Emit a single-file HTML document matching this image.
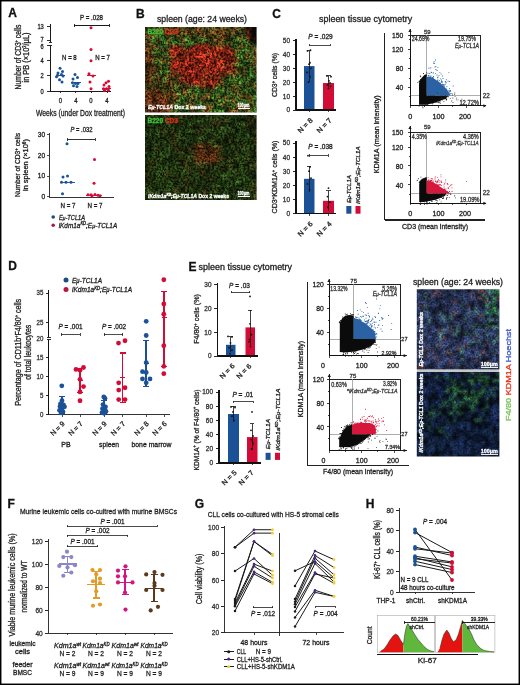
<!DOCTYPE html><html><head><meta charset="utf-8"><style>html,body{margin:0;padding:0;background:#fff;width:520px;height:685px;overflow:hidden}svg{display:block;will-change:transform;font-family:"Liberation Sans",sans-serif}.mg rect{width:4.2px;height:4.2px}</style></head><body><svg width="520" height="685" viewBox="0 0 520 685" font-family="'Liberation Sans', sans-serif"><defs>
<filter id="mblur" x="-5%" y="-5%" width="110%" height="110%" color-interpolation-filters="sRGB"><feGaussianBlur in="SourceGraphic" stdDeviation="1.2" result="b"/><feTurbulence type="fractalNoise" baseFrequency="0.48" numOctaves="2" seed="3" result="n"/><feColorMatrix in="n" type="matrix" values="3 0 0 0 -1  3 0 0 0 -1  3 0 0 0 -1  0 0 0 0 1" result="m"/><feComposite in="b" in2="m" operator="arithmetic" k1="1" k2="0.4" k3="0" k4="0"/></filter>
<filter id="mblur2" x="-5%" y="-5%" width="110%" height="110%" color-interpolation-filters="sRGB"><feGaussianBlur in="SourceGraphic" stdDeviation="1.3" result="b"/><feTurbulence type="fractalNoise" baseFrequency="0.55" numOctaves="2" seed="8" result="n"/><feColorMatrix in="n" type="matrix" values="2.4 0 0 0 -0.7  2.4 0 0 0 -0.7  2.4 0 0 0 -0.7  0 0 0 0 1" result="m"/><feComposite in="b" in2="m" operator="arithmetic" k1="0.7" k2="0.62" k3="0" k4="0"/></filter>
<clipPath id="clipB1"><rect x="145" y="27" width="111.6" height="85.5"/></clipPath>
<clipPath id="clipB2"><rect x="145" y="115" width="111.6" height="85"/></clipPath>
<clipPath id="mclip1"><rect x="145" y="27" width="111.6" height="85.5"/></clipPath><clipPath id="mclip2"><rect x="145" y="115" width="111.6" height="85"/></clipPath><clipPath id="mclip3"><rect x="416.8" y="289.3" width="82.6" height="80.2"/></clipPath><clipPath id="mclip4"><rect x="416.8" y="371.8" width="82.6" height="84.7"/></clipPath></defs><rect width="520" height="685" fill="#fff"/><text x="12.50" y="17.32" font-size="12" fill="#111" text-anchor="middle" font-weight="bold" stroke="#111" stroke-width="0.3">A</text>
<line x1="50.10" y1="24.20" x2="50.10" y2="42.40" stroke="#1a1a1a" stroke-width="1.0"  shape-rendering="crispEdges"/>
<line x1="50.10" y1="45.20" x2="50.10" y2="91.10" stroke="#1a1a1a" stroke-width="1.0"  shape-rendering="crispEdges"/>
<line x1="48.50" y1="42.40" x2="51.60" y2="42.40" stroke="#1a1a1a" stroke-width="0.9"  shape-rendering="crispEdges"/>
<line x1="48.50" y1="45.30" x2="51.60" y2="45.30" stroke="#1a1a1a" stroke-width="0.9"  shape-rendering="crispEdges"/>
<line x1="47.10" y1="26.50" x2="50.10" y2="26.50" stroke="#1a1a1a" stroke-width="0.9"  shape-rendering="crispEdges"/>
<text x="43.80" y="29.02" font-size="7" fill="#1e1e1e" text-anchor="end" textLength="6.38" lengthAdjust="spacingAndGlyphs" stroke="#1e1e1e" stroke-width="0.3">13</text>
<line x1="47.10" y1="40.30" x2="50.10" y2="40.30" stroke="#1a1a1a" stroke-width="0.9"  shape-rendering="crispEdges"/>
<text x="43.80" y="42.02" font-size="7" fill="#1e1e1e" text-anchor="end" textLength="3.19" lengthAdjust="spacingAndGlyphs" stroke="#1e1e1e" stroke-width="0.3">7</text>
<line x1="47.10" y1="45.60" x2="50.10" y2="45.60" stroke="#1a1a1a" stroke-width="0.9"  shape-rendering="crispEdges"/>
<text x="43.80" y="48.92" font-size="7" fill="#1e1e1e" text-anchor="end" textLength="3.19" lengthAdjust="spacingAndGlyphs" stroke="#1e1e1e" stroke-width="0.3">6</text>
<line x1="47.10" y1="60.77" x2="50.10" y2="60.77" stroke="#1a1a1a" stroke-width="0.9"  shape-rendering="crispEdges"/>
<text x="43.80" y="63.29" font-size="7" fill="#1e1e1e" text-anchor="end" textLength="3.19" lengthAdjust="spacingAndGlyphs" stroke="#1e1e1e" stroke-width="0.3">4</text>
<line x1="47.10" y1="75.93" x2="50.10" y2="75.93" stroke="#1a1a1a" stroke-width="0.9"  shape-rendering="crispEdges"/>
<text x="43.80" y="78.45" font-size="7" fill="#1e1e1e" text-anchor="end" textLength="3.19" lengthAdjust="spacingAndGlyphs" stroke="#1e1e1e" stroke-width="0.3">2</text>
<line x1="47.10" y1="91.10" x2="50.10" y2="91.10" stroke="#1a1a1a" stroke-width="0.9"  shape-rendering="crispEdges"/>
<text x="43.80" y="93.62" font-size="7" fill="#1e1e1e" text-anchor="end" textLength="3.19" lengthAdjust="spacingAndGlyphs" stroke="#1e1e1e" stroke-width="0.3">0</text>
<line x1="50.10" y1="91.10" x2="111.30" y2="91.10" stroke="#1a1a1a" stroke-width="1.0"  shape-rendering="crispEdges"/>
<line x1="60.30" y1="91.10" x2="60.30" y2="93.30" stroke="#1a1a1a" stroke-width="0.9"  shape-rendering="crispEdges"/>
<text x="60.30" y="103.12" font-size="7" fill="#1e1e1e" text-anchor="middle" textLength="3.31" lengthAdjust="spacingAndGlyphs" stroke="#1e1e1e" stroke-width="0.3">0</text>
<line x1="75.80" y1="91.10" x2="75.80" y2="93.30" stroke="#1a1a1a" stroke-width="0.9"  shape-rendering="crispEdges"/>
<text x="75.80" y="103.12" font-size="7" fill="#1e1e1e" text-anchor="middle" textLength="3.31" lengthAdjust="spacingAndGlyphs" stroke="#1e1e1e" stroke-width="0.3">4</text>
<line x1="91.00" y1="91.10" x2="91.00" y2="93.30" stroke="#1a1a1a" stroke-width="0.9"  shape-rendering="crispEdges"/>
<text x="91.00" y="103.12" font-size="7" fill="#1e1e1e" text-anchor="middle" textLength="3.31" lengthAdjust="spacingAndGlyphs" stroke="#1e1e1e" stroke-width="0.3">0</text>
<line x1="107.00" y1="91.10" x2="107.00" y2="93.30" stroke="#1a1a1a" stroke-width="0.9"  shape-rendering="crispEdges"/>
<text x="107.00" y="103.12" font-size="7" fill="#1e1e1e" text-anchor="middle" textLength="3.31" lengthAdjust="spacingAndGlyphs" stroke="#1e1e1e" stroke-width="0.3">4</text>
<text x="80.50" y="116.14" font-size="9" fill="#1e1e1e" text-anchor="middle" textLength="89" lengthAdjust="spacingAndGlyphs" stroke="#1e1e1e" stroke-width="0.3">Weeks (under Dox treatment)</text>
<text x="20.56" y="57.00" transform="rotate(-90 20.56 57.00)" font-size="8.5" fill="#1e1e1e" text-anchor="middle" textLength="65" lengthAdjust="spacingAndGlyphs" stroke="#1e1e1e" stroke-width="0.3">Number of CD3<tspan font-size="4.5" dy="-2.5">+</tspan><tspan dy="2.5"> cells</tspan></text>
<text x="28.56" y="57.50" transform="rotate(-90 28.56 57.50)" font-size="8.5" fill="#1e1e1e" text-anchor="middle" textLength="50" lengthAdjust="spacingAndGlyphs" stroke="#1e1e1e" stroke-width="0.3">in PB (×10<tspan font-size="4.5" dy="-2.5">3</tspan><tspan dy="2.5">/µL)</tspan></text>
<text x="91.50" y="19.65" font-size="6.8" fill="#1e1e1e" text-anchor="middle" textLength="23" lengthAdjust="spacingAndGlyphs" stroke="#1e1e1e" stroke-width="0.3">P = .028</text>
<line x1="74.10" y1="25.40" x2="109.20" y2="25.40" stroke="#1a1a1a" stroke-width="1.0"  shape-rendering="crispEdges"/>
<line x1="74.10" y1="23.80" x2="74.10" y2="27.00" stroke="#1a1a1a" stroke-width="0.9"  shape-rendering="crispEdges"/>
<line x1="109.20" y1="23.80" x2="109.20" y2="27.00" stroke="#1a1a1a" stroke-width="0.9"  shape-rendering="crispEdges"/>
<text x="69.40" y="60.05" font-size="6.8" fill="#1e1e1e" text-anchor="middle" textLength="14.7" lengthAdjust="spacingAndGlyphs" stroke="#1e1e1e" stroke-width="0.3">N = 8</text>
<text x="102.50" y="60.05" font-size="6.8" fill="#1e1e1e" text-anchor="middle" textLength="14.7" lengthAdjust="spacingAndGlyphs" stroke="#1e1e1e" stroke-width="0.3">N = 7</text>
<circle cx="57.50" cy="75.17" r="1.5" fill="#1b5297" />
<circle cx="60.00" cy="68.35" r="1.5" fill="#1b5297" />
<circle cx="62.50" cy="71.38" r="1.5" fill="#1b5297" />
<circle cx="58.00" cy="72.90" r="1.5" fill="#1b5297" />
<circle cx="61.50" cy="74.42" r="1.5" fill="#1b5297" />
<circle cx="56.50" cy="76.69" r="1.5" fill="#1b5297" />
<circle cx="63.00" cy="75.93" r="1.5" fill="#1b5297" />
<circle cx="59.50" cy="79.72" r="1.5" fill="#1b5297" />
<circle cx="62.00" cy="82.00" r="1.5" fill="#1b5297" />
<circle cx="73.00" cy="78.97" r="1.5" fill="#1b5297" />
<circle cx="75.00" cy="74.42" r="1.5" fill="#1b5297" />
<circle cx="77.50" cy="77.45" r="1.5" fill="#1b5297" />
<circle cx="72.50" cy="82.76" r="1.5" fill="#1b5297" />
<circle cx="75.50" cy="83.52" r="1.5" fill="#1b5297" />
<circle cx="78.00" cy="83.52" r="1.5" fill="#1b5297" />
<circle cx="73.50" cy="85.79" r="1.5" fill="#1b5297" />
<circle cx="77.00" cy="86.55" r="1.5" fill="#1b5297" />
<circle cx="91.00" cy="27.65" r="1.5" fill="#d20c36" />
<circle cx="91.00" cy="49.39" r="1.5" fill="#d20c36" />
<circle cx="91.00" cy="60.77" r="1.5" fill="#d20c36" />
<circle cx="89.00" cy="73.66" r="1.5" fill="#d20c36" />
<circle cx="93.00" cy="75.93" r="1.5" fill="#d20c36" />
<circle cx="90.00" cy="82.00" r="1.5" fill="#d20c36" />
<circle cx="91.00" cy="88.82" r="1.5" fill="#d20c36" />
<circle cx="108.50" cy="81.24" r="1.5" fill="#d20c36" />
<circle cx="106.00" cy="82.76" r="1.5" fill="#d20c36" />
<circle cx="104.00" cy="85.03" r="1.5" fill="#d20c36" />
<circle cx="109.00" cy="86.55" r="1.5" fill="#d20c36" />
<circle cx="103.50" cy="88.82" r="1.5" fill="#d20c36" />
<circle cx="106.50" cy="88.82" r="1.5" fill="#d20c36" />
<circle cx="104.50" cy="90.34" r="1.5" fill="#d20c36" />
<circle cx="108.50" cy="90.34" r="1.5" fill="#d20c36" />
<line x1="55.50" y1="75.55" x2="65.00" y2="75.55" stroke="#1b5297" stroke-width="1.0"  shape-rendering="crispEdges"/>
<line x1="70.50" y1="82.76" x2="80.50" y2="82.76" stroke="#1b5297" stroke-width="1.0"  shape-rendering="crispEdges"/>
<line x1="87.00" y1="75.55" x2="96.30" y2="75.55" stroke="#d20c36" stroke-width="1.0"  shape-rendering="crispEdges"/>
<line x1="102.00" y1="88.45" x2="111.00" y2="88.45" stroke="#d20c36" stroke-width="1.0"  shape-rendering="crispEdges"/>
<line x1="49.10" y1="132.50" x2="49.10" y2="197.00" stroke="#1e1e1e" stroke-width="0.9"  shape-rendering="crispEdges"/>
<line x1="47.10" y1="134.50" x2="49.10" y2="134.50" stroke="#1e1e1e" stroke-width="0.8"  shape-rendering="crispEdges"/>
<text x="45.10" y="136.84" font-size="6.5" fill="#1e1e1e" text-anchor="end" stroke="#1e1e1e" stroke-width="0.3">30</text>
<line x1="47.10" y1="155.27" x2="49.10" y2="155.27" stroke="#1e1e1e" stroke-width="0.8"  shape-rendering="crispEdges"/>
<text x="45.10" y="157.61" font-size="6.5" fill="#1e1e1e" text-anchor="end" stroke="#1e1e1e" stroke-width="0.3">20</text>
<line x1="47.10" y1="176.03" x2="49.10" y2="176.03" stroke="#1e1e1e" stroke-width="0.8"  shape-rendering="crispEdges"/>
<text x="45.10" y="178.37" font-size="6.5" fill="#1e1e1e" text-anchor="end" stroke="#1e1e1e" stroke-width="0.3">10</text>
<line x1="47.10" y1="196.80" x2="49.10" y2="196.80" stroke="#1e1e1e" stroke-width="0.8"  shape-rendering="crispEdges"/>
<text x="45.10" y="199.14" font-size="6.5" fill="#1e1e1e" text-anchor="end" stroke="#1e1e1e" stroke-width="0.3">0</text>
<line x1="49.10" y1="197.00" x2="114.00" y2="197.00" stroke="#1e1e1e" stroke-width="0.9"  shape-rendering="crispEdges"/>
<text x="81.50" y="131.84" font-size="6.5" fill="#1e1e1e" text-anchor="middle" textLength="22" lengthAdjust="spacingAndGlyphs" stroke="#1e1e1e" stroke-width="0.3"><tspan font-style="italic">P</tspan> = .032</text>
<line x1="67.00" y1="139.50" x2="95.00" y2="139.50" stroke="#1e1e1e" stroke-width="0.9"  shape-rendering="crispEdges"/>
<line x1="67.00" y1="138.00" x2="67.00" y2="141.00" stroke="#1e1e1e" stroke-width="0.8"  shape-rendering="crispEdges"/>
<line x1="95.00" y1="138.00" x2="95.00" y2="141.00" stroke="#1e1e1e" stroke-width="0.8"  shape-rendering="crispEdges"/>
<text x="68.00" y="208.34" font-size="6.5" fill="#1e1e1e" text-anchor="middle" textLength="15" lengthAdjust="spacingAndGlyphs" stroke="#1e1e1e" stroke-width="0.3">N = 7</text>
<text x="95.00" y="208.34" font-size="6.5" fill="#1e1e1e" text-anchor="middle" textLength="15" lengthAdjust="spacingAndGlyphs" stroke="#1e1e1e" stroke-width="0.3">N = 7</text>
<text x="20.02" y="165.00" transform="rotate(-90 20.02 165.00)" font-size="7" fill="#1e1e1e" text-anchor="middle" textLength="64" lengthAdjust="spacingAndGlyphs" stroke="#1e1e1e" stroke-width="0.3">Number of CD3<tspan font-size="4.5" dy="-2.5">+</tspan><tspan dy="2.5"> cells</tspan></text>
<text x="28.02" y="165.00" transform="rotate(-90 28.02 165.00)" font-size="7" fill="#1e1e1e" text-anchor="middle" textLength="52" lengthAdjust="spacingAndGlyphs" stroke="#1e1e1e" stroke-width="0.3">in spleen (×10<tspan font-size="4.5" dy="-2.5">6</tspan><tspan dy="2.5">)</tspan></text>
<circle cx="67.00" cy="143.84" r="1.5" fill="#1b5297" />
<circle cx="63.00" cy="177.07" r="1.5" fill="#1b5297" />
<circle cx="67.50" cy="176.03" r="1.5" fill="#1b5297" />
<circle cx="61.50" cy="182.26" r="1.5" fill="#1b5297" />
<circle cx="66.00" cy="182.26" r="1.5" fill="#1b5297" />
<circle cx="71.00" cy="182.26" r="1.5" fill="#1b5297" />
<circle cx="62.50" cy="193.69" r="1.5" fill="#1b5297" />
<circle cx="94.50" cy="159.42" r="1.5" fill="#d20c36" />
<circle cx="94.00" cy="183.30" r="1.5" fill="#d20c36" />
<circle cx="88.00" cy="194.72" r="1.5" fill="#d20c36" />
<circle cx="91.00" cy="194.72" r="1.5" fill="#d20c36" />
<circle cx="95.00" cy="194.52" r="1.5" fill="#d20c36" />
<circle cx="98.00" cy="195.14" r="1.5" fill="#d20c36" />
<circle cx="100.00" cy="195.76" r="1.5" fill="#d20c36" />
<circle cx="92.00" cy="195.97" r="1.5" fill="#d20c36" />
<line x1="59.50" y1="182.26" x2="75.00" y2="182.26" stroke="#1b5297" stroke-width="0.9"  shape-rendering="crispEdges"/>
<line x1="86.00" y1="195.14" x2="102.00" y2="195.14" stroke="#d20c36" stroke-width="0.9"  shape-rendering="crispEdges"/>
<circle cx="53.20" cy="217.00" r="1.8" fill="#1a4d80" />
<text x="59.00" y="219.52" font-size="7" fill="#1e1e1e" text-anchor="start" font-style="italic" textLength="26" lengthAdjust="spacingAndGlyphs" stroke="#1e1e1e" stroke-width="0.3">E<tspan font-size="6">μ</tspan>-TCL1A</text>
<circle cx="53.20" cy="225.20" r="1.8" fill="#b01840" />
<text x="58.70" y="227.72" font-size="7" fill="#1e1e1e" text-anchor="start" font-style="italic" textLength="58.5" lengthAdjust="spacingAndGlyphs" stroke="#1e1e1e" stroke-width="0.3">iKdm1a<tspan font-size="4.5" dy="-2.4">KD</tspan><tspan dy="2.4">;E</tspan><tspan font-size="6">μ</tspan>-TCL1A</text>
<text x="140.40" y="17.72" font-size="12" fill="#111" text-anchor="middle" font-weight="bold" stroke="#111" stroke-width="0.3">B</text>
<text x="202.00" y="22.24" font-size="9" fill="#1e1e1e" text-anchor="middle" textLength="90" lengthAdjust="spacingAndGlyphs" stroke="#1e1e1e" stroke-width="0.3">spleen (age: 24 weeks)</text>
<g clip-path="url(#mclip1)"><g filter="url(#mblur)" class="mg"><rect x="141.4" y="23.4" width="4.2" height="4.2" fill="#274817"/><rect x="145.0" y="23.4" width="4.2" height="4.2" fill="#33591d"/><rect x="148.6" y="23.4" width="4.2" height="4.2" fill="#764f1f"/><rect x="152.2" y="23.4" width="4.2" height="4.2" fill="#111f0a"/><rect x="155.8" y="23.4" width="4.2" height="4.2" fill="#4a3314"/><rect x="159.4" y="23.4" width="4.2" height="4.2" fill="#4f9330"/><rect x="163.0" y="23.4" width="4.2" height="4.2" fill="#4a882c"/><rect x="166.6" y="23.4" width="4.2" height="4.2" fill="#714e1f"/><rect x="170.2" y="23.4" width="4.2" height="4.2" fill="#223d14"/><rect x="173.8" y="23.4" width="4.2" height="4.2" fill="#3e6a23"/><rect x="177.4" y="23.4" width="4.2" height="4.2" fill="#7d5321"/><rect x="181.0" y="23.4" width="4.2" height="4.2" fill="#4d7427"/><rect x="184.6" y="23.4" width="4.2" height="4.2" fill="#4c3113"/><rect x="188.2" y="23.4" width="4.2" height="4.2" fill="#577728"/><rect x="191.8" y="23.4" width="4.2" height="4.2" fill="#324116"/><rect x="195.4" y="23.4" width="4.2" height="4.2" fill="#333f16"/><rect x="199.0" y="23.4" width="4.2" height="4.2" fill="#252d0f"/><rect x="202.6" y="23.4" width="4.2" height="4.2" fill="#242b0f"/><rect x="206.2" y="23.4" width="4.2" height="4.2" fill="#8d5423"/><rect x="209.8" y="23.4" width="4.2" height="4.2" fill="#4b2d12"/><rect x="213.4" y="23.4" width="4.2" height="4.2" fill="#63882e"/><rect x="217.0" y="23.4" width="4.2" height="4.2" fill="#6f471c"/><rect x="220.6" y="23.4" width="4.2" height="4.2" fill="#3f5b1f"/><rect x="224.2" y="23.4" width="4.2" height="4.2" fill="#364d1a"/><rect x="227.8" y="23.4" width="4.2" height="4.2" fill="#263712"/><rect x="231.4" y="23.4" width="4.2" height="4.2" fill="#2a4015"/><rect x="235.0" y="23.4" width="4.2" height="4.2" fill="#304c19"/><rect x="238.6" y="23.4" width="4.2" height="4.2" fill="#784f20"/><rect x="242.2" y="23.4" width="4.2" height="4.2" fill="#111c0a"/><rect x="245.8" y="23.4" width="4.2" height="4.2" fill="#0b0b05"/><rect x="249.4" y="23.4" width="4.2" height="4.2" fill="#642914"/><rect x="253.0" y="23.4" width="4.2" height="4.2" fill="#0b0b05"/><rect x="256.6" y="23.4" width="4.2" height="4.2" fill="#3b180b"/><rect x="141.4" y="27.0" width="4.2" height="4.2" fill="#294c18"/><rect x="145.0" y="27.0" width="4.2" height="4.2" fill="#131d09"/><rect x="148.6" y="27.0" width="4.2" height="4.2" fill="#5b3b17"/><rect x="152.2" y="27.0" width="4.2" height="4.2" fill="#31581d"/><rect x="155.8" y="27.0" width="4.2" height="4.2" fill="#8f6126"/><rect x="159.4" y="27.0" width="4.2" height="4.2" fill="#714c1e"/><rect x="163.0" y="27.0" width="4.2" height="4.2" fill="#825622"/><rect x="166.6" y="27.0" width="4.2" height="4.2" fill="#324b19"/><rect x="170.2" y="27.0" width="4.2" height="4.2" fill="#273512"/><rect x="173.8" y="27.0" width="4.2" height="4.2" fill="#553415"/><rect x="177.4" y="27.0" width="4.2" height="4.2" fill="#73441c"/><rect x="181.0" y="27.0" width="4.2" height="4.2" fill="#373c15"/><rect x="184.6" y="27.0" width="4.2" height="4.2" fill="#76421c"/><rect x="188.2" y="27.0" width="4.2" height="4.2" fill="#141407"/><rect x="191.8" y="27.0" width="4.2" height="4.2" fill="#27250d"/><rect x="195.4" y="27.0" width="4.2" height="4.2" fill="#a15825"/><rect x="199.0" y="27.0" width="4.2" height="4.2" fill="#504c1b"/><rect x="202.6" y="27.0" width="4.2" height="4.2" fill="#5d5820"/><rect x="206.2" y="27.0" width="4.2" height="4.2" fill="#56521e"/><rect x="209.8" y="27.0" width="4.2" height="4.2" fill="#7a742a"/><rect x="213.4" y="27.0" width="4.2" height="4.2" fill="#4f4c1c"/><rect x="217.0" y="27.0" width="4.2" height="4.2" fill="#542e13"/><rect x="220.6" y="27.0" width="4.2" height="4.2" fill="#73742a"/><rect x="224.2" y="27.0" width="4.2" height="4.2" fill="#6d3d1a"/><rect x="227.8" y="27.0" width="4.2" height="4.2" fill="#414519"/><rect x="231.4" y="27.0" width="4.2" height="4.2" fill="#292f10"/><rect x="235.0" y="27.0" width="4.2" height="4.2" fill="#814d20"/><rect x="238.6" y="27.0" width="4.2" height="4.2" fill="#516c25"/><rect x="242.2" y="27.0" width="4.2" height="4.2" fill="#6b3618"/><rect x="245.8" y="27.0" width="4.2" height="4.2" fill="#090904"/><rect x="249.4" y="27.0" width="4.2" height="4.2" fill="#2c1208"/><rect x="253.0" y="27.0" width="4.2" height="4.2" fill="#050502"/><rect x="256.6" y="27.0" width="4.2" height="4.2" fill="#060603"/><rect x="141.4" y="30.6" width="4.2" height="4.2" fill="#6f4c1e"/><rect x="145.0" y="30.6" width="4.2" height="4.2" fill="#553515"/><rect x="148.6" y="30.6" width="4.2" height="4.2" fill="#364b19"/><rect x="152.2" y="30.6" width="4.2" height="4.2" fill="#573c17"/><rect x="155.8" y="30.6" width="4.2" height="4.2" fill="#855b24"/><rect x="159.4" y="30.6" width="4.2" height="4.2" fill="#416d24"/><rect x="163.0" y="30.6" width="4.2" height="4.2" fill="#5a3b18"/><rect x="166.6" y="30.6" width="4.2" height="4.2" fill="#905b25"/><rect x="170.2" y="30.6" width="4.2" height="4.2" fill="#354417"/><rect x="173.8" y="30.6" width="4.2" height="4.2" fill="#7f4b1f"/><rect x="177.4" y="30.6" width="4.2" height="4.2" fill="#553114"/><rect x="181.0" y="30.6" width="4.2" height="4.2" fill="#6a7228"/><rect x="184.6" y="30.6" width="4.2" height="4.2" fill="#935322"/><rect x="188.2" y="30.6" width="4.2" height="4.2" fill="#3e3d16"/><rect x="191.8" y="30.6" width="4.2" height="4.2" fill="#746f28"/><rect x="195.4" y="30.6" width="4.2" height="4.2" fill="#562f14"/><rect x="199.0" y="30.6" width="4.2" height="4.2" fill="#753f1b"/><rect x="202.6" y="30.6" width="4.2" height="4.2" fill="#3c3914"/><rect x="206.2" y="30.6" width="4.2" height="4.2" fill="#4f2b12"/><rect x="209.8" y="30.6" width="4.2" height="4.2" fill="#6f6926"/><rect x="213.4" y="30.6" width="4.2" height="4.2" fill="#975223"/><rect x="217.0" y="30.6" width="4.2" height="4.2" fill="#4d2a12"/><rect x="220.6" y="30.6" width="4.2" height="4.2" fill="#8c4c20"/><rect x="224.2" y="30.6" width="4.2" height="4.2" fill="#3f3f17"/><rect x="227.8" y="30.6" width="4.2" height="4.2" fill="#424619"/><rect x="231.4" y="30.6" width="4.2" height="4.2" fill="#9d5b26"/><rect x="235.0" y="30.6" width="4.2" height="4.2" fill="#171c0a"/><rect x="238.6" y="30.6" width="4.2" height="4.2" fill="#364a19"/><rect x="242.2" y="30.6" width="4.2" height="4.2" fill="#17210b"/><rect x="245.8" y="30.6" width="4.2" height="4.2" fill="#722f16"/><rect x="249.4" y="30.6" width="4.2" height="4.2" fill="#060603"/><rect x="253.0" y="30.6" width="4.2" height="4.2" fill="#0a0a05"/><rect x="256.6" y="30.6" width="4.2" height="4.2" fill="#411a0c"/><rect x="141.4" y="34.2" width="4.2" height="4.2" fill="#573b17"/><rect x="145.0" y="34.2" width="4.2" height="4.2" fill="#76451c"/><rect x="148.6" y="34.2" width="4.2" height="4.2" fill="#875121"/><rect x="152.2" y="34.2" width="4.2" height="4.2" fill="#508f2f"/><rect x="155.8" y="34.2" width="4.2" height="4.2" fill="#2a4e19"/><rect x="159.4" y="34.2" width="4.2" height="4.2" fill="#4a892d"/><rect x="163.0" y="34.2" width="4.2" height="4.2" fill="#1f3812"/><rect x="166.6" y="34.2" width="4.2" height="4.2" fill="#473013"/><rect x="170.2" y="34.2" width="4.2" height="4.2" fill="#466f25"/><rect x="173.8" y="34.2" width="4.2" height="4.2" fill="#223210"/><rect x="177.4" y="34.2" width="4.2" height="4.2" fill="#7b4e1f"/><rect x="181.0" y="34.2" width="4.2" height="4.2" fill="#1c290e"/><rect x="184.6" y="34.2" width="4.2" height="4.2" fill="#425e20"/><rect x="188.2" y="34.2" width="4.2" height="4.2" fill="#5a3816"/><rect x="191.8" y="34.2" width="4.2" height="4.2" fill="#2a3612"/><rect x="195.4" y="34.2" width="4.2" height="4.2" fill="#364317"/><rect x="199.0" y="34.2" width="4.2" height="4.2" fill="#3d4a1a"/><rect x="202.6" y="34.2" width="4.2" height="4.2" fill="#995a25"/><rect x="206.2" y="34.2" width="4.2" height="4.2" fill="#313914"/><rect x="209.8" y="34.2" width="4.2" height="4.2" fill="#3c230e"/><rect x="213.4" y="34.2" width="4.2" height="4.2" fill="#3e4719"/><rect x="217.0" y="34.2" width="4.2" height="4.2" fill="#4d591f"/><rect x="220.6" y="34.2" width="4.2" height="4.2" fill="#834e20"/><rect x="224.2" y="34.2" width="4.2" height="4.2" fill="#37220e"/><rect x="227.8" y="34.2" width="4.2" height="4.2" fill="#492e12"/><rect x="231.4" y="34.2" width="4.2" height="4.2" fill="#36511b"/><rect x="235.0" y="34.2" width="4.2" height="4.2" fill="#274015"/><rect x="238.6" y="34.2" width="4.2" height="4.2" fill="#563a17"/><rect x="242.2" y="34.2" width="4.2" height="4.2" fill="#30541c"/><rect x="245.8" y="34.2" width="4.2" height="4.2" fill="#5f2b14"/><rect x="249.4" y="34.2" width="4.2" height="4.2" fill="#3e190c"/><rect x="253.0" y="34.2" width="4.2" height="4.2" fill="#050502"/><rect x="256.6" y="34.2" width="4.2" height="4.2" fill="#0a0a05"/><rect x="141.4" y="37.8" width="4.2" height="4.2" fill="#472e12"/><rect x="145.0" y="37.8" width="4.2" height="4.2" fill="#484619"/><rect x="148.6" y="37.8" width="4.2" height="4.2" fill="#636624"/><rect x="152.2" y="37.8" width="4.2" height="4.2" fill="#4d812a"/><rect x="155.8" y="37.8" width="4.2" height="4.2" fill="#593e18"/><rect x="159.4" y="37.8" width="4.2" height="4.2" fill="#34601f"/><rect x="163.0" y="37.8" width="4.2" height="4.2" fill="#325e1e"/><rect x="166.6" y="37.8" width="4.2" height="4.2" fill="#5f421a"/><rect x="170.2" y="37.8" width="4.2" height="4.2" fill="#396a22"/><rect x="173.8" y="37.8" width="4.2" height="4.2" fill="#223f14"/><rect x="177.4" y="37.8" width="4.2" height="4.2" fill="#1e3812"/><rect x="181.0" y="37.8" width="4.2" height="4.2" fill="#966929"/><rect x="184.6" y="37.8" width="4.2" height="4.2" fill="#529731"/><rect x="188.2" y="37.8" width="4.2" height="4.2" fill="#2e551c"/><rect x="191.8" y="37.8" width="4.2" height="4.2" fill="#16290d"/><rect x="195.4" y="37.8" width="4.2" height="4.2" fill="#274717"/><rect x="199.0" y="37.8" width="4.2" height="4.2" fill="#4e8c2e"/><rect x="202.6" y="37.8" width="4.2" height="4.2" fill="#4a842b"/><rect x="206.2" y="37.8" width="4.2" height="4.2" fill="#254215"/><rect x="209.8" y="37.8" width="4.2" height="4.2" fill="#33220d"/><rect x="213.4" y="37.8" width="4.2" height="4.2" fill="#865c24"/><rect x="217.0" y="37.8" width="4.2" height="4.2" fill="#473113"/><rect x="220.6" y="37.8" width="4.2" height="4.2" fill="#8f6227"/><rect x="224.2" y="37.8" width="4.2" height="4.2" fill="#11200a"/><rect x="227.8" y="37.8" width="4.2" height="4.2" fill="#15280d"/><rect x="231.4" y="37.8" width="4.2" height="4.2" fill="#254416"/><rect x="235.0" y="37.8" width="4.2" height="4.2" fill="#519731"/><rect x="238.6" y="37.8" width="4.2" height="4.2" fill="#865d25"/><rect x="242.2" y="37.8" width="4.2" height="4.2" fill="#4a8a2d"/><rect x="245.8" y="37.8" width="4.2" height="4.2" fill="#77441c"/><rect x="249.4" y="37.8" width="4.2" height="4.2" fill="#060603"/><rect x="253.0" y="37.8" width="4.2" height="4.2" fill="#311409"/><rect x="256.6" y="37.8" width="4.2" height="4.2" fill="#050502"/><rect x="141.4" y="41.4" width="4.2" height="4.2" fill="#573515"/><rect x="145.0" y="41.4" width="4.2" height="4.2" fill="#443715"/><rect x="148.6" y="41.4" width="4.2" height="4.2" fill="#6a5d22"/><rect x="152.2" y="41.4" width="4.2" height="4.2" fill="#36531c"/><rect x="155.8" y="41.4" width="4.2" height="4.2" fill="#2e551c"/><rect x="159.4" y="41.4" width="4.2" height="4.2" fill="#1e3712"/><rect x="163.0" y="41.4" width="4.2" height="4.2" fill="#4f9230"/><rect x="166.6" y="41.4" width="4.2" height="4.2" fill="#795421"/><rect x="170.2" y="41.4" width="4.2" height="4.2" fill="#437c28"/><rect x="173.8" y="41.4" width="4.2" height="4.2" fill="#447d29"/><rect x="177.4" y="41.4" width="4.2" height="4.2" fill="#3a6b23"/><rect x="181.0" y="41.4" width="4.2" height="4.2" fill="#946728"/><rect x="184.6" y="41.4" width="4.2" height="4.2" fill="#264717"/><rect x="188.2" y="41.4" width="4.2" height="4.2" fill="#559e33"/><rect x="191.8" y="41.4" width="4.2" height="4.2" fill="#3e6e24"/><rect x="195.4" y="41.4" width="4.2" height="4.2" fill="#543315"/><rect x="199.0" y="41.4" width="4.2" height="4.2" fill="#3c3c16"/><rect x="202.6" y="41.4" width="4.2" height="4.2" fill="#5f3115"/><rect x="206.2" y="41.4" width="4.2" height="4.2" fill="#3d3213"/><rect x="209.8" y="41.4" width="4.2" height="4.2" fill="#3c4518"/><rect x="213.4" y="41.4" width="4.2" height="4.2" fill="#1f3411"/><rect x="217.0" y="41.4" width="4.2" height="4.2" fill="#765220"/><rect x="220.6" y="41.4" width="4.2" height="4.2" fill="#533a17"/><rect x="224.2" y="41.4" width="4.2" height="4.2" fill="#456a24"/><rect x="227.8" y="41.4" width="4.2" height="4.2" fill="#4c3515"/><rect x="231.4" y="41.4" width="4.2" height="4.2" fill="#2c531b"/><rect x="235.0" y="41.4" width="4.2" height="4.2" fill="#12210b"/><rect x="238.6" y="41.4" width="4.2" height="4.2" fill="#396a22"/><rect x="242.2" y="41.4" width="4.2" height="4.2" fill="#203c13"/><rect x="245.8" y="41.4" width="4.2" height="4.2" fill="#4a892d"/><rect x="249.4" y="41.4" width="4.2" height="4.2" fill="#15230c"/><rect x="253.0" y="41.4" width="4.2" height="4.2" fill="#111809"/><rect x="256.6" y="41.4" width="4.2" height="4.2" fill="#0a0f05"/><rect x="141.4" y="45.0" width="4.2" height="4.2" fill="#75441c"/><rect x="145.0" y="45.0" width="4.2" height="4.2" fill="#4a3615"/><rect x="148.6" y="45.0" width="4.2" height="4.2" fill="#3c2f12"/><rect x="152.2" y="45.0" width="4.2" height="4.2" fill="#986027"/><rect x="155.8" y="45.0" width="4.2" height="4.2" fill="#4f3715"/><rect x="159.4" y="45.0" width="4.2" height="4.2" fill="#2b501a"/><rect x="163.0" y="45.0" width="4.2" height="4.2" fill="#2a4e19"/><rect x="166.6" y="45.0" width="4.2" height="4.2" fill="#182d0e"/><rect x="170.2" y="45.0" width="4.2" height="4.2" fill="#6f3418"/><rect x="173.8" y="45.0" width="4.2" height="4.2" fill="#bd331f"/><rect x="177.4" y="45.0" width="4.2" height="4.2" fill="#2f1109"/><rect x="181.0" y="45.0" width="4.2" height="4.2" fill="#4f3615"/><rect x="184.6" y="45.0" width="4.2" height="4.2" fill="#3d6d24"/><rect x="188.2" y="45.0" width="4.2" height="4.2" fill="#371d0c"/><rect x="191.8" y="45.0" width="4.2" height="4.2" fill="#8c2918"/><rect x="195.4" y="45.0" width="4.2" height="4.2" fill="#721e12"/><rect x="199.0" y="45.0" width="4.2" height="4.2" fill="#df3c24"/><rect x="202.6" y="45.0" width="4.2" height="4.2" fill="#a52c1b"/><rect x="206.2" y="45.0" width="4.2" height="4.2" fill="#7e2214"/><rect x="209.8" y="45.0" width="4.2" height="4.2" fill="#492611"/><rect x="213.4" y="45.0" width="4.2" height="4.2" fill="#bf4123"/><rect x="217.0" y="45.0" width="4.2" height="4.2" fill="#8f6328"/><rect x="220.6" y="45.0" width="4.2" height="4.2" fill="#875423"/><rect x="224.2" y="45.0" width="4.2" height="4.2" fill="#6e2514"/><rect x="227.8" y="45.0" width="4.2" height="4.2" fill="#4d2712"/><rect x="231.4" y="45.0" width="4.2" height="4.2" fill="#294c19"/><rect x="235.0" y="45.0" width="4.2" height="4.2" fill="#4e912f"/><rect x="238.6" y="45.0" width="4.2" height="4.2" fill="#66471c"/><rect x="242.2" y="45.0" width="4.2" height="4.2" fill="#60431a"/><rect x="245.8" y="45.0" width="4.2" height="4.2" fill="#417927"/><rect x="249.4" y="45.0" width="4.2" height="4.2" fill="#6f4a1d"/><rect x="253.0" y="45.0" width="4.2" height="4.2" fill="#366220"/><rect x="256.6" y="45.0" width="4.2" height="4.2" fill="#15270d"/><rect x="141.4" y="48.6" width="4.2" height="4.2" fill="#8a4d20"/><rect x="145.0" y="48.6" width="4.2" height="4.2" fill="#ac5325"/><rect x="148.6" y="48.6" width="4.2" height="4.2" fill="#523c17"/><rect x="152.2" y="48.6" width="4.2" height="4.2" fill="#516d25"/><rect x="155.8" y="48.6" width="4.2" height="4.2" fill="#46812a"/><rect x="159.4" y="48.6" width="4.2" height="4.2" fill="#5b3f19"/><rect x="163.0" y="48.6" width="4.2" height="4.2" fill="#203b13"/><rect x="166.6" y="48.6" width="4.2" height="4.2" fill="#7b6025"/><rect x="170.2" y="48.6" width="4.2" height="4.2" fill="#c63520"/><rect x="173.8" y="48.6" width="4.2" height="4.2" fill="#772013"/><rect x="177.4" y="48.6" width="4.2" height="4.2" fill="#c83621"/><rect x="181.0" y="48.6" width="4.2" height="4.2" fill="#743719"/><rect x="184.6" y="48.6" width="4.2" height="4.2" fill="#b0341e"/><rect x="188.2" y="48.6" width="4.2" height="4.2" fill="#792013"/><rect x="191.8" y="48.6" width="4.2" height="4.2" fill="#9e2a1a"/><rect x="195.4" y="48.6" width="4.2" height="4.2" fill="#49130c"/><rect x="199.0" y="48.6" width="4.2" height="4.2" fill="#661b10"/><rect x="202.6" y="48.6" width="4.2" height="4.2" fill="#641b10"/><rect x="206.2" y="48.6" width="4.2" height="4.2" fill="#c63520"/><rect x="209.8" y="48.6" width="4.2" height="4.2" fill="#6d1d12"/><rect x="213.4" y="48.6" width="4.2" height="4.2" fill="#882416"/><rect x="217.0" y="48.6" width="4.2" height="4.2" fill="#bc321e"/><rect x="220.6" y="48.6" width="4.2" height="4.2" fill="#9a2919"/><rect x="224.2" y="48.6" width="4.2" height="4.2" fill="#812315"/><rect x="227.8" y="48.6" width="4.2" height="4.2" fill="#9d2a19"/><rect x="231.4" y="48.6" width="4.2" height="4.2" fill="#4d2a12"/><rect x="235.0" y="48.6" width="4.2" height="4.2" fill="#7d5722"/><rect x="238.6" y="48.6" width="4.2" height="4.2" fill="#284b18"/><rect x="242.2" y="48.6" width="4.2" height="4.2" fill="#509430"/><rect x="245.8" y="48.6" width="4.2" height="4.2" fill="#386721"/><rect x="249.4" y="48.6" width="4.2" height="4.2" fill="#264617"/><rect x="253.0" y="48.6" width="4.2" height="4.2" fill="#825a23"/><rect x="256.6" y="48.6" width="4.2" height="4.2" fill="#509530"/><rect x="141.4" y="52.2" width="4.2" height="4.2" fill="#62551f"/><rect x="145.0" y="52.2" width="4.2" height="4.2" fill="#34250e"/><rect x="148.6" y="52.2" width="4.2" height="4.2" fill="#71501f"/><rect x="152.2" y="52.2" width="4.2" height="4.2" fill="#486021"/><rect x="155.8" y="52.2" width="4.2" height="4.2" fill="#294c19"/><rect x="159.4" y="52.2" width="4.2" height="4.2" fill="#213d14"/><rect x="163.0" y="52.2" width="4.2" height="4.2" fill="#3d7225"/><rect x="166.6" y="52.2" width="4.2" height="4.2" fill="#5e4e1f"/><rect x="170.2" y="52.2" width="4.2" height="4.2" fill="#dc3b24"/><rect x="173.8" y="52.2" width="4.2" height="4.2" fill="#b9321e"/><rect x="177.4" y="52.2" width="4.2" height="4.2" fill="#44120b"/><rect x="181.0" y="52.2" width="4.2" height="4.2" fill="#601a0f"/><rect x="184.6" y="52.2" width="4.2" height="4.2" fill="#753d1c"/><rect x="188.2" y="52.2" width="4.2" height="4.2" fill="#4a140c"/><rect x="191.8" y="52.2" width="4.2" height="4.2" fill="#b5311d"/><rect x="195.4" y="52.2" width="4.2" height="4.2" fill="#cd3721"/><rect x="199.0" y="52.2" width="4.2" height="4.2" fill="#d93a23"/><rect x="202.6" y="52.2" width="4.2" height="4.2" fill="#ba321e"/><rect x="206.2" y="52.2" width="4.2" height="4.2" fill="#964e24"/><rect x="209.8" y="52.2" width="4.2" height="4.2" fill="#d33922"/><rect x="213.4" y="52.2" width="4.2" height="4.2" fill="#c1341f"/><rect x="217.0" y="52.2" width="4.2" height="4.2" fill="#601a0f"/><rect x="220.6" y="52.2" width="4.2" height="4.2" fill="#4f150d"/><rect x="224.2" y="52.2" width="4.2" height="4.2" fill="#5f190f"/><rect x="227.8" y="52.2" width="4.2" height="4.2" fill="#ba321e"/><rect x="231.4" y="52.2" width="4.2" height="4.2" fill="#743418"/><rect x="235.0" y="52.2" width="4.2" height="4.2" fill="#2d541b"/><rect x="238.6" y="52.2" width="4.2" height="4.2" fill="#4c8d2e"/><rect x="242.2" y="52.2" width="4.2" height="4.2" fill="#16290d"/><rect x="245.8" y="52.2" width="4.2" height="4.2" fill="#7a5521"/><rect x="249.4" y="52.2" width="4.2" height="4.2" fill="#376621"/><rect x="253.0" y="52.2" width="4.2" height="4.2" fill="#765220"/><rect x="256.6" y="52.2" width="4.2" height="4.2" fill="#2e200c"/><rect x="141.4" y="55.8" width="4.2" height="4.2" fill="#974d21"/><rect x="145.0" y="55.8" width="4.2" height="4.2" fill="#753919"/><rect x="148.6" y="55.8" width="4.2" height="4.2" fill="#572a12"/><rect x="152.2" y="55.8" width="4.2" height="4.2" fill="#5b3817"/><rect x="155.8" y="55.8" width="4.2" height="4.2" fill="#35250e"/><rect x="159.4" y="55.8" width="4.2" height="4.2" fill="#284a18"/><rect x="163.0" y="55.8" width="4.2" height="4.2" fill="#37260f"/><rect x="166.6" y="55.8" width="4.2" height="4.2" fill="#3e5a1e"/><rect x="170.2" y="55.8" width="4.2" height="4.2" fill="#7f5122"/><rect x="173.8" y="55.8" width="4.2" height="4.2" fill="#772b16"/><rect x="177.4" y="55.8" width="4.2" height="4.2" fill="#381d0d"/><rect x="181.0" y="55.8" width="4.2" height="4.2" fill="#5e190f"/><rect x="184.6" y="55.8" width="4.2" height="4.2" fill="#902717"/><rect x="188.2" y="55.8" width="4.2" height="4.2" fill="#b2301d"/><rect x="191.8" y="55.8" width="4.2" height="4.2" fill="#59180e"/><rect x="195.4" y="55.8" width="4.2" height="4.2" fill="#b3301d"/><rect x="199.0" y="55.8" width="4.2" height="4.2" fill="#c83621"/><rect x="202.6" y="55.8" width="4.2" height="4.2" fill="#da3b24"/><rect x="206.2" y="55.8" width="4.2" height="4.2" fill="#741f13"/><rect x="209.8" y="55.8" width="4.2" height="4.2" fill="#bd331f"/><rect x="213.4" y="55.8" width="4.2" height="4.2" fill="#7c2114"/><rect x="217.0" y="55.8" width="4.2" height="4.2" fill="#884720"/><rect x="220.6" y="55.8" width="4.2" height="4.2" fill="#a82d1b"/><rect x="224.2" y="55.8" width="4.2" height="4.2" fill="#55170e"/><rect x="227.8" y="55.8" width="4.2" height="4.2" fill="#621a10"/><rect x="231.4" y="55.8" width="4.2" height="4.2" fill="#4d1a0e"/><rect x="235.0" y="55.8" width="4.2" height="4.2" fill="#916327"/><rect x="238.6" y="55.8" width="4.2" height="4.2" fill="#569f34"/><rect x="242.2" y="55.8" width="4.2" height="4.2" fill="#294c18"/><rect x="245.8" y="55.8" width="4.2" height="4.2" fill="#8f6427"/><rect x="249.4" y="55.8" width="4.2" height="4.2" fill="#2d531b"/><rect x="253.0" y="55.8" width="4.2" height="4.2" fill="#916528"/><rect x="256.6" y="55.8" width="4.2" height="4.2" fill="#182e0f"/><rect x="141.4" y="59.4" width="4.2" height="4.2" fill="#393112"/><rect x="145.0" y="59.4" width="4.2" height="4.2" fill="#533a17"/><rect x="148.6" y="59.4" width="4.2" height="4.2" fill="#a85124"/><rect x="152.2" y="59.4" width="4.2" height="4.2" fill="#546924"/><rect x="155.8" y="59.4" width="4.2" height="4.2" fill="#4a8a2d"/><rect x="159.4" y="59.4" width="4.2" height="4.2" fill="#936628"/><rect x="163.0" y="59.4" width="4.2" height="4.2" fill="#5e411a"/><rect x="166.6" y="59.4" width="4.2" height="4.2" fill="#666f28"/><rect x="170.2" y="59.4" width="4.2" height="4.2" fill="#5f2613"/><rect x="173.8" y="59.4" width="4.2" height="4.2" fill="#b12f1d"/><rect x="177.4" y="59.4" width="4.2" height="4.2" fill="#b02f1d"/><rect x="181.0" y="59.4" width="4.2" height="4.2" fill="#872416"/><rect x="184.6" y="59.4" width="4.2" height="4.2" fill="#b2301d"/><rect x="188.2" y="59.4" width="4.2" height="4.2" fill="#9a2919"/><rect x="191.8" y="59.4" width="4.2" height="4.2" fill="#a62d1b"/><rect x="195.4" y="59.4" width="4.2" height="4.2" fill="#3a0f09"/><rect x="199.0" y="59.4" width="4.2" height="4.2" fill="#611a10"/><rect x="202.6" y="59.4" width="4.2" height="4.2" fill="#d23822"/><rect x="206.2" y="59.4" width="4.2" height="4.2" fill="#d33922"/><rect x="209.8" y="59.4" width="4.2" height="4.2" fill="#741f13"/><rect x="213.4" y="59.4" width="4.2" height="4.2" fill="#51160d"/><rect x="217.0" y="59.4" width="4.2" height="4.2" fill="#d63923"/><rect x="220.6" y="59.4" width="4.2" height="4.2" fill="#a92d1b"/><rect x="224.2" y="59.4" width="4.2" height="4.2" fill="#5e190f"/><rect x="227.8" y="59.4" width="4.2" height="4.2" fill="#661b10"/><rect x="231.4" y="59.4" width="4.2" height="4.2" fill="#572111"/><rect x="235.0" y="59.4" width="4.2" height="4.2" fill="#774a1e"/><rect x="238.6" y="59.4" width="4.2" height="4.2" fill="#172b0e"/><rect x="242.2" y="59.4" width="4.2" height="4.2" fill="#284b18"/><rect x="245.8" y="59.4" width="4.2" height="4.2" fill="#335e1e"/><rect x="249.4" y="59.4" width="4.2" height="4.2" fill="#3b6e24"/><rect x="253.0" y="59.4" width="4.2" height="4.2" fill="#66471c"/><rect x="256.6" y="59.4" width="4.2" height="4.2" fill="#493214"/><rect x="141.4" y="63.0" width="4.2" height="4.2" fill="#945122"/><rect x="145.0" y="63.0" width="4.2" height="4.2" fill="#191207"/><rect x="148.6" y="63.0" width="4.2" height="4.2" fill="#221809"/><rect x="152.2" y="63.0" width="4.2" height="4.2" fill="#2a3211"/><rect x="155.8" y="63.0" width="4.2" height="4.2" fill="#172a0d"/><rect x="159.4" y="63.0" width="4.2" height="4.2" fill="#417827"/><rect x="163.0" y="63.0" width="4.2" height="4.2" fill="#294c18"/><rect x="166.6" y="63.0" width="4.2" height="4.2" fill="#46541e"/><rect x="170.2" y="63.0" width="4.2" height="4.2" fill="#9a2b19"/><rect x="173.8" y="63.0" width="4.2" height="4.2" fill="#c33420"/><rect x="177.4" y="63.0" width="4.2" height="4.2" fill="#ba321e"/><rect x="181.0" y="63.0" width="4.2" height="4.2" fill="#9e2a1a"/><rect x="184.6" y="63.0" width="4.2" height="4.2" fill="#b7311e"/><rect x="188.2" y="63.0" width="4.2" height="4.2" fill="#7c2114"/><rect x="191.8" y="63.0" width="4.2" height="4.2" fill="#59180e"/><rect x="195.4" y="63.0" width="4.2" height="4.2" fill="#b4301d"/><rect x="199.0" y="63.0" width="4.2" height="4.2" fill="#9a2919"/><rect x="202.6" y="63.0" width="4.2" height="4.2" fill="#6b1d11"/><rect x="206.2" y="63.0" width="4.2" height="4.2" fill="#e43d25"/><rect x="209.8" y="63.0" width="4.2" height="4.2" fill="#942818"/><rect x="213.4" y="63.0" width="4.2" height="4.2" fill="#691c11"/><rect x="217.0" y="63.0" width="4.2" height="4.2" fill="#c43520"/><rect x="220.6" y="63.0" width="4.2" height="4.2" fill="#964e24"/><rect x="224.2" y="63.0" width="4.2" height="4.2" fill="#793f1d"/><rect x="227.8" y="63.0" width="4.2" height="4.2" fill="#902717"/><rect x="231.4" y="63.0" width="4.2" height="4.2" fill="#9d5928"/><rect x="235.0" y="63.0" width="4.2" height="4.2" fill="#6b8930"/><rect x="238.6" y="63.0" width="4.2" height="4.2" fill="#447e29"/><rect x="242.2" y="63.0" width="4.2" height="4.2" fill="#2d531b"/><rect x="245.8" y="63.0" width="4.2" height="4.2" fill="#182c0e"/><rect x="249.4" y="63.0" width="4.2" height="4.2" fill="#493314"/><rect x="253.0" y="63.0" width="4.2" height="4.2" fill="#825a23"/><rect x="256.6" y="63.0" width="4.2" height="4.2" fill="#3f7426"/><rect x="141.4" y="66.6" width="4.2" height="4.2" fill="#2e3111"/><rect x="145.0" y="66.6" width="4.2" height="4.2" fill="#453113"/><rect x="148.6" y="66.6" width="4.2" height="4.2" fill="#493414"/><rect x="152.2" y="66.6" width="4.2" height="4.2" fill="#895021"/><rect x="155.8" y="66.6" width="4.2" height="4.2" fill="#3e2b11"/><rect x="159.4" y="66.6" width="4.2" height="4.2" fill="#5c4019"/><rect x="163.0" y="66.6" width="4.2" height="4.2" fill="#294c18"/><rect x="166.6" y="66.6" width="4.2" height="4.2" fill="#2d4617"/><rect x="170.2" y="66.6" width="4.2" height="4.2" fill="#7e2315"/><rect x="173.8" y="66.6" width="4.2" height="4.2" fill="#882416"/><rect x="177.4" y="66.6" width="4.2" height="4.2" fill="#7b2114"/><rect x="181.0" y="66.6" width="4.2" height="4.2" fill="#9b2a19"/><rect x="184.6" y="66.6" width="4.2" height="4.2" fill="#46130b"/><rect x="188.2" y="66.6" width="4.2" height="4.2" fill="#741f13"/><rect x="191.8" y="66.6" width="4.2" height="4.2" fill="#731f13"/><rect x="195.4" y="66.6" width="4.2" height="4.2" fill="#7a2114"/><rect x="199.0" y="66.6" width="4.2" height="4.2" fill="#b9321e"/><rect x="202.6" y="66.6" width="4.2" height="4.2" fill="#631a10"/><rect x="206.2" y="66.6" width="4.2" height="4.2" fill="#a32c1a"/><rect x="209.8" y="66.6" width="4.2" height="4.2" fill="#5b180f"/><rect x="213.4" y="66.6" width="4.2" height="4.2" fill="#ba321e"/><rect x="217.0" y="66.6" width="4.2" height="4.2" fill="#d03822"/><rect x="220.6" y="66.6" width="4.2" height="4.2" fill="#da3b23"/><rect x="224.2" y="66.6" width="4.2" height="4.2" fill="#671c11"/><rect x="227.8" y="66.6" width="4.2" height="4.2" fill="#872416"/><rect x="231.4" y="66.6" width="4.2" height="4.2" fill="#511b0e"/><rect x="235.0" y="66.6" width="4.2" height="4.2" fill="#422b11"/><rect x="238.6" y="66.6" width="4.2" height="4.2" fill="#15260c"/><rect x="242.2" y="66.6" width="4.2" height="4.2" fill="#573c18"/><rect x="245.8" y="66.6" width="4.2" height="4.2" fill="#1d3511"/><rect x="249.4" y="66.6" width="4.2" height="4.2" fill="#407727"/><rect x="253.0" y="66.6" width="4.2" height="4.2" fill="#2d531b"/><rect x="256.6" y="66.6" width="4.2" height="4.2" fill="#543b17"/><rect x="141.4" y="70.2" width="4.2" height="4.2" fill="#686d27"/><rect x="145.0" y="70.2" width="4.2" height="4.2" fill="#31230d"/><rect x="148.6" y="70.2" width="4.2" height="4.2" fill="#713718"/><rect x="152.2" y="70.2" width="4.2" height="4.2" fill="#4d2e13"/><rect x="155.8" y="70.2" width="4.2" height="4.2" fill="#234215"/><rect x="159.4" y="70.2" width="4.2" height="4.2" fill="#4d8e2e"/><rect x="163.0" y="70.2" width="4.2" height="4.2" fill="#264717"/><rect x="166.6" y="70.2" width="4.2" height="4.2" fill="#51912f"/><rect x="170.2" y="70.2" width="4.2" height="4.2" fill="#7e361a"/><rect x="173.8" y="70.2" width="4.2" height="4.2" fill="#711e12"/><rect x="177.4" y="70.2" width="4.2" height="4.2" fill="#8e4a22"/><rect x="181.0" y="70.2" width="4.2" height="4.2" fill="#9b2a19"/><rect x="184.6" y="70.2" width="4.2" height="4.2" fill="#7e2214"/><rect x="188.2" y="70.2" width="4.2" height="4.2" fill="#bf331f"/><rect x="191.8" y="70.2" width="4.2" height="4.2" fill="#df3c24"/><rect x="195.4" y="70.2" width="4.2" height="4.2" fill="#812215"/><rect x="199.0" y="70.2" width="4.2" height="4.2" fill="#4b140c"/><rect x="202.6" y="70.2" width="4.2" height="4.2" fill="#9b5125"/><rect x="206.2" y="70.2" width="4.2" height="4.2" fill="#ae2f1c"/><rect x="209.8" y="70.2" width="4.2" height="4.2" fill="#a32c1a"/><rect x="213.4" y="70.2" width="4.2" height="4.2" fill="#922718"/><rect x="217.0" y="70.2" width="4.2" height="4.2" fill="#864620"/><rect x="220.6" y="70.2" width="4.2" height="4.2" fill="#621a10"/><rect x="224.2" y="70.2" width="4.2" height="4.2" fill="#892516"/><rect x="227.8" y="70.2" width="4.2" height="4.2" fill="#9e5426"/><rect x="231.4" y="70.2" width="4.2" height="4.2" fill="#8b471f"/><rect x="235.0" y="70.2" width="4.2" height="4.2" fill="#946728"/><rect x="238.6" y="70.2" width="4.2" height="4.2" fill="#192e0f"/><rect x="242.2" y="70.2" width="4.2" height="4.2" fill="#4c3515"/><rect x="245.8" y="70.2" width="4.2" height="4.2" fill="#2b501a"/><rect x="249.4" y="70.2" width="4.2" height="4.2" fill="#2d541b"/><rect x="253.0" y="70.2" width="4.2" height="4.2" fill="#513816"/><rect x="256.6" y="70.2" width="4.2" height="4.2" fill="#192f0f"/><rect x="141.4" y="73.8" width="4.2" height="4.2" fill="#391f0d"/><rect x="145.0" y="73.8" width="4.2" height="4.2" fill="#4b2410"/><rect x="148.6" y="73.8" width="4.2" height="4.2" fill="#5b421a"/><rect x="152.2" y="73.8" width="4.2" height="4.2" fill="#5b7628"/><rect x="155.8" y="73.8" width="4.2" height="4.2" fill="#825b24"/><rect x="159.4" y="73.8" width="4.2" height="4.2" fill="#182c0e"/><rect x="163.0" y="73.8" width="4.2" height="4.2" fill="#432e12"/><rect x="166.6" y="73.8" width="4.2" height="4.2" fill="#6d4c1e"/><rect x="170.2" y="73.8" width="4.2" height="4.2" fill="#79481e"/><rect x="173.8" y="73.8" width="4.2" height="4.2" fill="#4a3014"/><rect x="177.4" y="73.8" width="4.2" height="4.2" fill="#442310"/><rect x="181.0" y="73.8" width="4.2" height="4.2" fill="#472511"/><rect x="184.6" y="73.8" width="4.2" height="4.2" fill="#a22c1a"/><rect x="188.2" y="73.8" width="4.2" height="4.2" fill="#54160d"/><rect x="191.8" y="73.8" width="4.2" height="4.2" fill="#b2301d"/><rect x="195.4" y="73.8" width="4.2" height="4.2" fill="#340e08"/><rect x="199.0" y="73.8" width="4.2" height="4.2" fill="#c2341f"/><rect x="202.6" y="73.8" width="4.2" height="4.2" fill="#d23822"/><rect x="206.2" y="73.8" width="4.2" height="4.2" fill="#812315"/><rect x="209.8" y="73.8" width="4.2" height="4.2" fill="#683619"/><rect x="213.4" y="73.8" width="4.2" height="4.2" fill="#792014"/><rect x="217.0" y="73.8" width="4.2" height="4.2" fill="#661b10"/><rect x="220.6" y="73.8" width="4.2" height="4.2" fill="#5b3016"/><rect x="224.2" y="73.8" width="4.2" height="4.2" fill="#3e240f"/><rect x="227.8" y="73.8" width="4.2" height="4.2" fill="#344f1a"/><rect x="231.4" y="73.8" width="4.2" height="4.2" fill="#9c6d2b"/><rect x="235.0" y="73.8" width="4.2" height="4.2" fill="#1c3511"/><rect x="238.6" y="73.8" width="4.2" height="4.2" fill="#366521"/><rect x="242.2" y="73.8" width="4.2" height="4.2" fill="#523916"/><rect x="245.8" y="73.8" width="4.2" height="4.2" fill="#315a1d"/><rect x="249.4" y="73.8" width="4.2" height="4.2" fill="#49882c"/><rect x="253.0" y="73.8" width="4.2" height="4.2" fill="#386722"/><rect x="256.6" y="73.8" width="4.2" height="4.2" fill="#376721"/><rect x="141.4" y="77.4" width="4.2" height="4.2" fill="#884b20"/><rect x="145.0" y="77.4" width="4.2" height="4.2" fill="#34250e"/><rect x="148.6" y="77.4" width="4.2" height="4.2" fill="#944a20"/><rect x="152.2" y="77.4" width="4.2" height="4.2" fill="#344918"/><rect x="155.8" y="77.4" width="4.2" height="4.2" fill="#422e12"/><rect x="159.4" y="77.4" width="4.2" height="4.2" fill="#483213"/><rect x="163.0" y="77.4" width="4.2" height="4.2" fill="#559e33"/><rect x="166.6" y="77.4" width="4.2" height="4.2" fill="#8f6327"/><rect x="170.2" y="77.4" width="4.2" height="4.2" fill="#11200a"/><rect x="173.8" y="77.4" width="4.2" height="4.2" fill="#2b4818"/><rect x="177.4" y="77.4" width="4.2" height="4.2" fill="#7d4d20"/><rect x="181.0" y="77.4" width="4.2" height="4.2" fill="#ae2f1c"/><rect x="184.6" y="77.4" width="4.2" height="4.2" fill="#902717"/><rect x="188.2" y="77.4" width="4.2" height="4.2" fill="#5a180e"/><rect x="191.8" y="77.4" width="4.2" height="4.2" fill="#761f13"/><rect x="195.4" y="77.4" width="4.2" height="4.2" fill="#7d2214"/><rect x="199.0" y="77.4" width="4.2" height="4.2" fill="#7b2114"/><rect x="202.6" y="77.4" width="4.2" height="4.2" fill="#a45627"/><rect x="206.2" y="77.4" width="4.2" height="4.2" fill="#6e1d12"/><rect x="209.8" y="77.4" width="4.2" height="4.2" fill="#5f3217"/><rect x="213.4" y="77.4" width="4.2" height="4.2" fill="#7a2114"/><rect x="217.0" y="77.4" width="4.2" height="4.2" fill="#84391b"/><rect x="220.6" y="77.4" width="4.2" height="4.2" fill="#414419"/><rect x="224.2" y="77.4" width="4.2" height="4.2" fill="#172b0e"/><rect x="227.8" y="77.4" width="4.2" height="4.2" fill="#386822"/><rect x="231.4" y="77.4" width="4.2" height="4.2" fill="#213e14"/><rect x="235.0" y="77.4" width="4.2" height="4.2" fill="#57a134"/><rect x="238.6" y="77.4" width="4.2" height="4.2" fill="#366521"/><rect x="242.2" y="77.4" width="4.2" height="4.2" fill="#224015"/><rect x="245.8" y="77.4" width="4.2" height="4.2" fill="#4f922f"/><rect x="249.4" y="77.4" width="4.2" height="4.2" fill="#12220b"/><rect x="253.0" y="77.4" width="4.2" height="4.2" fill="#1c3411"/><rect x="256.6" y="77.4" width="4.2" height="4.2" fill="#583d18"/><rect x="141.4" y="81.0" width="4.2" height="4.2" fill="#272c0f"/><rect x="145.0" y="81.0" width="4.2" height="4.2" fill="#29200c"/><rect x="148.6" y="81.0" width="4.2" height="4.2" fill="#7f421c"/><rect x="152.2" y="81.0" width="4.2" height="4.2" fill="#324a19"/><rect x="155.8" y="81.0" width="4.2" height="4.2" fill="#5d3e19"/><rect x="159.4" y="81.0" width="4.2" height="4.2" fill="#264216"/><rect x="163.0" y="81.0" width="4.2" height="4.2" fill="#67471c"/><rect x="166.6" y="81.0" width="4.2" height="4.2" fill="#422e12"/><rect x="170.2" y="81.0" width="4.2" height="4.2" fill="#704e1e"/><rect x="173.8" y="81.0" width="4.2" height="4.2" fill="#402d11"/><rect x="177.4" y="81.0" width="4.2" height="4.2" fill="#553b17"/><rect x="181.0" y="81.0" width="4.2" height="4.2" fill="#2e2a0f"/><rect x="184.6" y="81.0" width="4.2" height="4.2" fill="#80381b"/><rect x="188.2" y="81.0" width="4.2" height="4.2" fill="#711f12"/><rect x="191.8" y="81.0" width="4.2" height="4.2" fill="#d93a23"/><rect x="195.4" y="81.0" width="4.2" height="4.2" fill="#b7311e"/><rect x="199.0" y="81.0" width="4.2" height="4.2" fill="#d33922"/><rect x="202.6" y="81.0" width="4.2" height="4.2" fill="#753d1c"/><rect x="206.2" y="81.0" width="4.2" height="4.2" fill="#802215"/><rect x="209.8" y="81.0" width="4.2" height="4.2" fill="#d13822"/><rect x="213.4" y="81.0" width="4.2" height="4.2" fill="#611a10"/><rect x="217.0" y="81.0" width="4.2" height="4.2" fill="#683417"/><rect x="220.6" y="81.0" width="4.2" height="4.2" fill="#825a23"/><rect x="224.2" y="81.0" width="4.2" height="4.2" fill="#2a4f19"/><rect x="227.8" y="81.0" width="4.2" height="4.2" fill="#3d7125"/><rect x="231.4" y="81.0" width="4.2" height="4.2" fill="#407727"/><rect x="235.0" y="81.0" width="4.2" height="4.2" fill="#5f421a"/><rect x="238.6" y="81.0" width="4.2" height="4.2" fill="#59a536"/><rect x="242.2" y="81.0" width="4.2" height="4.2" fill="#274817"/><rect x="245.8" y="81.0" width="4.2" height="4.2" fill="#2a4d19"/><rect x="249.4" y="81.0" width="4.2" height="4.2" fill="#412d11"/><rect x="253.0" y="81.0" width="4.2" height="4.2" fill="#386922"/><rect x="256.6" y="81.0" width="4.2" height="4.2" fill="#294c18"/><rect x="141.4" y="84.6" width="4.2" height="4.2" fill="#3f4e1b"/><rect x="145.0" y="84.6" width="4.2" height="4.2" fill="#322d10"/><rect x="148.6" y="84.6" width="4.2" height="4.2" fill="#383613"/><rect x="152.2" y="84.6" width="4.2" height="4.2" fill="#2f3111"/><rect x="155.8" y="84.6" width="4.2" height="4.2" fill="#151708"/><rect x="159.4" y="84.6" width="4.2" height="4.2" fill="#45571e"/><rect x="163.0" y="84.6" width="4.2" height="4.2" fill="#36230e"/><rect x="166.6" y="84.6" width="4.2" height="4.2" fill="#1e3311"/><rect x="170.2" y="84.6" width="4.2" height="4.2" fill="#6c4b1d"/><rect x="173.8" y="84.6" width="4.2" height="4.2" fill="#559e33"/><rect x="177.4" y="84.6" width="4.2" height="4.2" fill="#69491d"/><rect x="181.0" y="84.6" width="4.2" height="4.2" fill="#16290d"/><rect x="184.6" y="84.6" width="4.2" height="4.2" fill="#213d14"/><rect x="188.2" y="84.6" width="4.2" height="4.2" fill="#704c1e"/><rect x="191.8" y="84.6" width="4.2" height="4.2" fill="#313f16"/><rect x="195.4" y="84.6" width="4.2" height="4.2" fill="#6f7229"/><rect x="199.0" y="84.6" width="4.2" height="4.2" fill="#562913"/><rect x="202.6" y="84.6" width="4.2" height="4.2" fill="#872b18"/><rect x="206.2" y="84.6" width="4.2" height="4.2" fill="#3a120a"/><rect x="209.8" y="84.6" width="4.2" height="4.2" fill="#3a160b"/><rect x="213.4" y="84.6" width="4.2" height="4.2" fill="#b15927"/><rect x="217.0" y="84.6" width="4.2" height="4.2" fill="#589531"/><rect x="220.6" y="84.6" width="4.2" height="4.2" fill="#463113"/><rect x="224.2" y="84.6" width="4.2" height="4.2" fill="#1c3511"/><rect x="227.8" y="84.6" width="4.2" height="4.2" fill="#1a3110"/><rect x="231.4" y="84.6" width="4.2" height="4.2" fill="#815a23"/><rect x="235.0" y="84.6" width="4.2" height="4.2" fill="#30591d"/><rect x="238.6" y="84.6" width="4.2" height="4.2" fill="#442f12"/><rect x="242.2" y="84.6" width="4.2" height="4.2" fill="#2c521b"/><rect x="245.8" y="84.6" width="4.2" height="4.2" fill="#5a3f19"/><rect x="249.4" y="84.6" width="4.2" height="4.2" fill="#294c19"/><rect x="253.0" y="84.6" width="4.2" height="4.2" fill="#6c4b1d"/><rect x="256.6" y="84.6" width="4.2" height="4.2" fill="#7a5521"/><rect x="141.4" y="88.2" width="4.2" height="4.2" fill="#6a5f23"/><rect x="145.0" y="88.2" width="4.2" height="4.2" fill="#413313"/><rect x="148.6" y="88.2" width="4.2" height="4.2" fill="#573d18"/><rect x="152.2" y="88.2" width="4.2" height="4.2" fill="#6c491d"/><rect x="155.8" y="88.2" width="4.2" height="4.2" fill="#693417"/><rect x="159.4" y="88.2" width="4.2" height="4.2" fill="#383112"/><rect x="163.0" y="88.2" width="4.2" height="4.2" fill="#484d1b"/><rect x="166.6" y="88.2" width="4.2" height="4.2" fill="#1c250c"/><rect x="170.2" y="88.2" width="4.2" height="4.2" fill="#7e5221"/><rect x="173.8" y="88.2" width="4.2" height="4.2" fill="#2a4c19"/><rect x="177.4" y="88.2" width="4.2" height="4.2" fill="#1a3110"/><rect x="181.0" y="88.2" width="4.2" height="4.2" fill="#5e411a"/><rect x="184.6" y="88.2" width="4.2" height="4.2" fill="#755120"/><rect x="188.2" y="88.2" width="4.2" height="4.2" fill="#427b28"/><rect x="191.8" y="88.2" width="4.2" height="4.2" fill="#203b13"/><rect x="195.4" y="88.2" width="4.2" height="4.2" fill="#4a892d"/><rect x="199.0" y="88.2" width="4.2" height="4.2" fill="#1f3a13"/><rect x="202.6" y="88.2" width="4.2" height="4.2" fill="#366420"/><rect x="206.2" y="88.2" width="4.2" height="4.2" fill="#224015"/><rect x="209.8" y="88.2" width="4.2" height="4.2" fill="#4e3715"/><rect x="213.4" y="88.2" width="4.2" height="4.2" fill="#4b8c2d"/><rect x="217.0" y="88.2" width="4.2" height="4.2" fill="#1b3210"/><rect x="220.6" y="88.2" width="4.2" height="4.2" fill="#4d8f2e"/><rect x="224.2" y="88.2" width="4.2" height="4.2" fill="#2c531b"/><rect x="227.8" y="88.2" width="4.2" height="4.2" fill="#775320"/><rect x="231.4" y="88.2" width="4.2" height="4.2" fill="#192e0f"/><rect x="235.0" y="88.2" width="4.2" height="4.2" fill="#755120"/><rect x="238.6" y="88.2" width="4.2" height="4.2" fill="#335f1f"/><rect x="242.2" y="88.2" width="4.2" height="4.2" fill="#294d19"/><rect x="245.8" y="88.2" width="4.2" height="4.2" fill="#3e7325"/><rect x="249.4" y="88.2" width="4.2" height="4.2" fill="#213d14"/><rect x="253.0" y="88.2" width="4.2" height="4.2" fill="#2d541b"/><rect x="256.6" y="88.2" width="4.2" height="4.2" fill="#274918"/><rect x="141.4" y="91.8" width="4.2" height="4.2" fill="#3e2810"/><rect x="145.0" y="91.8" width="4.2" height="4.2" fill="#863c1b"/><rect x="148.6" y="91.8" width="4.2" height="4.2" fill="#452610"/><rect x="152.2" y="91.8" width="4.2" height="4.2" fill="#522d13"/><rect x="155.8" y="91.8" width="4.2" height="4.2" fill="#502410"/><rect x="159.4" y="91.8" width="4.2" height="4.2" fill="#32220d"/><rect x="163.0" y="91.8" width="4.2" height="4.2" fill="#766124"/><rect x="166.6" y="91.8" width="4.2" height="4.2" fill="#5f3516"/><rect x="170.2" y="91.8" width="4.2" height="4.2" fill="#4a2e12"/><rect x="173.8" y="91.8" width="4.2" height="4.2" fill="#996729"/><rect x="177.4" y="91.8" width="4.2" height="4.2" fill="#58a235"/><rect x="181.0" y="91.8" width="4.2" height="4.2" fill="#67481c"/><rect x="184.6" y="91.8" width="4.2" height="4.2" fill="#996b2a"/><rect x="188.2" y="91.8" width="4.2" height="4.2" fill="#3e7326"/><rect x="191.8" y="91.8" width="4.2" height="4.2" fill="#513816"/><rect x="195.4" y="91.8" width="4.2" height="4.2" fill="#58a335"/><rect x="199.0" y="91.8" width="4.2" height="4.2" fill="#264717"/><rect x="202.6" y="91.8" width="4.2" height="4.2" fill="#1f3a13"/><rect x="206.2" y="91.8" width="4.2" height="4.2" fill="#785421"/><rect x="209.8" y="91.8" width="4.2" height="4.2" fill="#1d3611"/><rect x="213.4" y="91.8" width="4.2" height="4.2" fill="#325c1e"/><rect x="217.0" y="91.8" width="4.2" height="4.2" fill="#2c521a"/><rect x="220.6" y="91.8" width="4.2" height="4.2" fill="#284b18"/><rect x="224.2" y="91.8" width="4.2" height="4.2" fill="#192e0f"/><rect x="227.8" y="91.8" width="4.2" height="4.2" fill="#46812a"/><rect x="231.4" y="91.8" width="4.2" height="4.2" fill="#417927"/><rect x="235.0" y="91.8" width="4.2" height="4.2" fill="#7f5823"/><rect x="238.6" y="91.8" width="4.2" height="4.2" fill="#376521"/><rect x="242.2" y="91.8" width="4.2" height="4.2" fill="#583d18"/><rect x="245.8" y="91.8" width="4.2" height="4.2" fill="#284a18"/><rect x="249.4" y="91.8" width="4.2" height="4.2" fill="#254516"/><rect x="253.0" y="91.8" width="4.2" height="4.2" fill="#1d3511"/><rect x="256.6" y="91.8" width="4.2" height="4.2" fill="#47842b"/><rect x="141.4" y="95.4" width="4.2" height="4.2" fill="#6b2f15"/><rect x="145.0" y="95.4" width="4.2" height="4.2" fill="#6f3d1a"/><rect x="148.6" y="95.4" width="4.2" height="4.2" fill="#ac4b22"/><rect x="152.2" y="95.4" width="4.2" height="4.2" fill="#271509"/><rect x="155.8" y="95.4" width="4.2" height="4.2" fill="#7d451d"/><rect x="159.4" y="95.4" width="4.2" height="4.2" fill="#8a3e1c"/><rect x="163.0" y="95.4" width="4.2" height="4.2" fill="#63441b"/><rect x="166.6" y="95.4" width="4.2" height="4.2" fill="#79411b"/><rect x="170.2" y="95.4" width="4.2" height="4.2" fill="#273111"/><rect x="173.8" y="95.4" width="4.2" height="4.2" fill="#8e5f26"/><rect x="177.4" y="95.4" width="4.2" height="4.2" fill="#39270f"/><rect x="181.0" y="95.4" width="4.2" height="4.2" fill="#4e912f"/><rect x="184.6" y="95.4" width="4.2" height="4.2" fill="#203c13"/><rect x="188.2" y="95.4" width="4.2" height="4.2" fill="#795421"/><rect x="191.8" y="95.4" width="4.2" height="4.2" fill="#815a23"/><rect x="195.4" y="95.4" width="4.2" height="4.2" fill="#30591d"/><rect x="199.0" y="95.4" width="4.2" height="4.2" fill="#493214"/><rect x="202.6" y="95.4" width="4.2" height="4.2" fill="#69491d"/><rect x="206.2" y="95.4" width="4.2" height="4.2" fill="#956829"/><rect x="209.8" y="95.4" width="4.2" height="4.2" fill="#48852b"/><rect x="213.4" y="95.4" width="4.2" height="4.2" fill="#4b8c2d"/><rect x="217.0" y="95.4" width="4.2" height="4.2" fill="#7f5823"/><rect x="220.6" y="95.4" width="4.2" height="4.2" fill="#274917"/><rect x="224.2" y="95.4" width="4.2" height="4.2" fill="#815a23"/><rect x="227.8" y="95.4" width="4.2" height="4.2" fill="#2c521b"/><rect x="231.4" y="95.4" width="4.2" height="4.2" fill="#412d11"/><rect x="235.0" y="95.4" width="4.2" height="4.2" fill="#3e7325"/><rect x="238.6" y="95.4" width="4.2" height="4.2" fill="#704e1e"/><rect x="242.2" y="95.4" width="4.2" height="4.2" fill="#35250e"/><rect x="245.8" y="95.4" width="4.2" height="4.2" fill="#533916"/><rect x="249.4" y="95.4" width="4.2" height="4.2" fill="#69491d"/><rect x="253.0" y="95.4" width="4.2" height="4.2" fill="#45802a"/><rect x="256.6" y="95.4" width="4.2" height="4.2" fill="#3e7325"/><rect x="141.4" y="99.0" width="4.2" height="4.2" fill="#75401b"/><rect x="145.0" y="99.0" width="4.2" height="4.2" fill="#5f2a13"/><rect x="148.6" y="99.0" width="4.2" height="4.2" fill="#7e451d"/><rect x="152.2" y="99.0" width="4.2" height="4.2" fill="#1f1107"/><rect x="155.8" y="99.0" width="4.2" height="4.2" fill="#6a3a18"/><rect x="159.4" y="99.0" width="4.2" height="4.2" fill="#692e15"/><rect x="163.0" y="99.0" width="4.2" height="4.2" fill="#b15224"/><rect x="166.6" y="99.0" width="4.2" height="4.2" fill="#2a220d"/><rect x="170.2" y="99.0" width="4.2" height="4.2" fill="#283010"/><rect x="173.8" y="99.0" width="4.2" height="4.2" fill="#603f19"/><rect x="177.4" y="99.0" width="4.2" height="4.2" fill="#519230"/><rect x="181.0" y="99.0" width="4.2" height="4.2" fill="#234115"/><rect x="184.6" y="99.0" width="4.2" height="4.2" fill="#234215"/><rect x="188.2" y="99.0" width="4.2" height="4.2" fill="#2e551c"/><rect x="191.8" y="99.0" width="4.2" height="4.2" fill="#223f14"/><rect x="195.4" y="99.0" width="4.2" height="4.2" fill="#305a1d"/><rect x="199.0" y="99.0" width="4.2" height="4.2" fill="#593e18"/><rect x="202.6" y="99.0" width="4.2" height="4.2" fill="#294c19"/><rect x="206.2" y="99.0" width="4.2" height="4.2" fill="#14260c"/><rect x="209.8" y="99.0" width="4.2" height="4.2" fill="#101d09"/><rect x="213.4" y="99.0" width="4.2" height="4.2" fill="#473113"/><rect x="217.0" y="99.0" width="4.2" height="4.2" fill="#49882c"/><rect x="220.6" y="99.0" width="4.2" height="4.2" fill="#47842b"/><rect x="224.2" y="99.0" width="4.2" height="4.2" fill="#745120"/><rect x="227.8" y="99.0" width="4.2" height="4.2" fill="#48852b"/><rect x="231.4" y="99.0" width="4.2" height="4.2" fill="#9e6e2b"/><rect x="235.0" y="99.0" width="4.2" height="4.2" fill="#264717"/><rect x="238.6" y="99.0" width="4.2" height="4.2" fill="#569f34"/><rect x="242.2" y="99.0" width="4.2" height="4.2" fill="#447f29"/><rect x="245.8" y="99.0" width="4.2" height="4.2" fill="#2d541b"/><rect x="249.4" y="99.0" width="4.2" height="4.2" fill="#704e1e"/><rect x="253.0" y="99.0" width="4.2" height="4.2" fill="#2e551b"/><rect x="256.6" y="99.0" width="4.2" height="4.2" fill="#294d19"/><rect x="141.4" y="102.6" width="4.2" height="4.2" fill="#592712"/><rect x="145.0" y="102.6" width="4.2" height="4.2" fill="#733f1a"/><rect x="148.6" y="102.6" width="4.2" height="4.2" fill="#915021"/><rect x="152.2" y="102.6" width="4.2" height="4.2" fill="#502310"/><rect x="155.8" y="102.6" width="4.2" height="4.2" fill="#3c1a0c"/><rect x="159.4" y="102.6" width="4.2" height="4.2" fill="#673818"/><rect x="163.0" y="102.6" width="4.2" height="4.2" fill="#552611"/><rect x="166.6" y="102.6" width="4.2" height="4.2" fill="#47230f"/><rect x="170.2" y="102.6" width="4.2" height="4.2" fill="#78441c"/><rect x="173.8" y="102.6" width="4.2" height="4.2" fill="#5c8a2e"/><rect x="177.4" y="102.6" width="4.2" height="4.2" fill="#32591d"/><rect x="181.0" y="102.6" width="4.2" height="4.2" fill="#1e3912"/><rect x="184.6" y="102.6" width="4.2" height="4.2" fill="#805923"/><rect x="188.2" y="102.6" width="4.2" height="4.2" fill="#805923"/><rect x="191.8" y="102.6" width="4.2" height="4.2" fill="#503816"/><rect x="195.4" y="102.6" width="4.2" height="4.2" fill="#2c531b"/><rect x="199.0" y="102.6" width="4.2" height="4.2" fill="#47842b"/><rect x="202.6" y="102.6" width="4.2" height="4.2" fill="#274817"/><rect x="206.2" y="102.6" width="4.2" height="4.2" fill="#69491d"/><rect x="209.8" y="102.6" width="4.2" height="4.2" fill="#396a22"/><rect x="213.4" y="102.6" width="4.2" height="4.2" fill="#274817"/><rect x="217.0" y="102.6" width="4.2" height="4.2" fill="#3f7426"/><rect x="220.6" y="102.6" width="4.2" height="4.2" fill="#8d6227"/><rect x="224.2" y="102.6" width="4.2" height="4.2" fill="#2b501a"/><rect x="227.8" y="102.6" width="4.2" height="4.2" fill="#274918"/><rect x="231.4" y="102.6" width="4.2" height="4.2" fill="#274917"/><rect x="235.0" y="102.6" width="4.2" height="4.2" fill="#936628"/><rect x="238.6" y="102.6" width="4.2" height="4.2" fill="#244316"/><rect x="242.2" y="102.6" width="4.2" height="4.2" fill="#182d0f"/><rect x="245.8" y="102.6" width="4.2" height="4.2" fill="#4b8a2d"/><rect x="249.4" y="102.6" width="4.2" height="4.2" fill="#473113"/><rect x="253.0" y="102.6" width="4.2" height="4.2" fill="#4e912f"/><rect x="256.6" y="102.6" width="4.2" height="4.2" fill="#2f571c"/><rect x="141.4" y="106.2" width="4.2" height="4.2" fill="#a64921"/><rect x="145.0" y="106.2" width="4.2" height="4.2" fill="#1b0f06"/><rect x="148.6" y="106.2" width="4.2" height="4.2" fill="#512c13"/><rect x="152.2" y="106.2" width="4.2" height="4.2" fill="#b04d23"/><rect x="155.8" y="106.2" width="4.2" height="4.2" fill="#211207"/><rect x="159.4" y="106.2" width="4.2" height="4.2" fill="#552511"/><rect x="163.0" y="106.2" width="4.2" height="4.2" fill="#a74b22"/><rect x="166.6" y="106.2" width="4.2" height="4.2" fill="#a45023"/><rect x="170.2" y="106.2" width="4.2" height="4.2" fill="#653817"/><rect x="173.8" y="106.2" width="4.2" height="4.2" fill="#496823"/><rect x="177.4" y="106.2" width="4.2" height="4.2" fill="#375e1f"/><rect x="181.0" y="106.2" width="4.2" height="4.2" fill="#182c0e"/><rect x="184.6" y="106.2" width="4.2" height="4.2" fill="#4f9330"/><rect x="188.2" y="106.2" width="4.2" height="4.2" fill="#845c24"/><rect x="191.8" y="106.2" width="4.2" height="4.2" fill="#523916"/><rect x="195.4" y="106.2" width="4.2" height="4.2" fill="#16290d"/><rect x="199.0" y="106.2" width="4.2" height="4.2" fill="#2d541b"/><rect x="202.6" y="106.2" width="4.2" height="4.2" fill="#724f1f"/><rect x="206.2" y="106.2" width="4.2" height="4.2" fill="#63451b"/><rect x="209.8" y="106.2" width="4.2" height="4.2" fill="#8d6227"/><rect x="213.4" y="106.2" width="4.2" height="4.2" fill="#172c0e"/><rect x="217.0" y="106.2" width="4.2" height="4.2" fill="#14260c"/><rect x="220.6" y="106.2" width="4.2" height="4.2" fill="#2d541b"/><rect x="224.2" y="106.2" width="4.2" height="4.2" fill="#13240b"/><rect x="227.8" y="106.2" width="4.2" height="4.2" fill="#62441b"/><rect x="231.4" y="106.2" width="4.2" height="4.2" fill="#447e29"/><rect x="235.0" y="106.2" width="4.2" height="4.2" fill="#513816"/><rect x="238.6" y="106.2" width="4.2" height="4.2" fill="#724f1f"/><rect x="242.2" y="106.2" width="4.2" height="4.2" fill="#8a6026"/><rect x="245.8" y="106.2" width="4.2" height="4.2" fill="#3e2b11"/><rect x="249.4" y="106.2" width="4.2" height="4.2" fill="#463013"/><rect x="253.0" y="106.2" width="4.2" height="4.2" fill="#3e7426"/><rect x="256.6" y="106.2" width="4.2" height="4.2" fill="#553b17"/><rect x="141.4" y="109.8" width="4.2" height="4.2" fill="#613c18"/><rect x="145.0" y="109.8" width="4.2" height="4.2" fill="#5d3416"/><rect x="148.6" y="109.8" width="4.2" height="4.2" fill="#733217"/><rect x="152.2" y="109.8" width="4.2" height="4.2" fill="#2c180a"/><rect x="155.8" y="109.8" width="4.2" height="4.2" fill="#703e1a"/><rect x="159.4" y="109.8" width="4.2" height="4.2" fill="#3f230e"/><rect x="163.0" y="109.8" width="4.2" height="4.2" fill="#683015"/><rect x="166.6" y="109.8" width="4.2" height="4.2" fill="#653316"/><rect x="170.2" y="109.8" width="4.2" height="4.2" fill="#555d21"/><rect x="173.8" y="109.8" width="4.2" height="4.2" fill="#436421"/><rect x="177.4" y="109.8" width="4.2" height="4.2" fill="#3a6621"/><rect x="181.0" y="109.8" width="4.2" height="4.2" fill="#14250c"/><rect x="184.6" y="109.8" width="4.2" height="4.2" fill="#11200a"/><rect x="188.2" y="109.8" width="4.2" height="4.2" fill="#223e14"/><rect x="191.8" y="109.8" width="4.2" height="4.2" fill="#4e3615"/><rect x="195.4" y="109.8" width="4.2" height="4.2" fill="#203b13"/><rect x="199.0" y="109.8" width="4.2" height="4.2" fill="#274918"/><rect x="202.6" y="109.8" width="4.2" height="4.2" fill="#986a2a"/><rect x="206.2" y="109.8" width="4.2" height="4.2" fill="#5e411a"/><rect x="209.8" y="109.8" width="4.2" height="4.2" fill="#437c28"/><rect x="213.4" y="109.8" width="4.2" height="4.2" fill="#447d29"/><rect x="217.0" y="109.8" width="4.2" height="4.2" fill="#539b32"/><rect x="220.6" y="109.8" width="4.2" height="4.2" fill="#4e902f"/><rect x="224.2" y="109.8" width="4.2" height="4.2" fill="#13240b"/><rect x="227.8" y="109.8" width="4.2" height="4.2" fill="#473113"/><rect x="231.4" y="109.8" width="4.2" height="4.2" fill="#8e6327"/><rect x="235.0" y="109.8" width="4.2" height="4.2" fill="#7a5521"/><rect x="238.6" y="109.8" width="4.2" height="4.2" fill="#284918"/><rect x="242.2" y="109.8" width="4.2" height="4.2" fill="#1d3611"/><rect x="245.8" y="109.8" width="4.2" height="4.2" fill="#8e6327"/><rect x="249.4" y="109.8" width="4.2" height="4.2" fill="#49872c"/><rect x="253.0" y="109.8" width="4.2" height="4.2" fill="#437c28"/><rect x="256.6" y="109.8" width="4.2" height="4.2" fill="#745120"/><rect x="141.4" y="113.4" width="4.2" height="4.2" fill="#3e2f12"/><rect x="145.0" y="113.4" width="4.2" height="4.2" fill="#af5225"/><rect x="148.6" y="113.4" width="4.2" height="4.2" fill="#873d1b"/><rect x="152.2" y="113.4" width="4.2" height="4.2" fill="#8f5322"/><rect x="155.8" y="113.4" width="4.2" height="4.2" fill="#6f431b"/><rect x="159.4" y="113.4" width="4.2" height="4.2" fill="#473013"/><rect x="163.0" y="113.4" width="4.2" height="4.2" fill="#3d3213"/><rect x="166.6" y="113.4" width="4.2" height="4.2" fill="#532e13"/><rect x="170.2" y="113.4" width="4.2" height="4.2" fill="#1b230c"/><rect x="173.8" y="113.4" width="4.2" height="4.2" fill="#395f1f"/><rect x="177.4" y="113.4" width="4.2" height="4.2" fill="#396a22"/><rect x="181.0" y="113.4" width="4.2" height="4.2" fill="#533a17"/><rect x="184.6" y="113.4" width="4.2" height="4.2" fill="#46822a"/><rect x="188.2" y="113.4" width="4.2" height="4.2" fill="#4c3515"/><rect x="191.8" y="113.4" width="4.2" height="4.2" fill="#509530"/><rect x="195.4" y="113.4" width="4.2" height="4.2" fill="#3e7426"/><rect x="199.0" y="113.4" width="4.2" height="4.2" fill="#549c33"/><rect x="202.6" y="113.4" width="4.2" height="4.2" fill="#483213"/><rect x="206.2" y="113.4" width="4.2" height="4.2" fill="#2f571c"/><rect x="209.8" y="113.4" width="4.2" height="4.2" fill="#1c3311"/><rect x="213.4" y="113.4" width="4.2" height="4.2" fill="#437c28"/><rect x="217.0" y="113.4" width="4.2" height="4.2" fill="#447e29"/><rect x="220.6" y="113.4" width="4.2" height="4.2" fill="#417827"/><rect x="224.2" y="113.4" width="4.2" height="4.2" fill="#3b6d23"/><rect x="227.8" y="113.4" width="4.2" height="4.2" fill="#855d24"/><rect x="231.4" y="113.4" width="4.2" height="4.2" fill="#865d25"/><rect x="235.0" y="113.4" width="4.2" height="4.2" fill="#8e6327"/><rect x="238.6" y="113.4" width="4.2" height="4.2" fill="#366421"/><rect x="242.2" y="113.4" width="4.2" height="4.2" fill="#7a5521"/><rect x="245.8" y="113.4" width="4.2" height="4.2" fill="#503816"/><rect x="249.4" y="113.4" width="4.2" height="4.2" fill="#3e7325"/><rect x="253.0" y="113.4" width="4.2" height="4.2" fill="#37260f"/><rect x="256.6" y="113.4" width="4.2" height="4.2" fill="#162a0d"/></g></g>
<text x="147.50" y="33.84" font-size="6.5" fill="#1e1e1e" text-anchor="start" font-weight="bold" stroke="#1e1e1e" stroke-width="0.3"><tspan fill="#39c339" stroke="#39c339">B220</tspan> <tspan fill="#e0301c" stroke="#e0301c">CD3</tspan></text>
<text x="148.00" y="109.22" font-size="5.6" fill="#fff" text-anchor="start" font-weight="bold" textLength="58" lengthAdjust="spacingAndGlyphs" stroke="#fff" stroke-width="0.3"><tspan font-style="italic">E<tspan font-size="5">μ</tspan>-TCL1A</tspan> Dox 2 weeks</text>
<text x="243.40" y="106.74" font-size="5.4" fill="#fff" text-anchor="middle" font-weight="bold" textLength="12" lengthAdjust="spacingAndGlyphs" stroke="#fff" stroke-width="0.3">100μm</text>
<line x1="237.50" y1="108.80" x2="249.50" y2="108.80" stroke="#fff" stroke-width="1.0"  shape-rendering="crispEdges"/>
<g clip-path="url(#mclip2)"><g filter="url(#mblur)" class="mg"><rect x="141.4" y="111.4" width="4.2" height="4.2" fill="#1f3110"/><rect x="145.0" y="111.4" width="4.2" height="4.2" fill="#0b1206"/><rect x="148.6" y="111.4" width="4.2" height="4.2" fill="#14210b"/><rect x="152.2" y="111.4" width="4.2" height="4.2" fill="#51471a"/><rect x="155.8" y="111.4" width="4.2" height="4.2" fill="#233913"/><rect x="159.4" y="111.4" width="4.2" height="4.2" fill="#16230b"/><rect x="163.0" y="111.4" width="4.2" height="4.2" fill="#273f15"/><rect x="166.6" y="111.4" width="4.2" height="4.2" fill="#273e15"/><rect x="170.2" y="111.4" width="4.2" height="4.2" fill="#30290f"/><rect x="173.8" y="111.4" width="4.2" height="4.2" fill="#2e4c1c"/><rect x="177.4" y="111.4" width="4.2" height="4.2" fill="#223512"/><rect x="181.0" y="111.4" width="4.2" height="4.2" fill="#1e2f0f"/><rect x="184.6" y="111.4" width="4.2" height="4.2" fill="#17240c"/><rect x="188.2" y="111.4" width="4.2" height="4.2" fill="#253b14"/><rect x="191.8" y="111.4" width="4.2" height="4.2" fill="#393112"/><rect x="195.4" y="111.4" width="4.2" height="4.2" fill="#1a2a0e"/><rect x="199.0" y="111.4" width="4.2" height="4.2" fill="#0d1507"/><rect x="202.6" y="111.4" width="4.2" height="4.2" fill="#0d1507"/><rect x="206.2" y="111.4" width="4.2" height="4.2" fill="#51471a"/><rect x="209.8" y="111.4" width="4.2" height="4.2" fill="#1f3110"/><rect x="213.4" y="111.4" width="4.2" height="4.2" fill="#14200b"/><rect x="217.0" y="111.4" width="4.2" height="4.2" fill="#50441a"/><rect x="220.6" y="111.4" width="4.2" height="4.2" fill="#223612"/><rect x="224.2" y="111.4" width="4.2" height="4.2" fill="#111a08"/><rect x="227.8" y="111.4" width="4.2" height="4.2" fill="#2e270f"/><rect x="231.4" y="111.4" width="4.2" height="4.2" fill="#16230b"/><rect x="235.0" y="111.4" width="4.2" height="4.2" fill="#27220c"/><rect x="238.6" y="111.4" width="4.2" height="4.2" fill="#2f4f1d"/><rect x="242.2" y="111.4" width="4.2" height="4.2" fill="#1d2e0f"/><rect x="245.8" y="111.4" width="4.2" height="4.2" fill="#413414"/><rect x="249.4" y="111.4" width="4.2" height="4.2" fill="#1c280e"/><rect x="253.0" y="111.4" width="4.2" height="4.2" fill="#2f4e1d"/><rect x="256.6" y="111.4" width="4.2" height="4.2" fill="#121a09"/><rect x="141.4" y="115.0" width="4.2" height="4.2" fill="#233712"/><rect x="145.0" y="115.0" width="4.2" height="4.2" fill="#263f17"/><rect x="148.6" y="115.0" width="4.2" height="4.2" fill="#2e4a18"/><rect x="152.2" y="115.0" width="4.2" height="4.2" fill="#365a21"/><rect x="155.8" y="115.0" width="4.2" height="4.2" fill="#1b2b0e"/><rect x="159.4" y="115.0" width="4.2" height="4.2" fill="#16230b"/><rect x="163.0" y="115.0" width="4.2" height="4.2" fill="#273e15"/><rect x="166.6" y="115.0" width="4.2" height="4.2" fill="#4b4118"/><rect x="170.2" y="115.0" width="4.2" height="4.2" fill="#0e1607"/><rect x="173.8" y="115.0" width="4.2" height="4.2" fill="#223512"/><rect x="177.4" y="115.0" width="4.2" height="4.2" fill="#2b471a"/><rect x="181.0" y="115.0" width="4.2" height="4.2" fill="#413815"/><rect x="184.6" y="115.0" width="4.2" height="4.2" fill="#294015"/><rect x="188.2" y="115.0" width="4.2" height="4.2" fill="#1f3110"/><rect x="191.8" y="115.0" width="4.2" height="4.2" fill="#1f3110"/><rect x="195.4" y="115.0" width="4.2" height="4.2" fill="#16230b"/><rect x="199.0" y="115.0" width="4.2" height="4.2" fill="#17240c"/><rect x="202.6" y="115.0" width="4.2" height="4.2" fill="#15220b"/><rect x="206.2" y="115.0" width="4.2" height="4.2" fill="#2a4416"/><rect x="209.8" y="115.0" width="4.2" height="4.2" fill="#273f15"/><rect x="213.4" y="115.0" width="4.2" height="4.2" fill="#273f15"/><rect x="217.0" y="115.0" width="4.2" height="4.2" fill="#253d16"/><rect x="220.6" y="115.0" width="4.2" height="4.2" fill="#1e3010"/><rect x="224.2" y="115.0" width="4.2" height="4.2" fill="#2a4116"/><rect x="227.8" y="115.0" width="4.2" height="4.2" fill="#243913"/><rect x="231.4" y="115.0" width="4.2" height="4.2" fill="#2a4216"/><rect x="235.0" y="115.0" width="4.2" height="4.2" fill="#1e3312"/><rect x="238.6" y="115.0" width="4.2" height="4.2" fill="#233a15"/><rect x="242.2" y="115.0" width="4.2" height="4.2" fill="#273b14"/><rect x="245.8" y="115.0" width="4.2" height="4.2" fill="#231c0a"/><rect x="249.4" y="115.0" width="4.2" height="4.2" fill="#131b09"/><rect x="253.0" y="115.0" width="4.2" height="4.2" fill="#2f4c1c"/><rect x="256.6" y="115.0" width="4.2" height="4.2" fill="#16200b"/><rect x="141.4" y="118.6" width="4.2" height="4.2" fill="#223612"/><rect x="145.0" y="118.6" width="4.2" height="4.2" fill="#16230b"/><rect x="148.6" y="118.6" width="4.2" height="4.2" fill="#473d17"/><rect x="152.2" y="118.6" width="4.2" height="4.2" fill="#203211"/><rect x="155.8" y="118.6" width="4.2" height="4.2" fill="#284015"/><rect x="159.4" y="118.6" width="4.2" height="4.2" fill="#2d4818"/><rect x="163.0" y="118.6" width="4.2" height="4.2" fill="#284115"/><rect x="166.6" y="118.6" width="4.2" height="4.2" fill="#2c4717"/><rect x="170.2" y="118.6" width="4.2" height="4.2" fill="#2a250d"/><rect x="173.8" y="118.6" width="4.2" height="4.2" fill="#223512"/><rect x="177.4" y="118.6" width="4.2" height="4.2" fill="#433a16"/><rect x="181.0" y="118.6" width="4.2" height="4.2" fill="#283f15"/><rect x="184.6" y="118.6" width="4.2" height="4.2" fill="#14200a"/><rect x="188.2" y="118.6" width="4.2" height="4.2" fill="#203210"/><rect x="191.8" y="118.6" width="4.2" height="4.2" fill="#1e3010"/><rect x="195.4" y="118.6" width="4.2" height="4.2" fill="#2e4c1c"/><rect x="199.0" y="118.6" width="4.2" height="4.2" fill="#304f1d"/><rect x="202.6" y="118.6" width="4.2" height="4.2" fill="#1d3112"/><rect x="206.2" y="118.6" width="4.2" height="4.2" fill="#2b4316"/><rect x="209.8" y="118.6" width="4.2" height="4.2" fill="#223612"/><rect x="213.4" y="118.6" width="4.2" height="4.2" fill="#52481b"/><rect x="217.0" y="118.6" width="4.2" height="4.2" fill="#273f15"/><rect x="220.6" y="118.6" width="4.2" height="4.2" fill="#1d2f0f"/><rect x="224.2" y="118.6" width="4.2" height="4.2" fill="#483f17"/><rect x="227.8" y="118.6" width="4.2" height="4.2" fill="#273e14"/><rect x="231.4" y="118.6" width="4.2" height="4.2" fill="#213512"/><rect x="235.0" y="118.6" width="4.2" height="4.2" fill="#16230b"/><rect x="238.6" y="118.6" width="4.2" height="4.2" fill="#0e1607"/><rect x="242.2" y="118.6" width="4.2" height="4.2" fill="#0a0f05"/><rect x="245.8" y="118.6" width="4.2" height="4.2" fill="#1d290e"/><rect x="249.4" y="118.6" width="4.2" height="4.2" fill="#4a3916"/><rect x="253.0" y="118.6" width="4.2" height="4.2" fill="#1b250d"/><rect x="256.6" y="118.6" width="4.2" height="4.2" fill="#1c270e"/><rect x="141.4" y="122.2" width="4.2" height="4.2" fill="#15220b"/><rect x="145.0" y="122.2" width="4.2" height="4.2" fill="#233812"/><rect x="148.6" y="122.2" width="4.2" height="4.2" fill="#15220b"/><rect x="152.2" y="122.2" width="4.2" height="4.2" fill="#203211"/><rect x="155.8" y="122.2" width="4.2" height="4.2" fill="#15210b"/><rect x="159.4" y="122.2" width="4.2" height="4.2" fill="#1e3010"/><rect x="163.0" y="122.2" width="4.2" height="4.2" fill="#1d3112"/><rect x="166.6" y="122.2" width="4.2" height="4.2" fill="#32541f"/><rect x="170.2" y="122.2" width="4.2" height="4.2" fill="#17250c"/><rect x="173.8" y="122.2" width="4.2" height="4.2" fill="#17250c"/><rect x="177.4" y="122.2" width="4.2" height="4.2" fill="#1a2a0e"/><rect x="181.0" y="122.2" width="4.2" height="4.2" fill="#19270d"/><rect x="184.6" y="122.2" width="4.2" height="4.2" fill="#16230c"/><rect x="188.2" y="122.2" width="4.2" height="4.2" fill="#3e6726"/><rect x="191.8" y="122.2" width="4.2" height="4.2" fill="#1e2f10"/><rect x="195.4" y="122.2" width="4.2" height="4.2" fill="#213411"/><rect x="199.0" y="122.2" width="4.2" height="4.2" fill="#1e2f0f"/><rect x="202.6" y="122.2" width="4.2" height="4.2" fill="#1a280d"/><rect x="206.2" y="122.2" width="4.2" height="4.2" fill="#203211"/><rect x="209.8" y="122.2" width="4.2" height="4.2" fill="#2c4a1b"/><rect x="213.4" y="122.2" width="4.2" height="4.2" fill="#27220d"/><rect x="217.0" y="122.2" width="4.2" height="4.2" fill="#4d4519"/><rect x="220.6" y="122.2" width="4.2" height="4.2" fill="#0e1707"/><rect x="224.2" y="122.2" width="4.2" height="4.2" fill="#253c14"/><rect x="227.8" y="122.2" width="4.2" height="4.2" fill="#16240c"/><rect x="231.4" y="122.2" width="4.2" height="4.2" fill="#0e1707"/><rect x="235.0" y="122.2" width="4.2" height="4.2" fill="#2e4a18"/><rect x="238.6" y="122.2" width="4.2" height="4.2" fill="#3d6525"/><rect x="242.2" y="122.2" width="4.2" height="4.2" fill="#395e23"/><rect x="245.8" y="122.2" width="4.2" height="4.2" fill="#4e3d17"/><rect x="249.4" y="122.2" width="4.2" height="4.2" fill="#151e0a"/><rect x="253.0" y="122.2" width="4.2" height="4.2" fill="#1b250d"/><rect x="256.6" y="122.2" width="4.2" height="4.2" fill="#0b1005"/><rect x="141.4" y="125.8" width="4.2" height="4.2" fill="#1e3010"/><rect x="145.0" y="125.8" width="4.2" height="4.2" fill="#1b2b0e"/><rect x="148.6" y="125.8" width="4.2" height="4.2" fill="#243a13"/><rect x="152.2" y="125.8" width="4.2" height="4.2" fill="#203311"/><rect x="155.8" y="125.8" width="4.2" height="4.2" fill="#1f3110"/><rect x="159.4" y="125.8" width="4.2" height="4.2" fill="#19280d"/><rect x="163.0" y="125.8" width="4.2" height="4.2" fill="#1a290d"/><rect x="166.6" y="125.8" width="4.2" height="4.2" fill="#263d14"/><rect x="170.2" y="125.8" width="4.2" height="4.2" fill="#253c14"/><rect x="173.8" y="125.8" width="4.2" height="4.2" fill="#203411"/><rect x="177.4" y="125.8" width="4.2" height="4.2" fill="#14200a"/><rect x="181.0" y="125.8" width="4.2" height="4.2" fill="#263d14"/><rect x="184.6" y="125.8" width="4.2" height="4.2" fill="#213411"/><rect x="188.2" y="125.8" width="4.2" height="4.2" fill="#14200a"/><rect x="191.8" y="125.8" width="4.2" height="4.2" fill="#101a08"/><rect x="195.4" y="125.8" width="4.2" height="4.2" fill="#0e1707"/><rect x="199.0" y="125.8" width="4.2" height="4.2" fill="#3e3614"/><rect x="202.6" y="125.8" width="4.2" height="4.2" fill="#263c14"/><rect x="206.2" y="125.8" width="4.2" height="4.2" fill="#3e3514"/><rect x="209.8" y="125.8" width="4.2" height="4.2" fill="#1d3011"/><rect x="213.4" y="125.8" width="4.2" height="4.2" fill="#16240c"/><rect x="217.0" y="125.8" width="4.2" height="4.2" fill="#2e290f"/><rect x="220.6" y="125.8" width="4.2" height="4.2" fill="#3b6324"/><rect x="224.2" y="125.8" width="4.2" height="4.2" fill="#263e14"/><rect x="227.8" y="125.8" width="4.2" height="4.2" fill="#2d4818"/><rect x="231.4" y="125.8" width="4.2" height="4.2" fill="#18270d"/><rect x="235.0" y="125.8" width="4.2" height="4.2" fill="#1e3010"/><rect x="238.6" y="125.8" width="4.2" height="4.2" fill="#1d2e0f"/><rect x="242.2" y="125.8" width="4.2" height="4.2" fill="#17230c"/><rect x="245.8" y="125.8" width="4.2" height="4.2" fill="#233412"/><rect x="249.4" y="125.8" width="4.2" height="4.2" fill="#101708"/><rect x="253.0" y="125.8" width="4.2" height="4.2" fill="#101808"/><rect x="256.6" y="125.8" width="4.2" height="4.2" fill="#243512"/><rect x="141.4" y="129.4" width="4.2" height="4.2" fill="#2d4918"/><rect x="145.0" y="129.4" width="4.2" height="4.2" fill="#1c2e0f"/><rect x="148.6" y="129.4" width="4.2" height="4.2" fill="#213612"/><rect x="152.2" y="129.4" width="4.2" height="4.2" fill="#1b2c0e"/><rect x="155.8" y="129.4" width="4.2" height="4.2" fill="#294115"/><rect x="159.4" y="129.4" width="4.2" height="4.2" fill="#243813"/><rect x="163.0" y="129.4" width="4.2" height="4.2" fill="#51461a"/><rect x="166.6" y="129.4" width="4.2" height="4.2" fill="#19270d"/><rect x="170.2" y="129.4" width="4.2" height="4.2" fill="#463d17"/><rect x="173.8" y="129.4" width="4.2" height="4.2" fill="#18270d"/><rect x="177.4" y="129.4" width="4.2" height="4.2" fill="#30501d"/><rect x="181.0" y="129.4" width="4.2" height="4.2" fill="#19280d"/><rect x="184.6" y="129.4" width="4.2" height="4.2" fill="#243913"/><rect x="188.2" y="129.4" width="4.2" height="4.2" fill="#3b6224"/><rect x="191.8" y="129.4" width="4.2" height="4.2" fill="#2d4818"/><rect x="195.4" y="129.4" width="4.2" height="4.2" fill="#3e3614"/><rect x="199.0" y="129.4" width="4.2" height="4.2" fill="#2a4416"/><rect x="202.6" y="129.4" width="4.2" height="4.2" fill="#203411"/><rect x="206.2" y="129.4" width="4.2" height="4.2" fill="#2d4718"/><rect x="209.8" y="129.4" width="4.2" height="4.2" fill="#3e6726"/><rect x="213.4" y="129.4" width="4.2" height="4.2" fill="#17250c"/><rect x="217.0" y="129.4" width="4.2" height="4.2" fill="#2d4818"/><rect x="220.6" y="129.4" width="4.2" height="4.2" fill="#2f4b19"/><rect x="224.2" y="129.4" width="4.2" height="4.2" fill="#30501d"/><rect x="227.8" y="129.4" width="4.2" height="4.2" fill="#233913"/><rect x="231.4" y="129.4" width="4.2" height="4.2" fill="#2f4c19"/><rect x="235.0" y="129.4" width="4.2" height="4.2" fill="#0b1206"/><rect x="238.6" y="129.4" width="4.2" height="4.2" fill="#253b13"/><rect x="242.2" y="129.4" width="4.2" height="4.2" fill="#2a4416"/><rect x="245.8" y="129.4" width="4.2" height="4.2" fill="#16230b"/><rect x="249.4" y="129.4" width="4.2" height="4.2" fill="#131d0a"/><rect x="253.0" y="129.4" width="4.2" height="4.2" fill="#253813"/><rect x="256.6" y="129.4" width="4.2" height="4.2" fill="#52451a"/><rect x="141.4" y="133.0" width="4.2" height="4.2" fill="#1a2a0e"/><rect x="145.0" y="133.0" width="4.2" height="4.2" fill="#253c14"/><rect x="148.6" y="133.0" width="4.2" height="4.2" fill="#284115"/><rect x="152.2" y="133.0" width="4.2" height="4.2" fill="#121e0a"/><rect x="155.8" y="133.0" width="4.2" height="4.2" fill="#3a6023"/><rect x="159.4" y="133.0" width="4.2" height="4.2" fill="#18250c"/><rect x="163.0" y="133.0" width="4.2" height="4.2" fill="#2b4316"/><rect x="166.6" y="133.0" width="4.2" height="4.2" fill="#1b2a0e"/><rect x="170.2" y="133.0" width="4.2" height="4.2" fill="#0c1406"/><rect x="173.8" y="133.0" width="4.2" height="4.2" fill="#453c16"/><rect x="177.4" y="133.0" width="4.2" height="4.2" fill="#2e4a18"/><rect x="181.0" y="133.0" width="4.2" height="4.2" fill="#1a290d"/><rect x="184.6" y="133.0" width="4.2" height="4.2" fill="#2b4216"/><rect x="188.2" y="133.0" width="4.2" height="4.2" fill="#141f0a"/><rect x="191.8" y="133.0" width="4.2" height="4.2" fill="#16230c"/><rect x="195.4" y="133.0" width="4.2" height="4.2" fill="#0e1808"/><rect x="199.0" y="133.0" width="4.2" height="4.2" fill="#302a0f"/><rect x="202.6" y="133.0" width="4.2" height="4.2" fill="#213511"/><rect x="206.2" y="133.0" width="4.2" height="4.2" fill="#1c2d0f"/><rect x="209.8" y="133.0" width="4.2" height="4.2" fill="#19280d"/><rect x="213.4" y="133.0" width="4.2" height="4.2" fill="#2d4818"/><rect x="217.0" y="133.0" width="4.2" height="4.2" fill="#253b14"/><rect x="220.6" y="133.0" width="4.2" height="4.2" fill="#2d4818"/><rect x="224.2" y="133.0" width="4.2" height="4.2" fill="#16230b"/><rect x="227.8" y="133.0" width="4.2" height="4.2" fill="#302a0f"/><rect x="231.4" y="133.0" width="4.2" height="4.2" fill="#0a1105"/><rect x="235.0" y="133.0" width="4.2" height="4.2" fill="#284115"/><rect x="238.6" y="133.0" width="4.2" height="4.2" fill="#243b13"/><rect x="242.2" y="133.0" width="4.2" height="4.2" fill="#17250c"/><rect x="245.8" y="133.0" width="4.2" height="4.2" fill="#365a21"/><rect x="249.4" y="133.0" width="4.2" height="4.2" fill="#15220b"/><rect x="253.0" y="133.0" width="4.2" height="4.2" fill="#101908"/><rect x="256.6" y="133.0" width="4.2" height="4.2" fill="#1c2c0f"/><rect x="141.4" y="136.6" width="4.2" height="4.2" fill="#2d4818"/><rect x="145.0" y="136.6" width="4.2" height="4.2" fill="#111c09"/><rect x="148.6" y="136.6" width="4.2" height="4.2" fill="#1e3212"/><rect x="152.2" y="136.6" width="4.2" height="4.2" fill="#1e3010"/><rect x="155.8" y="136.6" width="4.2" height="4.2" fill="#1c2e0f"/><rect x="159.4" y="136.6" width="4.2" height="4.2" fill="#223512"/><rect x="163.0" y="136.6" width="4.2" height="4.2" fill="#0b1105"/><rect x="166.6" y="136.6" width="4.2" height="4.2" fill="#294015"/><rect x="170.2" y="136.6" width="4.2" height="4.2" fill="#1a2a0e"/><rect x="173.8" y="136.6" width="4.2" height="4.2" fill="#3b3413"/><rect x="177.4" y="136.6" width="4.2" height="4.2" fill="#2d4818"/><rect x="181.0" y="136.6" width="4.2" height="4.2" fill="#2c4517"/><rect x="184.6" y="136.6" width="4.2" height="4.2" fill="#233712"/><rect x="188.2" y="136.6" width="4.2" height="4.2" fill="#243913"/><rect x="191.8" y="136.6" width="4.2" height="4.2" fill="#15210b"/><rect x="195.4" y="136.6" width="4.2" height="4.2" fill="#2b481a"/><rect x="199.0" y="136.6" width="4.2" height="4.2" fill="#406b27"/><rect x="202.6" y="136.6" width="4.2" height="4.2" fill="#2f4c19"/><rect x="206.2" y="136.6" width="4.2" height="4.2" fill="#15230b"/><rect x="209.8" y="136.6" width="4.2" height="4.2" fill="#26210c"/><rect x="213.4" y="136.6" width="4.2" height="4.2" fill="#233913"/><rect x="217.0" y="136.6" width="4.2" height="4.2" fill="#243913"/><rect x="220.6" y="136.6" width="4.2" height="4.2" fill="#264017"/><rect x="224.2" y="136.6" width="4.2" height="4.2" fill="#0c1406"/><rect x="227.8" y="136.6" width="4.2" height="4.2" fill="#233812"/><rect x="231.4" y="136.6" width="4.2" height="4.2" fill="#18270d"/><rect x="235.0" y="136.6" width="4.2" height="4.2" fill="#2c4717"/><rect x="238.6" y="136.6" width="4.2" height="4.2" fill="#213511"/><rect x="242.2" y="136.6" width="4.2" height="4.2" fill="#213511"/><rect x="245.8" y="136.6" width="4.2" height="4.2" fill="#253b13"/><rect x="249.4" y="136.6" width="4.2" height="4.2" fill="#263c14"/><rect x="253.0" y="136.6" width="4.2" height="4.2" fill="#203211"/><rect x="256.6" y="136.6" width="4.2" height="4.2" fill="#233712"/><rect x="141.4" y="140.2" width="4.2" height="4.2" fill="#16230b"/><rect x="145.0" y="140.2" width="4.2" height="4.2" fill="#284015"/><rect x="148.6" y="140.2" width="4.2" height="4.2" fill="#17240c"/><rect x="152.2" y="140.2" width="4.2" height="4.2" fill="#253b13"/><rect x="155.8" y="140.2" width="4.2" height="4.2" fill="#19270d"/><rect x="159.4" y="140.2" width="4.2" height="4.2" fill="#263d14"/><rect x="163.0" y="140.2" width="4.2" height="4.2" fill="#2c4517"/><rect x="166.6" y="140.2" width="4.2" height="4.2" fill="#14200a"/><rect x="170.2" y="140.2" width="4.2" height="4.2" fill="#473d17"/><rect x="173.8" y="140.2" width="4.2" height="4.2" fill="#2d4718"/><rect x="177.4" y="140.2" width="4.2" height="4.2" fill="#283e15"/><rect x="181.0" y="140.2" width="4.2" height="4.2" fill="#0a0f05"/><rect x="184.6" y="140.2" width="4.2" height="4.2" fill="#203311"/><rect x="188.2" y="140.2" width="4.2" height="4.2" fill="#213311"/><rect x="191.8" y="140.2" width="4.2" height="4.2" fill="#1e2f0f"/><rect x="195.4" y="140.2" width="4.2" height="4.2" fill="#243915"/><rect x="199.0" y="140.2" width="4.2" height="4.2" fill="#383c15"/><rect x="202.6" y="140.2" width="4.2" height="4.2" fill="#171b09"/><rect x="206.2" y="140.2" width="4.2" height="4.2" fill="#263110"/><rect x="209.8" y="140.2" width="4.2" height="4.2" fill="#426826"/><rect x="213.4" y="140.2" width="4.2" height="4.2" fill="#1f2b0e"/><rect x="217.0" y="140.2" width="4.2" height="4.2" fill="#111c09"/><rect x="220.6" y="140.2" width="4.2" height="4.2" fill="#16220b"/><rect x="224.2" y="140.2" width="4.2" height="4.2" fill="#101908"/><rect x="227.8" y="140.2" width="4.2" height="4.2" fill="#3b3313"/><rect x="231.4" y="140.2" width="4.2" height="4.2" fill="#0c1406"/><rect x="235.0" y="140.2" width="4.2" height="4.2" fill="#2a4316"/><rect x="238.6" y="140.2" width="4.2" height="4.2" fill="#15220b"/><rect x="242.2" y="140.2" width="4.2" height="4.2" fill="#2a4216"/><rect x="245.8" y="140.2" width="4.2" height="4.2" fill="#213411"/><rect x="249.4" y="140.2" width="4.2" height="4.2" fill="#16230b"/><rect x="253.0" y="140.2" width="4.2" height="4.2" fill="#2d270e"/><rect x="256.6" y="140.2" width="4.2" height="4.2" fill="#51451a"/><rect x="141.4" y="143.8" width="4.2" height="4.2" fill="#131e0a"/><rect x="145.0" y="143.8" width="4.2" height="4.2" fill="#1a290e"/><rect x="148.6" y="143.8" width="4.2" height="4.2" fill="#1a2a0e"/><rect x="152.2" y="143.8" width="4.2" height="4.2" fill="#2f4b19"/><rect x="155.8" y="143.8" width="4.2" height="4.2" fill="#223612"/><rect x="159.4" y="143.8" width="4.2" height="4.2" fill="#1f3110"/><rect x="163.0" y="143.8" width="4.2" height="4.2" fill="#1b2b0e"/><rect x="166.6" y="143.8" width="4.2" height="4.2" fill="#263c14"/><rect x="170.2" y="143.8" width="4.2" height="4.2" fill="#2d4718"/><rect x="173.8" y="143.8" width="4.2" height="4.2" fill="#2e270f"/><rect x="177.4" y="143.8" width="4.2" height="4.2" fill="#233712"/><rect x="181.0" y="143.8" width="4.2" height="4.2" fill="#203311"/><rect x="184.6" y="143.8" width="4.2" height="4.2" fill="#283f15"/><rect x="188.2" y="143.8" width="4.2" height="4.2" fill="#111a09"/><rect x="191.8" y="143.8" width="4.2" height="4.2" fill="#27230d"/><rect x="195.4" y="143.8" width="4.2" height="4.2" fill="#633c17"/><rect x="199.0" y="143.8" width="4.2" height="4.2" fill="#77441b"/><rect x="202.6" y="143.8" width="4.2" height="4.2" fill="#3a210d"/><rect x="206.2" y="143.8" width="4.2" height="4.2" fill="#4e3113"/><rect x="209.8" y="143.8" width="4.2" height="4.2" fill="#3c270f"/><rect x="213.4" y="143.8" width="4.2" height="4.2" fill="#516426"/><rect x="217.0" y="143.8" width="4.2" height="4.2" fill="#3b3613"/><rect x="220.6" y="143.8" width="4.2" height="4.2" fill="#233612"/><rect x="224.2" y="143.8" width="4.2" height="4.2" fill="#15220b"/><rect x="227.8" y="143.8" width="4.2" height="4.2" fill="#1b2b0e"/><rect x="231.4" y="143.8" width="4.2" height="4.2" fill="#294015"/><rect x="235.0" y="143.8" width="4.2" height="4.2" fill="#19270d"/><rect x="238.6" y="143.8" width="4.2" height="4.2" fill="#293f15"/><rect x="242.2" y="143.8" width="4.2" height="4.2" fill="#2e270e"/><rect x="245.8" y="143.8" width="4.2" height="4.2" fill="#2c4717"/><rect x="249.4" y="143.8" width="4.2" height="4.2" fill="#284115"/><rect x="253.0" y="143.8" width="4.2" height="4.2" fill="#243a13"/><rect x="256.6" y="143.8" width="4.2" height="4.2" fill="#1f3110"/><rect x="141.4" y="147.4" width="4.2" height="4.2" fill="#243913"/><rect x="145.0" y="147.4" width="4.2" height="4.2" fill="#203311"/><rect x="148.6" y="147.4" width="4.2" height="4.2" fill="#0f1808"/><rect x="152.2" y="147.4" width="4.2" height="4.2" fill="#243a13"/><rect x="155.8" y="147.4" width="4.2" height="4.2" fill="#453c16"/><rect x="159.4" y="147.4" width="4.2" height="4.2" fill="#14210b"/><rect x="163.0" y="147.4" width="4.2" height="4.2" fill="#284015"/><rect x="166.6" y="147.4" width="4.2" height="4.2" fill="#3b6324"/><rect x="170.2" y="147.4" width="4.2" height="4.2" fill="#1b2c0e"/><rect x="173.8" y="147.4" width="4.2" height="4.2" fill="#352e11"/><rect x="177.4" y="147.4" width="4.2" height="4.2" fill="#312a0f"/><rect x="181.0" y="147.4" width="4.2" height="4.2" fill="#14200a"/><rect x="184.6" y="147.4" width="4.2" height="4.2" fill="#141f0a"/><rect x="188.2" y="147.4" width="4.2" height="4.2" fill="#3a4116"/><rect x="191.8" y="147.4" width="4.2" height="4.2" fill="#30200c"/><rect x="195.4" y="147.4" width="4.2" height="4.2" fill="#231207"/><rect x="199.0" y="147.4" width="4.2" height="4.2" fill="#673515"/><rect x="202.6" y="147.4" width="4.2" height="4.2" fill="#43481b"/><rect x="206.2" y="147.4" width="4.2" height="4.2" fill="#241207"/><rect x="209.8" y="147.4" width="4.2" height="4.2" fill="#462710"/><rect x="213.4" y="147.4" width="4.2" height="4.2" fill="#462710"/><rect x="217.0" y="147.4" width="4.2" height="4.2" fill="#5c3e17"/><rect x="220.6" y="147.4" width="4.2" height="4.2" fill="#2b3713"/><rect x="224.2" y="147.4" width="4.2" height="4.2" fill="#1e2f0f"/><rect x="227.8" y="147.4" width="4.2" height="4.2" fill="#233712"/><rect x="231.4" y="147.4" width="4.2" height="4.2" fill="#273e15"/><rect x="235.0" y="147.4" width="4.2" height="4.2" fill="#15210b"/><rect x="238.6" y="147.4" width="4.2" height="4.2" fill="#294015"/><rect x="242.2" y="147.4" width="4.2" height="4.2" fill="#355920"/><rect x="245.8" y="147.4" width="4.2" height="4.2" fill="#2d4818"/><rect x="249.4" y="147.4" width="4.2" height="4.2" fill="#1a290d"/><rect x="253.0" y="147.4" width="4.2" height="4.2" fill="#203311"/><rect x="256.6" y="147.4" width="4.2" height="4.2" fill="#362f11"/><rect x="141.4" y="151.0" width="4.2" height="4.2" fill="#19280d"/><rect x="145.0" y="151.0" width="4.2" height="4.2" fill="#273f15"/><rect x="148.6" y="151.0" width="4.2" height="4.2" fill="#233812"/><rect x="152.2" y="151.0" width="4.2" height="4.2" fill="#294216"/><rect x="155.8" y="151.0" width="4.2" height="4.2" fill="#233812"/><rect x="159.4" y="151.0" width="4.2" height="4.2" fill="#314f1a"/><rect x="163.0" y="151.0" width="4.2" height="4.2" fill="#223812"/><rect x="166.6" y="151.0" width="4.2" height="4.2" fill="#223712"/><rect x="170.2" y="151.0" width="4.2" height="4.2" fill="#213511"/><rect x="173.8" y="151.0" width="4.2" height="4.2" fill="#1e3110"/><rect x="177.4" y="151.0" width="4.2" height="4.2" fill="#273e14"/><rect x="181.0" y="151.0" width="4.2" height="4.2" fill="#4d4319"/><rect x="184.6" y="151.0" width="4.2" height="4.2" fill="#0d1507"/><rect x="188.2" y="151.0" width="4.2" height="4.2" fill="#22250d"/><rect x="191.8" y="151.0" width="4.2" height="4.2" fill="#3b471b"/><rect x="195.4" y="151.0" width="4.2" height="4.2" fill="#7f421a"/><rect x="199.0" y="151.0" width="4.2" height="4.2" fill="#331a0a"/><rect x="202.6" y="151.0" width="4.2" height="4.2" fill="#5e3013"/><rect x="206.2" y="151.0" width="4.2" height="4.2" fill="#42250f"/><rect x="209.8" y="151.0" width="4.2" height="4.2" fill="#3b200d"/><rect x="213.4" y="151.0" width="4.2" height="4.2" fill="#6d3816"/><rect x="217.0" y="151.0" width="4.2" height="4.2" fill="#2a3213"/><rect x="220.6" y="151.0" width="4.2" height="4.2" fill="#3a4b19"/><rect x="224.2" y="151.0" width="4.2" height="4.2" fill="#0f1808"/><rect x="227.8" y="151.0" width="4.2" height="4.2" fill="#273e14"/><rect x="231.4" y="151.0" width="4.2" height="4.2" fill="#19290d"/><rect x="235.0" y="151.0" width="4.2" height="4.2" fill="#3b3313"/><rect x="238.6" y="151.0" width="4.2" height="4.2" fill="#15220b"/><rect x="242.2" y="151.0" width="4.2" height="4.2" fill="#1a2a0e"/><rect x="245.8" y="151.0" width="4.2" height="4.2" fill="#2d4818"/><rect x="249.4" y="151.0" width="4.2" height="4.2" fill="#302a0f"/><rect x="253.0" y="151.0" width="4.2" height="4.2" fill="#16240c"/><rect x="256.6" y="151.0" width="4.2" height="4.2" fill="#3a3313"/><rect x="141.4" y="154.6" width="4.2" height="4.2" fill="#223612"/><rect x="145.0" y="154.6" width="4.2" height="4.2" fill="#15220b"/><rect x="148.6" y="154.6" width="4.2" height="4.2" fill="#19290d"/><rect x="152.2" y="154.6" width="4.2" height="4.2" fill="#2a4316"/><rect x="155.8" y="154.6" width="4.2" height="4.2" fill="#1f3310"/><rect x="159.4" y="154.6" width="4.2" height="4.2" fill="#2a4517"/><rect x="163.0" y="154.6" width="4.2" height="4.2" fill="#31501a"/><rect x="166.6" y="154.6" width="4.2" height="4.2" fill="#2a4619"/><rect x="170.2" y="154.6" width="4.2" height="4.2" fill="#16240c"/><rect x="173.8" y="154.6" width="4.2" height="4.2" fill="#19280d"/><rect x="177.4" y="154.6" width="4.2" height="4.2" fill="#1f3210"/><rect x="181.0" y="154.6" width="4.2" height="4.2" fill="#253c14"/><rect x="184.6" y="154.6" width="4.2" height="4.2" fill="#213411"/><rect x="188.2" y="154.6" width="4.2" height="4.2" fill="#446826"/><rect x="191.8" y="154.6" width="4.2" height="4.2" fill="#3c2f11"/><rect x="195.4" y="154.6" width="4.2" height="4.2" fill="#3e220d"/><rect x="199.0" y="154.6" width="4.2" height="4.2" fill="#76421b"/><rect x="202.6" y="154.6" width="4.2" height="4.2" fill="#4d2710"/><rect x="206.2" y="154.6" width="4.2" height="4.2" fill="#4e2810"/><rect x="209.8" y="154.6" width="4.2" height="4.2" fill="#7c3f1a"/><rect x="213.4" y="154.6" width="4.2" height="4.2" fill="#5d3013"/><rect x="217.0" y="154.6" width="4.2" height="4.2" fill="#483714"/><rect x="220.6" y="154.6" width="4.2" height="4.2" fill="#30290f"/><rect x="224.2" y="154.6" width="4.2" height="4.2" fill="#15210b"/><rect x="227.8" y="154.6" width="4.2" height="4.2" fill="#1e3110"/><rect x="231.4" y="154.6" width="4.2" height="4.2" fill="#18260c"/><rect x="235.0" y="154.6" width="4.2" height="4.2" fill="#32531e"/><rect x="238.6" y="154.6" width="4.2" height="4.2" fill="#273e14"/><rect x="242.2" y="154.6" width="4.2" height="4.2" fill="#32541f"/><rect x="245.8" y="154.6" width="4.2" height="4.2" fill="#2d4918"/><rect x="249.4" y="154.6" width="4.2" height="4.2" fill="#18260d"/><rect x="253.0" y="154.6" width="4.2" height="4.2" fill="#0a1105"/><rect x="256.6" y="154.6" width="4.2" height="4.2" fill="#2f4c19"/><rect x="141.4" y="158.2" width="4.2" height="4.2" fill="#283f15"/><rect x="145.0" y="158.2" width="4.2" height="4.2" fill="#253b14"/><rect x="148.6" y="158.2" width="4.2" height="4.2" fill="#2e4a18"/><rect x="152.2" y="158.2" width="4.2" height="4.2" fill="#2a250e"/><rect x="155.8" y="158.2" width="4.2" height="4.2" fill="#2a4416"/><rect x="159.4" y="158.2" width="4.2" height="4.2" fill="#2d4a18"/><rect x="163.0" y="158.2" width="4.2" height="4.2" fill="#1c2e0f"/><rect x="166.6" y="158.2" width="4.2" height="4.2" fill="#0e1808"/><rect x="170.2" y="158.2" width="4.2" height="4.2" fill="#15230b"/><rect x="173.8" y="158.2" width="4.2" height="4.2" fill="#273f15"/><rect x="177.4" y="158.2" width="4.2" height="4.2" fill="#26210c"/><rect x="181.0" y="158.2" width="4.2" height="4.2" fill="#19280d"/><rect x="184.6" y="158.2" width="4.2" height="4.2" fill="#3e3614"/><rect x="188.2" y="158.2" width="4.2" height="4.2" fill="#2e4316"/><rect x="191.8" y="158.2" width="4.2" height="4.2" fill="#3f3b15"/><rect x="195.4" y="158.2" width="4.2" height="4.2" fill="#6c421a"/><rect x="199.0" y="158.2" width="4.2" height="4.2" fill="#773d19"/><rect x="202.6" y="158.2" width="4.2" height="4.2" fill="#5d3013"/><rect x="206.2" y="158.2" width="4.2" height="4.2" fill="#693515"/><rect x="209.8" y="158.2" width="4.2" height="4.2" fill="#6b3b18"/><rect x="213.4" y="158.2" width="4.2" height="4.2" fill="#593113"/><rect x="217.0" y="158.2" width="4.2" height="4.2" fill="#4e3a16"/><rect x="220.6" y="158.2" width="4.2" height="4.2" fill="#483f17"/><rect x="224.2" y="158.2" width="4.2" height="4.2" fill="#28230d"/><rect x="227.8" y="158.2" width="4.2" height="4.2" fill="#2f4d19"/><rect x="231.4" y="158.2" width="4.2" height="4.2" fill="#473e17"/><rect x="235.0" y="158.2" width="4.2" height="4.2" fill="#253c14"/><rect x="238.6" y="158.2" width="4.2" height="4.2" fill="#253b13"/><rect x="242.2" y="158.2" width="4.2" height="4.2" fill="#273f15"/><rect x="245.8" y="158.2" width="4.2" height="4.2" fill="#484018"/><rect x="249.4" y="158.2" width="4.2" height="4.2" fill="#16240c"/><rect x="253.0" y="158.2" width="4.2" height="4.2" fill="#213612"/><rect x="256.6" y="158.2" width="4.2" height="4.2" fill="#16240c"/><rect x="141.4" y="161.8" width="4.2" height="4.2" fill="#213311"/><rect x="145.0" y="161.8" width="4.2" height="4.2" fill="#16220b"/><rect x="148.6" y="161.8" width="4.2" height="4.2" fill="#26210c"/><rect x="152.2" y="161.8" width="4.2" height="4.2" fill="#2a4216"/><rect x="155.8" y="161.8" width="4.2" height="4.2" fill="#273e15"/><rect x="159.4" y="161.8" width="4.2" height="4.2" fill="#14210b"/><rect x="163.0" y="161.8" width="4.2" height="4.2" fill="#16240b"/><rect x="166.6" y="161.8" width="4.2" height="4.2" fill="#2e4a18"/><rect x="170.2" y="161.8" width="4.2" height="4.2" fill="#18270d"/><rect x="173.8" y="161.8" width="4.2" height="4.2" fill="#284115"/><rect x="177.4" y="161.8" width="4.2" height="4.2" fill="#263c14"/><rect x="181.0" y="161.8" width="4.2" height="4.2" fill="#0c1406"/><rect x="184.6" y="161.8" width="4.2" height="4.2" fill="#4e4419"/><rect x="188.2" y="161.8" width="4.2" height="4.2" fill="#203311"/><rect x="191.8" y="161.8" width="4.2" height="4.2" fill="#1a200b"/><rect x="195.4" y="161.8" width="4.2" height="4.2" fill="#564319"/><rect x="199.0" y="161.8" width="4.2" height="4.2" fill="#424b1d"/><rect x="202.6" y="161.8" width="4.2" height="4.2" fill="#5a6125"/><rect x="206.2" y="161.8" width="4.2" height="4.2" fill="#303314"/><rect x="209.8" y="161.8" width="4.2" height="4.2" fill="#4a2910"/><rect x="213.4" y="161.8" width="4.2" height="4.2" fill="#171307"/><rect x="217.0" y="161.8" width="4.2" height="4.2" fill="#283913"/><rect x="220.6" y="161.8" width="4.2" height="4.2" fill="#223612"/><rect x="224.2" y="161.8" width="4.2" height="4.2" fill="#243a13"/><rect x="227.8" y="161.8" width="4.2" height="4.2" fill="#284115"/><rect x="231.4" y="161.8" width="4.2" height="4.2" fill="#1d3112"/><rect x="235.0" y="161.8" width="4.2" height="4.2" fill="#0c1306"/><rect x="238.6" y="161.8" width="4.2" height="4.2" fill="#2a4416"/><rect x="242.2" y="161.8" width="4.2" height="4.2" fill="#263d14"/><rect x="245.8" y="161.8" width="4.2" height="4.2" fill="#0d1607"/><rect x="249.4" y="161.8" width="4.2" height="4.2" fill="#2a4416"/><rect x="253.0" y="161.8" width="4.2" height="4.2" fill="#3c3614"/><rect x="256.6" y="161.8" width="4.2" height="4.2" fill="#3a6123"/><rect x="141.4" y="165.4" width="4.2" height="4.2" fill="#1b2a0e"/><rect x="145.0" y="165.4" width="4.2" height="4.2" fill="#213714"/><rect x="148.6" y="165.4" width="4.2" height="4.2" fill="#473c17"/><rect x="152.2" y="165.4" width="4.2" height="4.2" fill="#253b13"/><rect x="155.8" y="165.4" width="4.2" height="4.2" fill="#1f3110"/><rect x="159.4" y="165.4" width="4.2" height="4.2" fill="#2e4a18"/><rect x="163.0" y="165.4" width="4.2" height="4.2" fill="#2e4d1c"/><rect x="166.6" y="165.4" width="4.2" height="4.2" fill="#263e14"/><rect x="170.2" y="165.4" width="4.2" height="4.2" fill="#233812"/><rect x="173.8" y="165.4" width="4.2" height="4.2" fill="#284015"/><rect x="177.4" y="165.4" width="4.2" height="4.2" fill="#203311"/><rect x="181.0" y="165.4" width="4.2" height="4.2" fill="#253b13"/><rect x="184.6" y="165.4" width="4.2" height="4.2" fill="#393112"/><rect x="188.2" y="165.4" width="4.2" height="4.2" fill="#263c14"/><rect x="191.8" y="165.4" width="4.2" height="4.2" fill="#243813"/><rect x="195.4" y="165.4" width="4.2" height="4.2" fill="#304116"/><rect x="199.0" y="165.4" width="4.2" height="4.2" fill="#3c3d15"/><rect x="202.6" y="165.4" width="4.2" height="4.2" fill="#2e280e"/><rect x="206.2" y="165.4" width="4.2" height="4.2" fill="#222e11"/><rect x="209.8" y="165.4" width="4.2" height="4.2" fill="#22250d"/><rect x="213.4" y="165.4" width="4.2" height="4.2" fill="#294015"/><rect x="217.0" y="165.4" width="4.2" height="4.2" fill="#233812"/><rect x="220.6" y="165.4" width="4.2" height="4.2" fill="#2f290f"/><rect x="224.2" y="165.4" width="4.2" height="4.2" fill="#131f0a"/><rect x="227.8" y="165.4" width="4.2" height="4.2" fill="#4d4319"/><rect x="231.4" y="165.4" width="4.2" height="4.2" fill="#1e3010"/><rect x="235.0" y="165.4" width="4.2" height="4.2" fill="#0b1206"/><rect x="238.6" y="165.4" width="4.2" height="4.2" fill="#3b6324"/><rect x="242.2" y="165.4" width="4.2" height="4.2" fill="#17260c"/><rect x="245.8" y="165.4" width="4.2" height="4.2" fill="#1e3110"/><rect x="249.4" y="165.4" width="4.2" height="4.2" fill="#51481b"/><rect x="253.0" y="165.4" width="4.2" height="4.2" fill="#203513"/><rect x="256.6" y="165.4" width="4.2" height="4.2" fill="#203614"/><rect x="141.4" y="169.0" width="4.2" height="4.2" fill="#1d2d0f"/><rect x="145.0" y="169.0" width="4.2" height="4.2" fill="#0e1707"/><rect x="148.6" y="169.0" width="4.2" height="4.2" fill="#253a13"/><rect x="152.2" y="169.0" width="4.2" height="4.2" fill="#294216"/><rect x="155.8" y="169.0" width="4.2" height="4.2" fill="#2a4316"/><rect x="159.4" y="169.0" width="4.2" height="4.2" fill="#2c4818"/><rect x="163.0" y="169.0" width="4.2" height="4.2" fill="#2a4619"/><rect x="166.6" y="169.0" width="4.2" height="4.2" fill="#304d19"/><rect x="170.2" y="169.0" width="4.2" height="4.2" fill="#233812"/><rect x="173.8" y="169.0" width="4.2" height="4.2" fill="#263d14"/><rect x="177.4" y="169.0" width="4.2" height="4.2" fill="#2d4718"/><rect x="181.0" y="169.0" width="4.2" height="4.2" fill="#2e4818"/><rect x="184.6" y="169.0" width="4.2" height="4.2" fill="#3d6625"/><rect x="188.2" y="169.0" width="4.2" height="4.2" fill="#322b10"/><rect x="191.8" y="169.0" width="4.2" height="4.2" fill="#233712"/><rect x="195.4" y="169.0" width="4.2" height="4.2" fill="#1c2d0f"/><rect x="199.0" y="169.0" width="4.2" height="4.2" fill="#322b10"/><rect x="202.6" y="169.0" width="4.2" height="4.2" fill="#203211"/><rect x="206.2" y="169.0" width="4.2" height="4.2" fill="#0f1808"/><rect x="209.8" y="169.0" width="4.2" height="4.2" fill="#1f3110"/><rect x="213.4" y="169.0" width="4.2" height="4.2" fill="#273e15"/><rect x="217.0" y="169.0" width="4.2" height="4.2" fill="#203311"/><rect x="220.6" y="169.0" width="4.2" height="4.2" fill="#131e0a"/><rect x="224.2" y="169.0" width="4.2" height="4.2" fill="#17250c"/><rect x="227.8" y="169.0" width="4.2" height="4.2" fill="#2f4d19"/><rect x="231.4" y="169.0" width="4.2" height="4.2" fill="#2d4c1c"/><rect x="235.0" y="169.0" width="4.2" height="4.2" fill="#463e17"/><rect x="238.6" y="169.0" width="4.2" height="4.2" fill="#2c4717"/><rect x="242.2" y="169.0" width="4.2" height="4.2" fill="#2c4818"/><rect x="245.8" y="169.0" width="4.2" height="4.2" fill="#273f15"/><rect x="249.4" y="169.0" width="4.2" height="4.2" fill="#131f0a"/><rect x="253.0" y="169.0" width="4.2" height="4.2" fill="#203511"/><rect x="256.6" y="169.0" width="4.2" height="4.2" fill="#544a1b"/><rect x="141.4" y="172.6" width="4.2" height="4.2" fill="#2a4116"/><rect x="145.0" y="172.6" width="4.2" height="4.2" fill="#3a3213"/><rect x="148.6" y="172.6" width="4.2" height="4.2" fill="#223612"/><rect x="152.2" y="172.6" width="4.2" height="4.2" fill="#1a2a0e"/><rect x="155.8" y="172.6" width="4.2" height="4.2" fill="#345720"/><rect x="159.4" y="172.6" width="4.2" height="4.2" fill="#273f15"/><rect x="163.0" y="172.6" width="4.2" height="4.2" fill="#413a15"/><rect x="166.6" y="172.6" width="4.2" height="4.2" fill="#363012"/><rect x="170.2" y="172.6" width="4.2" height="4.2" fill="#263d14"/><rect x="173.8" y="172.6" width="4.2" height="4.2" fill="#263d14"/><rect x="177.4" y="172.6" width="4.2" height="4.2" fill="#16230b"/><rect x="181.0" y="172.6" width="4.2" height="4.2" fill="#2c4517"/><rect x="184.6" y="172.6" width="4.2" height="4.2" fill="#243813"/><rect x="188.2" y="172.6" width="4.2" height="4.2" fill="#1f3110"/><rect x="191.8" y="172.6" width="4.2" height="4.2" fill="#2c4617"/><rect x="195.4" y="172.6" width="4.2" height="4.2" fill="#294216"/><rect x="199.0" y="172.6" width="4.2" height="4.2" fill="#332d10"/><rect x="202.6" y="172.6" width="4.2" height="4.2" fill="#403815"/><rect x="206.2" y="172.6" width="4.2" height="4.2" fill="#1c2e0f"/><rect x="209.8" y="172.6" width="4.2" height="4.2" fill="#1f3110"/><rect x="213.4" y="172.6" width="4.2" height="4.2" fill="#2b481a"/><rect x="217.0" y="172.6" width="4.2" height="4.2" fill="#223512"/><rect x="220.6" y="172.6" width="4.2" height="4.2" fill="#2e4918"/><rect x="224.2" y="172.6" width="4.2" height="4.2" fill="#2f4c19"/><rect x="227.8" y="172.6" width="4.2" height="4.2" fill="#2c4818"/><rect x="231.4" y="172.6" width="4.2" height="4.2" fill="#314f1a"/><rect x="235.0" y="172.6" width="4.2" height="4.2" fill="#1e3010"/><rect x="238.6" y="172.6" width="4.2" height="4.2" fill="#17240c"/><rect x="242.2" y="172.6" width="4.2" height="4.2" fill="#2e4918"/><rect x="245.8" y="172.6" width="4.2" height="4.2" fill="#203411"/><rect x="249.4" y="172.6" width="4.2" height="4.2" fill="#131f0a"/><rect x="253.0" y="172.6" width="4.2" height="4.2" fill="#1d2f0f"/><rect x="256.6" y="172.6" width="4.2" height="4.2" fill="#15220b"/><rect x="141.4" y="176.2" width="4.2" height="4.2" fill="#1f3010"/><rect x="145.0" y="176.2" width="4.2" height="4.2" fill="#15220b"/><rect x="148.6" y="176.2" width="4.2" height="4.2" fill="#233912"/><rect x="152.2" y="176.2" width="4.2" height="4.2" fill="#16240c"/><rect x="155.8" y="176.2" width="4.2" height="4.2" fill="#2c4717"/><rect x="159.4" y="176.2" width="4.2" height="4.2" fill="#274015"/><rect x="163.0" y="176.2" width="4.2" height="4.2" fill="#263e14"/><rect x="166.6" y="176.2" width="4.2" height="4.2" fill="#14220b"/><rect x="170.2" y="176.2" width="4.2" height="4.2" fill="#1e3110"/><rect x="173.8" y="176.2" width="4.2" height="4.2" fill="#2b260e"/><rect x="177.4" y="176.2" width="4.2" height="4.2" fill="#1a2a0e"/><rect x="181.0" y="176.2" width="4.2" height="4.2" fill="#1f3010"/><rect x="184.6" y="176.2" width="4.2" height="4.2" fill="#504419"/><rect x="188.2" y="176.2" width="4.2" height="4.2" fill="#2a4116"/><rect x="191.8" y="176.2" width="4.2" height="4.2" fill="#1c2d0f"/><rect x="195.4" y="176.2" width="4.2" height="4.2" fill="#213511"/><rect x="199.0" y="176.2" width="4.2" height="4.2" fill="#16240b"/><rect x="202.6" y="176.2" width="4.2" height="4.2" fill="#17250c"/><rect x="206.2" y="176.2" width="4.2" height="4.2" fill="#1e3110"/><rect x="209.8" y="176.2" width="4.2" height="4.2" fill="#494118"/><rect x="213.4" y="176.2" width="4.2" height="4.2" fill="#15210b"/><rect x="217.0" y="176.2" width="4.2" height="4.2" fill="#19270d"/><rect x="220.6" y="176.2" width="4.2" height="4.2" fill="#3a6023"/><rect x="224.2" y="176.2" width="4.2" height="4.2" fill="#416d28"/><rect x="227.8" y="176.2" width="4.2" height="4.2" fill="#1d2f0f"/><rect x="231.4" y="176.2" width="4.2" height="4.2" fill="#19290d"/><rect x="235.0" y="176.2" width="4.2" height="4.2" fill="#273f15"/><rect x="238.6" y="176.2" width="4.2" height="4.2" fill="#2e4818"/><rect x="242.2" y="176.2" width="4.2" height="4.2" fill="#2c491b"/><rect x="245.8" y="176.2" width="4.2" height="4.2" fill="#2a4416"/><rect x="249.4" y="176.2" width="4.2" height="4.2" fill="#203311"/><rect x="253.0" y="176.2" width="4.2" height="4.2" fill="#0b1106"/><rect x="256.6" y="176.2" width="4.2" height="4.2" fill="#2b4316"/><rect x="141.4" y="179.8" width="4.2" height="4.2" fill="#17260c"/><rect x="145.0" y="179.8" width="4.2" height="4.2" fill="#0c1406"/><rect x="148.6" y="179.8" width="4.2" height="4.2" fill="#322c10"/><rect x="152.2" y="179.8" width="4.2" height="4.2" fill="#223812"/><rect x="155.8" y="179.8" width="4.2" height="4.2" fill="#2e4a18"/><rect x="159.4" y="179.8" width="4.2" height="4.2" fill="#19280d"/><rect x="163.0" y="179.8" width="4.2" height="4.2" fill="#213712"/><rect x="166.6" y="179.8" width="4.2" height="4.2" fill="#304e1a"/><rect x="170.2" y="179.8" width="4.2" height="4.2" fill="#2e4a18"/><rect x="173.8" y="179.8" width="4.2" height="4.2" fill="#111c09"/><rect x="177.4" y="179.8" width="4.2" height="4.2" fill="#2c4617"/><rect x="181.0" y="179.8" width="4.2" height="4.2" fill="#1f3413"/><rect x="184.6" y="179.8" width="4.2" height="4.2" fill="#1d2d0f"/><rect x="188.2" y="179.8" width="4.2" height="4.2" fill="#2a240d"/><rect x="191.8" y="179.8" width="4.2" height="4.2" fill="#1f3210"/><rect x="195.4" y="179.8" width="4.2" height="4.2" fill="#294115"/><rect x="199.0" y="179.8" width="4.2" height="4.2" fill="#1c2c0e"/><rect x="202.6" y="179.8" width="4.2" height="4.2" fill="#213611"/><rect x="206.2" y="179.8" width="4.2" height="4.2" fill="#2c270e"/><rect x="209.8" y="179.8" width="4.2" height="4.2" fill="#17250c"/><rect x="213.4" y="179.8" width="4.2" height="4.2" fill="#16230c"/><rect x="217.0" y="179.8" width="4.2" height="4.2" fill="#253a13"/><rect x="220.6" y="179.8" width="4.2" height="4.2" fill="#1b2c0e"/><rect x="224.2" y="179.8" width="4.2" height="4.2" fill="#101a08"/><rect x="227.8" y="179.8" width="4.2" height="4.2" fill="#31501a"/><rect x="231.4" y="179.8" width="4.2" height="4.2" fill="#1d2f0f"/><rect x="235.0" y="179.8" width="4.2" height="4.2" fill="#3e6826"/><rect x="238.6" y="179.8" width="4.2" height="4.2" fill="#2e4a19"/><rect x="242.2" y="179.8" width="4.2" height="4.2" fill="#2b4417"/><rect x="245.8" y="179.8" width="4.2" height="4.2" fill="#274015"/><rect x="249.4" y="179.8" width="4.2" height="4.2" fill="#304d19"/><rect x="253.0" y="179.8" width="4.2" height="4.2" fill="#294116"/><rect x="256.6" y="179.8" width="4.2" height="4.2" fill="#2a4316"/><rect x="141.4" y="183.4" width="4.2" height="4.2" fill="#3e3714"/><rect x="145.0" y="183.4" width="4.2" height="4.2" fill="#2e4a18"/><rect x="148.6" y="183.4" width="4.2" height="4.2" fill="#192a0d"/><rect x="152.2" y="183.4" width="4.2" height="4.2" fill="#203511"/><rect x="155.8" y="183.4" width="4.2" height="4.2" fill="#1e3110"/><rect x="159.4" y="183.4" width="4.2" height="4.2" fill="#233913"/><rect x="163.0" y="183.4" width="4.2" height="4.2" fill="#213511"/><rect x="166.6" y="183.4" width="4.2" height="4.2" fill="#2b471a"/><rect x="170.2" y="183.4" width="4.2" height="4.2" fill="#2a4517"/><rect x="173.8" y="183.4" width="4.2" height="4.2" fill="#17260c"/><rect x="177.4" y="183.4" width="4.2" height="4.2" fill="#213612"/><rect x="181.0" y="183.4" width="4.2" height="4.2" fill="#3c3514"/><rect x="184.6" y="183.4" width="4.2" height="4.2" fill="#233813"/><rect x="188.2" y="183.4" width="4.2" height="4.2" fill="#19280d"/><rect x="191.8" y="183.4" width="4.2" height="4.2" fill="#322c10"/><rect x="195.4" y="183.4" width="4.2" height="4.2" fill="#15220b"/><rect x="199.0" y="183.4" width="4.2" height="4.2" fill="#1a2a0e"/><rect x="202.6" y="183.4" width="4.2" height="4.2" fill="#1d2d0f"/><rect x="206.2" y="183.4" width="4.2" height="4.2" fill="#213512"/><rect x="209.8" y="183.4" width="4.2" height="4.2" fill="#2c4617"/><rect x="213.4" y="183.4" width="4.2" height="4.2" fill="#2c4617"/><rect x="217.0" y="183.4" width="4.2" height="4.2" fill="#375c21"/><rect x="220.6" y="183.4" width="4.2" height="4.2" fill="#19280d"/><rect x="224.2" y="183.4" width="4.2" height="4.2" fill="#243b13"/><rect x="227.8" y="183.4" width="4.2" height="4.2" fill="#31501a"/><rect x="231.4" y="183.4" width="4.2" height="4.2" fill="#1d2f0f"/><rect x="235.0" y="183.4" width="4.2" height="4.2" fill="#2b4617"/><rect x="238.6" y="183.4" width="4.2" height="4.2" fill="#17250c"/><rect x="242.2" y="183.4" width="4.2" height="4.2" fill="#121d09"/><rect x="245.8" y="183.4" width="4.2" height="4.2" fill="#253b13"/><rect x="249.4" y="183.4" width="4.2" height="4.2" fill="#2a4416"/><rect x="253.0" y="183.4" width="4.2" height="4.2" fill="#443b16"/><rect x="256.6" y="183.4" width="4.2" height="4.2" fill="#263c14"/><rect x="141.4" y="187.0" width="4.2" height="4.2" fill="#253d14"/><rect x="145.0" y="187.0" width="4.2" height="4.2" fill="#2c4817"/><rect x="148.6" y="187.0" width="4.2" height="4.2" fill="#2e4c19"/><rect x="152.2" y="187.0" width="4.2" height="4.2" fill="#16240c"/><rect x="155.8" y="187.0" width="4.2" height="4.2" fill="#16240c"/><rect x="159.4" y="187.0" width="4.2" height="4.2" fill="#2b4417"/><rect x="163.0" y="187.0" width="4.2" height="4.2" fill="#223915"/><rect x="166.6" y="187.0" width="4.2" height="4.2" fill="#253d16"/><rect x="170.2" y="187.0" width="4.2" height="4.2" fill="#294619"/><rect x="173.8" y="187.0" width="4.2" height="4.2" fill="#413b15"/><rect x="177.4" y="187.0" width="4.2" height="4.2" fill="#1c2e0f"/><rect x="181.0" y="187.0" width="4.2" height="4.2" fill="#16230b"/><rect x="184.6" y="187.0" width="4.2" height="4.2" fill="#383112"/><rect x="188.2" y="187.0" width="4.2" height="4.2" fill="#2e4a18"/><rect x="191.8" y="187.0" width="4.2" height="4.2" fill="#1e2f0f"/><rect x="195.4" y="187.0" width="4.2" height="4.2" fill="#17240c"/><rect x="199.0" y="187.0" width="4.2" height="4.2" fill="#253a13"/><rect x="202.6" y="187.0" width="4.2" height="4.2" fill="#14200b"/><rect x="206.2" y="187.0" width="4.2" height="4.2" fill="#1d2d0f"/><rect x="209.8" y="187.0" width="4.2" height="4.2" fill="#16230c"/><rect x="213.4" y="187.0" width="4.2" height="4.2" fill="#453c16"/><rect x="217.0" y="187.0" width="4.2" height="4.2" fill="#14200a"/><rect x="220.6" y="187.0" width="4.2" height="4.2" fill="#16230b"/><rect x="224.2" y="187.0" width="4.2" height="4.2" fill="#2b4617"/><rect x="227.8" y="187.0" width="4.2" height="4.2" fill="#1d2f0f"/><rect x="231.4" y="187.0" width="4.2" height="4.2" fill="#18270d"/><rect x="235.0" y="187.0" width="4.2" height="4.2" fill="#131f0a"/><rect x="238.6" y="187.0" width="4.2" height="4.2" fill="#1f3311"/><rect x="242.2" y="187.0" width="4.2" height="4.2" fill="#304e19"/><rect x="245.8" y="187.0" width="4.2" height="4.2" fill="#1b2c0e"/><rect x="249.4" y="187.0" width="4.2" height="4.2" fill="#53491b"/><rect x="253.0" y="187.0" width="4.2" height="4.2" fill="#223612"/><rect x="256.6" y="187.0" width="4.2" height="4.2" fill="#18260d"/><rect x="141.4" y="190.6" width="4.2" height="4.2" fill="#1e3010"/><rect x="145.0" y="190.6" width="4.2" height="4.2" fill="#2c4717"/><rect x="148.6" y="190.6" width="4.2" height="4.2" fill="#51481a"/><rect x="152.2" y="190.6" width="4.2" height="4.2" fill="#2b4617"/><rect x="155.8" y="190.6" width="4.2" height="4.2" fill="#2f4f1d"/><rect x="159.4" y="190.6" width="4.2" height="4.2" fill="#111b09"/><rect x="163.0" y="190.6" width="4.2" height="4.2" fill="#4b4118"/><rect x="166.6" y="190.6" width="4.2" height="4.2" fill="#2b4517"/><rect x="170.2" y="190.6" width="4.2" height="4.2" fill="#243b13"/><rect x="173.8" y="190.6" width="4.2" height="4.2" fill="#453e17"/><rect x="177.4" y="190.6" width="4.2" height="4.2" fill="#243b13"/><rect x="181.0" y="190.6" width="4.2" height="4.2" fill="#1d300f"/><rect x="184.6" y="190.6" width="4.2" height="4.2" fill="#233a13"/><rect x="188.2" y="190.6" width="4.2" height="4.2" fill="#1a2a0e"/><rect x="191.8" y="190.6" width="4.2" height="4.2" fill="#1d2f0f"/><rect x="195.4" y="190.6" width="4.2" height="4.2" fill="#2c4517"/><rect x="199.0" y="190.6" width="4.2" height="4.2" fill="#18260c"/><rect x="202.6" y="190.6" width="4.2" height="4.2" fill="#51461a"/><rect x="206.2" y="190.6" width="4.2" height="4.2" fill="#15220b"/><rect x="209.8" y="190.6" width="4.2" height="4.2" fill="#2a4316"/><rect x="213.4" y="190.6" width="4.2" height="4.2" fill="#2b4517"/><rect x="217.0" y="190.6" width="4.2" height="4.2" fill="#213511"/><rect x="220.6" y="190.6" width="4.2" height="4.2" fill="#1e3110"/><rect x="224.2" y="190.6" width="4.2" height="4.2" fill="#274118"/><rect x="227.8" y="190.6" width="4.2" height="4.2" fill="#15230b"/><rect x="231.4" y="190.6" width="4.2" height="4.2" fill="#284115"/><rect x="235.0" y="190.6" width="4.2" height="4.2" fill="#1c2e0f"/><rect x="238.6" y="190.6" width="4.2" height="4.2" fill="#18280d"/><rect x="242.2" y="190.6" width="4.2" height="4.2" fill="#2e4b19"/><rect x="245.8" y="190.6" width="4.2" height="4.2" fill="#243a13"/><rect x="249.4" y="190.6" width="4.2" height="4.2" fill="#131f0a"/><rect x="253.0" y="190.6" width="4.2" height="4.2" fill="#283f15"/><rect x="256.6" y="190.6" width="4.2" height="4.2" fill="#2c4517"/><rect x="141.4" y="194.2" width="4.2" height="4.2" fill="#16230b"/><rect x="145.0" y="194.2" width="4.2" height="4.2" fill="#273d14"/><rect x="148.6" y="194.2" width="4.2" height="4.2" fill="#1f3110"/><rect x="152.2" y="194.2" width="4.2" height="4.2" fill="#1d2e0f"/><rect x="155.8" y="194.2" width="4.2" height="4.2" fill="#2b4416"/><rect x="159.4" y="194.2" width="4.2" height="4.2" fill="#203211"/><rect x="163.0" y="194.2" width="4.2" height="4.2" fill="#1b2a0e"/><rect x="166.6" y="194.2" width="4.2" height="4.2" fill="#2a4316"/><rect x="170.2" y="194.2" width="4.2" height="4.2" fill="#2b4517"/><rect x="173.8" y="194.2" width="4.2" height="4.2" fill="#2b4617"/><rect x="177.4" y="194.2" width="4.2" height="4.2" fill="#304f1a"/><rect x="181.0" y="194.2" width="4.2" height="4.2" fill="#352f11"/><rect x="184.6" y="194.2" width="4.2" height="4.2" fill="#2c4817"/><rect x="188.2" y="194.2" width="4.2" height="4.2" fill="#16230b"/><rect x="191.8" y="194.2" width="4.2" height="4.2" fill="#273e14"/><rect x="195.4" y="194.2" width="4.2" height="4.2" fill="#17240c"/><rect x="199.0" y="194.2" width="4.2" height="4.2" fill="#233812"/><rect x="202.6" y="194.2" width="4.2" height="4.2" fill="#433a16"/><rect x="206.2" y="194.2" width="4.2" height="4.2" fill="#203311"/><rect x="209.8" y="194.2" width="4.2" height="4.2" fill="#16230b"/><rect x="213.4" y="194.2" width="4.2" height="4.2" fill="#2d4818"/><rect x="217.0" y="194.2" width="4.2" height="4.2" fill="#294216"/><rect x="220.6" y="194.2" width="4.2" height="4.2" fill="#2d4918"/><rect x="224.2" y="194.2" width="4.2" height="4.2" fill="#284115"/><rect x="227.8" y="194.2" width="4.2" height="4.2" fill="#203411"/><rect x="231.4" y="194.2" width="4.2" height="4.2" fill="#17260c"/><rect x="235.0" y="194.2" width="4.2" height="4.2" fill="#31531e"/><rect x="238.6" y="194.2" width="4.2" height="4.2" fill="#0d1507"/><rect x="242.2" y="194.2" width="4.2" height="4.2" fill="#2a4516"/><rect x="245.8" y="194.2" width="4.2" height="4.2" fill="#223612"/><rect x="249.4" y="194.2" width="4.2" height="4.2" fill="#243a13"/><rect x="253.0" y="194.2" width="4.2" height="4.2" fill="#50461a"/><rect x="256.6" y="194.2" width="4.2" height="4.2" fill="#16230b"/><rect x="141.4" y="197.8" width="4.2" height="4.2" fill="#294015"/><rect x="145.0" y="197.8" width="4.2" height="4.2" fill="#0d1507"/><rect x="148.6" y="197.8" width="4.2" height="4.2" fill="#294116"/><rect x="152.2" y="197.8" width="4.2" height="4.2" fill="#1f3010"/><rect x="155.8" y="197.8" width="4.2" height="4.2" fill="#17250c"/><rect x="159.4" y="197.8" width="4.2" height="4.2" fill="#1b2a0e"/><rect x="163.0" y="197.8" width="4.2" height="4.2" fill="#223411"/><rect x="166.6" y="197.8" width="4.2" height="4.2" fill="#213411"/><rect x="170.2" y="197.8" width="4.2" height="4.2" fill="#1b2c0e"/><rect x="173.8" y="197.8" width="4.2" height="4.2" fill="#1a2b0e"/><rect x="177.4" y="197.8" width="4.2" height="4.2" fill="#1a2b0e"/><rect x="181.0" y="197.8" width="4.2" height="4.2" fill="#4b4319"/><rect x="184.6" y="197.8" width="4.2" height="4.2" fill="#1a2b0e"/><rect x="188.2" y="197.8" width="4.2" height="4.2" fill="#243d16"/><rect x="191.8" y="197.8" width="4.2" height="4.2" fill="#3c3413"/><rect x="195.4" y="197.8" width="4.2" height="4.2" fill="#1d2e0f"/><rect x="199.0" y="197.8" width="4.2" height="4.2" fill="#2c4517"/><rect x="202.6" y="197.8" width="4.2" height="4.2" fill="#2c4617"/><rect x="206.2" y="197.8" width="4.2" height="4.2" fill="#1b2b0e"/><rect x="209.8" y="197.8" width="4.2" height="4.2" fill="#243a13"/><rect x="213.4" y="197.8" width="4.2" height="4.2" fill="#18270d"/><rect x="217.0" y="197.8" width="4.2" height="4.2" fill="#0d1607"/><rect x="220.6" y="197.8" width="4.2" height="4.2" fill="#2f4c19"/><rect x="224.2" y="197.8" width="4.2" height="4.2" fill="#443c16"/><rect x="227.8" y="197.8" width="4.2" height="4.2" fill="#17250c"/><rect x="231.4" y="197.8" width="4.2" height="4.2" fill="#1f3210"/><rect x="235.0" y="197.8" width="4.2" height="4.2" fill="#2e4b19"/><rect x="238.6" y="197.8" width="4.2" height="4.2" fill="#375c21"/><rect x="242.2" y="197.8" width="4.2" height="4.2" fill="#302a10"/><rect x="245.8" y="197.8" width="4.2" height="4.2" fill="#18260d"/><rect x="249.4" y="197.8" width="4.2" height="4.2" fill="#233913"/><rect x="253.0" y="197.8" width="4.2" height="4.2" fill="#2f4b19"/><rect x="256.6" y="197.8" width="4.2" height="4.2" fill="#253b13"/><rect x="141.4" y="201.4" width="4.2" height="4.2" fill="#1f3010"/><rect x="145.0" y="201.4" width="4.2" height="4.2" fill="#213411"/><rect x="148.6" y="201.4" width="4.2" height="4.2" fill="#101908"/><rect x="152.2" y="201.4" width="4.2" height="4.2" fill="#294419"/><rect x="155.8" y="201.4" width="4.2" height="4.2" fill="#223612"/><rect x="159.4" y="201.4" width="4.2" height="4.2" fill="#203311"/><rect x="163.0" y="201.4" width="4.2" height="4.2" fill="#1f3110"/><rect x="166.6" y="201.4" width="4.2" height="4.2" fill="#4d4219"/><rect x="170.2" y="201.4" width="4.2" height="4.2" fill="#223612"/><rect x="173.8" y="201.4" width="4.2" height="4.2" fill="#2a250d"/><rect x="177.4" y="201.4" width="4.2" height="4.2" fill="#4a4218"/><rect x="181.0" y="201.4" width="4.2" height="4.2" fill="#463f17"/><rect x="184.6" y="201.4" width="4.2" height="4.2" fill="#1a2b0e"/><rect x="188.2" y="201.4" width="4.2" height="4.2" fill="#294316"/><rect x="191.8" y="201.4" width="4.2" height="4.2" fill="#203311"/><rect x="195.4" y="201.4" width="4.2" height="4.2" fill="#443b16"/><rect x="199.0" y="201.4" width="4.2" height="4.2" fill="#1f3210"/><rect x="202.6" y="201.4" width="4.2" height="4.2" fill="#15210b"/><rect x="206.2" y="201.4" width="4.2" height="4.2" fill="#223612"/><rect x="209.8" y="201.4" width="4.2" height="4.2" fill="#0c1306"/><rect x="213.4" y="201.4" width="4.2" height="4.2" fill="#263e14"/><rect x="217.0" y="201.4" width="4.2" height="4.2" fill="#0b1105"/><rect x="220.6" y="201.4" width="4.2" height="4.2" fill="#345820"/><rect x="224.2" y="201.4" width="4.2" height="4.2" fill="#2f4b19"/><rect x="227.8" y="201.4" width="4.2" height="4.2" fill="#253b13"/><rect x="231.4" y="201.4" width="4.2" height="4.2" fill="#2a4316"/><rect x="235.0" y="201.4" width="4.2" height="4.2" fill="#413915"/><rect x="238.6" y="201.4" width="4.2" height="4.2" fill="#53491b"/><rect x="242.2" y="201.4" width="4.2" height="4.2" fill="#111b09"/><rect x="245.8" y="201.4" width="4.2" height="4.2" fill="#1a2a0e"/><rect x="249.4" y="201.4" width="4.2" height="4.2" fill="#453c16"/><rect x="253.0" y="201.4" width="4.2" height="4.2" fill="#2f4e1c"/><rect x="256.6" y="201.4" width="4.2" height="4.2" fill="#1c2d0f"/></g></g>
<text x="147.50" y="123.34" font-size="6.5" fill="#1e1e1e" text-anchor="start" font-weight="bold" stroke="#1e1e1e" stroke-width="0.3"><tspan fill="#39c339" stroke="#39c339">B220</tspan> <tspan fill="#e0301c" stroke="#e0301c">CD3</tspan></text>
<text x="148.00" y="198.02" font-size="5.6" fill="#fff" text-anchor="start" font-weight="bold" textLength="81" lengthAdjust="spacingAndGlyphs" stroke="#fff" stroke-width="0.3"><tspan font-style="italic">iKdm1a<tspan font-size="3.5" dy="-1.8">KD</tspan><tspan dy="1.8">;E</tspan><tspan font-size="5">μ</tspan>-TCL1A</tspan> Dox 2 weeks</text>
<text x="243.40" y="194.74" font-size="5.4" fill="#fff" text-anchor="middle" font-weight="bold" textLength="12" lengthAdjust="spacingAndGlyphs" stroke="#fff" stroke-width="0.3">100μm</text>
<line x1="237.50" y1="196.80" x2="249.50" y2="196.80" stroke="#fff" stroke-width="1.0"  shape-rendering="crispEdges"/>
<text x="276.60" y="17.82" font-size="12" fill="#111" text-anchor="middle" font-weight="bold" stroke="#111" stroke-width="0.3">C</text>
<text x="365.60" y="22.10" font-size="8.6" fill="#1e1e1e" text-anchor="middle" textLength="93" lengthAdjust="spacingAndGlyphs" stroke="#1e1e1e" stroke-width="0.3">spleen tissue cytometry</text>
<line x1="296.00" y1="38.50" x2="296.00" y2="110.00" stroke="#111" stroke-width="1.1"  shape-rendering="crispEdges"/>
<line x1="292.50" y1="40.50" x2="296.00" y2="40.50" stroke="#111" stroke-width="0.9"  shape-rendering="crispEdges"/>
<text x="290.00" y="42.95" font-size="6.8" fill="#333" text-anchor="end" textLength="7.19" lengthAdjust="spacingAndGlyphs" stroke="#333" stroke-width="0.3">50</text>
<line x1="292.50" y1="54.40" x2="296.00" y2="54.40" stroke="#111" stroke-width="0.9"  shape-rendering="crispEdges"/>
<text x="290.00" y="56.85" font-size="6.8" fill="#333" text-anchor="end" textLength="7.19" lengthAdjust="spacingAndGlyphs" stroke="#333" stroke-width="0.3">40</text>
<line x1="292.50" y1="68.30" x2="296.00" y2="68.30" stroke="#111" stroke-width="0.9"  shape-rendering="crispEdges"/>
<text x="290.00" y="70.75" font-size="6.8" fill="#333" text-anchor="end" textLength="7.19" lengthAdjust="spacingAndGlyphs" stroke="#333" stroke-width="0.3">30</text>
<line x1="292.50" y1="82.20" x2="296.00" y2="82.20" stroke="#111" stroke-width="0.9"  shape-rendering="crispEdges"/>
<text x="290.00" y="84.65" font-size="6.8" fill="#333" text-anchor="end" textLength="7.19" lengthAdjust="spacingAndGlyphs" stroke="#333" stroke-width="0.3">20</text>
<line x1="292.50" y1="96.10" x2="296.00" y2="96.10" stroke="#111" stroke-width="0.9"  shape-rendering="crispEdges"/>
<text x="290.00" y="98.55" font-size="6.8" fill="#333" text-anchor="end" textLength="7.19" lengthAdjust="spacingAndGlyphs" stroke="#333" stroke-width="0.3">10</text>
<line x1="292.50" y1="110.00" x2="296.00" y2="110.00" stroke="#111" stroke-width="0.9"  shape-rendering="crispEdges"/>
<text x="290.00" y="112.45" font-size="6.8" fill="#333" text-anchor="end" textLength="3.59" lengthAdjust="spacingAndGlyphs" stroke="#333" stroke-width="0.3">0</text>
<rect x="304.00" y="66.08" width="10.50" height="43.92" fill="#1b5297" />
<rect x="323.00" y="83.03" width="11.00" height="26.97" fill="#d20c36" />
<line x1="309.20" y1="81.50" x2="309.20" y2="50.92" stroke="#111" stroke-width="0.8"  shape-rendering="crispEdges"/>
<line x1="307.00" y1="50.92" x2="311.40" y2="50.92" stroke="#111" stroke-width="0.8"  shape-rendering="crispEdges"/>
<line x1="328.50" y1="89.15" x2="328.50" y2="75.94" stroke="#111" stroke-width="0.8"  shape-rendering="crispEdges"/>
<line x1="326.30" y1="75.94" x2="330.70" y2="75.94" stroke="#111" stroke-width="0.8"  shape-rendering="crispEdges"/>
<circle cx="307.50" cy="50.92" r="0.9" fill="#111" />
<circle cx="310.50" cy="50.23" r="0.9" fill="#111" />
<circle cx="309.00" cy="64.13" r="0.9" fill="#111" />
<circle cx="311.00" cy="68.30" r="0.9" fill="#111" />
<circle cx="307.00" cy="72.47" r="0.9" fill="#111" />
<circle cx="310.00" cy="76.64" r="0.9" fill="#111" />
<circle cx="308.50" cy="82.20" r="0.9" fill="#111" />
<circle cx="310.00" cy="62.74" r="0.9" fill="#111" />
<circle cx="327.00" cy="75.94" r="0.9" fill="#111" />
<circle cx="331.00" cy="76.64" r="0.9" fill="#111" />
<circle cx="329.00" cy="80.81" r="0.9" fill="#111" />
<circle cx="327.50" cy="84.98" r="0.9" fill="#111" />
<circle cx="330.50" cy="86.37" r="0.9" fill="#111" />
<circle cx="328.50" cy="88.45" r="0.9" fill="#111" />
<circle cx="330.00" cy="82.89" r="0.9" fill="#111" />
<line x1="296.00" y1="110.00" x2="336.00" y2="110.00" stroke="#111" stroke-width="1.2"  shape-rendering="crispEdges"/>
<line x1="309.25" y1="110.00" x2="309.25" y2="112.00" stroke="#1e1e1e" stroke-width="0.8"  shape-rendering="crispEdges"/>
<line x1="328.50" y1="110.00" x2="328.50" y2="112.00" stroke="#1e1e1e" stroke-width="0.8"  shape-rendering="crispEdges"/>
<text x="320.50" y="39.34" font-size="6.5" fill="#1e1e1e" text-anchor="middle" stroke="#1e1e1e" stroke-width="0.3"><tspan font-style="italic">P</tspan> = .029</text>
<line x1="309.00" y1="45.00" x2="330.00" y2="45.00" stroke="#1e1e1e" stroke-width="0.8"  shape-rendering="crispEdges"/>
<line x1="309.00" y1="43.70" x2="309.00" y2="46.30" stroke="#1e1e1e" stroke-width="0.8"  shape-rendering="crispEdges"/>
<line x1="330.00" y1="43.70" x2="330.00" y2="46.30" stroke="#1e1e1e" stroke-width="0.8"  shape-rendering="crispEdges"/>
<text x="277.38" y="75.00" transform="rotate(-90 277.38 75.00)" font-size="8" fill="#1e1e1e" text-anchor="middle" textLength="44" lengthAdjust="spacingAndGlyphs" stroke="#1e1e1e" stroke-width="0.3">CD3<tspan font-size="4.6" dy="-2.5">+</tspan><tspan dy="2.5"> cells (%)</tspan></text>
<g transform="translate(305.00 125.40) rotate(-45)"><text x="0" y="2.52" font-size="7" fill="#1e1e1e" text-anchor="middle" textLength="18" lengthAdjust="spacingAndGlyphs" stroke="#1e1e1e" stroke-width="0.3">N = 8</text></g>
<g transform="translate(324.00 125.40) rotate(-45)"><text x="0" y="2.52" font-size="7" fill="#1e1e1e" text-anchor="middle" textLength="18" lengthAdjust="spacingAndGlyphs" stroke="#1e1e1e" stroke-width="0.3">N = 7</text></g>
<line x1="296.00" y1="141.00" x2="296.00" y2="213.50" stroke="#111" stroke-width="1.1"  shape-rendering="crispEdges"/>
<line x1="292.50" y1="143.00" x2="296.00" y2="143.00" stroke="#111" stroke-width="0.9"  shape-rendering="crispEdges"/>
<text x="290.00" y="145.45" font-size="6.8" fill="#333" text-anchor="end" textLength="7.19" lengthAdjust="spacingAndGlyphs" stroke="#333" stroke-width="0.3">50</text>
<line x1="292.50" y1="157.10" x2="296.00" y2="157.10" stroke="#111" stroke-width="0.9"  shape-rendering="crispEdges"/>
<text x="290.00" y="159.55" font-size="6.8" fill="#333" text-anchor="end" textLength="7.19" lengthAdjust="spacingAndGlyphs" stroke="#333" stroke-width="0.3">40</text>
<line x1="292.50" y1="171.20" x2="296.00" y2="171.20" stroke="#111" stroke-width="0.9"  shape-rendering="crispEdges"/>
<text x="290.00" y="173.65" font-size="6.8" fill="#333" text-anchor="end" textLength="7.19" lengthAdjust="spacingAndGlyphs" stroke="#333" stroke-width="0.3">30</text>
<line x1="292.50" y1="185.30" x2="296.00" y2="185.30" stroke="#111" stroke-width="0.9"  shape-rendering="crispEdges"/>
<text x="290.00" y="187.75" font-size="6.8" fill="#333" text-anchor="end" textLength="7.19" lengthAdjust="spacingAndGlyphs" stroke="#333" stroke-width="0.3">20</text>
<line x1="292.50" y1="199.40" x2="296.00" y2="199.40" stroke="#111" stroke-width="0.9"  shape-rendering="crispEdges"/>
<text x="290.00" y="201.85" font-size="6.8" fill="#333" text-anchor="end" textLength="7.19" lengthAdjust="spacingAndGlyphs" stroke="#333" stroke-width="0.3">10</text>
<line x1="292.50" y1="213.50" x2="296.00" y2="213.50" stroke="#111" stroke-width="0.9"  shape-rendering="crispEdges"/>
<text x="290.00" y="215.95" font-size="6.8" fill="#333" text-anchor="end" textLength="3.59" lengthAdjust="spacingAndGlyphs" stroke="#333" stroke-width="0.3">0</text>
<rect x="304.00" y="178.81" width="10.50" height="34.69" fill="#1b5297" />
<rect x="323.00" y="200.81" width="11.00" height="12.69" fill="#d20c36" />
<line x1="309.20" y1="191.65" x2="309.20" y2="166.26" stroke="#111" stroke-width="0.8"  shape-rendering="crispEdges"/>
<line x1="307.00" y1="166.26" x2="311.40" y2="166.26" stroke="#111" stroke-width="0.8"  shape-rendering="crispEdges"/>
<line x1="328.50" y1="210.68" x2="328.50" y2="190.94" stroke="#111" stroke-width="0.8"  shape-rendering="crispEdges"/>
<line x1="326.30" y1="190.94" x2="330.70" y2="190.94" stroke="#111" stroke-width="0.8"  shape-rendering="crispEdges"/>
<circle cx="308.00" cy="155.69" r="0.9" fill="#111" />
<circle cx="310.00" cy="166.97" r="0.9" fill="#111" />
<circle cx="309.00" cy="171.20" r="0.9" fill="#111" />
<circle cx="311.00" cy="178.25" r="0.9" fill="#111" />
<circle cx="307.50" cy="183.89" r="0.9" fill="#111" />
<circle cx="309.50" cy="189.53" r="0.9" fill="#111" />
<circle cx="328.50" cy="188.12" r="0.9" fill="#111" />
<circle cx="327.50" cy="196.58" r="0.9" fill="#111" />
<circle cx="330.00" cy="202.22" r="0.9" fill="#111" />
<circle cx="328.00" cy="207.16" r="0.9" fill="#111" />
<line x1="296.00" y1="213.50" x2="336.00" y2="213.50" stroke="#111" stroke-width="1.2"  shape-rendering="crispEdges"/>
<line x1="309.25" y1="213.50" x2="309.25" y2="215.50" stroke="#1e1e1e" stroke-width="0.8"  shape-rendering="crispEdges"/>
<line x1="328.50" y1="213.50" x2="328.50" y2="215.50" stroke="#1e1e1e" stroke-width="0.8"  shape-rendering="crispEdges"/>
<text x="320.50" y="149.34" font-size="6.5" fill="#1e1e1e" text-anchor="middle" stroke="#1e1e1e" stroke-width="0.3"><tspan font-style="italic">P</tspan> = .038</text>
<line x1="309.00" y1="155.50" x2="328.00" y2="155.50" stroke="#1e1e1e" stroke-width="0.8"  shape-rendering="crispEdges"/>
<line x1="309.00" y1="154.20" x2="309.00" y2="156.80" stroke="#1e1e1e" stroke-width="0.8"  shape-rendering="crispEdges"/>
<line x1="328.00" y1="154.20" x2="328.00" y2="156.80" stroke="#1e1e1e" stroke-width="0.8"  shape-rendering="crispEdges"/>
<text x="277.38" y="177.00" transform="rotate(-90 277.38 177.00)" font-size="8" fill="#1e1e1e" text-anchor="middle" textLength="73" lengthAdjust="spacingAndGlyphs" stroke="#1e1e1e" stroke-width="0.3">CD3<tspan font-size="4.6" dy="-2.5">+</tspan><tspan dy="2.5">KDM1A</tspan><tspan font-size="4.6" dy="-2.5">+</tspan><tspan dy="2.5"> cells (%)</tspan></text>
<g transform="translate(305.00 228.80) rotate(-45)"><text x="0" y="2.52" font-size="7" fill="#1e1e1e" text-anchor="middle" textLength="18" lengthAdjust="spacingAndGlyphs" stroke="#1e1e1e" stroke-width="0.3">N = 6</text></g>
<g transform="translate(324.00 228.80) rotate(-45)"><text x="0" y="2.52" font-size="7" fill="#1e1e1e" text-anchor="middle" textLength="18" lengthAdjust="spacingAndGlyphs" stroke="#1e1e1e" stroke-width="0.3">N = 4</text></g>
<text x="351.03" y="189.10" transform="rotate(-90 351.03 189.10)" font-size="6.2" fill="#1e1e1e" text-anchor="middle" font-style="italic" textLength="28" lengthAdjust="spacingAndGlyphs" stroke="#1e1e1e" stroke-width="0.3">E<tspan font-size="5.3">μ</tspan>-TCL1A</text>
<text x="360.03" y="175.00" transform="rotate(-90 360.03 175.00)" font-size="6.2" fill="#1e1e1e" text-anchor="middle" font-style="italic" textLength="57.5" lengthAdjust="spacingAndGlyphs" stroke="#1e1e1e" stroke-width="0.3">iKdm1a<tspan font-size="4" dy="-2">KD</tspan><tspan dy="2">;E</tspan><tspan font-size="5.3">μ</tspan>-TCL1A</text>
<rect x="346.30" y="206.00" width="5.10" height="7.70" fill="#1b5297" />
<rect x="355.50" y="206.00" width="5.00" height="7.70" fill="#d20c36" />
<line x1="384.60" y1="33.00" x2="384.60" y2="220.00" stroke="#222" stroke-width="1.1"  shape-rendering="crispEdges"/>
<line x1="384.60" y1="220.00" x2="485.00" y2="220.00" stroke="#222" stroke-width="1.1"  shape-rendering="crispEdges"/>
<text x="378.60" y="134.30" transform="rotate(-90 378.60 134.30)" font-size="7.5" fill="#1e1e1e" text-anchor="middle" textLength="78" lengthAdjust="spacingAndGlyphs" stroke="#1e1e1e" stroke-width="0.3">KDM1A (mean intensity)</text>
<text x="435.00" y="228.70" font-size="7.5" fill="#1e1e1e" text-anchor="middle" textLength="66" lengthAdjust="spacingAndGlyphs" stroke="#1e1e1e" stroke-width="0.3">CD3 (mean intensity)</text>
<rect x="410" y="35" width="70.39999999999998" height="70.8" fill="none" stroke="#222" stroke-width="1" shape-rendering="crispEdges"/>
<line x1="426.70" y1="35.00" x2="426.70" y2="105.80" stroke="#9a9a9a" stroke-width="0.8"  shape-rendering="crispEdges"/>
<line x1="410.00" y1="95.40" x2="480.40" y2="95.40" stroke="#9a9a9a" stroke-width="0.8"  shape-rendering="crispEdges"/>
<polygon points="419.00,84.00 420.00,80.00 422.50,77.00 425.00,74.50 426.70,74.50 426.70,95.40 448.00,95.40 446.00,98.00 441.00,100.50 434.00,103.00 426.00,104.80 419.00,104.80" fill="#0b0b0b" />
<path d="M417.4 82.2h.9v.9h-.9zM418.7 81.0h.9v.9h-.9zM419.4 81.1h.9v.9h-.9zM419.5 80.2h.9v.9h-.9zM419.3 82.6h.9v.9h-.9zM424.1 82.9h.9v.9h-.9zM419.9 75.6h.9v.9h-.9zM420.2 79.3h.9v.9h-.9zM422.1 78.5h.9v.9h-.9zM420.3 76.4h.9v.9h-.9zM423.1 79.1h.9v.9h-.9zM421.8 78.5h.9v.9h-.9zM425.0 78.0h.9v.9h-.9zM423.7 75.8h.9v.9h-.9zM425.1 76.0h.9v.9h-.9zM423.1 73.0h.9v.9h-.9zM423.4 75.9h.9v.9h-.9zM426.1 72.4h.9v.9h-.9zM426.0 74.8h.9v.9h-.9zM430.9 95.4h.9v.9h-.9zM446.8 92.9h.9v.9h-.9zM432.7 95.8h.9v.9h-.9zM437.1 93.8h.9v.9h-.9zM438.7 95.9h.9v.9h-.9zM438.7 96.9h.9v.9h-.9zM446.0 93.6h.9v.9h-.9zM444.5 97.3h.9v.9h-.9zM429.7 94.8h.9v.9h-.9zM444.6 98.3h.9v.9h-.9zM438.4 94.2h.9v.9h-.9zM441.5 95.7h.9v.9h-.9zM438.5 97.9h.9v.9h-.9zM432.3 97.8h.9v.9h-.9zM447.3 96.2h.9v.9h-.9zM428.1 95.5h.9v.9h-.9zM429.5 93.4h.9v.9h-.9zM432.5 95.3h.9v.9h-.9zM427.2 91.7h.9v.9h-.9zM439.3 97.4h.9v.9h-.9zM433.3 95.7h.9v.9h-.9zM445.0 96.8h.9v.9h-.9zM447.5 94.7h.9v.9h-.9zM432.8 96.9h.9v.9h-.9zM426.9 96.0h.9v.9h-.9zM430.5 93.1h.9v.9h-.9zM429.6 96.2h.9v.9h-.9zM427.2 95.9h.9v.9h-.9zM446.7 93.9h.9v.9h-.9zM445.3 93.7h.9v.9h-.9zM437.3 96.2h.9v.9h-.9zM440.0 93.3h.9v.9h-.9zM439.5 93.8h.9v.9h-.9zM446.3 93.3h.9v.9h-.9zM446.2 96.9h.9v.9h-.9zM448.2 96.4h.9v.9h-.9zM443.2 93.8h.9v.9h-.9zM445.1 95.4h.9v.9h-.9zM446.3 96.4h.9v.9h-.9zM446.2 99.1h.9v.9h-.9zM445.9 99.0h.9v.9h-.9zM443.5 101.2h.9v.9h-.9zM443.6 98.0h.9v.9h-.9zM442.0 99.3h.9v.9h-.9zM445.4 98.0h.9v.9h-.9zM441.6 98.2h.9v.9h-.9zM443.4 98.9h.9v.9h-.9zM436.6 102.1h.9v.9h-.9zM437.9 99.5h.9v.9h-.9zM438.3 102.0h.9v.9h-.9zM438.2 101.7h.9v.9h-.9zM434.5 100.1h.9v.9h-.9zM435.3 101.6h.9v.9h-.9zM438.2 100.4h.9v.9h-.9zM437.9 98.0h.9v.9h-.9zM440.0 102.7h.9v.9h-.9zM439.5 99.4h.9v.9h-.9zM438.8 102.3h.9v.9h-.9zM429.5 100.8h.9v.9h-.9zM426.6 103.4h.9v.9h-.9zM428.1 102.5h.9v.9h-.9zM426.7 105.2h.9v.9h-.9zM432.5 102.4h.9v.9h-.9zM429.1 102.5h.9v.9h-.9zM426.2 101.4h.9v.9h-.9zM432.2 103.4h.9v.9h-.9zM427.8 100.9h.9v.9h-.9zM427.2 104.5h.9v.9h-.9zM431.1 102.4h.9v.9h-.9zM427.2 104.2h.9v.9h-.9zM429.9 101.9h.9v.9h-.9zM422.6 107.4h.9v.9h-.9zM424.5 102.4h.9v.9h-.9zM425.5 101.3h.9v.9h-.9zM418.6 105.5h.9v.9h-.9zM422.5 100.9h.9v.9h-.9zM424.0 105.5h.9v.9h-.9zM420.3 103.1h.9v.9h-.9zM421.9 106.4h.9v.9h-.9zM423.5 105.0h.9v.9h-.9zM425.1 103.4h.9v.9h-.9zM421.4 105.0h.9v.9h-.9z" fill="#111"/>
<polygon points="426.70,77.00 429.00,76.50 433.00,78.00 440.00,82.70 447.00,89.60 450.50,95.40 426.70,95.40" fill="#2a62a4" />
<path d="M427.0 79.3h.9v.9h-.9zM428.1 74.9h.9v.9h-.9zM427.6 72.8h.9v.9h-.9zM432.2 77.2h.9v.9h-.9zM431.6 77.1h.9v.9h-.9zM429.5 75.6h.9v.9h-.9zM429.9 78.9h.9v.9h-.9zM429.5 78.6h.9v.9h-.9zM430.2 75.8h.9v.9h-.9zM433.7 79.7h.9v.9h-.9zM438.8 80.1h.9v.9h-.9zM434.7 79.7h.9v.9h-.9zM437.2 82.9h.9v.9h-.9zM433.2 79.1h.9v.9h-.9zM440.1 78.4h.9v.9h-.9zM437.1 83.3h.9v.9h-.9zM438.5 81.7h.9v.9h-.9zM433.0 77.6h.9v.9h-.9zM435.5 81.1h.9v.9h-.9zM437.0 77.3h.9v.9h-.9zM432.3 77.9h.9v.9h-.9zM432.6 78.3h.9v.9h-.9zM439.6 83.1h.9v.9h-.9zM446.1 89.3h.9v.9h-.9zM443.4 85.3h.9v.9h-.9zM442.2 84.0h.9v.9h-.9zM443.1 87.7h.9v.9h-.9zM444.1 85.8h.9v.9h-.9zM441.3 85.1h.9v.9h-.9zM442.1 81.4h.9v.9h-.9zM442.8 84.3h.9v.9h-.9zM439.6 83.3h.9v.9h-.9zM442.8 87.4h.9v.9h-.9zM446.5 86.2h.9v.9h-.9zM442.5 87.9h.9v.9h-.9zM443.5 84.3h.9v.9h-.9zM443.5 88.1h.9v.9h-.9zM448.5 91.3h.9v.9h-.9zM448.8 89.7h.9v.9h-.9zM448.6 92.2h.9v.9h-.9zM448.5 91.3h.9v.9h-.9zM445.7 93.0h.9v.9h-.9zM450.1 90.0h.9v.9h-.9zM449.4 94.5h.9v.9h-.9zM449.2 91.2h.9v.9h-.9zM446.2 90.3h.9v.9h-.9zM451.5 93.2h.9v.9h-.9zM440.7 73.5h.9v.9h-.9zM436.5 74.6h.9v.9h-.9zM446.0 89.2h.9v.9h-.9zM442.0 83.7h.9v.9h-.9zM437.9 81.5h.9v.9h-.9zM440.6 85.3h.9v.9h-.9zM441.2 80.5h.9v.9h-.9zM452.7 85.5h.9v.9h-.9zM448.7 92.9h.9v.9h-.9zM430.5 71.7h.9v.9h-.9zM447.6 80.8h.9v.9h-.9zM438.2 81.7h.9v.9h-.9zM438.6 75.2h.9v.9h-.9zM436.7 80.3h.9v.9h-.9zM437.4 67.2h.9v.9h-.9zM444.1 85.9h.9v.9h-.9zM437.8 88.0h.9v.9h-.9zM437.6 93.2h.9v.9h-.9zM437.7 76.5h.9v.9h-.9zM432.1 88.8h.9v.9h-.9zM432.6 89.4h.9v.9h-.9zM445.7 87.7h.9v.9h-.9zM445.7 82.3h.9v.9h-.9zM437.5 79.4h.9v.9h-.9zM432.7 72.6h.9v.9h-.9zM433.1 76.1h.9v.9h-.9zM441.2 81.2h.9v.9h-.9zM448.5 90.1h.9v.9h-.9zM445.9 79.3h.9v.9h-.9zM440.0 88.6h.9v.9h-.9zM440.9 92.4h.9v.9h-.9zM435.2 88.2h.9v.9h-.9zM430.4 67.4h.9v.9h-.9zM434.0 94.0h.9v.9h-.9zM432.1 80.8h.9v.9h-.9zM437.9 85.0h.9v.9h-.9zM429.8 84.4h.9v.9h-.9zM441.1 89.4h.9v.9h-.9zM431.5 94.4h.9v.9h-.9zM426.8 84.8h.9v.9h-.9zM442.0 75.5h.9v.9h-.9zM442.6 78.0h.9v.9h-.9zM435.5 65.9h.9v.9h-.9zM431.9 84.6h.9v.9h-.9zM428.4 67.8h.9v.9h-.9zM441.2 79.4h.9v.9h-.9zM439.8 88.6h.9v.9h-.9zM442.4 93.6h.9v.9h-.9zM448.4 71.9h.9v.9h-.9zM434.3 90.3h.9v.9h-.9zM437.1 80.6h.9v.9h-.9zM450.2 90.8h.9v.9h-.9zM435.6 89.9h.9v.9h-.9zM427.0 78.5h.9v.9h-.9zM444.8 83.8h.9v.9h-.9zM429.1 86.7h.9v.9h-.9zM440.2 92.5h.9v.9h-.9zM445.2 81.6h.9v.9h-.9zM433.7 82.6h.9v.9h-.9zM435.7 93.8h.9v.9h-.9zM450.3 93.0h.9v.9h-.9zM440.6 81.8h.9v.9h-.9zM444.8 81.1h.9v.9h-.9zM439.4 71.9h.9v.9h-.9zM434.2 93.6h.9v.9h-.9zM429.3 73.1h.9v.9h-.9zM449.2 81.0h.9v.9h-.9zM433.7 82.8h.9v.9h-.9zM430.1 83.8h.9v.9h-.9zM435.1 73.2h.9v.9h-.9zM432.9 81.8h.9v.9h-.9zM430.7 75.7h.9v.9h-.9zM435.3 80.6h.9v.9h-.9zM441.6 81.9h.9v.9h-.9zM431.3 93.3h.9v.9h-.9zM429.2 78.4h.9v.9h-.9zM432.2 77.4h.9v.9h-.9zM435.6 87.6h.9v.9h-.9zM449.1 88.2h.9v.9h-.9zM433.7 61.3h.9v.9h-.9zM433.2 62.8h.9v.9h-.9zM433.1 72.4h.9v.9h-.9zM434.6 66.5h.9v.9h-.9zM429.8 67.4h.9v.9h-.9zM434.1 62.9h.9v.9h-.9zM431.0 72.0h.9v.9h-.9zM427.7 75.3h.9v.9h-.9zM436.6 70.1h.9v.9h-.9zM435.5 69.0h.9v.9h-.9zM435.0 59.6h.9v.9h-.9z" fill="#2a62a4"/>
<path d="M451.4 100.4h.8v.8h-.8zM439.6 101.1h.8v.8h-.8zM454.3 94.0h.8v.8h-.8zM446.3 97.7h.8v.8h-.8zM445.9 99.8h.8v.8h-.8zM440.7 97.9h.8v.8h-.8zM451.2 100.8h.8v.8h-.8zM449.9 97.9h.8v.8h-.8zM454.4 92.6h.8v.8h-.8zM456.1 97.7h.8v.8h-.8zM440.8 97.3h.8v.8h-.8zM436.8 92.5h.8v.8h-.8zM447.3 96.3h.8v.8h-.8zM454.7 95.9h.8v.8h-.8zM440.5 95.7h.8v.8h-.8zM461.6 98.7h.8v.8h-.8zM445.3 95.6h.8v.8h-.8zM441.9 98.1h.8v.8h-.8zM452.6 102.1h.8v.8h-.8zM457.6 99.4h.8v.8h-.8zM445.0 96.0h.8v.8h-.8zM433.4 95.5h.8v.8h-.8zM452.5 97.6h.8v.8h-.8zM452.2 94.6h.8v.8h-.8zM455.9 99.5h.8v.8h-.8z" fill="#222"/>
<line x1="410.00" y1="29.00" x2="410.00" y2="105.80" stroke="#111" stroke-width="0.9"  shape-rendering="crispEdges"/>
<polygon points="408.40,32.00 410.00,29.00 411.60,32.00" fill="#111" />
<line x1="410.00" y1="105.80" x2="486.40" y2="105.80" stroke="#111" stroke-width="0.9"  shape-rendering="crispEdges"/>
<polygon points="483.40,104.20 486.40,105.80 483.40,107.40" fill="#111" />
<line x1="407.60" y1="35.00" x2="410.00" y2="35.00" stroke="#111" stroke-width="0.8"  shape-rendering="crispEdges"/>
<text x="403.40" y="37.81" font-size="7.8" fill="#222" text-anchor="end" textLength="11.32" lengthAdjust="spacingAndGlyphs" stroke="#222" stroke-width="0.3">150</text>
<line x1="408.50" y1="39.60" x2="410.00" y2="39.60" stroke="#111" stroke-width="0.8"  shape-rendering="crispEdges"/>
<line x1="407.60" y1="49.30" x2="410.00" y2="49.30" stroke="#111" stroke-width="0.8"  shape-rendering="crispEdges"/>
<text x="403.40" y="52.11" font-size="7.8" fill="#222" text-anchor="end" textLength="11.32" lengthAdjust="spacingAndGlyphs" stroke="#222" stroke-width="0.3">120</text>
<line x1="408.50" y1="58.80" x2="410.00" y2="58.80" stroke="#111" stroke-width="0.8"  shape-rendering="crispEdges"/>
<line x1="407.60" y1="68.30" x2="410.00" y2="68.30" stroke="#111" stroke-width="0.8"  shape-rendering="crispEdges"/>
<text x="403.40" y="71.11" font-size="7.8" fill="#222" text-anchor="end" textLength="7.55" lengthAdjust="spacingAndGlyphs" stroke="#222" stroke-width="0.3">80</text>
<line x1="408.50" y1="78.00" x2="410.00" y2="78.00" stroke="#111" stroke-width="0.8"  shape-rendering="crispEdges"/>
<line x1="407.60" y1="87.20" x2="410.00" y2="87.20" stroke="#111" stroke-width="0.8"  shape-rendering="crispEdges"/>
<text x="403.40" y="90.01" font-size="7.8" fill="#222" text-anchor="end" textLength="7.55" lengthAdjust="spacingAndGlyphs" stroke="#222" stroke-width="0.3">40</text>
<line x1="408.50" y1="96.80" x2="410.00" y2="96.80" stroke="#111" stroke-width="0.8"  shape-rendering="crispEdges"/>
<line x1="410.00" y1="105.80" x2="410.00" y2="107.80" stroke="#111" stroke-width="0.7"  shape-rendering="crispEdges"/>
<line x1="424.40" y1="105.80" x2="424.40" y2="107.10" stroke="#111" stroke-width="0.7"  shape-rendering="crispEdges"/>
<line x1="438.30" y1="105.80" x2="438.30" y2="107.80" stroke="#111" stroke-width="0.7"  shape-rendering="crispEdges"/>
<line x1="452.00" y1="105.80" x2="452.00" y2="107.10" stroke="#111" stroke-width="0.7"  shape-rendering="crispEdges"/>
<line x1="466.00" y1="105.80" x2="466.00" y2="107.80" stroke="#111" stroke-width="0.7"  shape-rendering="crispEdges"/>
<text x="427.30" y="34.46" font-size="6" fill="#333" text-anchor="middle" stroke="#333" stroke-width="0.3">59</text>
<text x="420.60" y="41.07" font-size="6.3" fill="#333" text-anchor="middle" textLength="17.6" lengthAdjust="spacingAndGlyphs" stroke="#333" stroke-width="0.3">24.69%</text>
<text x="467.00" y="41.07" font-size="6.3" fill="#333" text-anchor="middle" textLength="18" lengthAdjust="spacingAndGlyphs" stroke="#333" stroke-width="0.3">19.75%</text>
<text x="467.10" y="48.07" font-size="6.3" fill="#333" text-anchor="middle" font-style="italic" textLength="24" lengthAdjust="spacingAndGlyphs" stroke="#333" stroke-width="0.3">E<tspan font-size="5.5">μ</tspan>-TCL1A</text>
<text x="469.20" y="104.87" font-size="6.3" fill="#333" text-anchor="middle" textLength="19.6" lengthAdjust="spacingAndGlyphs" stroke="#333" stroke-width="0.3">12.72%</text>
<text x="486.20" y="97.77" font-size="6.3" fill="#333" text-anchor="middle" stroke="#333" stroke-width="0.3">22</text>
<text x="410.30" y="118.89" font-size="7.2" fill="#222" text-anchor="middle" stroke="#222" stroke-width="0.3">0</text>
<text x="438.40" y="118.89" font-size="7.2" fill="#222" text-anchor="middle" textLength="12" lengthAdjust="spacingAndGlyphs" stroke="#222" stroke-width="0.3">100</text>
<text x="465.00" y="118.89" font-size="7.2" fill="#222" text-anchor="middle" textLength="12" lengthAdjust="spacingAndGlyphs" stroke="#222" stroke-width="0.3">200</text>
<rect x="410" y="132" width="70.39999999999998" height="71.30000000000001" fill="none" stroke="#222" stroke-width="1" shape-rendering="crispEdges"/>
<line x1="426.70" y1="132.00" x2="426.70" y2="203.30" stroke="#9a9a9a" stroke-width="0.8"  shape-rendering="crispEdges"/>
<line x1="410.00" y1="193.60" x2="480.40" y2="193.60" stroke="#9a9a9a" stroke-width="0.8"  shape-rendering="crispEdges"/>
<polygon points="419.20,184.00 420.00,181.00 422.50,178.50 426.70,177.50 426.70,193.60 446.00,193.60 444.00,196.00 439.00,198.50 432.00,200.50 424.00,202.00 419.20,202.00" fill="#0b0b0b" />
<path d="M419.1 181.6h.9v.9h-.9zM416.8 180.0h.9v.9h-.9zM419.7 181.4h.9v.9h-.9zM418.9 182.1h.9v.9h-.9zM420.5 176.7h.9v.9h-.9zM417.9 178.3h.9v.9h-.9zM420.8 179.4h.9v.9h-.9zM422.4 180.5h.9v.9h-.9zM419.8 180.7h.9v.9h-.9zM426.2 178.4h.9v.9h-.9zM425.6 178.8h.9v.9h-.9zM423.2 180.3h.9v.9h-.9zM424.7 177.5h.9v.9h-.9zM425.7 177.2h.9v.9h-.9zM423.2 178.8h.9v.9h-.9zM443.1 197.6h.9v.9h-.9zM431.8 195.1h.9v.9h-.9zM439.3 192.7h.9v.9h-.9zM430.2 195.4h.9v.9h-.9zM444.9 192.3h.9v.9h-.9zM443.5 192.7h.9v.9h-.9zM429.5 194.6h.9v.9h-.9zM429.1 194.4h.9v.9h-.9zM437.9 193.7h.9v.9h-.9zM426.3 192.5h.9v.9h-.9zM432.2 191.8h.9v.9h-.9zM442.0 191.8h.9v.9h-.9zM435.5 193.3h.9v.9h-.9zM439.9 197.2h.9v.9h-.9zM426.7 194.7h.9v.9h-.9zM440.7 193.3h.9v.9h-.9zM441.5 192.9h.9v.9h-.9zM433.3 193.0h.9v.9h-.9zM427.2 193.0h.9v.9h-.9zM429.7 194.2h.9v.9h-.9zM440.8 192.9h.9v.9h-.9zM444.2 194.5h.9v.9h-.9zM433.1 192.6h.9v.9h-.9zM436.4 193.3h.9v.9h-.9zM440.7 192.4h.9v.9h-.9zM441.6 193.4h.9v.9h-.9zM444.5 192.8h.9v.9h-.9zM428.0 192.0h.9v.9h-.9zM444.0 195.0h.9v.9h-.9zM432.8 194.9h.9v.9h-.9zM445.6 194.5h.9v.9h-.9zM444.7 193.7h.9v.9h-.9zM444.8 193.1h.9v.9h-.9zM443.4 194.2h.9v.9h-.9zM443.3 195.7h.9v.9h-.9zM439.3 199.4h.9v.9h-.9zM442.5 196.4h.9v.9h-.9zM440.2 196.3h.9v.9h-.9zM442.1 198.0h.9v.9h-.9zM443.1 195.4h.9v.9h-.9zM441.2 197.0h.9v.9h-.9zM438.6 196.1h.9v.9h-.9zM431.4 198.1h.9v.9h-.9zM434.1 199.1h.9v.9h-.9zM435.7 199.6h.9v.9h-.9zM437.3 197.6h.9v.9h-.9zM435.7 200.0h.9v.9h-.9zM430.8 197.5h.9v.9h-.9zM436.3 202.3h.9v.9h-.9zM435.2 199.3h.9v.9h-.9zM437.0 200.4h.9v.9h-.9zM435.5 198.0h.9v.9h-.9zM431.3 198.8h.9v.9h-.9zM424.1 202.8h.9v.9h-.9zM429.1 201.9h.9v.9h-.9zM430.9 200.6h.9v.9h-.9zM424.1 198.6h.9v.9h-.9zM428.5 200.0h.9v.9h-.9zM426.5 203.7h.9v.9h-.9zM426.2 201.0h.9v.9h-.9zM426.2 202.6h.9v.9h-.9zM429.8 203.2h.9v.9h-.9zM426.0 200.8h.9v.9h-.9zM428.8 198.3h.9v.9h-.9zM427.0 201.7h.9v.9h-.9zM431.7 201.2h.9v.9h-.9zM420.3 201.9h.9v.9h-.9zM421.3 200.6h.9v.9h-.9zM419.7 203.7h.9v.9h-.9zM421.9 203.2h.9v.9h-.9zM419.6 203.6h.9v.9h-.9zM421.9 199.8h.9v.9h-.9zM420.2 204.2h.9v.9h-.9z" fill="#111"/>
<polygon points="426.70,180.60 430.00,180.50 436.00,184.00 442.00,188.00 448.00,191.50 450.00,193.60 426.70,193.60" fill="#d6183c" />
<path d="M429.5 181.9h.9v.9h-.9zM428.0 179.6h.9v.9h-.9zM426.9 182.1h.9v.9h-.9zM427.7 176.9h.9v.9h-.9zM428.5 179.6h.9v.9h-.9zM431.9 178.5h.9v.9h-.9zM435.3 181.0h.9v.9h-.9zM432.7 180.5h.9v.9h-.9zM433.1 182.5h.9v.9h-.9zM435.0 180.6h.9v.9h-.9zM429.2 180.9h.9v.9h-.9zM432.7 183.6h.9v.9h-.9zM431.3 180.1h.9v.9h-.9zM430.8 178.4h.9v.9h-.9zM432.3 181.8h.9v.9h-.9zM430.1 181.0h.9v.9h-.9zM437.2 185.2h.9v.9h-.9zM435.2 184.5h.9v.9h-.9zM439.2 184.1h.9v.9h-.9zM438.3 187.2h.9v.9h-.9zM437.0 184.5h.9v.9h-.9zM438.0 185.1h.9v.9h-.9zM437.6 184.1h.9v.9h-.9zM440.3 187.2h.9v.9h-.9zM436.6 186.8h.9v.9h-.9zM435.8 184.3h.9v.9h-.9zM439.4 184.8h.9v.9h-.9zM446.4 192.4h.9v.9h-.9zM447.8 188.2h.9v.9h-.9zM444.7 191.0h.9v.9h-.9zM443.1 190.0h.9v.9h-.9zM444.1 191.0h.9v.9h-.9zM443.9 188.4h.9v.9h-.9zM446.5 191.3h.9v.9h-.9zM444.9 189.5h.9v.9h-.9zM444.5 190.9h.9v.9h-.9zM446.0 192.2h.9v.9h-.9zM449.1 191.1h.9v.9h-.9zM447.8 192.0h.9v.9h-.9zM451.6 191.0h.9v.9h-.9zM432.4 181.4h.9v.9h-.9zM446.9 182.9h.9v.9h-.9zM431.5 185.8h.9v.9h-.9zM446.8 183.0h.9v.9h-.9zM435.5 189.1h.9v.9h-.9zM445.6 188.4h.9v.9h-.9zM431.3 185.0h.9v.9h-.9zM440.5 174.4h.9v.9h-.9zM447.4 184.1h.9v.9h-.9zM438.7 179.9h.9v.9h-.9zM437.0 186.4h.9v.9h-.9zM444.2 183.3h.9v.9h-.9zM430.5 180.0h.9v.9h-.9zM430.9 178.2h.9v.9h-.9zM437.4 181.0h.9v.9h-.9zM438.0 179.3h.9v.9h-.9zM430.5 182.6h.9v.9h-.9zM434.7 189.4h.9v.9h-.9zM430.2 184.6h.9v.9h-.9zM437.2 176.9h.9v.9h-.9zM443.5 184.4h.9v.9h-.9zM445.2 179.5h.9v.9h-.9zM451.4 184.3h.9v.9h-.9zM428.1 186.4h.9v.9h-.9zM434.6 176.7h.9v.9h-.9zM431.5 186.8h.9v.9h-.9zM440.7 180.9h.9v.9h-.9zM433.2 192.6h.9v.9h-.9zM451.5 187.4h.9v.9h-.9zM434.6 178.5h.9v.9h-.9zM434.4 192.0h.9v.9h-.9zM441.3 182.1h.9v.9h-.9zM427.5 184.4h.9v.9h-.9zM430.4 183.6h.9v.9h-.9zM443.6 189.0h.9v.9h-.9zM438.7 181.8h.9v.9h-.9zM440.6 176.4h.9v.9h-.9zM450.2 184.8h.9v.9h-.9zM465.9 181.2h.9v.9h-.9zM436.8 182.0h.9v.9h-.9zM440.6 180.6h.9v.9h-.9zM436.5 180.9h.9v.9h-.9zM444.0 189.1h.9v.9h-.9zM433.5 185.1h.9v.9h-.9zM435.8 182.5h.9v.9h-.9zM443.6 186.6h.9v.9h-.9zM440.0 184.3h.9v.9h-.9zM440.7 181.7h.9v.9h-.9zM431.2 185.4h.9v.9h-.9zM430.1 180.1h.9v.9h-.9zM444.7 181.7h.9v.9h-.9zM449.2 186.2h.9v.9h-.9zM444.1 189.3h.9v.9h-.9zM427.1 181.2h.9v.9h-.9zM436.7 189.9h.9v.9h-.9zM437.2 191.9h.9v.9h-.9zM433.3 183.3h.9v.9h-.9zM438.3 188.3h.9v.9h-.9zM437.1 180.4h.9v.9h-.9zM434.9 176.4h.9v.9h-.9zM447.8 187.3h.9v.9h-.9zM441.0 184.9h.9v.9h-.9z" fill="#d6183c"/>
<path d="M441.9 195.4h.8v.8h-.8zM450.5 194.2h.8v.8h-.8zM440.8 201.4h.8v.8h-.8zM455.1 197.5h.8v.8h-.8zM448.8 197.2h.8v.8h-.8zM454.3 195.3h.8v.8h-.8zM446.1 198.1h.8v.8h-.8zM454.3 195.8h.8v.8h-.8zM447.0 195.1h.8v.8h-.8zM441.6 194.6h.8v.8h-.8zM446.1 199.3h.8v.8h-.8zM441.4 194.8h.8v.8h-.8zM443.2 197.7h.8v.8h-.8zM449.8 192.8h.8v.8h-.8zM447.7 193.6h.8v.8h-.8zM449.9 193.7h.8v.8h-.8zM439.1 194.4h.8v.8h-.8zM445.2 193.6h.8v.8h-.8zM446.9 197.0h.8v.8h-.8zM446.1 197.4h.8v.8h-.8z" fill="#222"/>
<line x1="410.00" y1="126.00" x2="410.00" y2="203.30" stroke="#111" stroke-width="0.9"  shape-rendering="crispEdges"/>
<polygon points="408.40,129.00 410.00,126.00 411.60,129.00" fill="#111" />
<line x1="410.00" y1="203.30" x2="486.40" y2="203.30" stroke="#111" stroke-width="0.9"  shape-rendering="crispEdges"/>
<polygon points="483.40,201.70 486.40,203.30 483.40,204.90" fill="#111" />
<line x1="407.60" y1="132.00" x2="410.00" y2="132.00" stroke="#111" stroke-width="0.8"  shape-rendering="crispEdges"/>
<text x="403.40" y="134.81" font-size="7.8" fill="#222" text-anchor="end" textLength="11.32" lengthAdjust="spacingAndGlyphs" stroke="#222" stroke-width="0.3">150</text>
<line x1="408.50" y1="136.00" x2="410.00" y2="136.00" stroke="#111" stroke-width="0.8"  shape-rendering="crispEdges"/>
<line x1="407.60" y1="147.00" x2="410.00" y2="147.00" stroke="#111" stroke-width="0.8"  shape-rendering="crispEdges"/>
<text x="403.40" y="149.81" font-size="7.8" fill="#222" text-anchor="end" textLength="11.32" lengthAdjust="spacingAndGlyphs" stroke="#222" stroke-width="0.3">120</text>
<line x1="408.50" y1="156.50" x2="410.00" y2="156.50" stroke="#111" stroke-width="0.8"  shape-rendering="crispEdges"/>
<line x1="407.60" y1="165.80" x2="410.00" y2="165.80" stroke="#111" stroke-width="0.8"  shape-rendering="crispEdges"/>
<text x="403.40" y="168.61" font-size="7.8" fill="#222" text-anchor="end" textLength="7.55" lengthAdjust="spacingAndGlyphs" stroke="#222" stroke-width="0.3">80</text>
<line x1="408.50" y1="175.30" x2="410.00" y2="175.30" stroke="#111" stroke-width="0.8"  shape-rendering="crispEdges"/>
<line x1="407.60" y1="184.70" x2="410.00" y2="184.70" stroke="#111" stroke-width="0.8"  shape-rendering="crispEdges"/>
<text x="403.40" y="187.51" font-size="7.8" fill="#222" text-anchor="end" textLength="7.55" lengthAdjust="spacingAndGlyphs" stroke="#222" stroke-width="0.3">40</text>
<line x1="408.50" y1="194.00" x2="410.00" y2="194.00" stroke="#111" stroke-width="0.8"  shape-rendering="crispEdges"/>
<line x1="410.00" y1="203.30" x2="410.00" y2="205.30" stroke="#111" stroke-width="0.7"  shape-rendering="crispEdges"/>
<line x1="424.40" y1="203.30" x2="424.40" y2="204.60" stroke="#111" stroke-width="0.7"  shape-rendering="crispEdges"/>
<line x1="438.30" y1="203.30" x2="438.30" y2="205.30" stroke="#111" stroke-width="0.7"  shape-rendering="crispEdges"/>
<line x1="452.00" y1="203.30" x2="452.00" y2="204.60" stroke="#111" stroke-width="0.7"  shape-rendering="crispEdges"/>
<line x1="466.00" y1="203.30" x2="466.00" y2="205.30" stroke="#111" stroke-width="0.7"  shape-rendering="crispEdges"/>
<text x="427.30" y="129.46" font-size="6" fill="#333" text-anchor="middle" stroke="#333" stroke-width="0.3">59</text>
<text x="419.30" y="139.07" font-size="6.3" fill="#333" text-anchor="middle" textLength="15" lengthAdjust="spacingAndGlyphs" stroke="#333" stroke-width="0.3">4.35%</text>
<text x="470.90" y="139.07" font-size="6.3" fill="#333" text-anchor="middle" textLength="15.7" lengthAdjust="spacingAndGlyphs" stroke="#333" stroke-width="0.3">4.36%</text>
<text x="457.50" y="144.66" font-size="6" fill="#333" text-anchor="middle" font-style="italic" textLength="42.4" lengthAdjust="spacingAndGlyphs" stroke="#333" stroke-width="0.3">iKdm1a<tspan font-size="3.8" dy="-1.8">KD</tspan><tspan dy="1.8">;E</tspan><tspan font-size="5">μ</tspan>-TCL1A</text>
<text x="469.70" y="202.47" font-size="6.3" fill="#333" text-anchor="middle" textLength="19.6" lengthAdjust="spacingAndGlyphs" stroke="#333" stroke-width="0.3">19.09%</text>
<text x="486.20" y="195.47" font-size="6.3" fill="#333" text-anchor="middle" stroke="#333" stroke-width="0.3">22</text>
<text x="410.30" y="216.39" font-size="7.2" fill="#222" text-anchor="middle" stroke="#222" stroke-width="0.3">0</text>
<text x="438.40" y="216.39" font-size="7.2" fill="#222" text-anchor="middle" textLength="12" lengthAdjust="spacingAndGlyphs" stroke="#222" stroke-width="0.3">100</text>
<text x="465.00" y="216.39" font-size="7.2" fill="#222" text-anchor="middle" textLength="12" lengthAdjust="spacingAndGlyphs" stroke="#222" stroke-width="0.3">200</text>
<text x="12.50" y="270.02" font-size="12" fill="#111" text-anchor="middle" font-weight="bold" stroke="#111" stroke-width="0.3">D</text>
<circle cx="66.00" cy="280.00" r="2.5" fill="#1a4d85" />
<text x="72.00" y="282.52" font-size="7" fill="#1e1e1e" text-anchor="start" font-style="italic" textLength="30" lengthAdjust="spacingAndGlyphs" stroke="#1e1e1e" stroke-width="0.3">E<tspan font-size="6.3">μ</tspan>-TCL1A</text>
<circle cx="66.00" cy="289.50" r="2.5" fill="#b8163e" />
<text x="72.00" y="292.02" font-size="7" fill="#1e1e1e" text-anchor="start" font-style="italic" textLength="60" lengthAdjust="spacingAndGlyphs" stroke="#1e1e1e" stroke-width="0.3">iKdm1a<tspan font-size="4.6" dy="-2.5">KD</tspan><tspan dy="2.5">;E</tspan><tspan font-size="6.3">μ</tspan>-TCL1A</text>
<line x1="48.80" y1="290.00" x2="48.80" y2="337.00" stroke="#111" stroke-width="1.0"  shape-rendering="crispEdges"/>
<line x1="48.80" y1="339.80" x2="48.80" y2="414.50" stroke="#111" stroke-width="1.0"  shape-rendering="crispEdges"/>
<line x1="46.30" y1="293.00" x2="48.80" y2="293.00" stroke="#111" stroke-width="0.9"  shape-rendering="crispEdges"/>
<text x="43.30" y="295.45" font-size="6.8" fill="#333" text-anchor="end" textLength="6.81" lengthAdjust="spacingAndGlyphs" stroke="#333" stroke-width="0.3">35</text>
<line x1="46.30" y1="322.50" x2="48.80" y2="322.50" stroke="#111" stroke-width="0.9"  shape-rendering="crispEdges"/>
<text x="43.30" y="324.95" font-size="6.8" fill="#333" text-anchor="end" textLength="6.81" lengthAdjust="spacingAndGlyphs" stroke="#333" stroke-width="0.3">25</text>
<line x1="46.30" y1="357.20" x2="48.80" y2="357.20" stroke="#111" stroke-width="0.9"  shape-rendering="crispEdges"/>
<text x="43.30" y="359.65" font-size="6.8" fill="#333" text-anchor="end" textLength="6.81" lengthAdjust="spacingAndGlyphs" stroke="#333" stroke-width="0.3">15</text>
<line x1="46.30" y1="376.30" x2="48.80" y2="376.30" stroke="#111" stroke-width="0.9"  shape-rendering="crispEdges"/>
<text x="43.30" y="378.75" font-size="6.8" fill="#333" text-anchor="end" textLength="6.81" lengthAdjust="spacingAndGlyphs" stroke="#333" stroke-width="0.3">10</text>
<line x1="46.30" y1="395.40" x2="48.80" y2="395.40" stroke="#111" stroke-width="0.9"  shape-rendering="crispEdges"/>
<text x="43.30" y="397.85" font-size="6.8" fill="#333" text-anchor="end" textLength="3.4" lengthAdjust="spacingAndGlyphs" stroke="#333" stroke-width="0.3">5</text>
<line x1="46.30" y1="414.50" x2="48.80" y2="414.50" stroke="#111" stroke-width="0.9"  shape-rendering="crispEdges"/>
<text x="43.30" y="416.95" font-size="6.8" fill="#333" text-anchor="end" textLength="3.4" lengthAdjust="spacingAndGlyphs" stroke="#333" stroke-width="0.3">0</text>
<text x="43.30" y="340.85" font-size="6.8" fill="#333" text-anchor="end" textLength="6.81" lengthAdjust="spacingAndGlyphs" stroke="#333" stroke-width="0.3">20</text>
<line x1="47.00" y1="337.00" x2="50.60" y2="337.00" stroke="#111" stroke-width="0.9"  shape-rendering="crispEdges"/>
<line x1="47.00" y1="339.80" x2="50.60" y2="339.80" stroke="#111" stroke-width="0.9"  shape-rendering="crispEdges"/>
<line x1="48.80" y1="414.50" x2="169.50" y2="414.50" stroke="#1e1e1e" stroke-width="0.9"  shape-rendering="crispEdges"/>
<line x1="62.00" y1="414.50" x2="62.00" y2="416.50" stroke="#1e1e1e" stroke-width="0.8"  shape-rendering="crispEdges"/>
<line x1="80.00" y1="414.50" x2="80.00" y2="416.50" stroke="#1e1e1e" stroke-width="0.8"  shape-rendering="crispEdges"/>
<line x1="104.00" y1="414.50" x2="104.00" y2="416.50" stroke="#1e1e1e" stroke-width="0.8"  shape-rendering="crispEdges"/>
<line x1="122.50" y1="414.50" x2="122.50" y2="416.50" stroke="#1e1e1e" stroke-width="0.8"  shape-rendering="crispEdges"/>
<line x1="146.00" y1="414.50" x2="146.00" y2="416.50" stroke="#1e1e1e" stroke-width="0.8"  shape-rendering="crispEdges"/>
<line x1="164.00" y1="414.50" x2="164.00" y2="416.50" stroke="#1e1e1e" stroke-width="0.8"  shape-rendering="crispEdges"/>
<line x1="62.00" y1="413.35" x2="62.00" y2="396.16" stroke="#1b5297" stroke-width="1.1"  shape-rendering="crispEdges"/>
<line x1="59.00" y1="413.35" x2="65.00" y2="413.35" stroke="#1b5297" stroke-width="1.1"  shape-rendering="crispEdges"/>
<line x1="59.00" y1="396.16" x2="65.00" y2="396.16" stroke="#1b5297" stroke-width="1.1"  shape-rendering="crispEdges"/>
<line x1="59.50" y1="406.10" x2="64.50" y2="406.10" stroke="#1b5297" stroke-width="1.1"  shape-rendering="crispEdges"/>
<circle cx="61.80" cy="385.85" r="2.4" fill="#1b5297" />
<circle cx="62.00" cy="400.75" r="2.4" fill="#1b5297" />
<circle cx="60.50" cy="403.80" r="2.4" fill="#1b5297" />
<circle cx="63.50" cy="404.95" r="2.4" fill="#1b5297" />
<circle cx="60.00" cy="406.48" r="2.4" fill="#1b5297" />
<circle cx="64.50" cy="406.86" r="2.4" fill="#1b5297" />
<circle cx="62.00" cy="408.39" r="2.4" fill="#1b5297" />
<circle cx="59.50" cy="410.30" r="2.4" fill="#1b5297" />
<circle cx="63.00" cy="411.83" r="2.4" fill="#1b5297" />
<circle cx="61.00" cy="412.97" r="2.4" fill="#1b5297" />
<line x1="80.00" y1="392.34" x2="80.00" y2="368.66" stroke="#d20c36" stroke-width="1.1"  shape-rendering="crispEdges"/>
<line x1="77.00" y1="392.34" x2="83.00" y2="392.34" stroke="#d20c36" stroke-width="1.1"  shape-rendering="crispEdges"/>
<line x1="77.00" y1="368.66" x2="83.00" y2="368.66" stroke="#d20c36" stroke-width="1.1"  shape-rendering="crispEdges"/>
<line x1="77.50" y1="380.50" x2="82.50" y2="380.50" stroke="#d20c36" stroke-width="1.1"  shape-rendering="crispEdges"/>
<circle cx="76.00" cy="369.42" r="2.4" fill="#d20c36" />
<circle cx="80.00" cy="370.19" r="2.4" fill="#d20c36" />
<circle cx="83.50" cy="367.51" r="2.4" fill="#d20c36" />
<circle cx="80.00" cy="379.36" r="2.4" fill="#d20c36" />
<circle cx="83.50" cy="386.61" r="2.4" fill="#d20c36" />
<circle cx="80.00" cy="391.96" r="2.4" fill="#d20c36" />
<circle cx="80.00" cy="400.75" r="2.4" fill="#d20c36" />
<line x1="104.00" y1="413.74" x2="104.00" y2="400.75" stroke="#1b5297" stroke-width="1.1"  shape-rendering="crispEdges"/>
<line x1="101.00" y1="413.74" x2="107.00" y2="413.74" stroke="#1b5297" stroke-width="1.1"  shape-rendering="crispEdges"/>
<line x1="101.00" y1="400.75" x2="107.00" y2="400.75" stroke="#1b5297" stroke-width="1.1"  shape-rendering="crispEdges"/>
<line x1="101.50" y1="408.39" x2="106.50" y2="408.39" stroke="#1b5297" stroke-width="1.1"  shape-rendering="crispEdges"/>
<circle cx="103.80" cy="396.93" r="2.4" fill="#1b5297" />
<circle cx="105.00" cy="398.46" r="2.4" fill="#1b5297" />
<circle cx="103.00" cy="404.57" r="2.4" fill="#1b5297" />
<circle cx="105.50" cy="406.86" r="2.4" fill="#1b5297" />
<circle cx="102.50" cy="408.77" r="2.4" fill="#1b5297" />
<circle cx="104.50" cy="409.92" r="2.4" fill="#1b5297" />
<circle cx="106.00" cy="411.44" r="2.4" fill="#1b5297" />
<circle cx="102.00" cy="412.59" r="2.4" fill="#1b5297" />
<circle cx="104.00" cy="413.35" r="2.4" fill="#1b5297" />
<line x1="122.50" y1="402.28" x2="122.50" y2="353.00" stroke="#d20c36" stroke-width="1.1"  shape-rendering="crispEdges"/>
<line x1="119.50" y1="402.28" x2="125.50" y2="402.28" stroke="#d20c36" stroke-width="1.1"  shape-rendering="crispEdges"/>
<line x1="119.50" y1="353.00" x2="125.50" y2="353.00" stroke="#d20c36" stroke-width="1.1"  shape-rendering="crispEdges"/>
<line x1="120.00" y1="377.45" x2="125.00" y2="377.45" stroke="#d20c36" stroke-width="1.1"  shape-rendering="crispEdges"/>
<circle cx="118.50" cy="343.07" r="2.4" fill="#d20c36" />
<circle cx="125.00" cy="340.77" r="2.4" fill="#d20c36" />
<circle cx="118.70" cy="382.79" r="2.4" fill="#d20c36" />
<circle cx="125.00" cy="387.76" r="2.4" fill="#d20c36" />
<circle cx="118.70" cy="390.05" r="2.4" fill="#d20c36" />
<circle cx="118.70" cy="399.60" r="2.4" fill="#d20c36" />
<circle cx="125.00" cy="399.60" r="2.4" fill="#d20c36" />
<line x1="146.00" y1="386.23" x2="146.00" y2="340.39" stroke="#1b5297" stroke-width="1.1"  shape-rendering="crispEdges"/>
<line x1="143.00" y1="386.23" x2="149.00" y2="386.23" stroke="#1b5297" stroke-width="1.1"  shape-rendering="crispEdges"/>
<line x1="143.00" y1="340.39" x2="149.00" y2="340.39" stroke="#1b5297" stroke-width="1.1"  shape-rendering="crispEdges"/>
<line x1="143.50" y1="363.31" x2="148.50" y2="363.31" stroke="#1b5297" stroke-width="1.1"  shape-rendering="crispEdges"/>
<circle cx="146.20" cy="321.32" r="2.4" fill="#1b5297" />
<circle cx="146.20" cy="335.48" r="2.4" fill="#1b5297" />
<circle cx="146.20" cy="362.55" r="2.4" fill="#1b5297" />
<circle cx="142.50" cy="371.72" r="2.4" fill="#1b5297" />
<circle cx="146.20" cy="372.48" r="2.4" fill="#1b5297" />
<circle cx="150.00" cy="378.97" r="2.4" fill="#1b5297" />
<circle cx="142.50" cy="378.97" r="2.4" fill="#1b5297" />
<circle cx="146.20" cy="382.79" r="2.4" fill="#1b5297" />
<line x1="164.00" y1="366.75" x2="164.00" y2="291.23" stroke="#d20c36" stroke-width="1.1"  shape-rendering="crispEdges"/>
<line x1="161.00" y1="366.75" x2="167.00" y2="366.75" stroke="#d20c36" stroke-width="1.1"  shape-rendering="crispEdges"/>
<line x1="161.00" y1="291.23" x2="167.00" y2="291.23" stroke="#d20c36" stroke-width="1.1"  shape-rendering="crispEdges"/>
<line x1="161.50" y1="317.19" x2="166.50" y2="317.19" stroke="#d20c36" stroke-width="1.1"  shape-rendering="crispEdges"/>
<circle cx="163.80" cy="279.73" r="2.4" fill="#d20c36" />
<circle cx="163.80" cy="303.92" r="2.4" fill="#d20c36" />
<circle cx="163.80" cy="314.24" r="2.4" fill="#d20c36" />
<circle cx="163.80" cy="345.74" r="2.4" fill="#d20c36" />
<circle cx="163.80" cy="366.37" r="2.4" fill="#d20c36" />
<circle cx="163.80" cy="373.63" r="2.4" fill="#d20c36" />
<text x="70.50" y="329.02" font-size="7" fill="#1e1e1e" text-anchor="middle" textLength="24" lengthAdjust="spacingAndGlyphs" stroke="#1e1e1e" stroke-width="0.3"><tspan font-style="italic">P</tspan> = .001</text>
<line x1="61.00" y1="334.50" x2="80.00" y2="334.50" stroke="#1e1e1e" stroke-width="0.8"  shape-rendering="crispEdges"/>
<line x1="61.00" y1="333.10" x2="61.00" y2="335.90" stroke="#1e1e1e" stroke-width="0.8"  shape-rendering="crispEdges"/>
<line x1="80.00" y1="333.10" x2="80.00" y2="335.90" stroke="#1e1e1e" stroke-width="0.8"  shape-rendering="crispEdges"/>
<text x="114.00" y="329.02" font-size="7" fill="#1e1e1e" text-anchor="middle" textLength="24" lengthAdjust="spacingAndGlyphs" stroke="#1e1e1e" stroke-width="0.3"><tspan font-style="italic">P</tspan> = .002</text>
<line x1="104.00" y1="334.50" x2="122.50" y2="334.50" stroke="#1e1e1e" stroke-width="0.8"  shape-rendering="crispEdges"/>
<line x1="104.00" y1="333.10" x2="104.00" y2="335.90" stroke="#1e1e1e" stroke-width="0.8"  shape-rendering="crispEdges"/>
<line x1="122.50" y1="333.10" x2="122.50" y2="335.90" stroke="#1e1e1e" stroke-width="0.8"  shape-rendering="crispEdges"/>
<g transform="translate(57.40 428.50) rotate(-45)"><text x="0" y="2.59" font-size="7.2" fill="#1e1e1e" text-anchor="middle" textLength="17" lengthAdjust="spacingAndGlyphs" stroke="#1e1e1e" stroke-width="0.3">N = 9</text></g>
<g transform="translate(75.40 428.50) rotate(-45)"><text x="0" y="2.59" font-size="7.2" fill="#1e1e1e" text-anchor="middle" textLength="17" lengthAdjust="spacingAndGlyphs" stroke="#1e1e1e" stroke-width="0.3">N = 7</text></g>
<g transform="translate(99.40 428.50) rotate(-45)"><text x="0" y="2.59" font-size="7.2" fill="#1e1e1e" text-anchor="middle" textLength="17" lengthAdjust="spacingAndGlyphs" stroke="#1e1e1e" stroke-width="0.3">N = 9</text></g>
<g transform="translate(117.90 428.50) rotate(-45)"><text x="0" y="2.59" font-size="7.2" fill="#1e1e1e" text-anchor="middle" textLength="17" lengthAdjust="spacingAndGlyphs" stroke="#1e1e1e" stroke-width="0.3">N = 7</text></g>
<g transform="translate(141.40 428.50) rotate(-45)"><text x="0" y="2.59" font-size="7.2" fill="#1e1e1e" text-anchor="middle" textLength="17" lengthAdjust="spacingAndGlyphs" stroke="#1e1e1e" stroke-width="0.3">N = 8</text></g>
<g transform="translate(159.40 428.50) rotate(-45)"><text x="0" y="2.59" font-size="7.2" fill="#1e1e1e" text-anchor="middle" textLength="17" lengthAdjust="spacingAndGlyphs" stroke="#1e1e1e" stroke-width="0.3">N = 6</text></g>
<text x="66.00" y="447.02" font-size="7" fill="#1e1e1e" text-anchor="middle" stroke="#1e1e1e" stroke-width="0.3">PB</text>
<text x="109.00" y="447.02" font-size="7" fill="#1e1e1e" text-anchor="middle" textLength="20" lengthAdjust="spacingAndGlyphs" stroke="#1e1e1e" stroke-width="0.3">spleen</text>
<text x="151.50" y="447.02" font-size="7" fill="#1e1e1e" text-anchor="middle" textLength="40" lengthAdjust="spacingAndGlyphs" stroke="#1e1e1e" stroke-width="0.3">bone marrow</text>
<text x="20.96" y="352.30" transform="rotate(-90 20.96 352.30)" font-size="8.5" fill="#1e1e1e" text-anchor="middle" textLength="107" lengthAdjust="spacingAndGlyphs" stroke="#1e1e1e" stroke-width="0.3">Percentage of CD11b<tspan font-size="4.6" dy="-2.5">+</tspan><tspan dy="2.5">F4/80</tspan><tspan font-size="4.6" dy="-2.5">+</tspan><tspan dy="2.5"> cells</tspan></text>
<text x="31.46" y="352.30" transform="rotate(-90 31.46 352.30)" font-size="8.5" fill="#1e1e1e" text-anchor="middle" textLength="55" lengthAdjust="spacingAndGlyphs" stroke="#1e1e1e" stroke-width="0.3">of total leukocytes</text>
<text x="192.60" y="271.32" font-size="12" fill="#111" text-anchor="middle" font-weight="bold" stroke="#111" stroke-width="0.3">E</text>
<text x="245.30" y="270.10" font-size="8.6" fill="#1e1e1e" text-anchor="middle" textLength="93.5" lengthAdjust="spacingAndGlyphs" stroke="#1e1e1e" stroke-width="0.3">spleen tissue cytometry</text>
<line x1="217.50" y1="282.50" x2="217.50" y2="356.00" stroke="#111" stroke-width="1.1"  shape-rendering="crispEdges"/>
<line x1="214.00" y1="284.50" x2="217.50" y2="284.50" stroke="#111" stroke-width="0.9"  shape-rendering="crispEdges"/>
<text x="211.50" y="286.95" font-size="6.8" fill="#333" text-anchor="end" textLength="7.19" lengthAdjust="spacingAndGlyphs" stroke="#333" stroke-width="0.3">30</text>
<line x1="214.00" y1="308.33" x2="217.50" y2="308.33" stroke="#111" stroke-width="0.9"  shape-rendering="crispEdges"/>
<text x="211.50" y="310.78" font-size="6.8" fill="#333" text-anchor="end" textLength="7.19" lengthAdjust="spacingAndGlyphs" stroke="#333" stroke-width="0.3">20</text>
<line x1="214.00" y1="332.17" x2="217.50" y2="332.17" stroke="#111" stroke-width="0.9"  shape-rendering="crispEdges"/>
<text x="211.50" y="334.61" font-size="6.8" fill="#333" text-anchor="end" textLength="7.19" lengthAdjust="spacingAndGlyphs" stroke="#333" stroke-width="0.3">10</text>
<line x1="214.00" y1="356.00" x2="217.50" y2="356.00" stroke="#111" stroke-width="0.9"  shape-rendering="crispEdges"/>
<text x="211.50" y="358.45" font-size="6.8" fill="#333" text-anchor="end" textLength="3.59" lengthAdjust="spacingAndGlyphs" stroke="#333" stroke-width="0.3">0</text>
<rect x="226.00" y="344.80" width="9.50" height="11.20" fill="#1b5297" />
<rect x="245.50" y="327.40" width="9.50" height="28.60" fill="#d20c36" />
<line x1="230.70" y1="352.43" x2="230.70" y2="336.93" stroke="#111" stroke-width="0.8"  shape-rendering="crispEdges"/>
<line x1="228.50" y1="336.93" x2="232.90" y2="336.93" stroke="#111" stroke-width="0.8"  shape-rendering="crispEdges"/>
<line x1="250.20" y1="345.27" x2="250.20" y2="310.00" stroke="#111" stroke-width="0.8"  shape-rendering="crispEdges"/>
<line x1="248.00" y1="310.00" x2="252.40" y2="310.00" stroke="#111" stroke-width="0.8"  shape-rendering="crispEdges"/>
<circle cx="228.00" cy="336.46" r="0.9" fill="#111" />
<circle cx="232.00" cy="336.93" r="0.9" fill="#111" />
<circle cx="230.50" cy="342.89" r="0.9" fill="#111" />
<circle cx="229.00" cy="347.66" r="0.9" fill="#111" />
<circle cx="232.00" cy="350.04" r="0.9" fill="#111" />
<circle cx="230.00" cy="353.62" r="0.9" fill="#111" />
<circle cx="250.00" cy="296.42" r="0.9" fill="#111" />
<circle cx="250.00" cy="323.82" r="0.9" fill="#111" />
<circle cx="251.50" cy="334.55" r="0.9" fill="#111" />
<circle cx="249.00" cy="341.70" r="0.9" fill="#111" />
<circle cx="250.50" cy="346.47" r="0.9" fill="#111" />
<circle cx="249.50" cy="339.32" r="0.9" fill="#111" />
<line x1="217.50" y1="356.00" x2="258.00" y2="356.00" stroke="#111" stroke-width="1.2"  shape-rendering="crispEdges"/>
<line x1="230.75" y1="356.00" x2="230.75" y2="358.00" stroke="#1e1e1e" stroke-width="0.8"  shape-rendering="crispEdges"/>
<line x1="250.25" y1="356.00" x2="250.25" y2="358.00" stroke="#1e1e1e" stroke-width="0.8"  shape-rendering="crispEdges"/>
<text x="239.50" y="287.54" font-size="6.5" fill="#1e1e1e" text-anchor="middle" stroke="#1e1e1e" stroke-width="0.3"><tspan font-style="italic">P</tspan> = .03</text>
<line x1="231.00" y1="292.00" x2="249.50" y2="292.00" stroke="#1e1e1e" stroke-width="0.8"  shape-rendering="crispEdges"/>
<line x1="231.00" y1="290.70" x2="231.00" y2="293.30" stroke="#1e1e1e" stroke-width="0.8"  shape-rendering="crispEdges"/>
<line x1="249.50" y1="290.70" x2="249.50" y2="293.30" stroke="#1e1e1e" stroke-width="0.8"  shape-rendering="crispEdges"/>
<text x="199.48" y="319.00" transform="rotate(-90 199.48 319.00)" font-size="8" fill="#1e1e1e" text-anchor="middle" textLength="49.6" lengthAdjust="spacingAndGlyphs" stroke="#1e1e1e" stroke-width="0.3">F4/80<tspan font-size="4.6" dy="-2.5">+</tspan><tspan dy="2.5"> cells (%)</tspan></text>
<g transform="translate(227.00 371.00) rotate(-45)"><text x="0" y="2.52" font-size="7" fill="#1e1e1e" text-anchor="middle" textLength="18" lengthAdjust="spacingAndGlyphs" stroke="#1e1e1e" stroke-width="0.3">N = 6</text></g>
<g transform="translate(243.90 371.20) rotate(-45)"><text x="0" y="2.52" font-size="7" fill="#1e1e1e" text-anchor="middle" textLength="18" lengthAdjust="spacingAndGlyphs" stroke="#1e1e1e" stroke-width="0.3">N = 6</text></g>
<line x1="219.00" y1="390.00" x2="219.00" y2="463.00" stroke="#111" stroke-width="1.1"  shape-rendering="crispEdges"/>
<line x1="215.50" y1="392.00" x2="219.00" y2="392.00" stroke="#111" stroke-width="0.9"  shape-rendering="crispEdges"/>
<text x="213.00" y="394.45" font-size="6.8" fill="#333" text-anchor="end" textLength="10.78" lengthAdjust="spacingAndGlyphs" stroke="#333" stroke-width="0.3">100</text>
<line x1="215.50" y1="406.20" x2="219.00" y2="406.20" stroke="#111" stroke-width="0.9"  shape-rendering="crispEdges"/>
<text x="213.00" y="408.65" font-size="6.8" fill="#333" text-anchor="end" textLength="7.19" lengthAdjust="spacingAndGlyphs" stroke="#333" stroke-width="0.3">80</text>
<line x1="215.50" y1="420.40" x2="219.00" y2="420.40" stroke="#111" stroke-width="0.9"  shape-rendering="crispEdges"/>
<text x="213.00" y="422.85" font-size="6.8" fill="#333" text-anchor="end" textLength="7.19" lengthAdjust="spacingAndGlyphs" stroke="#333" stroke-width="0.3">60</text>
<line x1="215.50" y1="434.60" x2="219.00" y2="434.60" stroke="#111" stroke-width="0.9"  shape-rendering="crispEdges"/>
<text x="213.00" y="437.05" font-size="6.8" fill="#333" text-anchor="end" textLength="7.19" lengthAdjust="spacingAndGlyphs" stroke="#333" stroke-width="0.3">40</text>
<line x1="215.50" y1="448.80" x2="219.00" y2="448.80" stroke="#111" stroke-width="0.9"  shape-rendering="crispEdges"/>
<text x="213.00" y="451.25" font-size="6.8" fill="#333" text-anchor="end" textLength="7.19" lengthAdjust="spacingAndGlyphs" stroke="#333" stroke-width="0.3">20</text>
<line x1="215.50" y1="463.00" x2="219.00" y2="463.00" stroke="#111" stroke-width="0.9"  shape-rendering="crispEdges"/>
<text x="213.00" y="465.45" font-size="6.8" fill="#333" text-anchor="end" textLength="3.59" lengthAdjust="spacingAndGlyphs" stroke="#333" stroke-width="0.3">0</text>
<rect x="228.00" y="414.01" width="11.00" height="48.99" fill="#1b5297" />
<rect x="247.00" y="437.08" width="10.50" height="25.92" fill="#d20c36" />
<line x1="233.50" y1="421.82" x2="233.50" y2="406.20" stroke="#111" stroke-width="0.8"  shape-rendering="crispEdges"/>
<line x1="231.30" y1="406.20" x2="235.70" y2="406.20" stroke="#111" stroke-width="0.8"  shape-rendering="crispEdges"/>
<line x1="252.20" y1="450.22" x2="252.20" y2="423.95" stroke="#111" stroke-width="0.8"  shape-rendering="crispEdges"/>
<line x1="250.00" y1="423.95" x2="254.40" y2="423.95" stroke="#111" stroke-width="0.8"  shape-rendering="crispEdges"/>
<circle cx="231.00" cy="406.91" r="0.9" fill="#111" />
<circle cx="235.00" cy="407.62" r="0.9" fill="#111" />
<circle cx="233.00" cy="411.88" r="0.9" fill="#111" />
<circle cx="232.00" cy="416.14" r="0.9" fill="#111" />
<circle cx="234.00" cy="420.40" r="0.9" fill="#111" />
<circle cx="252.00" cy="411.88" r="0.9" fill="#111" />
<circle cx="251.00" cy="430.34" r="0.9" fill="#111" />
<circle cx="253.00" cy="436.02" r="0.9" fill="#111" />
<circle cx="252.50" cy="441.70" r="0.9" fill="#111" />
<circle cx="251.50" cy="448.80" r="0.9" fill="#111" />
<circle cx="253.00" cy="443.83" r="0.9" fill="#111" />
<circle cx="251.00" cy="439.57" r="0.9" fill="#111" />
<line x1="219.00" y1="463.00" x2="261.00" y2="463.00" stroke="#111" stroke-width="1.2"  shape-rendering="crispEdges"/>
<line x1="233.50" y1="463.00" x2="233.50" y2="465.00" stroke="#1e1e1e" stroke-width="0.8"  shape-rendering="crispEdges"/>
<line x1="252.25" y1="463.00" x2="252.25" y2="465.00" stroke="#1e1e1e" stroke-width="0.8"  shape-rendering="crispEdges"/>
<text x="242.80" y="397.04" font-size="6.5" fill="#1e1e1e" text-anchor="middle" stroke="#1e1e1e" stroke-width="0.3"><tspan font-style="italic">P</tspan> = .01</text>
<line x1="233.10" y1="401.90" x2="253.40" y2="401.90" stroke="#1e1e1e" stroke-width="0.8"  shape-rendering="crispEdges"/>
<line x1="233.10" y1="400.60" x2="233.10" y2="403.20" stroke="#1e1e1e" stroke-width="0.8"  shape-rendering="crispEdges"/>
<line x1="253.40" y1="400.60" x2="253.40" y2="403.20" stroke="#1e1e1e" stroke-width="0.8"  shape-rendering="crispEdges"/>
<text x="198.58" y="430.00" transform="rotate(-90 198.58 430.00)" font-size="8" fill="#1e1e1e" text-anchor="middle" textLength="81" lengthAdjust="spacingAndGlyphs" stroke="#1e1e1e" stroke-width="0.3">KDM1A<tspan font-size="4.6" dy="-2.5">+</tspan><tspan dy="2.5"> (% of F4/80</tspan><tspan font-size="4.6" dy="-2.5">+</tspan><tspan dy="2.5"> cells)</tspan></text>
<g transform="translate(229.00 477.60) rotate(-45)"><text x="0" y="2.52" font-size="7" fill="#1e1e1e" text-anchor="middle" textLength="18" lengthAdjust="spacingAndGlyphs" stroke="#1e1e1e" stroke-width="0.3">N = 5</text></g>
<g transform="translate(246.00 477.60) rotate(-45)"><text x="0" y="2.52" font-size="7" fill="#1e1e1e" text-anchor="middle" textLength="18" lengthAdjust="spacingAndGlyphs" stroke="#1e1e1e" stroke-width="0.3">N = 7</text></g>
<text x="269.63" y="434.10" transform="rotate(-90 269.63 434.10)" font-size="6.2" fill="#1e1e1e" text-anchor="middle" font-style="italic" textLength="30.4" lengthAdjust="spacingAndGlyphs" stroke="#1e1e1e" stroke-width="0.3">E<tspan font-size="5.3">μ</tspan>-TCL1A</text>
<text x="279.53" y="419.50" transform="rotate(-90 279.53 419.50)" font-size="6.2" fill="#1e1e1e" text-anchor="middle" font-style="italic" textLength="62" lengthAdjust="spacingAndGlyphs" stroke="#1e1e1e" stroke-width="0.3">iKdm1a<tspan font-size="4" dy="-2">KD</tspan><tspan dy="2">;E</tspan><tspan font-size="5.3">μ</tspan>-TCL1A</text>
<rect x="265.60" y="452.80" width="5.00" height="7.10" fill="#1b5297" />
<rect x="275.00" y="452.80" width="5.00" height="7.10" fill="#d20c36" />
<line x1="307.50" y1="282.30" x2="307.50" y2="465.50" stroke="#222" stroke-width="1.1"  shape-rendering="crispEdges"/>
<line x1="307.50" y1="465.50" x2="409.20" y2="465.50" stroke="#222" stroke-width="1.1"  shape-rendering="crispEdges"/>
<text x="303.00" y="379.10" transform="rotate(-90 303.00 379.10)" font-size="7.5" fill="#1e1e1e" text-anchor="middle" textLength="76.4" lengthAdjust="spacingAndGlyphs" stroke="#1e1e1e" stroke-width="0.3">KDM1A (mean intensity)</text>
<text x="358.00" y="473.70" font-size="7.5" fill="#1e1e1e" text-anchor="middle" textLength="70" lengthAdjust="spacingAndGlyphs" stroke="#1e1e1e" stroke-width="0.3">F4/80 (mean intensity)</text>
<rect x="329" y="284.4" width="71.60000000000002" height="71.30000000000001" fill="none" stroke="#222" stroke-width="1" shape-rendering="crispEdges"/>
<line x1="353.70" y1="284.40" x2="353.70" y2="355.70" stroke="#9a9a9a" stroke-width="0.8"  shape-rendering="crispEdges"/>
<line x1="329.00" y1="339.00" x2="400.60" y2="339.00" stroke="#9a9a9a" stroke-width="0.8"  shape-rendering="crispEdges"/>
<polygon points="339.80,352.00 339.80,323.00 342.00,318.50 345.00,316.00 349.00,315.00 353.70,315.50 353.70,339.00 375.00,339.00 375.50,342.00 371.00,346.00 364.60,349.00 355.00,351.50 345.00,352.50" fill="#0b0b0b" />
<path d="M341.3 321.7h.9v.9h-.9zM341.2 323.1h.9v.9h-.9zM340.2 320.0h.9v.9h-.9zM340.8 320.4h.9v.9h-.9zM338.9 322.1h.9v.9h-.9zM339.8 322.3h.9v.9h-.9zM340.6 320.8h.9v.9h-.9zM339.2 321.2h.9v.9h-.9zM344.7 318.0h.9v.9h-.9zM342.3 316.5h.9v.9h-.9zM346.4 317.9h.9v.9h-.9zM343.0 318.0h.9v.9h-.9zM342.6 318.5h.9v.9h-.9zM344.6 316.7h.9v.9h-.9zM344.8 313.4h.9v.9h-.9zM345.8 314.1h.9v.9h-.9zM346.9 315.5h.9v.9h-.9zM345.4 315.6h.9v.9h-.9zM347.0 313.7h.9v.9h-.9zM347.0 315.6h.9v.9h-.9zM350.8 313.9h.9v.9h-.9zM351.5 317.6h.9v.9h-.9zM349.9 312.9h.9v.9h-.9zM352.8 314.1h.9v.9h-.9zM352.1 313.9h.9v.9h-.9zM348.6 318.9h.9v.9h-.9zM350.5 314.8h.9v.9h-.9zM363.7 337.6h.9v.9h-.9zM354.1 337.2h.9v.9h-.9zM365.5 336.2h.9v.9h-.9zM371.9 337.6h.9v.9h-.9zM365.9 340.8h.9v.9h-.9zM365.6 335.6h.9v.9h-.9zM373.4 339.4h.9v.9h-.9zM363.3 338.3h.9v.9h-.9zM368.2 338.1h.9v.9h-.9zM367.0 341.5h.9v.9h-.9zM359.3 338.4h.9v.9h-.9zM361.5 338.4h.9v.9h-.9zM363.1 338.3h.9v.9h-.9zM356.8 339.0h.9v.9h-.9zM369.6 338.9h.9v.9h-.9zM356.0 338.6h.9v.9h-.9zM371.8 340.1h.9v.9h-.9zM355.0 336.6h.9v.9h-.9zM372.1 339.2h.9v.9h-.9zM370.7 339.4h.9v.9h-.9zM362.1 337.6h.9v.9h-.9zM360.9 341.6h.9v.9h-.9zM356.5 335.9h.9v.9h-.9zM357.0 338.7h.9v.9h-.9zM363.6 339.7h.9v.9h-.9zM365.8 338.5h.9v.9h-.9zM362.2 338.7h.9v.9h-.9zM361.1 334.9h.9v.9h-.9zM368.0 336.9h.9v.9h-.9zM364.2 336.8h.9v.9h-.9zM354.4 336.9h.9v.9h-.9zM372.4 339.2h.9v.9h-.9zM370.2 335.3h.9v.9h-.9zM361.6 337.9h.9v.9h-.9zM374.4 340.5h.9v.9h-.9zM373.6 338.9h.9v.9h-.9zM374.2 339.1h.9v.9h-.9zM374.7 339.6h.9v.9h-.9zM374.4 342.1h.9v.9h-.9zM374.8 342.1h.9v.9h-.9zM370.9 344.8h.9v.9h-.9zM371.8 343.5h.9v.9h-.9zM372.8 342.2h.9v.9h-.9zM371.9 341.3h.9v.9h-.9zM369.1 343.9h.9v.9h-.9zM373.4 343.9h.9v.9h-.9zM374.5 341.9h.9v.9h-.9zM368.5 346.8h.9v.9h-.9zM368.2 343.3h.9v.9h-.9zM369.6 343.9h.9v.9h-.9zM369.9 346.5h.9v.9h-.9zM366.3 345.4h.9v.9h-.9zM364.1 348.2h.9v.9h-.9zM365.2 348.5h.9v.9h-.9zM368.7 347.7h.9v.9h-.9zM369.4 345.8h.9v.9h-.9zM366.4 349.7h.9v.9h-.9zM368.2 346.1h.9v.9h-.9zM354.0 348.2h.9v.9h-.9zM355.7 349.7h.9v.9h-.9zM357.7 353.1h.9v.9h-.9zM362.3 350.6h.9v.9h-.9zM363.9 348.8h.9v.9h-.9zM363.9 348.8h.9v.9h-.9zM357.2 349.1h.9v.9h-.9zM355.9 354.4h.9v.9h-.9zM354.4 349.8h.9v.9h-.9zM355.2 351.7h.9v.9h-.9zM361.8 348.3h.9v.9h-.9zM362.1 348.4h.9v.9h-.9zM355.0 348.7h.9v.9h-.9zM356.7 352.9h.9v.9h-.9zM356.4 350.3h.9v.9h-.9zM353.9 353.0h.9v.9h-.9zM347.0 354.8h.9v.9h-.9zM347.1 352.8h.9v.9h-.9zM346.6 351.7h.9v.9h-.9zM351.1 350.0h.9v.9h-.9zM351.0 355.5h.9v.9h-.9zM350.3 349.0h.9v.9h-.9zM352.9 352.1h.9v.9h-.9zM353.1 349.2h.9v.9h-.9zM346.2 349.0h.9v.9h-.9zM352.9 349.1h.9v.9h-.9zM348.4 355.7h.9v.9h-.9zM351.1 352.2h.9v.9h-.9zM354.4 351.3h.9v.9h-.9zM345.0 353.2h.9v.9h-.9zM345.4 353.6h.9v.9h-.9zM342.5 349.8h.9v.9h-.9zM343.2 354.1h.9v.9h-.9zM343.2 352.2h.9v.9h-.9zM341.6 350.6h.9v.9h-.9zM343.1 352.7h.9v.9h-.9zM339.9 351.2h.9v.9h-.9zM342.5 353.9h.9v.9h-.9zM339.9 351.1h.9v.9h-.9z" fill="#111"/>
<polygon points="353.70,318.00 358.00,319.00 362.00,321.50 366.00,324.00 370.00,327.30 373.00,330.00 375.00,333.00 376.00,339.00 353.70,339.00" fill="#2a62a4" />
<path d="M354.7 319.6h.9v.9h-.9zM355.7 317.2h.9v.9h-.9zM355.1 319.7h.9v.9h-.9zM354.0 317.9h.9v.9h-.9zM355.5 317.1h.9v.9h-.9zM356.7 317.0h.9v.9h-.9zM359.9 319.4h.9v.9h-.9zM359.7 320.1h.9v.9h-.9zM360.2 319.3h.9v.9h-.9zM358.8 318.8h.9v.9h-.9zM358.1 322.1h.9v.9h-.9zM359.7 320.1h.9v.9h-.9zM361.2 316.7h.9v.9h-.9zM365.0 321.0h.9v.9h-.9zM364.4 322.7h.9v.9h-.9zM364.3 320.7h.9v.9h-.9zM365.5 323.1h.9v.9h-.9zM362.9 325.1h.9v.9h-.9zM364.0 319.4h.9v.9h-.9zM362.3 324.9h.9v.9h-.9zM366.8 323.2h.9v.9h-.9zM366.4 323.5h.9v.9h-.9zM366.4 324.5h.9v.9h-.9zM366.7 322.7h.9v.9h-.9zM370.7 324.6h.9v.9h-.9zM366.5 323.7h.9v.9h-.9zM367.6 322.2h.9v.9h-.9zM368.4 327.3h.9v.9h-.9zM372.6 329.3h.9v.9h-.9zM374.0 324.3h.9v.9h-.9zM371.8 329.4h.9v.9h-.9zM371.2 326.0h.9v.9h-.9zM370.0 328.4h.9v.9h-.9zM370.9 326.6h.9v.9h-.9zM370.7 330.9h.9v.9h-.9zM373.9 331.1h.9v.9h-.9zM373.1 330.6h.9v.9h-.9zM374.3 331.1h.9v.9h-.9zM374.6 332.5h.9v.9h-.9zM374.6 337.4h.9v.9h-.9zM374.9 334.1h.9v.9h-.9zM374.4 332.8h.9v.9h-.9zM375.9 333.1h.9v.9h-.9zM372.5 335.5h.9v.9h-.9zM376.4 333.8h.9v.9h-.9zM372.9 333.7h.9v.9h-.9zM376.2 336.6h.9v.9h-.9zM372.4 333.5h.9v.9h-.9zM372.4 318.8h.9v.9h-.9zM369.1 332.1h.9v.9h-.9zM362.7 322.6h.9v.9h-.9zM364.0 323.4h.9v.9h-.9zM364.9 327.3h.9v.9h-.9zM360.0 316.2h.9v.9h-.9zM377.2 327.2h.9v.9h-.9zM364.4 328.3h.9v.9h-.9zM375.5 321.8h.9v.9h-.9zM371.9 322.9h.9v.9h-.9zM370.0 323.6h.9v.9h-.9zM375.0 317.0h.9v.9h-.9zM381.8 319.2h.9v.9h-.9zM377.8 324.8h.9v.9h-.9zM375.0 327.6h.9v.9h-.9zM368.3 334.5h.9v.9h-.9zM369.0 316.6h.9v.9h-.9zM365.7 303.1h.9v.9h-.9zM370.9 333.2h.9v.9h-.9zM377.9 313.0h.9v.9h-.9zM371.9 325.6h.9v.9h-.9zM359.8 309.4h.9v.9h-.9zM367.0 328.8h.9v.9h-.9zM366.6 327.7h.9v.9h-.9zM355.3 316.2h.9v.9h-.9zM360.6 320.0h.9v.9h-.9zM370.0 323.7h.9v.9h-.9zM370.1 321.2h.9v.9h-.9zM360.6 323.3h.9v.9h-.9zM370.8 330.3h.9v.9h-.9zM361.1 321.9h.9v.9h-.9zM375.0 317.0h.9v.9h-.9zM368.9 315.7h.9v.9h-.9zM361.8 315.8h.9v.9h-.9zM365.6 328.3h.9v.9h-.9zM365.9 321.3h.9v.9h-.9zM367.9 314.9h.9v.9h-.9zM374.5 316.2h.9v.9h-.9zM367.4 320.8h.9v.9h-.9zM367.5 321.2h.9v.9h-.9zM371.4 319.7h.9v.9h-.9zM369.1 328.3h.9v.9h-.9zM368.6 322.7h.9v.9h-.9zM379.4 308.4h.9v.9h-.9zM364.8 314.6h.9v.9h-.9zM355.6 327.3h.9v.9h-.9zM361.4 310.9h.9v.9h-.9zM390.7 329.1h.9v.9h-.9zM379.2 320.1h.9v.9h-.9zM365.4 330.2h.9v.9h-.9zM357.0 323.2h.9v.9h-.9zM363.0 312.2h.9v.9h-.9zM366.0 328.9h.9v.9h-.9zM357.0 331.0h.9v.9h-.9zM359.0 319.5h.9v.9h-.9zM361.5 325.7h.9v.9h-.9zM368.5 319.1h.9v.9h-.9zM370.8 326.8h.9v.9h-.9zM357.7 313.8h.9v.9h-.9zM358.5 317.6h.9v.9h-.9zM358.1 335.8h.9v.9h-.9zM367.9 321.4h.9v.9h-.9zM356.9 310.1h.9v.9h-.9zM364.7 333.5h.9v.9h-.9zM373.5 321.5h.9v.9h-.9zM371.1 320.3h.9v.9h-.9zM382.0 325.2h.9v.9h-.9zM381.7 330.8h.9v.9h-.9zM366.0 314.8h.9v.9h-.9zM374.5 316.0h.9v.9h-.9zM358.9 325.5h.9v.9h-.9zM369.9 321.2h.9v.9h-.9zM382.4 318.1h.9v.9h-.9zM378.5 324.4h.9v.9h-.9zM367.8 320.1h.9v.9h-.9zM380.9 317.3h.9v.9h-.9zM354.9 319.1h.9v.9h-.9zM378.0 312.8h.9v.9h-.9zM369.8 334.0h.9v.9h-.9zM380.5 328.5h.9v.9h-.9zM391.2 322.9h.9v.9h-.9zM366.9 307.2h.9v.9h-.9zM371.8 330.1h.9v.9h-.9zM365.6 320.9h.9v.9h-.9zM373.7 326.7h.9v.9h-.9zM365.5 317.7h.9v.9h-.9zM365.1 302.0h.9v.9h-.9zM364.2 331.5h.9v.9h-.9zM379.9 304.9h.9v.9h-.9zM366.5 319.9h.9v.9h-.9zM361.3 328.9h.9v.9h-.9zM361.3 322.2h.9v.9h-.9zM367.7 312.8h.9v.9h-.9zM368.1 320.1h.9v.9h-.9zM372.2 317.7h.9v.9h-.9zM374.1 321.8h.9v.9h-.9zM367.1 321.6h.9v.9h-.9zM381.6 317.6h.9v.9h-.9zM376.0 298.6h.9v.9h-.9zM388.1 315.1h.9v.9h-.9zM363.0 315.8h.9v.9h-.9zM370.7 325.1h.9v.9h-.9zM368.8 324.9h.9v.9h-.9z" fill="#2a62a4"/>
<path d="M367.4 347.7h.8v.8h-.8zM369.8 345.2h.8v.8h-.8zM378.7 346.7h.8v.8h-.8zM377.0 351.6h.8v.8h-.8zM368.2 347.2h.8v.8h-.8zM363.8 351.7h.8v.8h-.8zM364.2 341.0h.8v.8h-.8zM368.7 350.2h.8v.8h-.8zM374.6 340.8h.8v.8h-.8zM374.6 344.1h.8v.8h-.8zM367.7 352.1h.8v.8h-.8zM375.8 348.0h.8v.8h-.8zM376.5 344.2h.8v.8h-.8zM375.8 345.0h.8v.8h-.8z" fill="#222"/>
<line x1="329.00" y1="278.90" x2="329.00" y2="355.70" stroke="#111" stroke-width="0.9"  shape-rendering="crispEdges"/>
<polygon points="327.40,281.90 329.00,278.90 330.60,281.90" fill="#111" />
<line x1="329.00" y1="355.70" x2="406.60" y2="355.70" stroke="#111" stroke-width="0.9"  shape-rendering="crispEdges"/>
<polygon points="403.60,354.10 406.60,355.70 403.60,357.30" fill="#111" />
<line x1="326.60" y1="284.40" x2="329.00" y2="284.40" stroke="#111" stroke-width="0.8"  shape-rendering="crispEdges"/>
<text x="323.80" y="287.21" font-size="7.8" fill="#222" text-anchor="end" textLength="11.32" lengthAdjust="spacingAndGlyphs" stroke="#222" stroke-width="0.3">120</text>
<line x1="327.50" y1="296.40" x2="329.00" y2="296.40" stroke="#111" stroke-width="0.8"  shape-rendering="crispEdges"/>
<line x1="326.60" y1="308.50" x2="329.00" y2="308.50" stroke="#111" stroke-width="0.8"  shape-rendering="crispEdges"/>
<text x="323.80" y="311.31" font-size="7.8" fill="#222" text-anchor="end" textLength="7.55" lengthAdjust="spacingAndGlyphs" stroke="#222" stroke-width="0.3">80</text>
<line x1="327.50" y1="320.00" x2="329.00" y2="320.00" stroke="#111" stroke-width="0.8"  shape-rendering="crispEdges"/>
<line x1="326.60" y1="332.00" x2="329.00" y2="332.00" stroke="#111" stroke-width="0.8"  shape-rendering="crispEdges"/>
<text x="323.80" y="334.81" font-size="7.8" fill="#222" text-anchor="end" textLength="7.55" lengthAdjust="spacingAndGlyphs" stroke="#222" stroke-width="0.3">40</text>
<line x1="327.50" y1="344.00" x2="329.00" y2="344.00" stroke="#111" stroke-width="0.8"  shape-rendering="crispEdges"/>
<line x1="329.00" y1="355.70" x2="329.00" y2="357.70" stroke="#111" stroke-width="0.7"  shape-rendering="crispEdges"/>
<line x1="345.50" y1="355.70" x2="345.50" y2="357.00" stroke="#111" stroke-width="0.7"  shape-rendering="crispEdges"/>
<line x1="361.70" y1="355.70" x2="361.70" y2="357.70" stroke="#111" stroke-width="0.7"  shape-rendering="crispEdges"/>
<line x1="377.70" y1="355.70" x2="377.70" y2="357.00" stroke="#111" stroke-width="0.7"  shape-rendering="crispEdges"/>
<line x1="394.00" y1="355.70" x2="394.00" y2="357.70" stroke="#111" stroke-width="0.7"  shape-rendering="crispEdges"/>
<text x="353.70" y="283.16" font-size="6" fill="#333" text-anchor="middle" stroke="#333" stroke-width="0.3">75</text>
<text x="339.00" y="290.77" font-size="6.3" fill="#333" text-anchor="middle" textLength="17.3" lengthAdjust="spacingAndGlyphs" stroke="#333" stroke-width="0.3">13.32%</text>
<text x="389.60" y="290.77" font-size="6.3" fill="#333" text-anchor="middle" textLength="14.7" lengthAdjust="spacingAndGlyphs" stroke="#333" stroke-width="0.3">5.26%</text>
<text x="384.90" y="296.47" font-size="6.3" fill="#333" text-anchor="middle" font-style="italic" textLength="24.2" lengthAdjust="spacingAndGlyphs" stroke="#333" stroke-width="0.3">E<tspan font-size="5.5">μ</tspan>-TCL1A</text>
<text x="389.00" y="354.98" font-size="5.5" fill="#333" text-anchor="middle" textLength="15" lengthAdjust="spacingAndGlyphs" stroke="#333" stroke-width="0.3">2.92%</text>
<text x="404.40" y="340.98" font-size="5.5" fill="#333" text-anchor="middle" stroke="#333" stroke-width="0.3">27</text>
<text x="323.00" y="367.72" font-size="7" fill="#222" text-anchor="middle" stroke="#222" stroke-width="0.3">0</text>
<text x="361.70" y="367.72" font-size="7" fill="#222" text-anchor="middle" stroke="#222" stroke-width="0.3">100</text>
<text x="393.00" y="367.79" font-size="7.2" fill="#222" text-anchor="middle" stroke="#222" stroke-width="0.3">200</text>
<rect x="329.3" y="379.4" width="71.30000000000001" height="71.10000000000002" fill="none" stroke="#222" stroke-width="1" shape-rendering="crispEdges"/>
<line x1="352.00" y1="379.40" x2="352.00" y2="450.50" stroke="#9a9a9a" stroke-width="0.8"  shape-rendering="crispEdges"/>
<line x1="329.30" y1="434.20" x2="400.60" y2="434.20" stroke="#9a9a9a" stroke-width="0.8"  shape-rendering="crispEdges"/>
<polygon points="339.20,447.00 339.20,439.20 342.70,431.10 347.30,426.00 352.00,424.80 352.00,434.20 370.40,434.20 364.60,440.00 356.50,445.00 350.00,447.30" fill="#0b0b0b" />
<path d="M340.3 437.2h.9v.9h-.9zM341.0 433.0h.9v.9h-.9zM339.1 438.1h.9v.9h-.9zM345.0 439.4h.9v.9h-.9zM339.4 432.9h.9v.9h-.9zM340.9 434.9h.9v.9h-.9zM339.7 437.3h.9v.9h-.9zM339.0 436.6h.9v.9h-.9zM338.7 438.5h.9v.9h-.9zM343.4 432.1h.9v.9h-.9zM340.9 436.1h.9v.9h-.9zM343.0 431.0h.9v.9h-.9zM337.9 437.8h.9v.9h-.9zM340.1 433.0h.9v.9h-.9zM343.3 428.5h.9v.9h-.9zM343.9 426.2h.9v.9h-.9zM345.8 425.5h.9v.9h-.9zM342.2 430.0h.9v.9h-.9zM345.8 425.1h.9v.9h-.9zM346.7 425.9h.9v.9h-.9zM344.6 427.4h.9v.9h-.9zM341.1 427.0h.9v.9h-.9zM344.4 429.2h.9v.9h-.9zM345.3 426.4h.9v.9h-.9zM347.1 424.5h.9v.9h-.9zM350.7 422.2h.9v.9h-.9zM350.6 423.5h.9v.9h-.9zM347.5 425.3h.9v.9h-.9zM349.2 424.3h.9v.9h-.9zM351.1 424.4h.9v.9h-.9zM349.2 424.6h.9v.9h-.9zM356.0 432.7h.9v.9h-.9zM351.8 433.1h.9v.9h-.9zM359.3 434.8h.9v.9h-.9zM358.5 435.5h.9v.9h-.9zM354.8 430.8h.9v.9h-.9zM358.8 434.9h.9v.9h-.9zM369.5 435.8h.9v.9h-.9zM355.3 433.9h.9v.9h-.9zM351.8 432.4h.9v.9h-.9zM365.6 433.2h.9v.9h-.9zM359.6 434.6h.9v.9h-.9zM355.8 432.3h.9v.9h-.9zM359.2 434.7h.9v.9h-.9zM362.4 433.6h.9v.9h-.9zM353.1 434.4h.9v.9h-.9zM353.5 432.3h.9v.9h-.9zM366.4 433.6h.9v.9h-.9zM360.8 432.6h.9v.9h-.9zM352.7 429.4h.9v.9h-.9zM351.9 434.8h.9v.9h-.9zM362.1 435.0h.9v.9h-.9zM365.2 431.3h.9v.9h-.9zM351.6 437.1h.9v.9h-.9zM366.9 434.6h.9v.9h-.9zM352.2 436.9h.9v.9h-.9zM369.3 434.0h.9v.9h-.9zM362.2 428.9h.9v.9h-.9zM354.8 435.4h.9v.9h-.9zM353.1 433.4h.9v.9h-.9zM367.7 438.5h.9v.9h-.9zM369.0 434.6h.9v.9h-.9zM370.3 435.5h.9v.9h-.9zM369.8 435.1h.9v.9h-.9zM367.7 436.6h.9v.9h-.9zM369.0 438.3h.9v.9h-.9zM368.2 436.6h.9v.9h-.9zM368.2 434.3h.9v.9h-.9zM365.9 434.9h.9v.9h-.9zM364.7 436.7h.9v.9h-.9zM365.3 436.2h.9v.9h-.9zM367.3 436.1h.9v.9h-.9zM367.5 432.4h.9v.9h-.9zM360.4 442.5h.9v.9h-.9zM358.3 442.8h.9v.9h-.9zM359.3 441.2h.9v.9h-.9zM358.2 443.4h.9v.9h-.9zM359.3 442.7h.9v.9h-.9zM356.9 444.2h.9v.9h-.9zM358.1 447.6h.9v.9h-.9zM362.6 441.2h.9v.9h-.9zM355.2 442.8h.9v.9h-.9zM359.6 438.9h.9v.9h-.9zM360.6 443.1h.9v.9h-.9zM357.7 440.4h.9v.9h-.9zM362.1 441.7h.9v.9h-.9zM357.0 443.3h.9v.9h-.9zM355.6 443.1h.9v.9h-.9zM350.7 447.0h.9v.9h-.9zM351.7 444.8h.9v.9h-.9zM351.1 447.9h.9v.9h-.9zM352.5 449.5h.9v.9h-.9zM351.1 447.6h.9v.9h-.9zM353.6 446.4h.9v.9h-.9zM353.9 448.5h.9v.9h-.9zM354.5 445.7h.9v.9h-.9zM355.6 444.8h.9v.9h-.9zM353.7 446.7h.9v.9h-.9zM355.1 444.2h.9v.9h-.9zM346.4 447.9h.9v.9h-.9zM340.8 447.9h.9v.9h-.9zM340.0 446.6h.9v.9h-.9zM345.0 449.4h.9v.9h-.9zM341.1 443.4h.9v.9h-.9zM341.5 446.6h.9v.9h-.9zM343.2 443.7h.9v.9h-.9zM340.5 448.5h.9v.9h-.9zM341.0 444.6h.9v.9h-.9zM345.3 448.3h.9v.9h-.9zM338.8 448.9h.9v.9h-.9zM339.6 446.4h.9v.9h-.9zM342.9 447.5h.9v.9h-.9zM342.2 445.1h.9v.9h-.9zM340.2 445.7h.9v.9h-.9zM339.8 445.9h.9v.9h-.9zM343.0 447.0h.9v.9h-.9z" fill="#111"/>
<polygon points="352.00,424.80 356.00,423.50 360.00,423.00 370.00,423.00 375.00,425.40 376.00,430.00 375.60,434.20 352.00,434.20" fill="#d6183c" />
<path d="M354.8 422.5h.9v.9h-.9zM355.7 424.6h.9v.9h-.9zM352.5 422.2h.9v.9h-.9zM355.2 424.2h.9v.9h-.9zM353.2 421.3h.9v.9h-.9zM356.8 422.5h.9v.9h-.9zM357.0 424.3h.9v.9h-.9zM357.9 424.7h.9v.9h-.9zM357.2 424.5h.9v.9h-.9zM356.2 422.9h.9v.9h-.9zM357.5 424.4h.9v.9h-.9zM367.4 423.5h.9v.9h-.9zM362.5 423.2h.9v.9h-.9zM361.3 422.5h.9v.9h-.9zM360.1 421.8h.9v.9h-.9zM365.1 422.3h.9v.9h-.9zM365.1 419.6h.9v.9h-.9zM362.8 424.5h.9v.9h-.9zM364.3 420.8h.9v.9h-.9zM365.2 427.6h.9v.9h-.9zM368.9 420.4h.9v.9h-.9zM360.9 421.8h.9v.9h-.9zM361.2 424.0h.9v.9h-.9zM367.2 425.7h.9v.9h-.9zM365.4 423.8h.9v.9h-.9zM365.7 419.3h.9v.9h-.9zM365.3 424.5h.9v.9h-.9zM373.1 426.7h.9v.9h-.9zM375.0 423.9h.9v.9h-.9zM372.9 421.9h.9v.9h-.9zM371.2 425.9h.9v.9h-.9zM371.4 422.6h.9v.9h-.9zM370.9 421.4h.9v.9h-.9zM375.6 420.7h.9v.9h-.9zM372.2 423.8h.9v.9h-.9zM375.8 429.2h.9v.9h-.9zM374.0 427.6h.9v.9h-.9zM374.3 428.7h.9v.9h-.9zM376.7 425.1h.9v.9h-.9zM373.5 427.1h.9v.9h-.9zM375.2 429.4h.9v.9h-.9zM375.6 426.4h.9v.9h-.9zM377.6 430.4h.9v.9h-.9zM374.4 432.4h.9v.9h-.9zM374.8 431.9h.9v.9h-.9zM373.9 429.9h.9v.9h-.9zM375.7 432.2h.9v.9h-.9zM370.5 433.2h.9v.9h-.9zM386.3 430.1h.9v.9h-.9zM370.2 415.4h.9v.9h-.9zM382.6 420.2h.9v.9h-.9zM360.2 425.3h.9v.9h-.9zM372.7 420.5h.9v.9h-.9zM373.1 417.3h.9v.9h-.9zM378.0 418.6h.9v.9h-.9zM375.5 426.2h.9v.9h-.9zM368.6 420.9h.9v.9h-.9zM369.4 424.1h.9v.9h-.9zM375.1 419.3h.9v.9h-.9zM375.2 421.2h.9v.9h-.9zM378.5 425.5h.9v.9h-.9zM353.9 423.2h.9v.9h-.9zM357.0 422.9h.9v.9h-.9zM382.9 421.1h.9v.9h-.9zM382.9 416.9h.9v.9h-.9zM371.2 416.3h.9v.9h-.9zM367.6 420.0h.9v.9h-.9zM376.4 423.2h.9v.9h-.9zM360.0 419.1h.9v.9h-.9zM362.3 418.7h.9v.9h-.9zM369.0 416.0h.9v.9h-.9zM363.9 424.8h.9v.9h-.9zM371.5 424.5h.9v.9h-.9zM364.5 425.8h.9v.9h-.9zM354.5 425.0h.9v.9h-.9zM378.7 423.3h.9v.9h-.9zM384.1 424.4h.9v.9h-.9zM371.3 431.3h.9v.9h-.9zM370.5 424.6h.9v.9h-.9zM374.3 431.6h.9v.9h-.9zM365.7 423.0h.9v.9h-.9zM357.1 423.1h.9v.9h-.9zM366.6 425.3h.9v.9h-.9zM360.9 426.7h.9v.9h-.9zM361.0 423.7h.9v.9h-.9zM367.4 425.8h.9v.9h-.9zM367.1 417.8h.9v.9h-.9zM366.9 431.5h.9v.9h-.9zM365.6 421.0h.9v.9h-.9zM369.6 428.3h.9v.9h-.9zM377.5 430.6h.9v.9h-.9zM364.0 419.7h.9v.9h-.9zM376.4 421.4h.9v.9h-.9zM362.5 422.4h.9v.9h-.9zM362.5 425.3h.9v.9h-.9zM368.1 415.9h.9v.9h-.9zM368.5 424.3h.9v.9h-.9zM375.5 422.2h.9v.9h-.9zM361.7 416.8h.9v.9h-.9zM366.0 420.7h.9v.9h-.9zM370.6 420.8h.9v.9h-.9zM355.9 426.9h.9v.9h-.9zM381.0 417.9h.9v.9h-.9zM354.3 424.7h.9v.9h-.9zM358.4 422.6h.9v.9h-.9zM360.8 422.4h.9v.9h-.9zM364.8 420.2h.9v.9h-.9zM375.4 429.3h.9v.9h-.9zM359.6 432.0h.9v.9h-.9zM358.8 430.4h.9v.9h-.9zM365.5 419.4h.9v.9h-.9zM361.5 425.2h.9v.9h-.9zM381.6 421.3h.9v.9h-.9zM364.5 423.8h.9v.9h-.9zM373.2 422.4h.9v.9h-.9zM356.9 425.9h.9v.9h-.9zM379.2 419.9h.9v.9h-.9zM365.1 408.8h.9v.9h-.9zM376.1 425.9h.9v.9h-.9zM372.1 415.6h.9v.9h-.9zM359.0 428.0h.9v.9h-.9zM363.7 423.8h.9v.9h-.9zM363.6 416.1h.9v.9h-.9zM377.9 420.8h.9v.9h-.9zM360.1 418.8h.9v.9h-.9z" fill="#d6183c"/>
<path d="M367.6 433.7h.8v.8h-.8zM367.9 441.6h.8v.8h-.8zM371.0 439.8h.8v.8h-.8zM357.2 436.8h.8v.8h-.8zM367.2 437.2h.8v.8h-.8zM376.6 436.0h.8v.8h-.8zM367.6 447.9h.8v.8h-.8zM386.1 439.0h.8v.8h-.8zM379.1 441.0h.8v.8h-.8zM379.6 442.0h.8v.8h-.8zM374.1 437.7h.8v.8h-.8zM375.0 437.8h.8v.8h-.8zM371.9 434.3h.8v.8h-.8zM372.2 434.1h.8v.8h-.8zM376.1 446.9h.8v.8h-.8zM385.5 438.6h.8v.8h-.8zM389.6 446.3h.8v.8h-.8zM382.5 441.3h.8v.8h-.8zM379.6 440.0h.8v.8h-.8zM387.0 440.9h.8v.8h-.8z" fill="#222"/>
<line x1="329.30" y1="373.90" x2="329.30" y2="450.50" stroke="#111" stroke-width="0.9"  shape-rendering="crispEdges"/>
<polygon points="327.70,376.90 329.30,373.90 330.90,376.90" fill="#111" />
<line x1="329.30" y1="450.50" x2="406.60" y2="450.50" stroke="#111" stroke-width="0.9"  shape-rendering="crispEdges"/>
<polygon points="403.60,448.90 406.60,450.50 403.60,452.10" fill="#111" />
<line x1="326.90" y1="379.40" x2="329.30" y2="379.40" stroke="#111" stroke-width="0.8"  shape-rendering="crispEdges"/>
<text x="324.10" y="382.21" font-size="7.8" fill="#222" text-anchor="end" textLength="11.32" lengthAdjust="spacingAndGlyphs" stroke="#222" stroke-width="0.3">120</text>
<line x1="327.80" y1="391.20" x2="329.30" y2="391.20" stroke="#111" stroke-width="0.8"  shape-rendering="crispEdges"/>
<line x1="326.90" y1="403.00" x2="329.30" y2="403.00" stroke="#111" stroke-width="0.8"  shape-rendering="crispEdges"/>
<text x="324.10" y="405.81" font-size="7.8" fill="#222" text-anchor="end" textLength="7.55" lengthAdjust="spacingAndGlyphs" stroke="#222" stroke-width="0.3">80</text>
<line x1="327.80" y1="415.00" x2="329.30" y2="415.00" stroke="#111" stroke-width="0.8"  shape-rendering="crispEdges"/>
<line x1="326.90" y1="426.80" x2="329.30" y2="426.80" stroke="#111" stroke-width="0.8"  shape-rendering="crispEdges"/>
<text x="324.10" y="429.61" font-size="7.8" fill="#222" text-anchor="end" textLength="7.55" lengthAdjust="spacingAndGlyphs" stroke="#222" stroke-width="0.3">40</text>
<line x1="327.80" y1="438.50" x2="329.30" y2="438.50" stroke="#111" stroke-width="0.8"  shape-rendering="crispEdges"/>
<line x1="329.00" y1="450.50" x2="329.00" y2="452.50" stroke="#111" stroke-width="0.7"  shape-rendering="crispEdges"/>
<line x1="345.50" y1="450.50" x2="345.50" y2="451.80" stroke="#111" stroke-width="0.7"  shape-rendering="crispEdges"/>
<line x1="361.70" y1="450.50" x2="361.70" y2="452.50" stroke="#111" stroke-width="0.7"  shape-rendering="crispEdges"/>
<line x1="377.70" y1="450.50" x2="377.70" y2="451.80" stroke="#111" stroke-width="0.7"  shape-rendering="crispEdges"/>
<line x1="394.00" y1="450.50" x2="394.00" y2="452.50" stroke="#111" stroke-width="0.7"  shape-rendering="crispEdges"/>
<text x="352.90" y="377.66" font-size="6" fill="#333" text-anchor="middle" stroke="#333" stroke-width="0.3">75</text>
<text x="339.00" y="386.97" font-size="6.3" fill="#333" text-anchor="middle" textLength="15.6" lengthAdjust="spacingAndGlyphs" stroke="#333" stroke-width="0.3">0.63%</text>
<text x="390.00" y="385.77" font-size="6.3" fill="#333" text-anchor="middle" textLength="13.9" lengthAdjust="spacingAndGlyphs" stroke="#333" stroke-width="0.3">3.82%</text>
<text x="372.20" y="392.56" font-size="6" fill="#333" text-anchor="middle" font-style="italic" textLength="50.7" lengthAdjust="spacingAndGlyphs" stroke="#333" stroke-width="0.3">*iKdm1a<tspan font-size="3.8" dy="-1.8">KD</tspan><tspan dy="1.8">;E</tspan><tspan font-size="5">μ</tspan>-TCL1A</text>
<text x="392.50" y="449.48" font-size="5.5" fill="#333" text-anchor="middle" textLength="15" lengthAdjust="spacingAndGlyphs" stroke="#333" stroke-width="0.3">7.34%</text>
<text x="404.40" y="436.18" font-size="5.5" fill="#333" text-anchor="middle" stroke="#333" stroke-width="0.3">27</text>
<text x="323.50" y="462.72" font-size="7" fill="#222" text-anchor="middle" stroke="#222" stroke-width="0.3">0</text>
<text x="361.70" y="462.72" font-size="7" fill="#222" text-anchor="middle" stroke="#222" stroke-width="0.3">100</text>
<text x="393.00" y="462.79" font-size="7.2" fill="#222" text-anchor="middle" stroke="#222" stroke-width="0.3">200</text>
<text x="458.00" y="284.74" font-size="9" fill="#1e1e1e" text-anchor="middle" textLength="90" lengthAdjust="spacingAndGlyphs" stroke="#1e1e1e" stroke-width="0.3">spleen (age: 24 weeks)</text>
<g clip-path="url(#mclip3)"><g filter="url(#mblur2)" class="mg"><rect x="413.2" y="285.7" width="4.2" height="4.2" fill="#1f2843"/><rect x="416.8" y="285.7" width="4.2" height="4.2" fill="#2f3d65"/><rect x="420.4" y="285.7" width="4.2" height="4.2" fill="#0e121f"/><rect x="424.0" y="285.7" width="4.2" height="4.2" fill="#34426e"/><rect x="427.6" y="285.7" width="4.2" height="4.2" fill="#293456"/><rect x="431.2" y="285.7" width="4.2" height="4.2" fill="#171d30"/><rect x="434.8" y="285.7" width="4.2" height="4.2" fill="#344373"/><rect x="438.4" y="285.7" width="4.2" height="4.2" fill="#2f3c62"/><rect x="442.0" y="285.7" width="4.2" height="4.2" fill="#273255"/><rect x="445.6" y="285.7" width="4.2" height="4.2" fill="#384876"/><rect x="449.2" y="285.7" width="4.2" height="4.2" fill="#354471"/><rect x="452.8" y="285.7" width="4.2" height="4.2" fill="#1a2239"/><rect x="456.4" y="285.7" width="4.2" height="4.2" fill="#334272"/><rect x="460.0" y="285.7" width="4.2" height="4.2" fill="#3b4b7e"/><rect x="463.6" y="285.7" width="4.2" height="4.2" fill="#0d111c"/><rect x="467.2" y="285.7" width="4.2" height="4.2" fill="#0c101b"/><rect x="470.8" y="285.7" width="4.2" height="4.2" fill="#273152"/><rect x="474.4" y="285.7" width="4.2" height="4.2" fill="#222b47"/><rect x="478.0" y="285.7" width="4.2" height="4.2" fill="#252f50"/><rect x="481.6" y="285.7" width="4.2" height="4.2" fill="#4b7e74"/><rect x="485.2" y="285.7" width="4.2" height="4.2" fill="#388955"/><rect x="488.8" y="285.7" width="4.2" height="4.2" fill="#1b233b"/><rect x="492.4" y="285.7" width="4.2" height="4.2" fill="#364574"/><rect x="496.0" y="285.7" width="4.2" height="4.2" fill="#303e68"/><rect x="499.6" y="285.7" width="4.2" height="4.2" fill="#1f2844"/><rect x="413.2" y="289.3" width="4.2" height="4.2" fill="#477573"/><rect x="416.8" y="289.3" width="4.2" height="4.2" fill="#192035"/><rect x="420.4" y="289.3" width="4.2" height="4.2" fill="#263050"/><rect x="424.0" y="289.3" width="4.2" height="4.2" fill="#273151"/><rect x="427.6" y="289.3" width="4.2" height="4.2" fill="#384876"/><rect x="431.2" y="289.3" width="4.2" height="4.2" fill="#1f2743"/><rect x="434.8" y="289.3" width="4.2" height="4.2" fill="#674145"/><rect x="438.4" y="289.3" width="4.2" height="4.2" fill="#283354"/><rect x="442.0" y="289.3" width="4.2" height="4.2" fill="#2a365a"/><rect x="445.6" y="289.3" width="4.2" height="4.2" fill="#202944"/><rect x="449.2" y="289.3" width="4.2" height="4.2" fill="#2b385c"/><rect x="452.8" y="289.3" width="4.2" height="4.2" fill="#2a4443"/><rect x="456.4" y="289.3" width="4.2" height="4.2" fill="#101523"/><rect x="460.0" y="289.3" width="4.2" height="4.2" fill="#252f4e"/><rect x="463.6" y="289.3" width="4.2" height="4.2" fill="#2a375d"/><rect x="467.2" y="289.3" width="4.2" height="4.2" fill="#0b0f18"/><rect x="470.8" y="289.3" width="4.2" height="4.2" fill="#313e67"/><rect x="474.4" y="289.3" width="4.2" height="4.2" fill="#2d395e"/><rect x="478.0" y="289.3" width="4.2" height="4.2" fill="#74484c"/><rect x="481.6" y="289.3" width="4.2" height="4.2" fill="#513336"/><rect x="485.2" y="289.3" width="4.2" height="4.2" fill="#3a4a7c"/><rect x="488.8" y="289.3" width="4.2" height="4.2" fill="#3c9759"/><rect x="492.4" y="289.3" width="4.2" height="4.2" fill="#29683d"/><rect x="496.0" y="289.3" width="4.2" height="4.2" fill="#3b935b"/><rect x="499.6" y="289.3" width="4.2" height="4.2" fill="#0c101b"/><rect x="413.2" y="292.9" width="4.2" height="4.2" fill="#303e66"/><rect x="416.8" y="292.9" width="4.2" height="4.2" fill="#3f528b"/><rect x="420.4" y="292.9" width="4.2" height="4.2" fill="#1f2740"/><rect x="424.0" y="292.9" width="4.2" height="4.2" fill="#335451"/><rect x="427.6" y="292.9" width="4.2" height="4.2" fill="#192035"/><rect x="431.2" y="292.9" width="4.2" height="4.2" fill="#754a50"/><rect x="434.8" y="292.9" width="4.2" height="4.2" fill="#34426f"/><rect x="438.4" y="292.9" width="4.2" height="4.2" fill="#472d31"/><rect x="442.0" y="292.9" width="4.2" height="4.2" fill="#2c395f"/><rect x="445.6" y="292.9" width="4.2" height="4.2" fill="#1b223a"/><rect x="449.2" y="292.9" width="4.2" height="4.2" fill="#181f34"/><rect x="452.8" y="292.9" width="4.2" height="4.2" fill="#364572"/><rect x="456.4" y="292.9" width="4.2" height="4.2" fill="#263050"/><rect x="460.0" y="292.9" width="4.2" height="4.2" fill="#33416c"/><rect x="463.6" y="292.9" width="4.2" height="4.2" fill="#283354"/><rect x="467.2" y="292.9" width="4.2" height="4.2" fill="#3c4e84"/><rect x="470.8" y="292.9" width="4.2" height="4.2" fill="#653f42"/><rect x="474.4" y="292.9" width="4.2" height="4.2" fill="#181e32"/><rect x="478.0" y="292.9" width="4.2" height="4.2" fill="#141929"/><rect x="481.6" y="292.9" width="4.2" height="4.2" fill="#3f6b60"/><rect x="485.2" y="292.9" width="4.2" height="4.2" fill="#523337"/><rect x="488.8" y="292.9" width="4.2" height="4.2" fill="#445795"/><rect x="492.4" y="292.9" width="4.2" height="4.2" fill="#222c4b"/><rect x="496.0" y="292.9" width="4.2" height="4.2" fill="#1b4529"/><rect x="499.6" y="292.9" width="4.2" height="4.2" fill="#0d101b"/><rect x="413.2" y="296.5" width="4.2" height="4.2" fill="#38487a"/><rect x="416.8" y="296.5" width="4.2" height="4.2" fill="#273251"/><rect x="420.4" y="296.5" width="4.2" height="4.2" fill="#252f4c"/><rect x="424.0" y="296.5" width="4.2" height="4.2" fill="#27413e"/><rect x="427.6" y="296.5" width="4.2" height="4.2" fill="#232c49"/><rect x="431.2" y="296.5" width="4.2" height="4.2" fill="#354576"/><rect x="434.8" y="296.5" width="4.2" height="4.2" fill="#181e33"/><rect x="438.4" y="296.5" width="4.2" height="4.2" fill="#192035"/><rect x="442.0" y="296.5" width="4.2" height="4.2" fill="#1b233a"/><rect x="445.6" y="296.5" width="4.2" height="4.2" fill="#1d253f"/><rect x="449.2" y="296.5" width="4.2" height="4.2" fill="#202944"/><rect x="452.8" y="296.5" width="4.2" height="4.2" fill="#202944"/><rect x="456.4" y="296.5" width="4.2" height="4.2" fill="#2a365c"/><rect x="460.0" y="296.5" width="4.2" height="4.2" fill="#232d4a"/><rect x="463.6" y="296.5" width="4.2" height="4.2" fill="#324069"/><rect x="467.2" y="296.5" width="4.2" height="4.2" fill="#26304f"/><rect x="470.8" y="296.5" width="4.2" height="4.2" fill="#445794"/><rect x="474.4" y="296.5" width="4.2" height="4.2" fill="#2b365a"/><rect x="478.0" y="296.5" width="4.2" height="4.2" fill="#694246"/><rect x="481.6" y="296.5" width="4.2" height="4.2" fill="#222b48"/><rect x="485.2" y="296.5" width="4.2" height="4.2" fill="#2e7545"/><rect x="488.8" y="296.5" width="4.2" height="4.2" fill="#0c0f19"/><rect x="492.4" y="296.5" width="4.2" height="4.2" fill="#3fa05d"/><rect x="496.0" y="296.5" width="4.2" height="4.2" fill="#4b2f32"/><rect x="499.6" y="296.5" width="4.2" height="4.2" fill="#222b4a"/><rect x="413.2" y="300.1" width="4.2" height="4.2" fill="#0b0f18"/><rect x="416.8" y="300.1" width="4.2" height="4.2" fill="#303d65"/><rect x="420.4" y="300.1" width="4.2" height="4.2" fill="#374678"/><rect x="424.0" y="300.1" width="4.2" height="4.2" fill="#2b375b"/><rect x="427.6" y="300.1" width="4.2" height="4.2" fill="#293456"/><rect x="431.2" y="300.1" width="4.2" height="4.2" fill="#273253"/><rect x="434.8" y="300.1" width="4.2" height="4.2" fill="#1c233b"/><rect x="438.4" y="300.1" width="4.2" height="4.2" fill="#222c4a"/><rect x="442.0" y="300.1" width="4.2" height="4.2" fill="#364574"/><rect x="445.6" y="300.1" width="4.2" height="4.2" fill="#293559"/><rect x="449.2" y="300.1" width="4.2" height="4.2" fill="#263152"/><rect x="452.8" y="300.1" width="4.2" height="4.2" fill="#623d42"/><rect x="456.4" y="300.1" width="4.2" height="4.2" fill="#1a2238"/><rect x="460.0" y="300.1" width="4.2" height="4.2" fill="#273253"/><rect x="463.6" y="300.1" width="4.2" height="4.2" fill="#33406a"/><rect x="467.2" y="300.1" width="4.2" height="4.2" fill="#2a3557"/><rect x="470.8" y="300.1" width="4.2" height="4.2" fill="#131929"/><rect x="474.4" y="300.1" width="4.2" height="4.2" fill="#2e3b62"/><rect x="478.0" y="300.1" width="4.2" height="4.2" fill="#0e121e"/><rect x="481.6" y="300.1" width="4.2" height="4.2" fill="#25304f"/><rect x="485.2" y="300.1" width="4.2" height="4.2" fill="#70474c"/><rect x="488.8" y="300.1" width="4.2" height="4.2" fill="#475c9d"/><rect x="492.4" y="300.1" width="4.2" height="4.2" fill="#266139"/><rect x="496.0" y="300.1" width="4.2" height="4.2" fill="#2d3a64"/><rect x="499.6" y="300.1" width="4.2" height="4.2" fill="#344271"/><rect x="413.2" y="303.7" width="4.2" height="4.2" fill="#4b2f33"/><rect x="416.8" y="303.7" width="4.2" height="4.2" fill="#33426e"/><rect x="420.4" y="303.7" width="4.2" height="4.2" fill="#3d2629"/><rect x="424.0" y="303.7" width="4.2" height="4.2" fill="#426c6c"/><rect x="427.6" y="303.7" width="4.2" height="4.2" fill="#252f4f"/><rect x="431.2" y="303.7" width="4.2" height="4.2" fill="#303d65"/><rect x="434.8" y="303.7" width="4.2" height="4.2" fill="#384776"/><rect x="438.4" y="303.7" width="4.2" height="4.2" fill="#0e121e"/><rect x="442.0" y="303.7" width="4.2" height="4.2" fill="#1c243c"/><rect x="445.6" y="303.7" width="4.2" height="4.2" fill="#1d253e"/><rect x="449.2" y="303.7" width="4.2" height="4.2" fill="#212a45"/><rect x="452.8" y="303.7" width="4.2" height="4.2" fill="#384878"/><rect x="456.4" y="303.7" width="4.2" height="4.2" fill="#283356"/><rect x="460.0" y="303.7" width="4.2" height="4.2" fill="#2f4d4a"/><rect x="463.6" y="303.7" width="4.2" height="4.2" fill="#232d4a"/><rect x="467.2" y="303.7" width="4.2" height="4.2" fill="#41282a"/><rect x="470.8" y="303.7" width="4.2" height="4.2" fill="#0a0d16"/><rect x="474.4" y="303.7" width="4.2" height="4.2" fill="#384776"/><rect x="478.0" y="303.7" width="4.2" height="4.2" fill="#1a2137"/><rect x="481.6" y="303.7" width="4.2" height="4.2" fill="#1b2239"/><rect x="485.2" y="303.7" width="4.2" height="4.2" fill="#35874f"/><rect x="488.8" y="303.7" width="4.2" height="4.2" fill="#1b4629"/><rect x="492.4" y="303.7" width="4.2" height="4.2" fill="#1e4d2d"/><rect x="496.0" y="303.7" width="4.2" height="4.2" fill="#111523"/><rect x="499.6" y="303.7" width="4.2" height="4.2" fill="#2c3860"/><rect x="413.2" y="307.3" width="4.2" height="4.2" fill="#181f35"/><rect x="416.8" y="307.3" width="4.2" height="4.2" fill="#354575"/><rect x="420.4" y="307.3" width="4.2" height="4.2" fill="#222b49"/><rect x="424.0" y="307.3" width="4.2" height="4.2" fill="#303d67"/><rect x="427.6" y="307.3" width="4.2" height="4.2" fill="#181f35"/><rect x="431.2" y="307.3" width="4.2" height="4.2" fill="#192034"/><rect x="434.8" y="307.3" width="4.2" height="4.2" fill="#181e32"/><rect x="438.4" y="307.3" width="4.2" height="4.2" fill="#0b0e18"/><rect x="442.0" y="307.3" width="4.2" height="4.2" fill="#2d3a5f"/><rect x="445.6" y="307.3" width="4.2" height="4.2" fill="#242f50"/><rect x="449.2" y="307.3" width="4.2" height="4.2" fill="#313e66"/><rect x="452.8" y="307.3" width="4.2" height="4.2" fill="#2e3b62"/><rect x="456.4" y="307.3" width="4.2" height="4.2" fill="#364574"/><rect x="460.0" y="307.3" width="4.2" height="4.2" fill="#222c49"/><rect x="463.6" y="307.3" width="4.2" height="4.2" fill="#212a45"/><rect x="467.2" y="307.3" width="4.2" height="4.2" fill="#41538e"/><rect x="470.8" y="307.3" width="4.2" height="4.2" fill="#192035"/><rect x="474.4" y="307.3" width="4.2" height="4.2" fill="#426d68"/><rect x="478.0" y="307.3" width="4.2" height="4.2" fill="#2a365c"/><rect x="481.6" y="307.3" width="4.2" height="4.2" fill="#1b233a"/><rect x="485.2" y="307.3" width="4.2" height="4.2" fill="#33426f"/><rect x="488.8" y="307.3" width="4.2" height="4.2" fill="#263153"/><rect x="492.4" y="307.3" width="4.2" height="4.2" fill="#3d9d5b"/><rect x="496.0" y="307.3" width="4.2" height="4.2" fill="#242e4c"/><rect x="499.6" y="307.3" width="4.2" height="4.2" fill="#2c375a"/><rect x="413.2" y="310.9" width="4.2" height="4.2" fill="#0d101c"/><rect x="416.8" y="310.9" width="4.2" height="4.2" fill="#283358"/><rect x="420.4" y="310.9" width="4.2" height="4.2" fill="#283355"/><rect x="424.0" y="310.9" width="4.2" height="4.2" fill="#406868"/><rect x="427.6" y="310.9" width="4.2" height="4.2" fill="#344370"/><rect x="431.2" y="310.9" width="4.2" height="4.2" fill="#0d111d"/><rect x="434.8" y="310.9" width="4.2" height="4.2" fill="#171d31"/><rect x="438.4" y="310.9" width="4.2" height="4.2" fill="#406966"/><rect x="442.0" y="310.9" width="4.2" height="4.2" fill="#151b2d"/><rect x="445.6" y="310.9" width="4.2" height="4.2" fill="#111624"/><rect x="449.2" y="310.9" width="4.2" height="4.2" fill="#364571"/><rect x="452.8" y="310.9" width="4.2" height="4.2" fill="#784c51"/><rect x="456.4" y="310.9" width="4.2" height="4.2" fill="#3f518b"/><rect x="460.0" y="310.9" width="4.2" height="4.2" fill="#242e4d"/><rect x="463.6" y="310.9" width="4.2" height="4.2" fill="#2b375b"/><rect x="467.2" y="310.9" width="4.2" height="4.2" fill="#406b63"/><rect x="470.8" y="310.9" width="4.2" height="4.2" fill="#364471"/><rect x="474.4" y="310.9" width="4.2" height="4.2" fill="#4c7f77"/><rect x="478.0" y="310.9" width="4.2" height="4.2" fill="#3b4b7d"/><rect x="481.6" y="310.9" width="4.2" height="4.2" fill="#344370"/><rect x="485.2" y="310.9" width="4.2" height="4.2" fill="#3c975a"/><rect x="488.8" y="310.9" width="4.2" height="4.2" fill="#1e4e2d"/><rect x="492.4" y="310.9" width="4.2" height="4.2" fill="#215632"/><rect x="496.0" y="310.9" width="4.2" height="4.2" fill="#388a56"/><rect x="499.6" y="310.9" width="4.2" height="4.2" fill="#222c4c"/><rect x="413.2" y="314.5" width="4.2" height="4.2" fill="#293558"/><rect x="416.8" y="314.5" width="4.2" height="4.2" fill="#1b233a"/><rect x="420.4" y="314.5" width="4.2" height="4.2" fill="#283358"/><rect x="424.0" y="314.5" width="4.2" height="4.2" fill="#3d4e83"/><rect x="427.6" y="314.5" width="4.2" height="4.2" fill="#3c4c7f"/><rect x="431.2" y="314.5" width="4.2" height="4.2" fill="#1f2741"/><rect x="434.8" y="314.5" width="4.2" height="4.2" fill="#293557"/><rect x="438.4" y="314.5" width="4.2" height="4.2" fill="#35436f"/><rect x="442.0" y="314.5" width="4.2" height="4.2" fill="#406965"/><rect x="445.6" y="314.5" width="4.2" height="4.2" fill="#26304e"/><rect x="449.2" y="314.5" width="4.2" height="4.2" fill="#395e58"/><rect x="452.8" y="314.5" width="4.2" height="4.2" fill="#293456"/><rect x="456.4" y="314.5" width="4.2" height="4.2" fill="#0b0e17"/><rect x="460.0" y="314.5" width="4.2" height="4.2" fill="#131828"/><rect x="463.6" y="314.5" width="4.2" height="4.2" fill="#313e67"/><rect x="467.2" y="314.5" width="4.2" height="4.2" fill="#3a4a7b"/><rect x="470.8" y="314.5" width="4.2" height="4.2" fill="#2e3b65"/><rect x="474.4" y="314.5" width="4.2" height="4.2" fill="#2d3a60"/><rect x="478.0" y="314.5" width="4.2" height="4.2" fill="#5d3a3e"/><rect x="481.6" y="314.5" width="4.2" height="4.2" fill="#2d4c44"/><rect x="485.2" y="314.5" width="4.2" height="4.2" fill="#171e32"/><rect x="488.8" y="314.5" width="4.2" height="4.2" fill="#344372"/><rect x="492.4" y="314.5" width="4.2" height="4.2" fill="#111626"/><rect x="496.0" y="314.5" width="4.2" height="4.2" fill="#293558"/><rect x="499.6" y="314.5" width="4.2" height="4.2" fill="#242e4d"/><rect x="413.2" y="318.1" width="4.2" height="4.2" fill="#303d66"/><rect x="416.8" y="318.1" width="4.2" height="4.2" fill="#3a4a7c"/><rect x="420.4" y="318.1" width="4.2" height="4.2" fill="#293457"/><rect x="424.0" y="318.1" width="4.2" height="4.2" fill="#192036"/><rect x="427.6" y="318.1" width="4.2" height="4.2" fill="#4f7f7f"/><rect x="431.2" y="318.1" width="4.2" height="4.2" fill="#1a2238"/><rect x="434.8" y="318.1" width="4.2" height="4.2" fill="#1e2640"/><rect x="438.4" y="318.1" width="4.2" height="4.2" fill="#3a4a7f"/><rect x="442.0" y="318.1" width="4.2" height="4.2" fill="#4a7974"/><rect x="445.6" y="318.1" width="4.2" height="4.2" fill="#303d64"/><rect x="449.2" y="318.1" width="4.2" height="4.2" fill="#2d4a45"/><rect x="452.8" y="318.1" width="4.2" height="4.2" fill="#293354"/><rect x="456.4" y="318.1" width="4.2" height="4.2" fill="#1f273f"/><rect x="460.0" y="318.1" width="4.2" height="4.2" fill="#232c49"/><rect x="463.6" y="318.1" width="4.2" height="4.2" fill="#355851"/><rect x="467.2" y="318.1" width="4.2" height="4.2" fill="#242f50"/><rect x="470.8" y="318.1" width="4.2" height="4.2" fill="#303e67"/><rect x="474.4" y="318.1" width="4.2" height="4.2" fill="#0c0f1a"/><rect x="478.0" y="318.1" width="4.2" height="4.2" fill="#38487a"/><rect x="481.6" y="318.1" width="4.2" height="4.2" fill="#303d65"/><rect x="485.2" y="318.1" width="4.2" height="4.2" fill="#2a355a"/><rect x="488.8" y="318.1" width="4.2" height="4.2" fill="#3f9c61"/><rect x="492.4" y="318.1" width="4.2" height="4.2" fill="#313f6a"/><rect x="496.0" y="318.1" width="4.2" height="4.2" fill="#355952"/><rect x="499.6" y="318.1" width="4.2" height="4.2" fill="#32406a"/><rect x="413.2" y="321.7" width="4.2" height="4.2" fill="#2c385d"/><rect x="416.8" y="321.7" width="4.2" height="4.2" fill="#101422"/><rect x="420.4" y="321.7" width="4.2" height="4.2" fill="#1c233b"/><rect x="424.0" y="321.7" width="4.2" height="4.2" fill="#2c385e"/><rect x="427.6" y="321.7" width="4.2" height="4.2" fill="#32406a"/><rect x="431.2" y="321.7" width="4.2" height="4.2" fill="#1f2842"/><rect x="434.8" y="321.7" width="4.2" height="4.2" fill="#0f1421"/><rect x="438.4" y="321.7" width="4.2" height="4.2" fill="#293355"/><rect x="442.0" y="321.7" width="4.2" height="4.2" fill="#283358"/><rect x="445.6" y="321.7" width="4.2" height="4.2" fill="#273154"/><rect x="449.2" y="321.7" width="4.2" height="4.2" fill="#161b2d"/><rect x="452.8" y="321.7" width="4.2" height="4.2" fill="#283357"/><rect x="456.4" y="321.7" width="4.2" height="4.2" fill="#354473"/><rect x="460.0" y="321.7" width="4.2" height="4.2" fill="#273252"/><rect x="463.6" y="321.7" width="4.2" height="4.2" fill="#212945"/><rect x="467.2" y="321.7" width="4.2" height="4.2" fill="#354474"/><rect x="470.8" y="321.7" width="4.2" height="4.2" fill="#212a46"/><rect x="474.4" y="321.7" width="4.2" height="4.2" fill="#27423d"/><rect x="478.0" y="321.7" width="4.2" height="4.2" fill="#131828"/><rect x="481.6" y="321.7" width="4.2" height="4.2" fill="#2a3659"/><rect x="485.2" y="321.7" width="4.2" height="4.2" fill="#243d37"/><rect x="488.8" y="321.7" width="4.2" height="4.2" fill="#111624"/><rect x="492.4" y="321.7" width="4.2" height="4.2" fill="#111625"/><rect x="496.0" y="321.7" width="4.2" height="4.2" fill="#1a2238"/><rect x="499.6" y="321.7" width="4.2" height="4.2" fill="#374776"/><rect x="413.2" y="325.3" width="4.2" height="4.2" fill="#3e6565"/><rect x="416.8" y="325.3" width="4.2" height="4.2" fill="#475b9c"/><rect x="420.4" y="325.3" width="4.2" height="4.2" fill="#3f4f83"/><rect x="424.0" y="325.3" width="4.2" height="4.2" fill="#36446f"/><rect x="427.6" y="325.3" width="4.2" height="4.2" fill="#222b47"/><rect x="431.2" y="325.3" width="4.2" height="4.2" fill="#374572"/><rect x="434.8" y="325.3" width="4.2" height="4.2" fill="#14192a"/><rect x="438.4" y="325.3" width="4.2" height="4.2" fill="#1f2741"/><rect x="442.0" y="325.3" width="4.2" height="4.2" fill="#202842"/><rect x="445.6" y="325.3" width="4.2" height="4.2" fill="#3a4978"/><rect x="449.2" y="325.3" width="4.2" height="4.2" fill="#2b4743"/><rect x="452.8" y="325.3" width="4.2" height="4.2" fill="#202944"/><rect x="456.4" y="325.3" width="4.2" height="4.2" fill="#3a605a"/><rect x="460.0" y="325.3" width="4.2" height="4.2" fill="#121726"/><rect x="463.6" y="325.3" width="4.2" height="4.2" fill="#293456"/><rect x="467.2" y="325.3" width="4.2" height="4.2" fill="#2e3b61"/><rect x="470.8" y="325.3" width="4.2" height="4.2" fill="#3e675f"/><rect x="474.4" y="325.3" width="4.2" height="4.2" fill="#202945"/><rect x="478.0" y="325.3" width="4.2" height="4.2" fill="#32544e"/><rect x="481.6" y="325.3" width="4.2" height="4.2" fill="#0e121f"/><rect x="485.2" y="325.3" width="4.2" height="4.2" fill="#385d56"/><rect x="488.8" y="325.3" width="4.2" height="4.2" fill="#253e39"/><rect x="492.4" y="325.3" width="4.2" height="4.2" fill="#4d8177"/><rect x="496.0" y="325.3" width="4.2" height="4.2" fill="#426d69"/><rect x="499.6" y="325.3" width="4.2" height="4.2" fill="#313e68"/><rect x="413.2" y="328.9" width="4.2" height="4.2" fill="#39497a"/><rect x="416.8" y="328.9" width="4.2" height="4.2" fill="#2b365a"/><rect x="420.4" y="328.9" width="4.2" height="4.2" fill="#161c2e"/><rect x="424.0" y="328.9" width="4.2" height="4.2" fill="#35436d"/><rect x="427.6" y="328.9" width="4.2" height="4.2" fill="#121726"/><rect x="431.2" y="328.9" width="4.2" height="4.2" fill="#455896"/><rect x="434.8" y="328.9" width="4.2" height="4.2" fill="#3a4978"/><rect x="438.4" y="328.9" width="4.2" height="4.2" fill="#68434a"/><rect x="442.0" y="328.9" width="4.2" height="4.2" fill="#4f817d"/><rect x="445.6" y="328.9" width="4.2" height="4.2" fill="#44568d"/><rect x="449.2" y="328.9" width="4.2" height="4.2" fill="#52353a"/><rect x="452.8" y="328.9" width="4.2" height="4.2" fill="#242e4c"/><rect x="456.4" y="328.9" width="4.2" height="4.2" fill="#44706a"/><rect x="460.0" y="328.9" width="4.2" height="4.2" fill="#111624"/><rect x="463.6" y="328.9" width="4.2" height="4.2" fill="#313d65"/><rect x="467.2" y="328.9" width="4.2" height="4.2" fill="#171d30"/><rect x="470.8" y="328.9" width="4.2" height="4.2" fill="#192034"/><rect x="474.4" y="328.9" width="4.2" height="4.2" fill="#3e4f84"/><rect x="478.0" y="328.9" width="4.2" height="4.2" fill="#354473"/><rect x="481.6" y="328.9" width="4.2" height="4.2" fill="#3d4e83"/><rect x="485.2" y="328.9" width="4.2" height="4.2" fill="#283354"/><rect x="488.8" y="328.9" width="4.2" height="4.2" fill="#2a365c"/><rect x="492.4" y="328.9" width="4.2" height="4.2" fill="#2e3b65"/><rect x="496.0" y="328.9" width="4.2" height="4.2" fill="#1f2744"/><rect x="499.6" y="328.9" width="4.2" height="4.2" fill="#2a365b"/><rect x="413.2" y="332.5" width="4.2" height="4.2" fill="#1e2640"/><rect x="416.8" y="332.5" width="4.2" height="4.2" fill="#212a45"/><rect x="420.4" y="332.5" width="4.2" height="4.2" fill="#283253"/><rect x="424.0" y="332.5" width="4.2" height="4.2" fill="#384775"/><rect x="427.6" y="332.5" width="4.2" height="4.2" fill="#2d395e"/><rect x="431.2" y="332.5" width="4.2" height="4.2" fill="#232c49"/><rect x="434.8" y="332.5" width="4.2" height="4.2" fill="#1b2238"/><rect x="438.4" y="332.5" width="4.2" height="4.2" fill="#548887"/><rect x="442.0" y="332.5" width="4.2" height="4.2" fill="#374572"/><rect x="445.6" y="332.5" width="4.2" height="4.2" fill="#1a2035"/><rect x="449.2" y="332.5" width="4.2" height="4.2" fill="#232c49"/><rect x="452.8" y="332.5" width="4.2" height="4.2" fill="#538982"/><rect x="456.4" y="332.5" width="4.2" height="4.2" fill="#192035"/><rect x="460.0" y="332.5" width="4.2" height="4.2" fill="#121625"/><rect x="463.6" y="332.5" width="4.2" height="4.2" fill="#243c37"/><rect x="467.2" y="332.5" width="4.2" height="4.2" fill="#2b4843"/><rect x="470.8" y="332.5" width="4.2" height="4.2" fill="#273356"/><rect x="474.4" y="332.5" width="4.2" height="4.2" fill="#4b7d74"/><rect x="478.0" y="332.5" width="4.2" height="4.2" fill="#303e68"/><rect x="481.6" y="332.5" width="4.2" height="4.2" fill="#192036"/><rect x="485.2" y="332.5" width="4.2" height="4.2" fill="#406c64"/><rect x="488.8" y="332.5" width="4.2" height="4.2" fill="#3d4f87"/><rect x="492.4" y="332.5" width="4.2" height="4.2" fill="#384878"/><rect x="496.0" y="332.5" width="4.2" height="4.2" fill="#2e4c4a"/><rect x="499.6" y="332.5" width="4.2" height="4.2" fill="#121727"/><rect x="413.2" y="336.1" width="4.2" height="4.2" fill="#3d4e81"/><rect x="416.8" y="336.1" width="4.2" height="4.2" fill="#3a4979"/><rect x="420.4" y="336.1" width="4.2" height="4.2" fill="#2b3659"/><rect x="424.0" y="336.1" width="4.2" height="4.2" fill="#151b2d"/><rect x="427.6" y="336.1" width="4.2" height="4.2" fill="#4d62a8"/><rect x="431.2" y="336.1" width="4.2" height="4.2" fill="#202944"/><rect x="434.8" y="336.1" width="4.2" height="4.2" fill="#33406b"/><rect x="438.4" y="336.1" width="4.2" height="4.2" fill="#4b7979"/><rect x="442.0" y="336.1" width="4.2" height="4.2" fill="#644047"/><rect x="445.6" y="336.1" width="4.2" height="4.2" fill="#1d243c"/><rect x="449.2" y="336.1" width="4.2" height="4.2" fill="#212945"/><rect x="452.8" y="336.1" width="4.2" height="4.2" fill="#161c2f"/><rect x="456.4" y="336.1" width="4.2" height="4.2" fill="#252f4e"/><rect x="460.0" y="336.1" width="4.2" height="4.2" fill="#0f1320"/><rect x="463.6" y="336.1" width="4.2" height="4.2" fill="#3e5088"/><rect x="467.2" y="336.1" width="4.2" height="4.2" fill="#2c3860"/><rect x="470.8" y="336.1" width="4.2" height="4.2" fill="#313e66"/><rect x="474.4" y="336.1" width="4.2" height="4.2" fill="#3a2528"/><rect x="478.0" y="336.1" width="4.2" height="4.2" fill="#3e4f84"/><rect x="481.6" y="336.1" width="4.2" height="4.2" fill="#2e3b62"/><rect x="485.2" y="336.1" width="4.2" height="4.2" fill="#2d3a60"/><rect x="488.8" y="336.1" width="4.2" height="4.2" fill="#273252"/><rect x="492.4" y="336.1" width="4.2" height="4.2" fill="#1f2842"/><rect x="496.0" y="336.1" width="4.2" height="4.2" fill="#467470"/><rect x="499.6" y="336.1" width="4.2" height="4.2" fill="#0d101c"/><rect x="413.2" y="339.7" width="4.2" height="4.2" fill="#222b48"/><rect x="416.8" y="339.7" width="4.2" height="4.2" fill="#2a3557"/><rect x="420.4" y="339.7" width="4.2" height="4.2" fill="#2d395e"/><rect x="424.0" y="339.7" width="4.2" height="4.2" fill="#242d4b"/><rect x="427.6" y="339.7" width="4.2" height="4.2" fill="#232d4c"/><rect x="431.2" y="339.7" width="4.2" height="4.2" fill="#283354"/><rect x="434.8" y="339.7" width="4.2" height="4.2" fill="#2e3a61"/><rect x="438.4" y="339.7" width="4.2" height="4.2" fill="#43548b"/><rect x="442.0" y="339.7" width="4.2" height="4.2" fill="#313e66"/><rect x="445.6" y="339.7" width="4.2" height="4.2" fill="#394775"/><rect x="449.2" y="339.7" width="4.2" height="4.2" fill="#374571"/><rect x="452.8" y="339.7" width="4.2" height="4.2" fill="#35426d"/><rect x="456.4" y="339.7" width="4.2" height="4.2" fill="#192035"/><rect x="460.0" y="339.7" width="4.2" height="4.2" fill="#283354"/><rect x="463.6" y="339.7" width="4.2" height="4.2" fill="#425389"/><rect x="467.2" y="339.7" width="4.2" height="4.2" fill="#465997"/><rect x="470.8" y="339.7" width="4.2" height="4.2" fill="#47766d"/><rect x="474.4" y="339.7" width="4.2" height="4.2" fill="#364572"/><rect x="478.0" y="339.7" width="4.2" height="4.2" fill="#3d6660"/><rect x="481.6" y="339.7" width="4.2" height="4.2" fill="#0f1421"/><rect x="485.2" y="339.7" width="4.2" height="4.2" fill="#2e3b63"/><rect x="488.8" y="339.7" width="4.2" height="4.2" fill="#27423e"/><rect x="492.4" y="339.7" width="4.2" height="4.2" fill="#4f837e"/><rect x="496.0" y="339.7" width="4.2" height="4.2" fill="#2d3960"/><rect x="499.6" y="339.7" width="4.2" height="4.2" fill="#2d3961"/><rect x="413.2" y="343.3" width="4.2" height="4.2" fill="#1d253e"/><rect x="416.8" y="343.3" width="4.2" height="4.2" fill="#273151"/><rect x="420.4" y="343.3" width="4.2" height="4.2" fill="#303c64"/><rect x="424.0" y="343.3" width="4.2" height="4.2" fill="#3b4b7c"/><rect x="427.6" y="343.3" width="4.2" height="4.2" fill="#3c4c7e"/><rect x="431.2" y="343.3" width="4.2" height="4.2" fill="#1f2742"/><rect x="434.8" y="343.3" width="4.2" height="4.2" fill="#365759"/><rect x="438.4" y="343.3" width="4.2" height="4.2" fill="#68434a"/><rect x="442.0" y="343.3" width="4.2" height="4.2" fill="#44558c"/><rect x="445.6" y="343.3" width="4.2" height="4.2" fill="#405083"/><rect x="449.2" y="343.3" width="4.2" height="4.2" fill="#181e31"/><rect x="452.8" y="343.3" width="4.2" height="4.2" fill="#202944"/><rect x="456.4" y="343.3" width="4.2" height="4.2" fill="#2e395f"/><rect x="460.0" y="343.3" width="4.2" height="4.2" fill="#33416f"/><rect x="463.6" y="343.3" width="4.2" height="4.2" fill="#684249"/><rect x="467.2" y="343.3" width="4.2" height="4.2" fill="#2f4e49"/><rect x="470.8" y="343.3" width="4.2" height="4.2" fill="#111625"/><rect x="474.4" y="343.3" width="4.2" height="4.2" fill="#232c49"/><rect x="478.0" y="343.3" width="4.2" height="4.2" fill="#202944"/><rect x="481.6" y="343.3" width="4.2" height="4.2" fill="#32406b"/><rect x="485.2" y="343.3" width="4.2" height="4.2" fill="#3b2527"/><rect x="488.8" y="343.3" width="4.2" height="4.2" fill="#35436f"/><rect x="492.4" y="343.3" width="4.2" height="4.2" fill="#364572"/><rect x="496.0" y="343.3" width="4.2" height="4.2" fill="#1f2842"/><rect x="499.6" y="343.3" width="4.2" height="4.2" fill="#374675"/><rect x="413.2" y="346.9" width="4.2" height="4.2" fill="#253c3c"/><rect x="416.8" y="346.9" width="4.2" height="4.2" fill="#252e4d"/><rect x="420.4" y="346.9" width="4.2" height="4.2" fill="#384776"/><rect x="424.0" y="346.9" width="4.2" height="4.2" fill="#54363c"/><rect x="427.6" y="346.9" width="4.2" height="4.2" fill="#2d385d"/><rect x="431.2" y="346.9" width="4.2" height="4.2" fill="#26304f"/><rect x="434.8" y="346.9" width="4.2" height="4.2" fill="#283357"/><rect x="438.4" y="346.9" width="4.2" height="4.2" fill="#2f3c65"/><rect x="442.0" y="346.9" width="4.2" height="4.2" fill="#2c385c"/><rect x="445.6" y="346.9" width="4.2" height="4.2" fill="#171c2f"/><rect x="449.2" y="346.9" width="4.2" height="4.2" fill="#354473"/><rect x="452.8" y="346.9" width="4.2" height="4.2" fill="#3b4a7a"/><rect x="456.4" y="346.9" width="4.2" height="4.2" fill="#6e474d"/><rect x="460.0" y="346.9" width="4.2" height="4.2" fill="#3e6561"/><rect x="463.6" y="346.9" width="4.2" height="4.2" fill="#2b365a"/><rect x="467.2" y="346.9" width="4.2" height="4.2" fill="#2d3a63"/><rect x="470.8" y="346.9" width="4.2" height="4.2" fill="#2a3559"/><rect x="474.4" y="346.9" width="4.2" height="4.2" fill="#374674"/><rect x="478.0" y="346.9" width="4.2" height="4.2" fill="#192034"/><rect x="481.6" y="346.9" width="4.2" height="4.2" fill="#263151"/><rect x="485.2" y="346.9" width="4.2" height="4.2" fill="#0b0f19"/><rect x="488.8" y="346.9" width="4.2" height="4.2" fill="#303d66"/><rect x="492.4" y="346.9" width="4.2" height="4.2" fill="#283355"/><rect x="496.0" y="346.9" width="4.2" height="4.2" fill="#33416b"/><rect x="499.6" y="346.9" width="4.2" height="4.2" fill="#161d30"/><rect x="413.2" y="350.5" width="4.2" height="4.2" fill="#3b4a7b"/><rect x="416.8" y="350.5" width="4.2" height="4.2" fill="#4f3338"/><rect x="420.4" y="350.5" width="4.2" height="4.2" fill="#4f7f81"/><rect x="424.0" y="350.5" width="4.2" height="4.2" fill="#14192a"/><rect x="427.6" y="350.5" width="4.2" height="4.2" fill="#3d4c7e"/><rect x="431.2" y="350.5" width="4.2" height="4.2" fill="#57383d"/><rect x="434.8" y="350.5" width="4.2" height="4.2" fill="#202842"/><rect x="438.4" y="350.5" width="4.2" height="4.2" fill="#181f32"/><rect x="442.0" y="350.5" width="4.2" height="4.2" fill="#435389"/><rect x="445.6" y="350.5" width="4.2" height="4.2" fill="#70484f"/><rect x="449.2" y="350.5" width="4.2" height="4.2" fill="#335352"/><rect x="452.8" y="350.5" width="4.2" height="4.2" fill="#121624"/><rect x="456.4" y="350.5" width="4.2" height="4.2" fill="#222b47"/><rect x="460.0" y="350.5" width="4.2" height="4.2" fill="#518480"/><rect x="463.6" y="350.5" width="4.2" height="4.2" fill="#364471"/><rect x="467.2" y="350.5" width="4.2" height="4.2" fill="#43548c"/><rect x="470.8" y="350.5" width="4.2" height="4.2" fill="#141a2b"/><rect x="474.4" y="350.5" width="4.2" height="4.2" fill="#3e5088"/><rect x="478.0" y="350.5" width="4.2" height="4.2" fill="#34416c"/><rect x="481.6" y="350.5" width="4.2" height="4.2" fill="#7a4d52"/><rect x="485.2" y="350.5" width="4.2" height="4.2" fill="#293456"/><rect x="488.8" y="350.5" width="4.2" height="4.2" fill="#202944"/><rect x="492.4" y="350.5" width="4.2" height="4.2" fill="#2b4644"/><rect x="496.0" y="350.5" width="4.2" height="4.2" fill="#3c4d83"/><rect x="499.6" y="350.5" width="4.2" height="4.2" fill="#2b365a"/><rect x="413.2" y="354.1" width="4.2" height="4.2" fill="#384776"/><rect x="416.8" y="354.1" width="4.2" height="4.2" fill="#415288"/><rect x="420.4" y="354.1" width="4.2" height="4.2" fill="#202944"/><rect x="424.0" y="354.1" width="4.2" height="4.2" fill="#4a2f34"/><rect x="427.6" y="354.1" width="4.2" height="4.2" fill="#43548a"/><rect x="431.2" y="354.1" width="4.2" height="4.2" fill="#3f4f81"/><rect x="434.8" y="354.1" width="4.2" height="4.2" fill="#303d64"/><rect x="438.4" y="354.1" width="4.2" height="4.2" fill="#2b3659"/><rect x="442.0" y="354.1" width="4.2" height="4.2" fill="#313d65"/><rect x="445.6" y="354.1" width="4.2" height="4.2" fill="#1e263f"/><rect x="449.2" y="354.1" width="4.2" height="4.2" fill="#3f292d"/><rect x="452.8" y="354.1" width="4.2" height="4.2" fill="#33406a"/><rect x="456.4" y="354.1" width="4.2" height="4.2" fill="#293456"/><rect x="460.0" y="354.1" width="4.2" height="4.2" fill="#192035"/><rect x="463.6" y="354.1" width="4.2" height="4.2" fill="#33416c"/><rect x="467.2" y="354.1" width="4.2" height="4.2" fill="#3b4b81"/><rect x="470.8" y="354.1" width="4.2" height="4.2" fill="#374675"/><rect x="474.4" y="354.1" width="4.2" height="4.2" fill="#3d4e85"/><rect x="478.0" y="354.1" width="4.2" height="4.2" fill="#3e6562"/><rect x="481.6" y="354.1" width="4.2" height="4.2" fill="#1a2137"/><rect x="485.2" y="354.1" width="4.2" height="4.2" fill="#364572"/><rect x="488.8" y="354.1" width="4.2" height="4.2" fill="#131829"/><rect x="492.4" y="354.1" width="4.2" height="4.2" fill="#3a4a7a"/><rect x="496.0" y="354.1" width="4.2" height="4.2" fill="#151a2c"/><rect x="499.6" y="354.1" width="4.2" height="4.2" fill="#313f67"/><rect x="413.2" y="357.7" width="4.2" height="4.2" fill="#14192a"/><rect x="416.8" y="357.7" width="4.2" height="4.2" fill="#252f4e"/><rect x="420.4" y="357.7" width="4.2" height="4.2" fill="#171d30"/><rect x="424.0" y="357.7" width="4.2" height="4.2" fill="#252f4e"/><rect x="427.6" y="357.7" width="4.2" height="4.2" fill="#29355a"/><rect x="431.2" y="357.7" width="4.2" height="4.2" fill="#313d65"/><rect x="434.8" y="357.7" width="4.2" height="4.2" fill="#664148"/><rect x="438.4" y="357.7" width="4.2" height="4.2" fill="#252e4c"/><rect x="442.0" y="357.7" width="4.2" height="4.2" fill="#323f68"/><rect x="445.6" y="357.7" width="4.2" height="4.2" fill="#495d9f"/><rect x="449.2" y="357.7" width="4.2" height="4.2" fill="#2c385f"/><rect x="452.8" y="357.7" width="4.2" height="4.2" fill="#384674"/><rect x="456.4" y="357.7" width="4.2" height="4.2" fill="#111523"/><rect x="460.0" y="357.7" width="4.2" height="4.2" fill="#426a6a"/><rect x="463.6" y="357.7" width="4.2" height="4.2" fill="#1d253e"/><rect x="467.2" y="357.7" width="4.2" height="4.2" fill="#121726"/><rect x="470.8" y="357.7" width="4.2" height="4.2" fill="#202945"/><rect x="474.4" y="357.7" width="4.2" height="4.2" fill="#54353a"/><rect x="478.0" y="357.7" width="4.2" height="4.2" fill="#242e4e"/><rect x="481.6" y="357.7" width="4.2" height="4.2" fill="#0e131f"/><rect x="485.2" y="357.7" width="4.2" height="4.2" fill="#0e121f"/><rect x="488.8" y="357.7" width="4.2" height="4.2" fill="#263151"/><rect x="492.4" y="357.7" width="4.2" height="4.2" fill="#384777"/><rect x="496.0" y="357.7" width="4.2" height="4.2" fill="#2a3558"/><rect x="499.6" y="357.7" width="4.2" height="4.2" fill="#2a3659"/><rect x="413.2" y="361.3" width="4.2" height="4.2" fill="#32406a"/><rect x="416.8" y="361.3" width="4.2" height="4.2" fill="#253052"/><rect x="420.4" y="361.3" width="4.2" height="4.2" fill="#313e66"/><rect x="424.0" y="361.3" width="4.2" height="4.2" fill="#41538e"/><rect x="427.6" y="361.3" width="4.2" height="4.2" fill="#35436f"/><rect x="431.2" y="361.3" width="4.2" height="4.2" fill="#161c2f"/><rect x="434.8" y="361.3" width="4.2" height="4.2" fill="#33406b"/><rect x="438.4" y="361.3" width="4.2" height="4.2" fill="#3d4e85"/><rect x="442.0" y="361.3" width="4.2" height="4.2" fill="#42548b"/><rect x="445.6" y="361.3" width="4.2" height="4.2" fill="#202843"/><rect x="449.2" y="361.3" width="4.2" height="4.2" fill="#7c5059"/><rect x="452.8" y="361.3" width="4.2" height="4.2" fill="#2e3b61"/><rect x="456.4" y="361.3" width="4.2" height="4.2" fill="#42538a"/><rect x="460.0" y="361.3" width="4.2" height="4.2" fill="#1d253d"/><rect x="463.6" y="361.3" width="4.2" height="4.2" fill="#2e3b62"/><rect x="467.2" y="361.3" width="4.2" height="4.2" fill="#1e2640"/><rect x="470.8" y="361.3" width="4.2" height="4.2" fill="#364574"/><rect x="474.4" y="361.3" width="4.2" height="4.2" fill="#212a47"/><rect x="478.0" y="361.3" width="4.2" height="4.2" fill="#2a365a"/><rect x="481.6" y="361.3" width="4.2" height="4.2" fill="#13192a"/><rect x="485.2" y="361.3" width="4.2" height="4.2" fill="#5a393f"/><rect x="488.8" y="361.3" width="4.2" height="4.2" fill="#384878"/><rect x="492.4" y="361.3" width="4.2" height="4.2" fill="#2b375c"/><rect x="496.0" y="361.3" width="4.2" height="4.2" fill="#2d3a64"/><rect x="499.6" y="361.3" width="4.2" height="4.2" fill="#171e31"/><rect x="413.2" y="364.9" width="4.2" height="4.2" fill="#171d31"/><rect x="416.8" y="364.9" width="4.2" height="4.2" fill="#5d3b3f"/><rect x="420.4" y="364.9" width="4.2" height="4.2" fill="#57373c"/><rect x="424.0" y="364.9" width="4.2" height="4.2" fill="#1d253d"/><rect x="427.6" y="364.9" width="4.2" height="4.2" fill="#161b2d"/><rect x="431.2" y="364.9" width="4.2" height="4.2" fill="#151b2d"/><rect x="434.8" y="364.9" width="4.2" height="4.2" fill="#2b365a"/><rect x="438.4" y="364.9" width="4.2" height="4.2" fill="#3c4c7f"/><rect x="442.0" y="364.9" width="4.2" height="4.2" fill="#1e2640"/><rect x="445.6" y="364.9" width="4.2" height="4.2" fill="#1d253e"/><rect x="449.2" y="364.9" width="4.2" height="4.2" fill="#212a47"/><rect x="452.8" y="364.9" width="4.2" height="4.2" fill="#232c49"/><rect x="456.4" y="364.9" width="4.2" height="4.2" fill="#263d3d"/><rect x="460.0" y="364.9" width="4.2" height="4.2" fill="#181e32"/><rect x="463.6" y="364.9" width="4.2" height="4.2" fill="#1e263f"/><rect x="467.2" y="364.9" width="4.2" height="4.2" fill="#293559"/><rect x="470.8" y="364.9" width="4.2" height="4.2" fill="#222c4b"/><rect x="474.4" y="364.9" width="4.2" height="4.2" fill="#0d101b"/><rect x="478.0" y="364.9" width="4.2" height="4.2" fill="#2b375c"/><rect x="481.6" y="364.9" width="4.2" height="4.2" fill="#1e2640"/><rect x="485.2" y="364.9" width="4.2" height="4.2" fill="#4b7b79"/><rect x="488.8" y="364.9" width="4.2" height="4.2" fill="#171e32"/><rect x="492.4" y="364.9" width="4.2" height="4.2" fill="#3a4b7c"/><rect x="496.0" y="364.9" width="4.2" height="4.2" fill="#2d395f"/><rect x="499.6" y="364.9" width="4.2" height="4.2" fill="#303e66"/><rect x="413.2" y="368.5" width="4.2" height="4.2" fill="#2b375a"/><rect x="416.8" y="368.5" width="4.2" height="4.2" fill="#192036"/><rect x="420.4" y="368.5" width="4.2" height="4.2" fill="#263e3e"/><rect x="424.0" y="368.5" width="4.2" height="4.2" fill="#283355"/><rect x="427.6" y="368.5" width="4.2" height="4.2" fill="#354470"/><rect x="431.2" y="368.5" width="4.2" height="4.2" fill="#2f3c63"/><rect x="434.8" y="368.5" width="4.2" height="4.2" fill="#26304f"/><rect x="438.4" y="368.5" width="4.2" height="4.2" fill="#55363b"/><rect x="442.0" y="368.5" width="4.2" height="4.2" fill="#0f1320"/><rect x="445.6" y="368.5" width="4.2" height="4.2" fill="#364573"/><rect x="449.2" y="368.5" width="4.2" height="4.2" fill="#1f2742"/><rect x="452.8" y="368.5" width="4.2" height="4.2" fill="#384776"/><rect x="456.4" y="368.5" width="4.2" height="4.2" fill="#33416b"/><rect x="460.0" y="368.5" width="4.2" height="4.2" fill="#0d101b"/><rect x="463.6" y="368.5" width="4.2" height="4.2" fill="#252f4e"/><rect x="467.2" y="368.5" width="4.2" height="4.2" fill="#171e32"/><rect x="470.8" y="368.5" width="4.2" height="4.2" fill="#374675"/><rect x="474.4" y="368.5" width="4.2" height="4.2" fill="#41548f"/><rect x="478.0" y="368.5" width="4.2" height="4.2" fill="#2b375b"/><rect x="481.6" y="368.5" width="4.2" height="4.2" fill="#35436f"/><rect x="485.2" y="368.5" width="4.2" height="4.2" fill="#14192a"/><rect x="488.8" y="368.5" width="4.2" height="4.2" fill="#222b46"/><rect x="492.4" y="368.5" width="4.2" height="4.2" fill="#1a2136"/><rect x="496.0" y="368.5" width="4.2" height="4.2" fill="#1d253d"/><rect x="499.6" y="368.5" width="4.2" height="4.2" fill="#0c0f19"/><rect x="413.2" y="372.1" width="4.2" height="4.2" fill="#283353"/><rect x="416.8" y="372.1" width="4.2" height="4.2" fill="#1b2238"/><rect x="420.4" y="372.1" width="4.2" height="4.2" fill="#364577"/><rect x="424.0" y="372.1" width="4.2" height="4.2" fill="#3f5086"/><rect x="427.6" y="372.1" width="4.2" height="4.2" fill="#2a365a"/><rect x="431.2" y="372.1" width="4.2" height="4.2" fill="#263151"/><rect x="434.8" y="372.1" width="4.2" height="4.2" fill="#425490"/><rect x="438.4" y="372.1" width="4.2" height="4.2" fill="#273152"/><rect x="442.0" y="372.1" width="4.2" height="4.2" fill="#2d3a61"/><rect x="445.6" y="372.1" width="4.2" height="4.2" fill="#344373"/><rect x="449.2" y="372.1" width="4.2" height="4.2" fill="#273152"/><rect x="452.8" y="372.1" width="4.2" height="4.2" fill="#34436f"/><rect x="456.4" y="372.1" width="4.2" height="4.2" fill="#263151"/><rect x="460.0" y="372.1" width="4.2" height="4.2" fill="#222b47"/><rect x="463.6" y="372.1" width="4.2" height="4.2" fill="#1f2843"/><rect x="467.2" y="372.1" width="4.2" height="4.2" fill="#2c385d"/><rect x="470.8" y="372.1" width="4.2" height="4.2" fill="#181f34"/><rect x="474.4" y="372.1" width="4.2" height="4.2" fill="#394979"/><rect x="478.0" y="372.1" width="4.2" height="4.2" fill="#374775"/><rect x="481.6" y="372.1" width="4.2" height="4.2" fill="#232d4a"/><rect x="485.2" y="372.1" width="4.2" height="4.2" fill="#75494c"/><rect x="488.8" y="372.1" width="4.2" height="4.2" fill="#2d3a5e"/><rect x="492.4" y="372.1" width="4.2" height="4.2" fill="#253e3b"/><rect x="496.0" y="372.1" width="4.2" height="4.2" fill="#2b375a"/><rect x="499.6" y="372.1" width="4.2" height="4.2" fill="#202946"/></g></g>
<line x1="416.80" y1="370.60" x2="499.40" y2="370.60" stroke="#c8c8c8" stroke-width="1.1"  shape-rendering="crispEdges"/>
<g clip-path="url(#mclip4)"><g filter="url(#mblur2)" class="mg"><rect x="413.2" y="368.2" width="4.2" height="4.2" fill="#0e172f"/><rect x="416.8" y="368.2" width="4.2" height="4.2" fill="#101d33"/><rect x="420.4" y="368.2" width="4.2" height="4.2" fill="#111c3a"/><rect x="424.0" y="368.2" width="4.2" height="4.2" fill="#0f1a31"/><rect x="427.6" y="368.2" width="4.2" height="4.2" fill="#0d182c"/><rect x="431.2" y="368.2" width="4.2" height="4.2" fill="#1d3163"/><rect x="434.8" y="368.2" width="4.2" height="4.2" fill="#152544"/><rect x="438.4" y="368.2" width="4.2" height="4.2" fill="#070d17"/><rect x="442.0" y="368.2" width="4.2" height="4.2" fill="#101b37"/><rect x="445.6" y="368.2" width="4.2" height="4.2" fill="#1a2f55"/><rect x="449.2" y="368.2" width="4.2" height="4.2" fill="#173228"/><rect x="452.8" y="368.2" width="4.2" height="4.2" fill="#060b15"/><rect x="456.4" y="368.2" width="4.2" height="4.2" fill="#183528"/><rect x="460.0" y="368.2" width="4.2" height="4.2" fill="#142440"/><rect x="463.6" y="368.2" width="4.2" height="4.2" fill="#0a1221"/><rect x="467.2" y="368.2" width="4.2" height="4.2" fill="#1c3f2f"/><rect x="470.8" y="368.2" width="4.2" height="4.2" fill="#09111d"/><rect x="474.4" y="368.2" width="4.2" height="4.2" fill="#09121e"/><rect x="478.0" y="368.2" width="4.2" height="4.2" fill="#152843"/><rect x="481.6" y="368.2" width="4.2" height="4.2" fill="#0c1726"/><rect x="485.2" y="368.2" width="4.2" height="4.2" fill="#1d3164"/><rect x="488.8" y="368.2" width="4.2" height="4.2" fill="#1b2e5d"/><rect x="492.4" y="368.2" width="4.2" height="4.2" fill="#12271e"/><rect x="496.0" y="368.2" width="4.2" height="4.2" fill="#0e1a2c"/><rect x="499.6" y="368.2" width="4.2" height="4.2" fill="#070e17"/><rect x="413.2" y="371.8" width="4.2" height="4.2" fill="#09121f"/><rect x="416.8" y="371.8" width="4.2" height="4.2" fill="#1a2f52"/><rect x="420.4" y="371.8" width="4.2" height="4.2" fill="#152347"/><rect x="424.0" y="371.8" width="4.2" height="4.2" fill="#162747"/><rect x="427.6" y="371.8" width="4.2" height="4.2" fill="#1d3164"/><rect x="431.2" y="371.8" width="4.2" height="4.2" fill="#050a12"/><rect x="434.8" y="371.8" width="4.2" height="4.2" fill="#152645"/><rect x="438.4" y="371.8" width="4.2" height="4.2" fill="#0c1628"/><rect x="442.0" y="371.8" width="4.2" height="4.2" fill="#1a2e53"/><rect x="445.6" y="371.8" width="4.2" height="4.2" fill="#243c7a"/><rect x="449.2" y="371.8" width="4.2" height="4.2" fill="#070c17"/><rect x="452.8" y="371.8" width="4.2" height="4.2" fill="#111f38"/><rect x="456.4" y="371.8" width="4.2" height="4.2" fill="#1a2c59"/><rect x="460.0" y="371.8" width="4.2" height="4.2" fill="#04080f"/><rect x="463.6" y="371.8" width="4.2" height="4.2" fill="#163223"/><rect x="467.2" y="371.8" width="4.2" height="4.2" fill="#0f1c32"/><rect x="470.8" y="371.8" width="4.2" height="4.2" fill="#2c6445"/><rect x="474.4" y="371.8" width="4.2" height="4.2" fill="#111f36"/><rect x="478.0" y="371.8" width="4.2" height="4.2" fill="#1b3c28"/><rect x="481.6" y="371.8" width="4.2" height="4.2" fill="#12223a"/><rect x="485.2" y="371.8" width="4.2" height="4.2" fill="#0e1831"/><rect x="488.8" y="371.8" width="4.2" height="4.2" fill="#0c1626"/><rect x="492.4" y="371.8" width="4.2" height="4.2" fill="#080f1a"/><rect x="496.0" y="371.8" width="4.2" height="4.2" fill="#265541"/><rect x="499.6" y="371.8" width="4.2" height="4.2" fill="#080f1b"/><rect x="413.2" y="375.4" width="4.2" height="4.2" fill="#152448"/><rect x="416.8" y="375.4" width="4.2" height="4.2" fill="#16254b"/><rect x="420.4" y="375.4" width="4.2" height="4.2" fill="#121e3d"/><rect x="424.0" y="375.4" width="4.2" height="4.2" fill="#050911"/><rect x="427.6" y="375.4" width="4.2" height="4.2" fill="#0b1426"/><rect x="431.2" y="375.4" width="4.2" height="4.2" fill="#121f3f"/><rect x="434.8" y="375.4" width="4.2" height="4.2" fill="#265247"/><rect x="438.4" y="375.4" width="4.2" height="4.2" fill="#0d182a"/><rect x="442.0" y="375.4" width="4.2" height="4.2" fill="#152745"/><rect x="445.6" y="375.4" width="4.2" height="4.2" fill="#2a5d47"/><rect x="449.2" y="375.4" width="4.2" height="4.2" fill="#12223b"/><rect x="452.8" y="375.4" width="4.2" height="4.2" fill="#111f37"/><rect x="456.4" y="375.4" width="4.2" height="4.2" fill="#182851"/><rect x="460.0" y="375.4" width="4.2" height="4.2" fill="#0c1626"/><rect x="463.6" y="375.4" width="4.2" height="4.2" fill="#09101d"/><rect x="467.2" y="375.4" width="4.2" height="4.2" fill="#162746"/><rect x="470.8" y="375.4" width="4.2" height="4.2" fill="#050910"/><rect x="474.4" y="375.4" width="4.2" height="4.2" fill="#173422"/><rect x="478.0" y="375.4" width="4.2" height="4.2" fill="#183723"/><rect x="481.6" y="375.4" width="4.2" height="4.2" fill="#1e442b"/><rect x="485.2" y="375.4" width="4.2" height="4.2" fill="#2b613f"/><rect x="488.8" y="375.4" width="4.2" height="4.2" fill="#0e1a2f"/><rect x="492.4" y="375.4" width="4.2" height="4.2" fill="#09101d"/><rect x="496.0" y="375.4" width="4.2" height="4.2" fill="#0b1424"/><rect x="499.6" y="375.4" width="4.2" height="4.2" fill="#2a5b4c"/><rect x="413.2" y="379.0" width="4.2" height="4.2" fill="#050910"/><rect x="416.8" y="379.0" width="4.2" height="4.2" fill="#101d33"/><rect x="420.4" y="379.0" width="4.2" height="4.2" fill="#182c50"/><rect x="424.0" y="379.0" width="4.2" height="4.2" fill="#121f3f"/><rect x="427.6" y="379.0" width="4.2" height="4.2" fill="#101d36"/><rect x="431.2" y="379.0" width="4.2" height="4.2" fill="#101d34"/><rect x="434.8" y="379.0" width="4.2" height="4.2" fill="#0f1933"/><rect x="438.4" y="379.0" width="4.2" height="4.2" fill="#142440"/><rect x="442.0" y="379.0" width="4.2" height="4.2" fill="#070d17"/><rect x="445.6" y="379.0" width="4.2" height="4.2" fill="#142143"/><rect x="449.2" y="379.0" width="4.2" height="4.2" fill="#132c1f"/><rect x="452.8" y="379.0" width="4.2" height="4.2" fill="#1c402b"/><rect x="456.4" y="379.0" width="4.2" height="4.2" fill="#0d172f"/><rect x="460.0" y="379.0" width="4.2" height="4.2" fill="#101d33"/><rect x="463.6" y="379.0" width="4.2" height="4.2" fill="#060b13"/><rect x="467.2" y="379.0" width="4.2" height="4.2" fill="#275839"/><rect x="470.8" y="379.0" width="4.2" height="4.2" fill="#2d6642"/><rect x="474.4" y="379.0" width="4.2" height="4.2" fill="#070e19"/><rect x="478.0" y="379.0" width="4.2" height="4.2" fill="#265636"/><rect x="481.6" y="379.0" width="4.2" height="4.2" fill="#173621"/><rect x="485.2" y="379.0" width="4.2" height="4.2" fill="#1a3c26"/><rect x="488.8" y="379.0" width="4.2" height="4.2" fill="#080e1a"/><rect x="492.4" y="379.0" width="4.2" height="4.2" fill="#285a3f"/><rect x="496.0" y="379.0" width="4.2" height="4.2" fill="#2c604b"/><rect x="499.6" y="379.0" width="4.2" height="4.2" fill="#12203b"/><rect x="413.2" y="382.6" width="4.2" height="4.2" fill="#1a2b58"/><rect x="416.8" y="382.6" width="4.2" height="4.2" fill="#060c15"/><rect x="420.4" y="382.6" width="4.2" height="4.2" fill="#0f1a30"/><rect x="424.0" y="382.6" width="4.2" height="4.2" fill="#04080f"/><rect x="427.6" y="382.6" width="4.2" height="4.2" fill="#16284a"/><rect x="431.2" y="382.6" width="4.2" height="4.2" fill="#1b3057"/><rect x="434.8" y="382.6" width="4.2" height="4.2" fill="#0f1934"/><rect x="438.4" y="382.6" width="4.2" height="4.2" fill="#070d17"/><rect x="442.0" y="382.6" width="4.2" height="4.2" fill="#111c39"/><rect x="445.6" y="382.6" width="4.2" height="4.2" fill="#142246"/><rect x="449.2" y="382.6" width="4.2" height="4.2" fill="#101e35"/><rect x="452.8" y="382.6" width="4.2" height="4.2" fill="#214c31"/><rect x="456.4" y="382.6" width="4.2" height="4.2" fill="#04070d"/><rect x="460.0" y="382.6" width="4.2" height="4.2" fill="#224e31"/><rect x="463.6" y="382.6" width="4.2" height="4.2" fill="#12213b"/><rect x="467.2" y="382.6" width="4.2" height="4.2" fill="#0a1221"/><rect x="470.8" y="382.6" width="4.2" height="4.2" fill="#2b633f"/><rect x="474.4" y="382.6" width="4.2" height="4.2" fill="#111d3b"/><rect x="478.0" y="382.6" width="4.2" height="4.2" fill="#20366e"/><rect x="481.6" y="382.6" width="4.2" height="4.2" fill="#070d18"/><rect x="485.2" y="382.6" width="4.2" height="4.2" fill="#1e452c"/><rect x="488.8" y="382.6" width="4.2" height="4.2" fill="#070c17"/><rect x="492.4" y="382.6" width="4.2" height="4.2" fill="#09101d"/><rect x="496.0" y="382.6" width="4.2" height="4.2" fill="#0b1526"/><rect x="499.6" y="382.6" width="4.2" height="4.2" fill="#13223f"/><rect x="413.2" y="386.2" width="4.2" height="4.2" fill="#172a4b"/><rect x="416.8" y="386.2" width="4.2" height="4.2" fill="#192e53"/><rect x="420.4" y="386.2" width="4.2" height="4.2" fill="#1b3057"/><rect x="424.0" y="386.2" width="4.2" height="4.2" fill="#152545"/><rect x="427.6" y="386.2" width="4.2" height="4.2" fill="#182953"/><rect x="431.2" y="386.2" width="4.2" height="4.2" fill="#080f1b"/><rect x="434.8" y="386.2" width="4.2" height="4.2" fill="#223873"/><rect x="438.4" y="386.2" width="4.2" height="4.2" fill="#16264d"/><rect x="442.0" y="386.2" width="4.2" height="4.2" fill="#060b14"/><rect x="445.6" y="386.2" width="4.2" height="4.2" fill="#1f4630"/><rect x="449.2" y="386.2" width="4.2" height="4.2" fill="#1c3e2a"/><rect x="452.8" y="386.2" width="4.2" height="4.2" fill="#295d3d"/><rect x="456.4" y="386.2" width="4.2" height="4.2" fill="#1a3b26"/><rect x="460.0" y="386.2" width="4.2" height="4.2" fill="#060a13"/><rect x="463.6" y="386.2" width="4.2" height="4.2" fill="#0d182b"/><rect x="467.2" y="386.2" width="4.2" height="4.2" fill="#0c1628"/><rect x="470.8" y="386.2" width="4.2" height="4.2" fill="#0e1a2e"/><rect x="474.4" y="386.2" width="4.2" height="4.2" fill="#17264e"/><rect x="478.0" y="386.2" width="4.2" height="4.2" fill="#0a1320"/><rect x="481.6" y="386.2" width="4.2" height="4.2" fill="#245335"/><rect x="485.2" y="386.2" width="4.2" height="4.2" fill="#101d34"/><rect x="488.8" y="386.2" width="4.2" height="4.2" fill="#192955"/><rect x="492.4" y="386.2" width="4.2" height="4.2" fill="#244f3d"/><rect x="496.0" y="386.2" width="4.2" height="4.2" fill="#1a2e55"/><rect x="499.6" y="386.2" width="4.2" height="4.2" fill="#20356c"/><rect x="413.2" y="389.8" width="4.2" height="4.2" fill="#162847"/><rect x="416.8" y="389.8" width="4.2" height="4.2" fill="#0a1220"/><rect x="420.4" y="389.8" width="4.2" height="4.2" fill="#142543"/><rect x="424.0" y="389.8" width="4.2" height="4.2" fill="#20356c"/><rect x="427.6" y="389.8" width="4.2" height="4.2" fill="#152545"/><rect x="431.2" y="389.8" width="4.2" height="4.2" fill="#162748"/><rect x="434.8" y="389.8" width="4.2" height="4.2" fill="#0a1323"/><rect x="438.4" y="389.8" width="4.2" height="4.2" fill="#142144"/><rect x="442.0" y="389.8" width="4.2" height="4.2" fill="#1b2e5d"/><rect x="445.6" y="389.8" width="4.2" height="4.2" fill="#306b4a"/><rect x="449.2" y="389.8" width="4.2" height="4.2" fill="#070d17"/><rect x="452.8" y="389.8" width="4.2" height="4.2" fill="#306c47"/><rect x="456.4" y="389.8" width="4.2" height="4.2" fill="#234f33"/><rect x="460.0" y="389.8" width="4.2" height="4.2" fill="#235033"/><rect x="463.6" y="389.8" width="4.2" height="4.2" fill="#316e47"/><rect x="467.2" y="389.8" width="4.2" height="4.2" fill="#060c16"/><rect x="470.8" y="389.8" width="4.2" height="4.2" fill="#2e6a43"/><rect x="474.4" y="389.8" width="4.2" height="4.2" fill="#101f33"/><rect x="478.0" y="389.8" width="4.2" height="4.2" fill="#193a23"/><rect x="481.6" y="389.8" width="4.2" height="4.2" fill="#2e6943"/><rect x="485.2" y="389.8" width="4.2" height="4.2" fill="#162746"/><rect x="488.8" y="389.8" width="4.2" height="4.2" fill="#24513b"/><rect x="492.4" y="389.8" width="4.2" height="4.2" fill="#1a2e54"/><rect x="496.0" y="389.8" width="4.2" height="4.2" fill="#040810"/><rect x="499.6" y="389.8" width="4.2" height="4.2" fill="#224a41"/><rect x="413.2" y="393.4" width="4.2" height="4.2" fill="#111d3b"/><rect x="416.8" y="393.4" width="4.2" height="4.2" fill="#09111e"/><rect x="420.4" y="393.4" width="4.2" height="4.2" fill="#16244a"/><rect x="424.0" y="393.4" width="4.2" height="4.2" fill="#0c1628"/><rect x="427.6" y="393.4" width="4.2" height="4.2" fill="#152347"/><rect x="431.2" y="393.4" width="4.2" height="4.2" fill="#060b14"/><rect x="434.8" y="393.4" width="4.2" height="4.2" fill="#0b1525"/><rect x="438.4" y="393.4" width="4.2" height="4.2" fill="#192a56"/><rect x="442.0" y="393.4" width="4.2" height="4.2" fill="#0e1831"/><rect x="445.6" y="393.4" width="4.2" height="4.2" fill="#04080e"/><rect x="449.2" y="393.4" width="4.2" height="4.2" fill="#172a4a"/><rect x="452.8" y="393.4" width="4.2" height="4.2" fill="#316e47"/><rect x="456.4" y="393.4" width="4.2" height="4.2" fill="#050a13"/><rect x="460.0" y="393.4" width="4.2" height="4.2" fill="#080e1a"/><rect x="463.6" y="393.4" width="4.2" height="4.2" fill="#20482e"/><rect x="467.2" y="393.4" width="4.2" height="4.2" fill="#09101d"/><rect x="470.8" y="393.4" width="4.2" height="4.2" fill="#193924"/><rect x="474.4" y="393.4" width="4.2" height="4.2" fill="#142e1c"/><rect x="478.0" y="393.4" width="4.2" height="4.2" fill="#316f44"/><rect x="481.6" y="393.4" width="4.2" height="4.2" fill="#0b1523"/><rect x="485.2" y="393.4" width="4.2" height="4.2" fill="#1c2f60"/><rect x="488.8" y="393.4" width="4.2" height="4.2" fill="#1a2f56"/><rect x="492.4" y="393.4" width="4.2" height="4.2" fill="#204637"/><rect x="496.0" y="393.4" width="4.2" height="4.2" fill="#0d182b"/><rect x="499.6" y="393.4" width="4.2" height="4.2" fill="#16254b"/><rect x="413.2" y="397.0" width="4.2" height="4.2" fill="#14243f"/><rect x="416.8" y="397.0" width="4.2" height="4.2" fill="#0a1220"/><rect x="420.4" y="397.0" width="4.2" height="4.2" fill="#12213b"/><rect x="424.0" y="397.0" width="4.2" height="4.2" fill="#111e37"/><rect x="427.6" y="397.0" width="4.2" height="4.2" fill="#070e19"/><rect x="431.2" y="397.0" width="4.2" height="4.2" fill="#0a1320"/><rect x="434.8" y="397.0" width="4.2" height="4.2" fill="#050a11"/><rect x="438.4" y="397.0" width="4.2" height="4.2" fill="#172b48"/><rect x="442.0" y="397.0" width="4.2" height="4.2" fill="#0a1320"/><rect x="445.6" y="397.0" width="4.2" height="4.2" fill="#112137"/><rect x="449.2" y="397.0" width="4.2" height="4.2" fill="#2b623f"/><rect x="452.8" y="397.0" width="4.2" height="4.2" fill="#12213a"/><rect x="456.4" y="397.0" width="4.2" height="4.2" fill="#152f1e"/><rect x="460.0" y="397.0" width="4.2" height="4.2" fill="#080f1b"/><rect x="463.6" y="397.0" width="4.2" height="4.2" fill="#327349"/><rect x="467.2" y="397.0" width="4.2" height="4.2" fill="#33754b"/><rect x="470.8" y="397.0" width="4.2" height="4.2" fill="#224e31"/><rect x="474.4" y="397.0" width="4.2" height="4.2" fill="#275937"/><rect x="478.0" y="397.0" width="4.2" height="4.2" fill="#070e16"/><rect x="481.6" y="397.0" width="4.2" height="4.2" fill="#0b1423"/><rect x="485.2" y="397.0" width="4.2" height="4.2" fill="#25533a"/><rect x="488.8" y="397.0" width="4.2" height="4.2" fill="#04080e"/><rect x="492.4" y="397.0" width="4.2" height="4.2" fill="#162847"/><rect x="496.0" y="397.0" width="4.2" height="4.2" fill="#04080e"/><rect x="499.6" y="397.0" width="4.2" height="4.2" fill="#0f1d31"/><rect x="413.2" y="400.6" width="4.2" height="4.2" fill="#122139"/><rect x="416.8" y="400.6" width="4.2" height="4.2" fill="#192d4f"/><rect x="420.4" y="400.6" width="4.2" height="4.2" fill="#152745"/><rect x="424.0" y="400.6" width="4.2" height="4.2" fill="#233a77"/><rect x="427.6" y="400.6" width="4.2" height="4.2" fill="#060b13"/><rect x="431.2" y="400.6" width="4.2" height="4.2" fill="#112137"/><rect x="434.8" y="400.6" width="4.2" height="4.2" fill="#20366c"/><rect x="438.4" y="400.6" width="4.2" height="4.2" fill="#121f3f"/><rect x="442.0" y="400.6" width="4.2" height="4.2" fill="#265639"/><rect x="445.6" y="400.6" width="4.2" height="4.2" fill="#1c4029"/><rect x="449.2" y="400.6" width="4.2" height="4.2" fill="#0d1828"/><rect x="452.8" y="400.6" width="4.2" height="4.2" fill="#2b633f"/><rect x="456.4" y="400.6" width="4.2" height="4.2" fill="#21376f"/><rect x="460.0" y="400.6" width="4.2" height="4.2" fill="#265637"/><rect x="463.6" y="400.6" width="4.2" height="4.2" fill="#183622"/><rect x="467.2" y="400.6" width="4.2" height="4.2" fill="#0f1a35"/><rect x="470.8" y="400.6" width="4.2" height="4.2" fill="#183723"/><rect x="474.4" y="400.6" width="4.2" height="4.2" fill="#2e6841"/><rect x="478.0" y="400.6" width="4.2" height="4.2" fill="#0a1420"/><rect x="481.6" y="400.6" width="4.2" height="4.2" fill="#08101b"/><rect x="485.2" y="400.6" width="4.2" height="4.2" fill="#0f1933"/><rect x="488.8" y="400.6" width="4.2" height="4.2" fill="#070d17"/><rect x="492.4" y="400.6" width="4.2" height="4.2" fill="#070e18"/><rect x="496.0" y="400.6" width="4.2" height="4.2" fill="#0d1828"/><rect x="499.6" y="400.6" width="4.2" height="4.2" fill="#1c305f"/><rect x="413.2" y="404.2" width="4.2" height="4.2" fill="#070d16"/><rect x="416.8" y="404.2" width="4.2" height="4.2" fill="#162947"/><rect x="420.4" y="404.2" width="4.2" height="4.2" fill="#09111e"/><rect x="424.0" y="404.2" width="4.2" height="4.2" fill="#1b2e5d"/><rect x="427.6" y="404.2" width="4.2" height="4.2" fill="#121f3f"/><rect x="431.2" y="404.2" width="4.2" height="4.2" fill="#162a47"/><rect x="434.8" y="404.2" width="4.2" height="4.2" fill="#060d15"/><rect x="438.4" y="404.2" width="4.2" height="4.2" fill="#26553a"/><rect x="442.0" y="404.2" width="4.2" height="4.2" fill="#1a2c58"/><rect x="445.6" y="404.2" width="4.2" height="4.2" fill="#1b3d27"/><rect x="449.2" y="404.2" width="4.2" height="4.2" fill="#152742"/><rect x="452.8" y="404.2" width="4.2" height="4.2" fill="#265738"/><rect x="456.4" y="404.2" width="4.2" height="4.2" fill="#1e452c"/><rect x="460.0" y="404.2" width="4.2" height="4.2" fill="#15301f"/><rect x="463.6" y="404.2" width="4.2" height="4.2" fill="#09121f"/><rect x="467.2" y="404.2" width="4.2" height="4.2" fill="#1b3e29"/><rect x="470.8" y="404.2" width="4.2" height="4.2" fill="#2b613f"/><rect x="474.4" y="404.2" width="4.2" height="4.2" fill="#0e1b2d"/><rect x="478.0" y="404.2" width="4.2" height="4.2" fill="#04080e"/><rect x="481.6" y="404.2" width="4.2" height="4.2" fill="#03070c"/><rect x="485.2" y="404.2" width="4.2" height="4.2" fill="#25533d"/><rect x="488.8" y="404.2" width="4.2" height="4.2" fill="#060b13"/><rect x="492.4" y="404.2" width="4.2" height="4.2" fill="#1d3164"/><rect x="496.0" y="404.2" width="4.2" height="4.2" fill="#142245"/><rect x="499.6" y="404.2" width="4.2" height="4.2" fill="#12223a"/><rect x="413.2" y="407.8" width="4.2" height="4.2" fill="#0e1a2c"/><rect x="416.8" y="407.8" width="4.2" height="4.2" fill="#132041"/><rect x="420.4" y="407.8" width="4.2" height="4.2" fill="#08101c"/><rect x="424.0" y="407.8" width="4.2" height="4.2" fill="#162948"/><rect x="427.6" y="407.8" width="4.2" height="4.2" fill="#080f1a"/><rect x="431.2" y="407.8" width="4.2" height="4.2" fill="#122a1e"/><rect x="434.8" y="407.8" width="4.2" height="4.2" fill="#0f1b2e"/><rect x="438.4" y="407.8" width="4.2" height="4.2" fill="#0e1b2e"/><rect x="442.0" y="407.8" width="4.2" height="4.2" fill="#050910"/><rect x="445.6" y="407.8" width="4.2" height="4.2" fill="#101d32"/><rect x="449.2" y="407.8" width="4.2" height="4.2" fill="#070e17"/><rect x="452.8" y="407.8" width="4.2" height="4.2" fill="#255336"/><rect x="456.4" y="407.8" width="4.2" height="4.2" fill="#101d32"/><rect x="460.0" y="407.8" width="4.2" height="4.2" fill="#04070d"/><rect x="463.6" y="407.8" width="4.2" height="4.2" fill="#050a12"/><rect x="467.2" y="407.8" width="4.2" height="4.2" fill="#060b14"/><rect x="470.8" y="407.8" width="4.2" height="4.2" fill="#295c3f"/><rect x="474.4" y="407.8" width="4.2" height="4.2" fill="#1d3162"/><rect x="478.0" y="407.8" width="4.2" height="4.2" fill="#0a1321"/><rect x="481.6" y="407.8" width="4.2" height="4.2" fill="#1a3b2a"/><rect x="485.2" y="407.8" width="4.2" height="4.2" fill="#142540"/><rect x="488.8" y="407.8" width="4.2" height="4.2" fill="#13233c"/><rect x="492.4" y="407.8" width="4.2" height="4.2" fill="#20366c"/><rect x="496.0" y="407.8" width="4.2" height="4.2" fill="#162946"/><rect x="499.6" y="407.8" width="4.2" height="4.2" fill="#121f3f"/><rect x="413.2" y="411.4" width="4.2" height="4.2" fill="#111e3c"/><rect x="416.8" y="411.4" width="4.2" height="4.2" fill="#070d16"/><rect x="420.4" y="411.4" width="4.2" height="4.2" fill="#1d4033"/><rect x="424.0" y="411.4" width="4.2" height="4.2" fill="#04090f"/><rect x="427.6" y="411.4" width="4.2" height="4.2" fill="#214936"/><rect x="431.2" y="411.4" width="4.2" height="4.2" fill="#2c6347"/><rect x="434.8" y="411.4" width="4.2" height="4.2" fill="#192e50"/><rect x="438.4" y="411.4" width="4.2" height="4.2" fill="#1a3a29"/><rect x="442.0" y="411.4" width="4.2" height="4.2" fill="#04070c"/><rect x="445.6" y="411.4" width="4.2" height="4.2" fill="#0e1b2e"/><rect x="449.2" y="411.4" width="4.2" height="4.2" fill="#2d6543"/><rect x="452.8" y="411.4" width="4.2" height="4.2" fill="#111f35"/><rect x="456.4" y="411.4" width="4.2" height="4.2" fill="#265539"/><rect x="460.0" y="411.4" width="4.2" height="4.2" fill="#183625"/><rect x="463.6" y="411.4" width="4.2" height="4.2" fill="#0a1220"/><rect x="467.2" y="411.4" width="4.2" height="4.2" fill="#142541"/><rect x="470.8" y="411.4" width="4.2" height="4.2" fill="#111f36"/><rect x="474.4" y="411.4" width="4.2" height="4.2" fill="#070d17"/><rect x="478.0" y="411.4" width="4.2" height="4.2" fill="#122138"/><rect x="481.6" y="411.4" width="4.2" height="4.2" fill="#1a2d5a"/><rect x="485.2" y="411.4" width="4.2" height="4.2" fill="#04070d"/><rect x="488.8" y="411.4" width="4.2" height="4.2" fill="#13243c"/><rect x="492.4" y="411.4" width="4.2" height="4.2" fill="#213871"/><rect x="496.0" y="411.4" width="4.2" height="4.2" fill="#152641"/><rect x="499.6" y="411.4" width="4.2" height="4.2" fill="#101b36"/><rect x="413.2" y="415.0" width="4.2" height="4.2" fill="#0e1830"/><rect x="416.8" y="415.0" width="4.2" height="4.2" fill="#152743"/><rect x="420.4" y="415.0" width="4.2" height="4.2" fill="#0a1320"/><rect x="424.0" y="415.0" width="4.2" height="4.2" fill="#182d4c"/><rect x="427.6" y="415.0" width="4.2" height="4.2" fill="#0e1a2d"/><rect x="431.2" y="415.0" width="4.2" height="4.2" fill="#1d402e"/><rect x="434.8" y="415.0" width="4.2" height="4.2" fill="#1c2f60"/><rect x="438.4" y="415.0" width="4.2" height="4.2" fill="#070c16"/><rect x="442.0" y="415.0" width="4.2" height="4.2" fill="#162846"/><rect x="445.6" y="415.0" width="4.2" height="4.2" fill="#09111d"/><rect x="449.2" y="415.0" width="4.2" height="4.2" fill="#050a12"/><rect x="452.8" y="415.0" width="4.2" height="4.2" fill="#172b4a"/><rect x="456.4" y="415.0" width="4.2" height="4.2" fill="#0b1524"/><rect x="460.0" y="415.0" width="4.2" height="4.2" fill="#070c16"/><rect x="463.6" y="415.0" width="4.2" height="4.2" fill="#0e192c"/><rect x="467.2" y="415.0" width="4.2" height="4.2" fill="#162948"/><rect x="470.8" y="415.0" width="4.2" height="4.2" fill="#050a12"/><rect x="474.4" y="415.0" width="4.2" height="4.2" fill="#050a11"/><rect x="478.0" y="415.0" width="4.2" height="4.2" fill="#172b4a"/><rect x="481.6" y="415.0" width="4.2" height="4.2" fill="#12271f"/><rect x="485.2" y="415.0" width="4.2" height="4.2" fill="#0f1933"/><rect x="488.8" y="415.0" width="4.2" height="4.2" fill="#0f1b2e"/><rect x="492.4" y="415.0" width="4.2" height="4.2" fill="#1f3469"/><rect x="496.0" y="415.0" width="4.2" height="4.2" fill="#1e3265"/><rect x="499.6" y="415.0" width="4.2" height="4.2" fill="#1d3163"/><rect x="413.2" y="418.6" width="4.2" height="4.2" fill="#060b13"/><rect x="416.8" y="418.6" width="4.2" height="4.2" fill="#21376f"/><rect x="420.4" y="418.6" width="4.2" height="4.2" fill="#060b13"/><rect x="424.0" y="418.6" width="4.2" height="4.2" fill="#0c1625"/><rect x="427.6" y="418.6" width="4.2" height="4.2" fill="#193729"/><rect x="431.2" y="418.6" width="4.2" height="4.2" fill="#182953"/><rect x="434.8" y="418.6" width="4.2" height="4.2" fill="#050910"/><rect x="438.4" y="418.6" width="4.2" height="4.2" fill="#17294a"/><rect x="442.0" y="418.6" width="4.2" height="4.2" fill="#111c3a"/><rect x="445.6" y="418.6" width="4.2" height="4.2" fill="#152645"/><rect x="449.2" y="418.6" width="4.2" height="4.2" fill="#04070d"/><rect x="452.8" y="418.6" width="4.2" height="4.2" fill="#1d402f"/><rect x="456.4" y="418.6" width="4.2" height="4.2" fill="#080e19"/><rect x="460.0" y="418.6" width="4.2" height="4.2" fill="#0f1c32"/><rect x="463.6" y="418.6" width="4.2" height="4.2" fill="#0b1423"/><rect x="467.2" y="418.6" width="4.2" height="4.2" fill="#0a1220"/><rect x="470.8" y="418.6" width="4.2" height="4.2" fill="#060b14"/><rect x="474.4" y="418.6" width="4.2" height="4.2" fill="#2b5f4e"/><rect x="478.0" y="418.6" width="4.2" height="4.2" fill="#275547"/><rect x="481.6" y="418.6" width="4.2" height="4.2" fill="#0a1220"/><rect x="485.2" y="418.6" width="4.2" height="4.2" fill="#192f52"/><rect x="488.8" y="418.6" width="4.2" height="4.2" fill="#152643"/><rect x="492.4" y="418.6" width="4.2" height="4.2" fill="#1a2c5a"/><rect x="496.0" y="418.6" width="4.2" height="4.2" fill="#080e19"/><rect x="499.6" y="418.6" width="4.2" height="4.2" fill="#070e18"/><rect x="413.2" y="422.2" width="4.2" height="4.2" fill="#182d4d"/><rect x="416.8" y="422.2" width="4.2" height="4.2" fill="#0f1b2f"/><rect x="420.4" y="422.2" width="4.2" height="4.2" fill="#111d3b"/><rect x="424.0" y="422.2" width="4.2" height="4.2" fill="#182c4a"/><rect x="427.6" y="422.2" width="4.2" height="4.2" fill="#060c15"/><rect x="431.2" y="422.2" width="4.2" height="4.2" fill="#1f356b"/><rect x="434.8" y="422.2" width="4.2" height="4.2" fill="#111f38"/><rect x="438.4" y="422.2" width="4.2" height="4.2" fill="#0e1a2f"/><rect x="442.0" y="422.2" width="4.2" height="4.2" fill="#080f1c"/><rect x="445.6" y="422.2" width="4.2" height="4.2" fill="#173226"/><rect x="449.2" y="422.2" width="4.2" height="4.2" fill="#101d34"/><rect x="452.8" y="422.2" width="4.2" height="4.2" fill="#0e1a2f"/><rect x="456.4" y="422.2" width="4.2" height="4.2" fill="#152449"/><rect x="460.0" y="422.2" width="4.2" height="4.2" fill="#172b4c"/><rect x="463.6" y="422.2" width="4.2" height="4.2" fill="#192d51"/><rect x="467.2" y="422.2" width="4.2" height="4.2" fill="#182c4f"/><rect x="470.8" y="422.2" width="4.2" height="4.2" fill="#070d18"/><rect x="474.4" y="422.2" width="4.2" height="4.2" fill="#060b15"/><rect x="478.0" y="422.2" width="4.2" height="4.2" fill="#080e19"/><rect x="481.6" y="422.2" width="4.2" height="4.2" fill="#0c1526"/><rect x="485.2" y="422.2" width="4.2" height="4.2" fill="#060b14"/><rect x="488.8" y="422.2" width="4.2" height="4.2" fill="#0a1220"/><rect x="492.4" y="422.2" width="4.2" height="4.2" fill="#16254c"/><rect x="496.0" y="422.2" width="4.2" height="4.2" fill="#233b77"/><rect x="499.6" y="422.2" width="4.2" height="4.2" fill="#162946"/><rect x="413.2" y="425.8" width="4.2" height="4.2" fill="#14253f"/><rect x="416.8" y="425.8" width="4.2" height="4.2" fill="#0d1828"/><rect x="420.4" y="425.8" width="4.2" height="4.2" fill="#0f1c30"/><rect x="424.0" y="425.8" width="4.2" height="4.2" fill="#070e18"/><rect x="427.6" y="425.8" width="4.2" height="4.2" fill="#204636"/><rect x="431.2" y="425.8" width="4.2" height="4.2" fill="#0c1526"/><rect x="434.8" y="425.8" width="4.2" height="4.2" fill="#142440"/><rect x="438.4" y="425.8" width="4.2" height="4.2" fill="#132a1f"/><rect x="442.0" y="425.8" width="4.2" height="4.2" fill="#152746"/><rect x="445.6" y="425.8" width="4.2" height="4.2" fill="#233b78"/><rect x="449.2" y="425.8" width="4.2" height="4.2" fill="#17294b"/><rect x="452.8" y="425.8" width="4.2" height="4.2" fill="#142440"/><rect x="456.4" y="425.8" width="4.2" height="4.2" fill="#101e35"/><rect x="460.0" y="425.8" width="4.2" height="4.2" fill="#233b78"/><rect x="463.6" y="425.8" width="4.2" height="4.2" fill="#070e19"/><rect x="467.2" y="425.8" width="4.2" height="4.2" fill="#213872"/><rect x="470.8" y="425.8" width="4.2" height="4.2" fill="#09111e"/><rect x="474.4" y="425.8" width="4.2" height="4.2" fill="#111f38"/><rect x="478.0" y="425.8" width="4.2" height="4.2" fill="#060b13"/><rect x="481.6" y="425.8" width="4.2" height="4.2" fill="#0d182b"/><rect x="485.2" y="425.8" width="4.2" height="4.2" fill="#0a1322"/><rect x="488.8" y="425.8" width="4.2" height="4.2" fill="#182c4e"/><rect x="492.4" y="425.8" width="4.2" height="4.2" fill="#0a1220"/><rect x="496.0" y="425.8" width="4.2" height="4.2" fill="#101e34"/><rect x="499.6" y="425.8" width="4.2" height="4.2" fill="#0e1b2e"/><rect x="413.2" y="429.4" width="4.2" height="4.2" fill="#102034"/><rect x="416.8" y="429.4" width="4.2" height="4.2" fill="#223973"/><rect x="420.4" y="429.4" width="4.2" height="4.2" fill="#12223b"/><rect x="424.0" y="429.4" width="4.2" height="4.2" fill="#0a1220"/><rect x="427.6" y="429.4" width="4.2" height="4.2" fill="#152643"/><rect x="431.2" y="429.4" width="4.2" height="4.2" fill="#101d32"/><rect x="434.8" y="429.4" width="4.2" height="4.2" fill="#050a11"/><rect x="438.4" y="429.4" width="4.2" height="4.2" fill="#224b39"/><rect x="442.0" y="429.4" width="4.2" height="4.2" fill="#183528"/><rect x="445.6" y="429.4" width="4.2" height="4.2" fill="#101d34"/><rect x="449.2" y="429.4" width="4.2" height="4.2" fill="#182852"/><rect x="452.8" y="429.4" width="4.2" height="4.2" fill="#0f1c31"/><rect x="456.4" y="429.4" width="4.2" height="4.2" fill="#0a1321"/><rect x="460.0" y="429.4" width="4.2" height="4.2" fill="#080e1a"/><rect x="463.6" y="429.4" width="4.2" height="4.2" fill="#111d3b"/><rect x="467.2" y="429.4" width="4.2" height="4.2" fill="#111d3c"/><rect x="470.8" y="429.4" width="4.2" height="4.2" fill="#101c33"/><rect x="474.4" y="429.4" width="4.2" height="4.2" fill="#1a2e54"/><rect x="478.0" y="429.4" width="4.2" height="4.2" fill="#101d34"/><rect x="481.6" y="429.4" width="4.2" height="4.2" fill="#1a2f56"/><rect x="485.2" y="429.4" width="4.2" height="4.2" fill="#1a3056"/><rect x="488.8" y="429.4" width="4.2" height="4.2" fill="#13233e"/><rect x="492.4" y="429.4" width="4.2" height="4.2" fill="#080f1b"/><rect x="496.0" y="429.4" width="4.2" height="4.2" fill="#101b37"/><rect x="499.6" y="429.4" width="4.2" height="4.2" fill="#0b1423"/><rect x="413.2" y="433.0" width="4.2" height="4.2" fill="#0f1d2e"/><rect x="416.8" y="433.0" width="4.2" height="4.2" fill="#03070b"/><rect x="420.4" y="433.0" width="4.2" height="4.2" fill="#233b76"/><rect x="424.0" y="433.0" width="4.2" height="4.2" fill="#1a2f52"/><rect x="427.6" y="433.0" width="4.2" height="4.2" fill="#101b37"/><rect x="431.2" y="433.0" width="4.2" height="4.2" fill="#080f1a"/><rect x="434.8" y="433.0" width="4.2" height="4.2" fill="#060b14"/><rect x="438.4" y="433.0" width="4.2" height="4.2" fill="#04070c"/><rect x="442.0" y="433.0" width="4.2" height="4.2" fill="#111d3b"/><rect x="445.6" y="433.0" width="4.2" height="4.2" fill="#1a392f"/><rect x="449.2" y="433.0" width="4.2" height="4.2" fill="#192d50"/><rect x="452.8" y="433.0" width="4.2" height="4.2" fill="#060c15"/><rect x="456.4" y="433.0" width="4.2" height="4.2" fill="#111f36"/><rect x="460.0" y="433.0" width="4.2" height="4.2" fill="#101d33"/><rect x="463.6" y="433.0" width="4.2" height="4.2" fill="#0a1323"/><rect x="467.2" y="433.0" width="4.2" height="4.2" fill="#0b1426"/><rect x="470.8" y="433.0" width="4.2" height="4.2" fill="#17294d"/><rect x="474.4" y="433.0" width="4.2" height="4.2" fill="#09101e"/><rect x="478.0" y="433.0" width="4.2" height="4.2" fill="#0b1425"/><rect x="481.6" y="433.0" width="4.2" height="4.2" fill="#0e1a2f"/><rect x="485.2" y="433.0" width="4.2" height="4.2" fill="#121e3d"/><rect x="488.8" y="433.0" width="4.2" height="4.2" fill="#182b4d"/><rect x="492.4" y="433.0" width="4.2" height="4.2" fill="#142541"/><rect x="496.0" y="433.0" width="4.2" height="4.2" fill="#132041"/><rect x="499.6" y="433.0" width="4.2" height="4.2" fill="#182d4d"/><rect x="413.2" y="436.6" width="4.2" height="4.2" fill="#1d3264"/><rect x="416.8" y="436.6" width="4.2" height="4.2" fill="#09111d"/><rect x="420.4" y="436.6" width="4.2" height="4.2" fill="#0b1423"/><rect x="424.0" y="436.6" width="4.2" height="4.2" fill="#0f1b2f"/><rect x="427.6" y="436.6" width="4.2" height="4.2" fill="#0c1627"/><rect x="431.2" y="436.6" width="4.2" height="4.2" fill="#16264d"/><rect x="434.8" y="436.6" width="4.2" height="4.2" fill="#152347"/><rect x="438.4" y="436.6" width="4.2" height="4.2" fill="#0e1a2e"/><rect x="442.0" y="436.6" width="4.2" height="4.2" fill="#101e34"/><rect x="445.6" y="436.6" width="4.2" height="4.2" fill="#182c4f"/><rect x="449.2" y="436.6" width="4.2" height="4.2" fill="#0d182b"/><rect x="452.8" y="436.6" width="4.2" height="4.2" fill="#050910"/><rect x="456.4" y="436.6" width="4.2" height="4.2" fill="#0e1830"/><rect x="460.0" y="436.6" width="4.2" height="4.2" fill="#1a2e53"/><rect x="463.6" y="436.6" width="4.2" height="4.2" fill="#15244a"/><rect x="467.2" y="436.6" width="4.2" height="4.2" fill="#050912"/><rect x="470.8" y="436.6" width="4.2" height="4.2" fill="#0c1527"/><rect x="474.4" y="436.6" width="4.2" height="4.2" fill="#0d182c"/><rect x="478.0" y="436.6" width="4.2" height="4.2" fill="#101b38"/><rect x="481.6" y="436.6" width="4.2" height="4.2" fill="#050a12"/><rect x="485.2" y="436.6" width="4.2" height="4.2" fill="#0a1323"/><rect x="488.8" y="436.6" width="4.2" height="4.2" fill="#192e52"/><rect x="492.4" y="436.6" width="4.2" height="4.2" fill="#0a1321"/><rect x="496.0" y="436.6" width="4.2" height="4.2" fill="#142245"/><rect x="499.6" y="436.6" width="4.2" height="4.2" fill="#101c38"/><rect x="413.2" y="440.2" width="4.2" height="4.2" fill="#13223d"/><rect x="416.8" y="440.2" width="4.2" height="4.2" fill="#182c4e"/><rect x="420.4" y="440.2" width="4.2" height="4.2" fill="#060c15"/><rect x="424.0" y="440.2" width="4.2" height="4.2" fill="#050910"/><rect x="427.6" y="440.2" width="4.2" height="4.2" fill="#192e50"/><rect x="431.2" y="440.2" width="4.2" height="4.2" fill="#152642"/><rect x="434.8" y="440.2" width="4.2" height="4.2" fill="#14253e"/><rect x="438.4" y="440.2" width="4.2" height="4.2" fill="#14253f"/><rect x="442.0" y="440.2" width="4.2" height="4.2" fill="#182953"/><rect x="445.6" y="440.2" width="4.2" height="4.2" fill="#0f1c31"/><rect x="449.2" y="440.2" width="4.2" height="4.2" fill="#1d3163"/><rect x="452.8" y="440.2" width="4.2" height="4.2" fill="#162847"/><rect x="456.4" y="440.2" width="4.2" height="4.2" fill="#1a2f56"/><rect x="460.0" y="440.2" width="4.2" height="4.2" fill="#1e3368"/><rect x="463.6" y="440.2" width="4.2" height="4.2" fill="#050910"/><rect x="467.2" y="440.2" width="4.2" height="4.2" fill="#20356c"/><rect x="470.8" y="440.2" width="4.2" height="4.2" fill="#111f36"/><rect x="474.4" y="440.2" width="4.2" height="4.2" fill="#0c1527"/><rect x="478.0" y="440.2" width="4.2" height="4.2" fill="#09101e"/><rect x="481.6" y="440.2" width="4.2" height="4.2" fill="#1c325c"/><rect x="485.2" y="440.2" width="4.2" height="4.2" fill="#050910"/><rect x="488.8" y="440.2" width="4.2" height="4.2" fill="#111d3c"/><rect x="492.4" y="440.2" width="4.2" height="4.2" fill="#182b4d"/><rect x="496.0" y="440.2" width="4.2" height="4.2" fill="#060b14"/><rect x="499.6" y="440.2" width="4.2" height="4.2" fill="#152844"/><rect x="413.2" y="443.8" width="4.2" height="4.2" fill="#0a1120"/><rect x="416.8" y="443.8" width="4.2" height="4.2" fill="#1d3163"/><rect x="420.4" y="443.8" width="4.2" height="4.2" fill="#12223c"/><rect x="424.0" y="443.8" width="4.2" height="4.2" fill="#0e1a2e"/><rect x="427.6" y="443.8" width="4.2" height="4.2" fill="#101b37"/><rect x="431.2" y="443.8" width="4.2" height="4.2" fill="#182c4b"/><rect x="434.8" y="443.8" width="4.2" height="4.2" fill="#0b1524"/><rect x="438.4" y="443.8" width="4.2" height="4.2" fill="#152844"/><rect x="442.0" y="443.8" width="4.2" height="4.2" fill="#182953"/><rect x="445.6" y="443.8" width="4.2" height="4.2" fill="#04070d"/><rect x="449.2" y="443.8" width="4.2" height="4.2" fill="#1a2f53"/><rect x="452.8" y="443.8" width="4.2" height="4.2" fill="#162848"/><rect x="456.4" y="443.8" width="4.2" height="4.2" fill="#101d35"/><rect x="460.0" y="443.8" width="4.2" height="4.2" fill="#20356c"/><rect x="463.6" y="443.8" width="4.2" height="4.2" fill="#101b37"/><rect x="467.2" y="443.8" width="4.2" height="4.2" fill="#14253f"/><rect x="470.8" y="443.8" width="4.2" height="4.2" fill="#0b1423"/><rect x="474.4" y="443.8" width="4.2" height="4.2" fill="#1a2f56"/><rect x="478.0" y="443.8" width="4.2" height="4.2" fill="#182a4e"/><rect x="481.6" y="443.8" width="4.2" height="4.2" fill="#0e192f"/><rect x="485.2" y="443.8" width="4.2" height="4.2" fill="#070d18"/><rect x="488.8" y="443.8" width="4.2" height="4.2" fill="#0e1832"/><rect x="492.4" y="443.8" width="4.2" height="4.2" fill="#0e1832"/><rect x="496.0" y="443.8" width="4.2" height="4.2" fill="#0e1a2d"/><rect x="499.6" y="443.8" width="4.2" height="4.2" fill="#080f19"/><rect x="413.2" y="447.4" width="4.2" height="4.2" fill="#0b1526"/><rect x="416.8" y="447.4" width="4.2" height="4.2" fill="#14243f"/><rect x="420.4" y="447.4" width="4.2" height="4.2" fill="#132143"/><rect x="424.0" y="447.4" width="4.2" height="4.2" fill="#152448"/><rect x="427.6" y="447.4" width="4.2" height="4.2" fill="#192e4e"/><rect x="431.2" y="447.4" width="4.2" height="4.2" fill="#223973"/><rect x="434.8" y="447.4" width="4.2" height="4.2" fill="#0a1421"/><rect x="438.4" y="447.4" width="4.2" height="4.2" fill="#182c4b"/><rect x="442.0" y="447.4" width="4.2" height="4.2" fill="#0e1a2e"/><rect x="445.6" y="447.4" width="4.2" height="4.2" fill="#0d172f"/><rect x="449.2" y="447.4" width="4.2" height="4.2" fill="#111c3a"/><rect x="452.8" y="447.4" width="4.2" height="4.2" fill="#1b3158"/><rect x="456.4" y="447.4" width="4.2" height="4.2" fill="#192d53"/><rect x="460.0" y="447.4" width="4.2" height="4.2" fill="#13233f"/><rect x="463.6" y="447.4" width="4.2" height="4.2" fill="#111f36"/><rect x="467.2" y="447.4" width="4.2" height="4.2" fill="#1c3060"/><rect x="470.8" y="447.4" width="4.2" height="4.2" fill="#0d192b"/><rect x="474.4" y="447.4" width="4.2" height="4.2" fill="#12213b"/><rect x="478.0" y="447.4" width="4.2" height="4.2" fill="#0f1933"/><rect x="481.6" y="447.4" width="4.2" height="4.2" fill="#070c17"/><rect x="485.2" y="447.4" width="4.2" height="4.2" fill="#243c7a"/><rect x="488.8" y="447.4" width="4.2" height="4.2" fill="#172750"/><rect x="492.4" y="447.4" width="4.2" height="4.2" fill="#111f36"/><rect x="496.0" y="447.4" width="4.2" height="4.2" fill="#152642"/><rect x="499.6" y="447.4" width="4.2" height="4.2" fill="#12223a"/><rect x="413.2" y="451.0" width="4.2" height="4.2" fill="#121e3c"/><rect x="416.8" y="451.0" width="4.2" height="4.2" fill="#182953"/><rect x="420.4" y="451.0" width="4.2" height="4.2" fill="#0f1c30"/><rect x="424.0" y="451.0" width="4.2" height="4.2" fill="#09101c"/><rect x="427.6" y="451.0" width="4.2" height="4.2" fill="#1a2c58"/><rect x="431.2" y="451.0" width="4.2" height="4.2" fill="#112036"/><rect x="434.8" y="451.0" width="4.2" height="4.2" fill="#04090f"/><rect x="438.4" y="451.0" width="4.2" height="4.2" fill="#0c1625"/><rect x="442.0" y="451.0" width="4.2" height="4.2" fill="#09111e"/><rect x="445.6" y="451.0" width="4.2" height="4.2" fill="#152744"/><rect x="449.2" y="451.0" width="4.2" height="4.2" fill="#060c15"/><rect x="452.8" y="451.0" width="4.2" height="4.2" fill="#192a55"/><rect x="456.4" y="451.0" width="4.2" height="4.2" fill="#16244a"/><rect x="460.0" y="451.0" width="4.2" height="4.2" fill="#1b3056"/><rect x="463.6" y="451.0" width="4.2" height="4.2" fill="#182952"/><rect x="467.2" y="451.0" width="4.2" height="4.2" fill="#1b2d5b"/><rect x="470.8" y="451.0" width="4.2" height="4.2" fill="#0c1726"/><rect x="474.4" y="451.0" width="4.2" height="4.2" fill="#101f34"/><rect x="478.0" y="451.0" width="4.2" height="4.2" fill="#132142"/><rect x="481.6" y="451.0" width="4.2" height="4.2" fill="#0e1b2e"/><rect x="485.2" y="451.0" width="4.2" height="4.2" fill="#172b4b"/><rect x="488.8" y="451.0" width="4.2" height="4.2" fill="#111f36"/><rect x="492.4" y="451.0" width="4.2" height="4.2" fill="#152642"/><rect x="496.0" y="451.0" width="4.2" height="4.2" fill="#1e3367"/><rect x="499.6" y="451.0" width="4.2" height="4.2" fill="#16254b"/><rect x="413.2" y="454.6" width="4.2" height="4.2" fill="#060b14"/><rect x="416.8" y="454.6" width="4.2" height="4.2" fill="#172750"/><rect x="420.4" y="454.6" width="4.2" height="4.2" fill="#142640"/><rect x="424.0" y="454.6" width="4.2" height="4.2" fill="#070e18"/><rect x="427.6" y="454.6" width="4.2" height="4.2" fill="#162945"/><rect x="431.2" y="454.6" width="4.2" height="4.2" fill="#03060b"/><rect x="434.8" y="454.6" width="4.2" height="4.2" fill="#09121d"/><rect x="438.4" y="454.6" width="4.2" height="4.2" fill="#0e1830"/><rect x="442.0" y="454.6" width="4.2" height="4.2" fill="#162946"/><rect x="445.6" y="454.6" width="4.2" height="4.2" fill="#1b2d5c"/><rect x="449.2" y="454.6" width="4.2" height="4.2" fill="#0e192c"/><rect x="452.8" y="454.6" width="4.2" height="4.2" fill="#20366d"/><rect x="456.4" y="454.6" width="4.2" height="4.2" fill="#080f1c"/><rect x="460.0" y="454.6" width="4.2" height="4.2" fill="#0c1527"/><rect x="463.6" y="454.6" width="4.2" height="4.2" fill="#0d182a"/><rect x="467.2" y="454.6" width="4.2" height="4.2" fill="#050a11"/><rect x="470.8" y="454.6" width="4.2" height="4.2" fill="#050a11"/><rect x="474.4" y="454.6" width="4.2" height="4.2" fill="#0f1c2e"/><rect x="478.0" y="454.6" width="4.2" height="4.2" fill="#14253d"/><rect x="481.6" y="454.6" width="4.2" height="4.2" fill="#1c2f5e"/><rect x="485.2" y="454.6" width="4.2" height="4.2" fill="#17274f"/><rect x="488.8" y="454.6" width="4.2" height="4.2" fill="#0c1728"/><rect x="492.4" y="454.6" width="4.2" height="4.2" fill="#09111d"/><rect x="496.0" y="454.6" width="4.2" height="4.2" fill="#0e192c"/><rect x="499.6" y="454.6" width="4.2" height="4.2" fill="#192f52"/><rect x="413.2" y="458.2" width="4.2" height="4.2" fill="#172a48"/><rect x="416.8" y="458.2" width="4.2" height="4.2" fill="#162845"/><rect x="420.4" y="458.2" width="4.2" height="4.2" fill="#122139"/><rect x="424.0" y="458.2" width="4.2" height="4.2" fill="#13223c"/><rect x="427.6" y="458.2" width="4.2" height="4.2" fill="#1a2b57"/><rect x="431.2" y="458.2" width="4.2" height="4.2" fill="#1d3161"/><rect x="434.8" y="458.2" width="4.2" height="4.2" fill="#04070c"/><rect x="438.4" y="458.2" width="4.2" height="4.2" fill="#080f1a"/><rect x="442.0" y="458.2" width="4.2" height="4.2" fill="#17264d"/><rect x="445.6" y="458.2" width="4.2" height="4.2" fill="#16254a"/><rect x="449.2" y="458.2" width="4.2" height="4.2" fill="#172750"/><rect x="452.8" y="458.2" width="4.2" height="4.2" fill="#070c16"/><rect x="456.4" y="458.2" width="4.2" height="4.2" fill="#233b77"/><rect x="460.0" y="458.2" width="4.2" height="4.2" fill="#080e1a"/><rect x="463.6" y="458.2" width="4.2" height="4.2" fill="#192e4f"/><rect x="467.2" y="458.2" width="4.2" height="4.2" fill="#1e3265"/><rect x="470.8" y="458.2" width="4.2" height="4.2" fill="#0d192b"/><rect x="474.4" y="458.2" width="4.2" height="4.2" fill="#20376e"/><rect x="478.0" y="458.2" width="4.2" height="4.2" fill="#08101a"/><rect x="481.6" y="458.2" width="4.2" height="4.2" fill="#0a1321"/><rect x="485.2" y="458.2" width="4.2" height="4.2" fill="#050a12"/><rect x="488.8" y="458.2" width="4.2" height="4.2" fill="#060b14"/><rect x="492.4" y="458.2" width="4.2" height="4.2" fill="#1d3164"/><rect x="496.0" y="458.2" width="4.2" height="4.2" fill="#112037"/><rect x="499.6" y="458.2" width="4.2" height="4.2" fill="#060b14"/></g></g>
<text x="423.39" y="339.30" transform="rotate(-90 423.39 339.30)" font-size="5.8" fill="#fff" text-anchor="middle" font-weight="bold" textLength="54.6" lengthAdjust="spacingAndGlyphs" stroke="#fff" stroke-width="0.3"><tspan font-style="italic">E<tspan font-size="5">μ</tspan>-TCL1</tspan> Dox 2 weeks</text>
<text x="489.20" y="366.42" font-size="5.6" fill="#fff" text-anchor="middle" font-weight="bold" textLength="17" lengthAdjust="spacingAndGlyphs" stroke="#fff" stroke-width="0.3">100μm</text>
<line x1="480.60" y1="367.90" x2="497.90" y2="367.90" stroke="#fff" stroke-width="0.9"  shape-rendering="crispEdges"/>
<text x="423.39" y="413.00" transform="rotate(-90 423.39 413.00)" font-size="5.8" fill="#fff" text-anchor="middle" font-weight="bold" textLength="79" lengthAdjust="spacingAndGlyphs" stroke="#fff" stroke-width="0.3"><tspan font-style="italic">iKdm1a<tspan font-size="3.5" dy="-1.8">KD</tspan><tspan dy="1.8">;E</tspan><tspan font-size="5">μ</tspan>-TCL1</tspan> Dox 2 weeks</text>
<text x="489.30" y="453.02" font-size="5.6" fill="#fff" text-anchor="middle" font-weight="bold" textLength="17" lengthAdjust="spacingAndGlyphs" stroke="#fff" stroke-width="0.3">100μm</text>
<line x1="480.80" y1="454.30" x2="497.80" y2="454.30" stroke="#fff" stroke-width="0.9"  shape-rendering="crispEdges"/>
<text x="511.38" y="375.00" transform="rotate(-90 511.38 375.00)" font-size="8" fill="#1e1e1e" text-anchor="middle" textLength="92" lengthAdjust="spacingAndGlyphs" stroke="#1e1e1e" stroke-width="0.3"><tspan fill="#7dc25a" stroke="#7dc25a">F4/80 </tspan><tspan fill="#e8341c" stroke="#e8341c">KDM1A </tspan><tspan fill="#3a57c8" stroke="#3a57c8">Hoechst</tspan></text>
<text x="11.10" y="508.22" font-size="12" fill="#111" text-anchor="middle" font-weight="bold" stroke="#111" stroke-width="0.3">F</text>
<text x="98.50" y="513.58" font-size="8" fill="#1e1e1e" text-anchor="middle" textLength="157" lengthAdjust="spacingAndGlyphs" stroke="#1e1e1e" stroke-width="0.3">Murine leukemic cells co-cultred with murine BMSCs</text>
<line x1="48.00" y1="539.00" x2="48.00" y2="633.00" stroke="#1e1e1e" stroke-width="0.9"  shape-rendering="crispEdges"/>
<line x1="45.00" y1="541.00" x2="48.00" y2="541.00" stroke="#111" stroke-width="0.9"  shape-rendering="crispEdges"/>
<text x="42.80" y="543.59" font-size="7.2" fill="#333" text-anchor="end" textLength="11.05" lengthAdjust="spacingAndGlyphs" stroke="#333" stroke-width="0.3">120</text>
<line x1="45.00" y1="564.00" x2="48.00" y2="564.00" stroke="#111" stroke-width="0.9"  shape-rendering="crispEdges"/>
<text x="42.80" y="566.59" font-size="7.2" fill="#333" text-anchor="end" textLength="11.05" lengthAdjust="spacingAndGlyphs" stroke="#333" stroke-width="0.3">100</text>
<line x1="45.00" y1="587.00" x2="48.00" y2="587.00" stroke="#111" stroke-width="0.9"  shape-rendering="crispEdges"/>
<text x="42.80" y="589.59" font-size="7.2" fill="#333" text-anchor="end" textLength="7.37" lengthAdjust="spacingAndGlyphs" stroke="#333" stroke-width="0.3">80</text>
<line x1="45.00" y1="610.00" x2="48.00" y2="610.00" stroke="#111" stroke-width="0.9"  shape-rendering="crispEdges"/>
<text x="42.80" y="612.59" font-size="7.2" fill="#333" text-anchor="end" textLength="7.37" lengthAdjust="spacingAndGlyphs" stroke="#333" stroke-width="0.3">60</text>
<line x1="45.00" y1="633.00" x2="48.00" y2="633.00" stroke="#111" stroke-width="0.9"  shape-rendering="crispEdges"/>
<text x="42.80" y="635.59" font-size="7.2" fill="#333" text-anchor="end" textLength="7.37" lengthAdjust="spacingAndGlyphs" stroke="#333" stroke-width="0.3">40</text>
<line x1="48.00" y1="633.00" x2="172.50" y2="633.00" stroke="#1e1e1e" stroke-width="0.9"  shape-rendering="crispEdges"/>
<line x1="67.50" y1="633.00" x2="67.50" y2="635.00" stroke="#1e1e1e" stroke-width="0.8"  shape-rendering="crispEdges"/>
<line x1="96.00" y1="633.00" x2="96.00" y2="635.00" stroke="#1e1e1e" stroke-width="0.8"  shape-rendering="crispEdges"/>
<line x1="125.00" y1="633.00" x2="125.00" y2="635.00" stroke="#1e1e1e" stroke-width="0.8"  shape-rendering="crispEdges"/>
<line x1="154.00" y1="633.00" x2="154.00" y2="635.00" stroke="#1e1e1e" stroke-width="0.8"  shape-rendering="crispEdges"/>
<circle cx="67.00" cy="551.70" r="2.1" fill="#8b86c6" />
<circle cx="63.30" cy="557.10" r="2.1" fill="#8b86c6" />
<circle cx="71.30" cy="557.10" r="2.1" fill="#8b86c6" />
<circle cx="59.30" cy="565.96" r="2.1" fill="#8b86c6" />
<circle cx="75.00" cy="565.15" r="2.1" fill="#8b86c6" />
<circle cx="67.50" cy="567.45" r="2.1" fill="#8b86c6" />
<circle cx="63.30" cy="575.73" r="2.1" fill="#8b86c6" />
<circle cx="71.30" cy="572.51" r="2.1" fill="#8b86c6" />
<line x1="67.50" y1="572.51" x2="67.50" y2="556.29" stroke="#8b86c6" stroke-width="1.1"  shape-rendering="crispEdges"/>
<line x1="64.00" y1="572.51" x2="71.00" y2="572.51" stroke="#8b86c6" stroke-width="1.1"  shape-rendering="crispEdges"/>
<line x1="64.00" y1="556.29" x2="71.00" y2="556.29" stroke="#8b86c6" stroke-width="1.1"  shape-rendering="crispEdges"/>
<line x1="58.50" y1="564.00" x2="76.50" y2="564.00" stroke="#8b86c6" stroke-width="1.1"  shape-rendering="crispEdges"/>
<circle cx="92.50" cy="569.98" r="2.1" fill="#e39b25" />
<circle cx="100.00" cy="569.98" r="2.1" fill="#e39b25" />
<circle cx="96.20" cy="574.35" r="2.1" fill="#e39b25" />
<circle cx="100.00" cy="578.72" r="2.1" fill="#e39b25" />
<circle cx="93.00" cy="581.25" r="2.1" fill="#e39b25" />
<circle cx="100.00" cy="582.98" r="2.1" fill="#e39b25" />
<circle cx="96.20" cy="591.25" r="2.1" fill="#e39b25" />
<circle cx="93.00" cy="605.75" r="2.1" fill="#e39b25" />
<circle cx="100.00" cy="604.48" r="2.1" fill="#e39b25" />
<line x1="96.00" y1="598.04" x2="96.00" y2="571.25" stroke="#e39b25" stroke-width="1.1"  shape-rendering="crispEdges"/>
<line x1="92.50" y1="598.04" x2="99.50" y2="598.04" stroke="#e39b25" stroke-width="1.1"  shape-rendering="crispEdges"/>
<line x1="92.50" y1="571.25" x2="99.50" y2="571.25" stroke="#e39b25" stroke-width="1.1"  shape-rendering="crispEdges"/>
<line x1="87.00" y1="584.47" x2="105.00" y2="584.47" stroke="#e39b25" stroke-width="1.1"  shape-rendering="crispEdges"/>
<circle cx="125.50" cy="566.30" r="2.1" fill="#d3157d" />
<circle cx="118.00" cy="570.56" r="2.1" fill="#d3157d" />
<circle cx="118.00" cy="576.31" r="2.1" fill="#d3157d" />
<circle cx="125.00" cy="576.31" r="2.1" fill="#d3157d" />
<circle cx="132.50" cy="582.40" r="2.1" fill="#d3157d" />
<circle cx="118.00" cy="582.40" r="2.1" fill="#d3157d" />
<circle cx="125.00" cy="592.52" r="2.1" fill="#d3157d" />
<circle cx="125.50" cy="609.54" r="2.1" fill="#d3157d" />
<line x1="125.00" y1="594.48" x2="125.00" y2="569.52" stroke="#d3157d" stroke-width="1.1"  shape-rendering="crispEdges"/>
<line x1="121.50" y1="594.48" x2="128.50" y2="594.48" stroke="#d3157d" stroke-width="1.1"  shape-rendering="crispEdges"/>
<line x1="121.50" y1="569.52" x2="128.50" y2="569.52" stroke="#d3157d" stroke-width="1.1"  shape-rendering="crispEdges"/>
<line x1="116.00" y1="582.40" x2="134.00" y2="582.40" stroke="#d3157d" stroke-width="1.1"  shape-rendering="crispEdges"/>
<circle cx="146.20" cy="574.47" r="2.1" fill="#5a3a1c" />
<circle cx="154.50" cy="572.05" r="2.1" fill="#5a3a1c" />
<circle cx="162.50" cy="574.81" r="2.1" fill="#5a3a1c" />
<circle cx="154.50" cy="582.98" r="2.1" fill="#5a3a1c" />
<circle cx="146.20" cy="589.99" r="2.1" fill="#5a3a1c" />
<circle cx="162.50" cy="589.99" r="2.1" fill="#5a3a1c" />
<circle cx="154.50" cy="585.85" r="2.1" fill="#5a3a1c" />
<circle cx="158.00" cy="606.78" r="2.1" fill="#5a3a1c" />
<circle cx="150.70" cy="610.46" r="2.1" fill="#5a3a1c" />
<line x1="154.00" y1="601.26" x2="154.00" y2="574.47" stroke="#5a3a1c" stroke-width="1.1"  shape-rendering="crispEdges"/>
<line x1="150.50" y1="601.26" x2="157.50" y2="601.26" stroke="#5a3a1c" stroke-width="1.1"  shape-rendering="crispEdges"/>
<line x1="150.50" y1="574.47" x2="157.50" y2="574.47" stroke="#5a3a1c" stroke-width="1.1"  shape-rendering="crispEdges"/>
<line x1="145.00" y1="588.15" x2="163.00" y2="588.15" stroke="#5a3a1c" stroke-width="1.1"  shape-rendering="crispEdges"/>
<text x="112.50" y="523.52" font-size="7" fill="#1e1e1e" text-anchor="middle" textLength="24" lengthAdjust="spacingAndGlyphs" stroke="#1e1e1e" stroke-width="0.3"><tspan font-style="italic">P</tspan> = .001</text>
<line x1="67.00" y1="526.00" x2="157.00" y2="526.00" stroke="#1e1e1e" stroke-width="0.8"  shape-rendering="crispEdges"/>
<line x1="67.00" y1="524.80" x2="67.00" y2="527.20" stroke="#1e1e1e" stroke-width="0.8"  shape-rendering="crispEdges"/>
<line x1="157.00" y1="524.80" x2="157.00" y2="527.20" stroke="#1e1e1e" stroke-width="0.8"  shape-rendering="crispEdges"/>
<text x="97.50" y="533.22" font-size="7" fill="#1e1e1e" text-anchor="middle" textLength="24" lengthAdjust="spacingAndGlyphs" stroke="#1e1e1e" stroke-width="0.3"><tspan font-style="italic">P</tspan> = .002</text>
<line x1="67.00" y1="535.80" x2="127.50" y2="535.80" stroke="#1e1e1e" stroke-width="0.8"  shape-rendering="crispEdges"/>
<line x1="67.00" y1="534.60" x2="67.00" y2="537.00" stroke="#1e1e1e" stroke-width="0.8"  shape-rendering="crispEdges"/>
<line x1="127.50" y1="534.60" x2="127.50" y2="537.00" stroke="#1e1e1e" stroke-width="0.8"  shape-rendering="crispEdges"/>
<text x="82.50" y="543.72" font-size="7" fill="#1e1e1e" text-anchor="middle" textLength="24" lengthAdjust="spacingAndGlyphs" stroke="#1e1e1e" stroke-width="0.3"><tspan font-style="italic">P</tspan> = .001</text>
<line x1="67.00" y1="546.20" x2="97.50" y2="546.20" stroke="#1e1e1e" stroke-width="0.8"  shape-rendering="crispEdges"/>
<line x1="67.00" y1="545.00" x2="67.00" y2="547.40" stroke="#1e1e1e" stroke-width="0.8"  shape-rendering="crispEdges"/>
<line x1="97.50" y1="545.00" x2="97.50" y2="547.40" stroke="#1e1e1e" stroke-width="0.8"  shape-rendering="crispEdges"/>
<text x="15.46" y="584.90" transform="rotate(-90 15.46 584.90)" font-size="8.5" fill="#1e1e1e" text-anchor="middle" textLength="103" lengthAdjust="spacingAndGlyphs" stroke="#1e1e1e" stroke-width="0.3">Viable murine leukemic cells (%)</text>
<text x="26.86" y="586.50" transform="rotate(-90 26.86 586.50)" font-size="8.5" fill="#1e1e1e" text-anchor="middle" textLength="52" lengthAdjust="spacingAndGlyphs" stroke="#1e1e1e" stroke-width="0.3">normalized to WT</text>
<text x="22.50" y="645.52" font-size="7" fill="#1e1e1e" text-anchor="middle" textLength="26" lengthAdjust="spacingAndGlyphs" stroke="#1e1e1e" stroke-width="0.3">leukemic</text>
<text x="22.50" y="653.82" font-size="7" fill="#1e1e1e" text-anchor="middle" textLength="15" lengthAdjust="spacingAndGlyphs" stroke="#1e1e1e" stroke-width="0.3">cells</text>
<text x="22.50" y="666.52" font-size="7" fill="#1e1e1e" text-anchor="middle" textLength="20" lengthAdjust="spacingAndGlyphs" stroke="#1e1e1e" stroke-width="0.3">feeder</text>
<text x="22.50" y="674.52" font-size="7" fill="#1e1e1e" text-anchor="middle" textLength="19" lengthAdjust="spacingAndGlyphs" stroke="#1e1e1e" stroke-width="0.3">BMSC</text>
<text x="67.50" y="648.02" font-size="7" fill="#1e1e1e" text-anchor="middle" font-style="italic" textLength="27" lengthAdjust="spacingAndGlyphs" stroke="#1e1e1e" stroke-width="0.3">Kdm1a<tspan font-size="4.5" dy="-2.4">wt</tspan></text>
<text x="67.50" y="655.54" font-size="7.6" fill="#1e1e1e" text-anchor="middle" textLength="16" lengthAdjust="spacingAndGlyphs" stroke="#1e1e1e" stroke-width="0.3">N = 2</text>
<text x="67.50" y="668.02" font-size="7" fill="#1e1e1e" text-anchor="middle" font-style="italic" textLength="27" lengthAdjust="spacingAndGlyphs" stroke="#1e1e1e" stroke-width="0.3">Kdm1a<tspan font-size="4.5" dy="-2.4">wt</tspan></text>
<text x="67.50" y="675.64" font-size="7.6" fill="#1e1e1e" text-anchor="middle" textLength="16" lengthAdjust="spacingAndGlyphs" stroke="#1e1e1e" stroke-width="0.3">N = 9</text>
<text x="96.00" y="648.02" font-size="7" fill="#1e1e1e" text-anchor="middle" font-style="italic" textLength="27" lengthAdjust="spacingAndGlyphs" stroke="#1e1e1e" stroke-width="0.3">Kdm1a<tspan font-size="4.5" dy="-2.4">KD</tspan></text>
<text x="96.00" y="655.54" font-size="7.6" fill="#1e1e1e" text-anchor="middle" textLength="16" lengthAdjust="spacingAndGlyphs" stroke="#1e1e1e" stroke-width="0.3">N = 2</text>
<text x="96.00" y="668.02" font-size="7" fill="#1e1e1e" text-anchor="middle" font-style="italic" textLength="27" lengthAdjust="spacingAndGlyphs" stroke="#1e1e1e" stroke-width="0.3">Kdm1a<tspan font-size="4.5" dy="-2.4">wt</tspan></text>
<text x="96.00" y="675.64" font-size="7.6" fill="#1e1e1e" text-anchor="middle" textLength="16" lengthAdjust="spacingAndGlyphs" stroke="#1e1e1e" stroke-width="0.3">N = 9</text>
<text x="125.00" y="648.02" font-size="7" fill="#1e1e1e" text-anchor="middle" font-style="italic" textLength="27" lengthAdjust="spacingAndGlyphs" stroke="#1e1e1e" stroke-width="0.3">Kdm1a<tspan font-size="4.5" dy="-2.4">wt</tspan></text>
<text x="125.00" y="655.54" font-size="7.6" fill="#1e1e1e" text-anchor="middle" textLength="16" lengthAdjust="spacingAndGlyphs" stroke="#1e1e1e" stroke-width="0.3">N = 2</text>
<text x="125.00" y="668.02" font-size="7" fill="#1e1e1e" text-anchor="middle" font-style="italic" textLength="27" lengthAdjust="spacingAndGlyphs" stroke="#1e1e1e" stroke-width="0.3">Kdm1a<tspan font-size="4.5" dy="-2.4">KD</tspan></text>
<text x="125.00" y="675.64" font-size="7.6" fill="#1e1e1e" text-anchor="middle" textLength="16" lengthAdjust="spacingAndGlyphs" stroke="#1e1e1e" stroke-width="0.3">N = 9</text>
<text x="154.00" y="648.02" font-size="7" fill="#1e1e1e" text-anchor="middle" font-style="italic" textLength="27" lengthAdjust="spacingAndGlyphs" stroke="#1e1e1e" stroke-width="0.3">Kdm1a<tspan font-size="4.5" dy="-2.4">KD</tspan></text>
<text x="154.00" y="655.54" font-size="7.6" fill="#1e1e1e" text-anchor="middle" textLength="16" lengthAdjust="spacingAndGlyphs" stroke="#1e1e1e" stroke-width="0.3">N = 2</text>
<text x="154.00" y="668.02" font-size="7" fill="#1e1e1e" text-anchor="middle" font-style="italic" textLength="27" lengthAdjust="spacingAndGlyphs" stroke="#1e1e1e" stroke-width="0.3">Kdm1a<tspan font-size="4.5" dy="-2.4">KD</tspan></text>
<text x="154.00" y="675.64" font-size="7.6" fill="#1e1e1e" text-anchor="middle" textLength="16" lengthAdjust="spacingAndGlyphs" stroke="#1e1e1e" stroke-width="0.3">N = 9</text>
<text x="199.50" y="508.32" font-size="12" fill="#111" text-anchor="middle" font-weight="bold" stroke="#111" stroke-width="0.3">G</text>
<text x="273.30" y="517.08" font-size="8" fill="#1e1e1e" text-anchor="middle" textLength="131" lengthAdjust="spacingAndGlyphs" stroke="#1e1e1e" stroke-width="0.3">CLL cells co-cultured with HS-5 stromal cells</text>
<line x1="224.30" y1="525.50" x2="224.30" y2="632.50" stroke="#1e1e1e" stroke-width="0.9"  shape-rendering="crispEdges"/>
<line x1="221.30" y1="527.50" x2="224.30" y2="527.50" stroke="#111" stroke-width="0.9"  shape-rendering="crispEdges"/>
<text x="219.10" y="530.09" font-size="7.2" fill="#333" text-anchor="end" textLength="11.05" lengthAdjust="spacingAndGlyphs" stroke="#333" stroke-width="0.3">100</text>
<line x1="221.30" y1="553.75" x2="224.30" y2="553.75" stroke="#111" stroke-width="0.9"  shape-rendering="crispEdges"/>
<text x="219.10" y="556.34" font-size="7.2" fill="#333" text-anchor="end" textLength="7.37" lengthAdjust="spacingAndGlyphs" stroke="#333" stroke-width="0.3">80</text>
<line x1="221.30" y1="580.00" x2="224.30" y2="580.00" stroke="#111" stroke-width="0.9"  shape-rendering="crispEdges"/>
<text x="219.10" y="582.59" font-size="7.2" fill="#333" text-anchor="end" textLength="7.37" lengthAdjust="spacingAndGlyphs" stroke="#333" stroke-width="0.3">60</text>
<line x1="221.30" y1="606.25" x2="224.30" y2="606.25" stroke="#111" stroke-width="0.9"  shape-rendering="crispEdges"/>
<text x="219.10" y="608.84" font-size="7.2" fill="#333" text-anchor="end" textLength="7.37" lengthAdjust="spacingAndGlyphs" stroke="#333" stroke-width="0.3">40</text>
<line x1="221.30" y1="632.50" x2="224.30" y2="632.50" stroke="#111" stroke-width="0.9"  shape-rendering="crispEdges"/>
<text x="219.10" y="635.09" font-size="7.2" fill="#333" text-anchor="end" textLength="7.37" lengthAdjust="spacingAndGlyphs" stroke="#333" stroke-width="0.3">20</text>
<line x1="224.30" y1="632.50" x2="344.00" y2="632.50" stroke="#1e1e1e" stroke-width="0.9"  shape-rendering="crispEdges"/>
<line x1="279.50" y1="532.50" x2="279.50" y2="636.00" stroke="#1e1e1e" stroke-width="0.9"  shape-rendering="crispEdges"/>
<line x1="254.00" y1="632.50" x2="254.00" y2="634.50" stroke="#1e1e1e" stroke-width="0.8"  shape-rendering="crispEdges"/>
<line x1="316.00" y1="632.50" x2="316.00" y2="634.50" stroke="#1e1e1e" stroke-width="0.8"  shape-rendering="crispEdges"/>
<polyline points="235.00,547.19 254.00,529.73 272.50,529.73" stroke="#1a1a1a" stroke-width="1.0" fill="none" />
<polyline points="235.00,547.19 254.00,533.14 272.50,533.14" stroke="#1a1a1a" stroke-width="1.0" fill="none" />
<polyline points="235.00,599.03 254.00,541.54 272.50,554.41" stroke="#1a1a1a" stroke-width="1.0" fill="none" />
<polyline points="235.00,601.00 254.00,541.54 272.50,555.72" stroke="#1a1a1a" stroke-width="1.0" fill="none" />
<polyline points="235.00,571.08 254.00,558.48 272.50,575.27" stroke="#1a1a1a" stroke-width="1.0" fill="none" />
<polyline points="235.00,602.97 254.00,564.12 272.50,571.08" stroke="#1a1a1a" stroke-width="1.0" fill="none" />
<polyline points="235.00,604.94 254.00,566.22 272.50,578.03" stroke="#1a1a1a" stroke-width="1.0" fill="none" />
<polyline points="235.00,610.98 254.00,573.96 272.50,583.67" stroke="#1a1a1a" stroke-width="1.0" fill="none" />
<polyline points="235.00,606.25 254.00,571.86 272.50,582.23" stroke="#1a1a1a" stroke-width="1.0" fill="none" />
<circle cx="235.00" cy="547.19" r="1.25" fill="#1a1a1a" />
<circle cx="254.00" cy="529.73" r="1.35" fill="#4a2a7a" />
<circle cx="272.50" cy="529.73" r="1.4" fill="#f2cf3a" />
<circle cx="235.00" cy="547.19" r="1.25" fill="#1a1a1a" />
<circle cx="254.00" cy="533.14" r="1.35" fill="#4a2a7a" />
<circle cx="272.50" cy="533.14" r="1.4" fill="#f2cf3a" />
<circle cx="235.00" cy="599.03" r="1.25" fill="#1a1a1a" />
<circle cx="254.00" cy="541.54" r="1.35" fill="#4a2a7a" />
<circle cx="272.50" cy="554.41" r="1.4" fill="#f2cf3a" />
<circle cx="235.00" cy="601.00" r="1.25" fill="#1a1a1a" />
<circle cx="254.00" cy="541.54" r="1.35" fill="#4a2a7a" />
<circle cx="272.50" cy="555.72" r="1.4" fill="#f2cf3a" />
<circle cx="235.00" cy="571.08" r="1.25" fill="#1a1a1a" />
<circle cx="254.00" cy="558.48" r="1.35" fill="#4a2a7a" />
<circle cx="272.50" cy="575.27" r="1.4" fill="#f2cf3a" />
<circle cx="235.00" cy="602.97" r="1.25" fill="#1a1a1a" />
<circle cx="254.00" cy="564.12" r="1.35" fill="#4a2a7a" />
<circle cx="272.50" cy="571.08" r="1.4" fill="#f2cf3a" />
<circle cx="235.00" cy="604.94" r="1.25" fill="#1a1a1a" />
<circle cx="254.00" cy="566.22" r="1.35" fill="#4a2a7a" />
<circle cx="272.50" cy="578.03" r="1.4" fill="#f2cf3a" />
<circle cx="235.00" cy="610.98" r="1.25" fill="#1a1a1a" />
<circle cx="254.00" cy="573.96" r="1.35" fill="#4a2a7a" />
<circle cx="272.50" cy="583.67" r="1.4" fill="#f2cf3a" />
<circle cx="235.00" cy="606.25" r="1.25" fill="#1a1a1a" />
<circle cx="254.00" cy="571.86" r="1.35" fill="#4a2a7a" />
<circle cx="272.50" cy="582.23" r="1.4" fill="#f2cf3a" />
<polyline points="295.00,570.81 315.00,561.49 334.00,578.03" stroke="#1a1a1a" stroke-width="1.0" fill="none" />
<polyline points="295.00,585.91 315.00,550.99 334.00,559.66" stroke="#1a1a1a" stroke-width="1.0" fill="none" />
<polyline points="295.00,599.03 315.00,555.46 334.00,567.53" stroke="#1a1a1a" stroke-width="1.0" fill="none" />
<polyline points="295.00,601.66 315.00,558.21 334.00,574.75" stroke="#1a1a1a" stroke-width="1.0" fill="none" />
<polyline points="295.00,604.28 315.00,563.46 334.00,581.97" stroke="#1a1a1a" stroke-width="1.0" fill="none" />
<polyline points="295.00,606.91 315.00,572.65 334.00,583.28" stroke="#1a1a1a" stroke-width="1.0" fill="none" />
<polyline points="295.00,611.50 315.00,573.96 334.00,578.03" stroke="#1a1a1a" stroke-width="1.0" fill="none" />
<polyline points="295.00,617.41 315.00,590.24 334.00,596.41" stroke="#1a1a1a" stroke-width="1.0" fill="none" />
<polyline points="295.00,626.59 315.00,592.34 334.00,596.41" stroke="#1a1a1a" stroke-width="1.0" fill="none" />
<circle cx="295.00" cy="570.81" r="1.25" fill="#1a1a1a" />
<circle cx="315.00" cy="561.49" r="1.35" fill="#4a2a7a" />
<circle cx="334.00" cy="578.03" r="1.4" fill="#f2cf3a" />
<circle cx="295.00" cy="585.91" r="1.25" fill="#1a1a1a" />
<circle cx="315.00" cy="550.99" r="1.35" fill="#4a2a7a" />
<circle cx="334.00" cy="559.66" r="1.4" fill="#f2cf3a" />
<circle cx="295.00" cy="599.03" r="1.25" fill="#1a1a1a" />
<circle cx="315.00" cy="555.46" r="1.35" fill="#4a2a7a" />
<circle cx="334.00" cy="567.53" r="1.4" fill="#f2cf3a" />
<circle cx="295.00" cy="601.66" r="1.25" fill="#1a1a1a" />
<circle cx="315.00" cy="558.21" r="1.35" fill="#4a2a7a" />
<circle cx="334.00" cy="574.75" r="1.4" fill="#f2cf3a" />
<circle cx="295.00" cy="604.28" r="1.25" fill="#1a1a1a" />
<circle cx="315.00" cy="563.46" r="1.35" fill="#4a2a7a" />
<circle cx="334.00" cy="581.97" r="1.4" fill="#f2cf3a" />
<circle cx="295.00" cy="606.91" r="1.25" fill="#1a1a1a" />
<circle cx="315.00" cy="572.65" r="1.35" fill="#4a2a7a" />
<circle cx="334.00" cy="583.28" r="1.4" fill="#f2cf3a" />
<circle cx="295.00" cy="611.50" r="1.25" fill="#1a1a1a" />
<circle cx="315.00" cy="573.96" r="1.35" fill="#4a2a7a" />
<circle cx="334.00" cy="578.03" r="1.4" fill="#f2cf3a" />
<circle cx="295.00" cy="617.41" r="1.25" fill="#1a1a1a" />
<circle cx="315.00" cy="590.24" r="1.35" fill="#4a2a7a" />
<circle cx="334.00" cy="596.41" r="1.4" fill="#f2cf3a" />
<circle cx="295.00" cy="626.59" r="1.25" fill="#1a1a1a" />
<circle cx="315.00" cy="592.34" r="1.35" fill="#4a2a7a" />
<circle cx="334.00" cy="596.41" r="1.4" fill="#f2cf3a" />
<line x1="253.00" y1="607.00" x2="272.50" y2="607.00" stroke="#1e1e1e" stroke-width="0.8"  shape-rendering="crispEdges"/>
<line x1="253.00" y1="605.80" x2="253.00" y2="608.20" stroke="#1e1e1e" stroke-width="0.8"  shape-rendering="crispEdges"/>
<line x1="272.50" y1="605.80" x2="272.50" y2="608.20" stroke="#1e1e1e" stroke-width="0.8"  shape-rendering="crispEdges"/>
<text x="263.00" y="616.32" font-size="7" fill="#1e1e1e" text-anchor="middle" textLength="24" lengthAdjust="spacingAndGlyphs" stroke="#1e1e1e" stroke-width="0.3"><tspan font-style="italic">P</tspan> = .012</text>
<line x1="315.50" y1="606.80" x2="335.00" y2="606.80" stroke="#1e1e1e" stroke-width="0.8"  shape-rendering="crispEdges"/>
<line x1="315.50" y1="605.60" x2="315.50" y2="608.00" stroke="#1e1e1e" stroke-width="0.8"  shape-rendering="crispEdges"/>
<line x1="335.00" y1="605.60" x2="335.00" y2="608.00" stroke="#1e1e1e" stroke-width="0.8"  shape-rendering="crispEdges"/>
<text x="325.60" y="616.32" font-size="7" fill="#1e1e1e" text-anchor="middle" textLength="24" lengthAdjust="spacingAndGlyphs" stroke="#1e1e1e" stroke-width="0.3"><tspan font-style="italic">P</tspan> = .004</text>
<text x="254.00" y="644.63" font-size="7.3" fill="#1e1e1e" text-anchor="middle" textLength="27" lengthAdjust="spacingAndGlyphs" stroke="#1e1e1e" stroke-width="0.3">48 hours</text>
<text x="316.00" y="644.63" font-size="7.3" fill="#1e1e1e" text-anchor="middle" textLength="27" lengthAdjust="spacingAndGlyphs" stroke="#1e1e1e" stroke-width="0.3">72 hours</text>
<text x="201.82" y="578.90" transform="rotate(-90 201.82 578.90)" font-size="8.4" fill="#1e1e1e" text-anchor="middle" textLength="50.8" lengthAdjust="spacingAndGlyphs" stroke="#1e1e1e" stroke-width="0.3">Cell viability (%)</text>
<line x1="224.00" y1="651.70" x2="233.50" y2="651.70" stroke="#1a1a1a" stroke-width="1.1"  shape-rendering="crispEdges"/>
<circle cx="228.70" cy="651.70" r="1.5" fill="#1a1a1a" />
<text x="236.80" y="654.29" font-size="7.2" fill="#1e1e1e" text-anchor="start" textLength="9.4" lengthAdjust="spacingAndGlyphs" stroke="#1e1e1e" stroke-width="0.3">CLL</text>
<line x1="224.00" y1="659.10" x2="233.50" y2="659.10" stroke="#1a1a1a" stroke-width="1.1"  shape-rendering="crispEdges"/>
<circle cx="228.70" cy="659.10" r="1.5" fill="#4a2a7a" />
<text x="236.80" y="661.69" font-size="7.2" fill="#1e1e1e" text-anchor="start" textLength="45.8" lengthAdjust="spacingAndGlyphs" stroke="#1e1e1e" stroke-width="0.3">CLL+HS-5-shCtrl.</text>
<line x1="224.00" y1="666.80" x2="233.50" y2="666.80" stroke="#1a1a1a" stroke-width="1.1"  shape-rendering="crispEdges"/>
<circle cx="228.70" cy="666.80" r="1.5" fill="#f2cf3a" />
<text x="236.80" y="669.39" font-size="7.2" fill="#1e1e1e" text-anchor="start" textLength="58" lengthAdjust="spacingAndGlyphs" stroke="#1e1e1e" stroke-width="0.3">CLL+HS-5-shKDM1A</text>
<text x="255.70" y="654.29" font-size="7.2" fill="#1e1e1e" text-anchor="start" textLength="15.2" lengthAdjust="spacingAndGlyphs" stroke="#1e1e1e" stroke-width="0.3">N = 9</text>
<text x="370.00" y="508.42" font-size="12" fill="#111" text-anchor="middle" font-weight="bold" stroke="#111" stroke-width="0.3">H</text>
<line x1="399.00" y1="508.00" x2="399.00" y2="592.00" stroke="#1e1e1e" stroke-width="0.9"  shape-rendering="crispEdges"/>
<line x1="396.00" y1="510.00" x2="399.00" y2="510.00" stroke="#111" stroke-width="0.9"  shape-rendering="crispEdges"/>
<text x="393.80" y="512.59" font-size="7.2" fill="#333" text-anchor="end" textLength="7.37" lengthAdjust="spacingAndGlyphs" stroke="#333" stroke-width="0.3">80</text>
<line x1="396.00" y1="530.50" x2="399.00" y2="530.50" stroke="#111" stroke-width="0.9"  shape-rendering="crispEdges"/>
<text x="393.80" y="533.09" font-size="7.2" fill="#333" text-anchor="end" textLength="7.37" lengthAdjust="spacingAndGlyphs" stroke="#333" stroke-width="0.3">60</text>
<line x1="396.00" y1="551.00" x2="399.00" y2="551.00" stroke="#111" stroke-width="0.9"  shape-rendering="crispEdges"/>
<text x="393.80" y="553.59" font-size="7.2" fill="#333" text-anchor="end" textLength="7.37" lengthAdjust="spacingAndGlyphs" stroke="#333" stroke-width="0.3">40</text>
<line x1="396.00" y1="571.50" x2="399.00" y2="571.50" stroke="#111" stroke-width="0.9"  shape-rendering="crispEdges"/>
<text x="393.80" y="574.09" font-size="7.2" fill="#333" text-anchor="end" textLength="7.37" lengthAdjust="spacingAndGlyphs" stroke="#333" stroke-width="0.3">20</text>
<line x1="396.00" y1="592.00" x2="399.00" y2="592.00" stroke="#111" stroke-width="0.9"  shape-rendering="crispEdges"/>
<text x="393.80" y="594.59" font-size="7.2" fill="#333" text-anchor="end" textLength="3.68" lengthAdjust="spacingAndGlyphs" stroke="#333" stroke-width="0.3">0</text>
<line x1="399.00" y1="592.00" x2="475.00" y2="592.00" stroke="#1e1e1e" stroke-width="0.9"  shape-rendering="crispEdges"/>
<line x1="415.00" y1="592.00" x2="415.00" y2="594.00" stroke="#1e1e1e" stroke-width="0.8"  shape-rendering="crispEdges"/>
<line x1="452.00" y1="592.00" x2="452.00" y2="594.00" stroke="#1e1e1e" stroke-width="0.8"  shape-rendering="crispEdges"/>
<text x="386.00" y="602.82" font-size="7" fill="#1e1e1e" text-anchor="middle" textLength="19" lengthAdjust="spacingAndGlyphs" stroke="#1e1e1e" stroke-width="0.3">THP-1</text>
<text x="415.50" y="602.82" font-size="7" fill="#1e1e1e" text-anchor="middle" textLength="19" lengthAdjust="spacingAndGlyphs" stroke="#1e1e1e" stroke-width="0.3">shCtrl.</text>
<text x="452.50" y="602.82" font-size="7" fill="#1e1e1e" text-anchor="middle" textLength="29" lengthAdjust="spacingAndGlyphs" stroke="#1e1e1e" stroke-width="0.3">shKDM1A</text>
<line x1="415.00" y1="529.48" x2="452.00" y2="580.01" stroke="#1a1a1a" stroke-width="1.0" />
<line x1="415.00" y1="532.55" x2="452.00" y2="552.54" stroke="#1a1a1a" stroke-width="1.0" />
<line x1="415.00" y1="547.00" x2="452.00" y2="555.51" stroke="#1a1a1a" stroke-width="1.0" />
<line x1="415.00" y1="548.75" x2="452.00" y2="553.05" stroke="#1a1a1a" stroke-width="1.0" />
<line x1="415.00" y1="556.23" x2="452.00" y2="561.97" stroke="#1a1a1a" stroke-width="1.0" />
<line x1="415.00" y1="558.79" x2="452.00" y2="562.99" stroke="#1a1a1a" stroke-width="1.0" />
<line x1="415.00" y1="561.25" x2="452.00" y2="569.55" stroke="#1a1a1a" stroke-width="1.0" />
<line x1="415.00" y1="564.53" x2="452.00" y2="572.52" stroke="#1a1a1a" stroke-width="1.0" />
<line x1="415.00" y1="557.66" x2="452.00" y2="566.89" stroke="#1a1a1a" stroke-width="1.0" />
<circle cx="415.00" cy="529.48" r="1.9" fill="#1b5297" />
<circle cx="452.00" cy="580.01" r="1.9" fill="#d20c36" />
<circle cx="415.00" cy="532.55" r="1.9" fill="#1b5297" />
<circle cx="452.00" cy="552.54" r="1.9" fill="#d20c36" />
<circle cx="415.00" cy="547.00" r="1.9" fill="#1b5297" />
<circle cx="452.00" cy="555.51" r="1.9" fill="#d20c36" />
<circle cx="415.00" cy="548.75" r="1.9" fill="#1b5297" />
<circle cx="452.00" cy="553.05" r="1.9" fill="#d20c36" />
<circle cx="415.00" cy="556.23" r="1.9" fill="#1b5297" />
<circle cx="452.00" cy="561.97" r="1.9" fill="#d20c36" />
<circle cx="415.00" cy="558.79" r="1.9" fill="#1b5297" />
<circle cx="452.00" cy="562.99" r="1.9" fill="#d20c36" />
<circle cx="415.00" cy="561.25" r="1.9" fill="#1b5297" />
<circle cx="452.00" cy="569.55" r="1.9" fill="#d20c36" />
<circle cx="415.00" cy="564.53" r="1.9" fill="#1b5297" />
<circle cx="452.00" cy="572.52" r="1.9" fill="#d20c36" />
<circle cx="415.00" cy="557.66" r="1.9" fill="#1b5297" />
<circle cx="452.00" cy="566.89" r="1.9" fill="#d20c36" />
<text x="435.00" y="523.52" font-size="7" fill="#1e1e1e" text-anchor="middle" textLength="24" lengthAdjust="spacingAndGlyphs" stroke="#1e1e1e" stroke-width="0.3"><tspan font-style="italic">P</tspan> = .004</text>
<text x="400.50" y="582.02" font-size="7" fill="#1e1e1e" text-anchor="start" textLength="28" lengthAdjust="spacingAndGlyphs" stroke="#1e1e1e" stroke-width="0.3">N = 9 CLL</text>
<text x="400.50" y="589.72" font-size="7" fill="#1e1e1e" text-anchor="start" textLength="54" lengthAdjust="spacingAndGlyphs" stroke="#1e1e1e" stroke-width="0.3">48 hours co-culture</text>
<text x="379.52" y="549.50" transform="rotate(-90 379.52 549.50)" font-size="8.4" fill="#1e1e1e" text-anchor="middle" textLength="59" lengthAdjust="spacingAndGlyphs" stroke="#1e1e1e" stroke-width="0.3">Ki-67<tspan font-size="5" dy="-2.8">+</tspan><tspan dy="2.8"> CLL cells (%)</tspan></text>
<text x="372.08" y="635.30" transform="rotate(-90 372.08 635.30)" font-size="8" fill="#1e1e1e" text-anchor="middle" textLength="18" lengthAdjust="spacingAndGlyphs" stroke="#1e1e1e" stroke-width="0.3">Count</text>
<rect x="377.5" y="615.3" width="57.1" height="36.9" fill="none" stroke="#aaa" stroke-width="0.6"/>
<rect x="435.6" y="615.3" width="59.3" height="36.9" fill="none" stroke="#aaa" stroke-width="0.6"/>
<polygon points="379.00,652.20 381.00,651.00 384.00,649.00 387.00,645.00 390.00,640.00 393.00,636.00 395.60,634.00 398.00,635.50 400.50,640.00 403.40,644.40 403.40,652.20" fill="#e3140f" />
<polygon points="403.40,652.20 403.40,644.40 405.00,633.00 406.50,626.00 407.90,623.60 409.50,626.00 412.00,630.00 415.00,635.00 418.00,639.50 421.00,643.00 424.00,646.50 427.30,649.30 430.00,650.80 434.00,651.60 434.00,652.20" fill="#5fb83c" />
<polyline points="381.00,651.00 384.00,649.00 387.00,645.00 390.00,640.00 393.00,636.00 395.60,634.00 398.00,635.50 400.50,640.00 403.40,644.40 403.40,644.40 405.00,633.00 406.50,626.00 407.90,623.60 409.50,626.00 412.00,630.00 415.00,635.00 418.00,639.50 421.00,643.00 424.00,646.50 427.30,649.30 430.00,650.80 434.00,651.60" stroke="#222" stroke-width="0.5" fill="none" />
<polygon points="437.50,652.20 440.00,648.00 442.00,640.00 444.00,634.00 446.80,630.00 449.00,633.00 451.00,638.00 453.30,641.80 456.00,640.00 458.50,634.00 460.50,627.00 462.40,620.50 462.40,652.20" fill="#e3140f" />
<polygon points="462.40,652.20 462.40,620.50 464.50,623.00 466.50,626.00 468.90,628.80 471.50,634.00 474.00,640.00 476.70,644.40 480.00,648.00 484.00,650.50 490.00,651.50 494.00,651.80 494.00,652.20" fill="#5fb83c" />
<polyline points="440.00,648.00 442.00,640.00 444.00,634.00 446.80,630.00 449.00,633.00 451.00,638.00 453.30,641.80 456.00,640.00 458.50,634.00 460.50,627.00 462.40,620.50 462.40,620.50 464.50,623.00 466.50,626.00 468.90,628.80 471.50,634.00 474.00,640.00 476.70,644.40 480.00,648.00 484.00,650.50 490.00,651.50 494.00,651.80" stroke="#222" stroke-width="0.5" fill="none" />
<line x1="376.70" y1="654.20" x2="478.00" y2="654.20" stroke="#111" stroke-width="1.3"  shape-rendering="crispEdges"/>
<text x="427.30" y="662.88" font-size="8" fill="#1e1e1e" text-anchor="middle" textLength="19" lengthAdjust="spacingAndGlyphs" stroke="#1e1e1e" stroke-width="0.3">Ki-67</text>
<line x1="404.00" y1="622.30" x2="434.60" y2="622.30" stroke="#111" stroke-width="0.9"  shape-rendering="crispEdges"/>
<line x1="404.00" y1="620.50" x2="404.00" y2="624.00" stroke="#111" stroke-width="0.8"  shape-rendering="crispEdges"/>
<text x="419.50" y="621.09" font-size="5.8" fill="#1e1e1e" text-anchor="middle" textLength="17" lengthAdjust="spacingAndGlyphs" stroke="#1e1e1e" stroke-width="0.3">60.21%</text>
<text x="417.00" y="628.79" font-size="5.8" fill="#1e1e1e" text-anchor="middle" textLength="15" lengthAdjust="spacingAndGlyphs" stroke="#1e1e1e" stroke-width="0.3">shCtrl.</text>
<line x1="462.40" y1="622.30" x2="494.90" y2="622.30" stroke="#111" stroke-width="0.9"  shape-rendering="crispEdges"/>
<line x1="462.40" y1="620.50" x2="462.40" y2="624.00" stroke="#111" stroke-width="0.8"  shape-rendering="crispEdges"/>
<text x="479.30" y="621.09" font-size="5.8" fill="#1e1e1e" text-anchor="middle" textLength="17" lengthAdjust="spacingAndGlyphs" stroke="#1e1e1e" stroke-width="0.3">39.33%</text>
<text x="478.00" y="628.79" font-size="5.8" fill="#1e1e1e" text-anchor="middle" textLength="22" lengthAdjust="spacingAndGlyphs" stroke="#1e1e1e" stroke-width="0.3">shKDM1A</text>
<rect x="0.7" y="0.7" width="518.6" height="683.6" fill="none" stroke="#000" stroke-width="1.5"/></svg></body></html>
